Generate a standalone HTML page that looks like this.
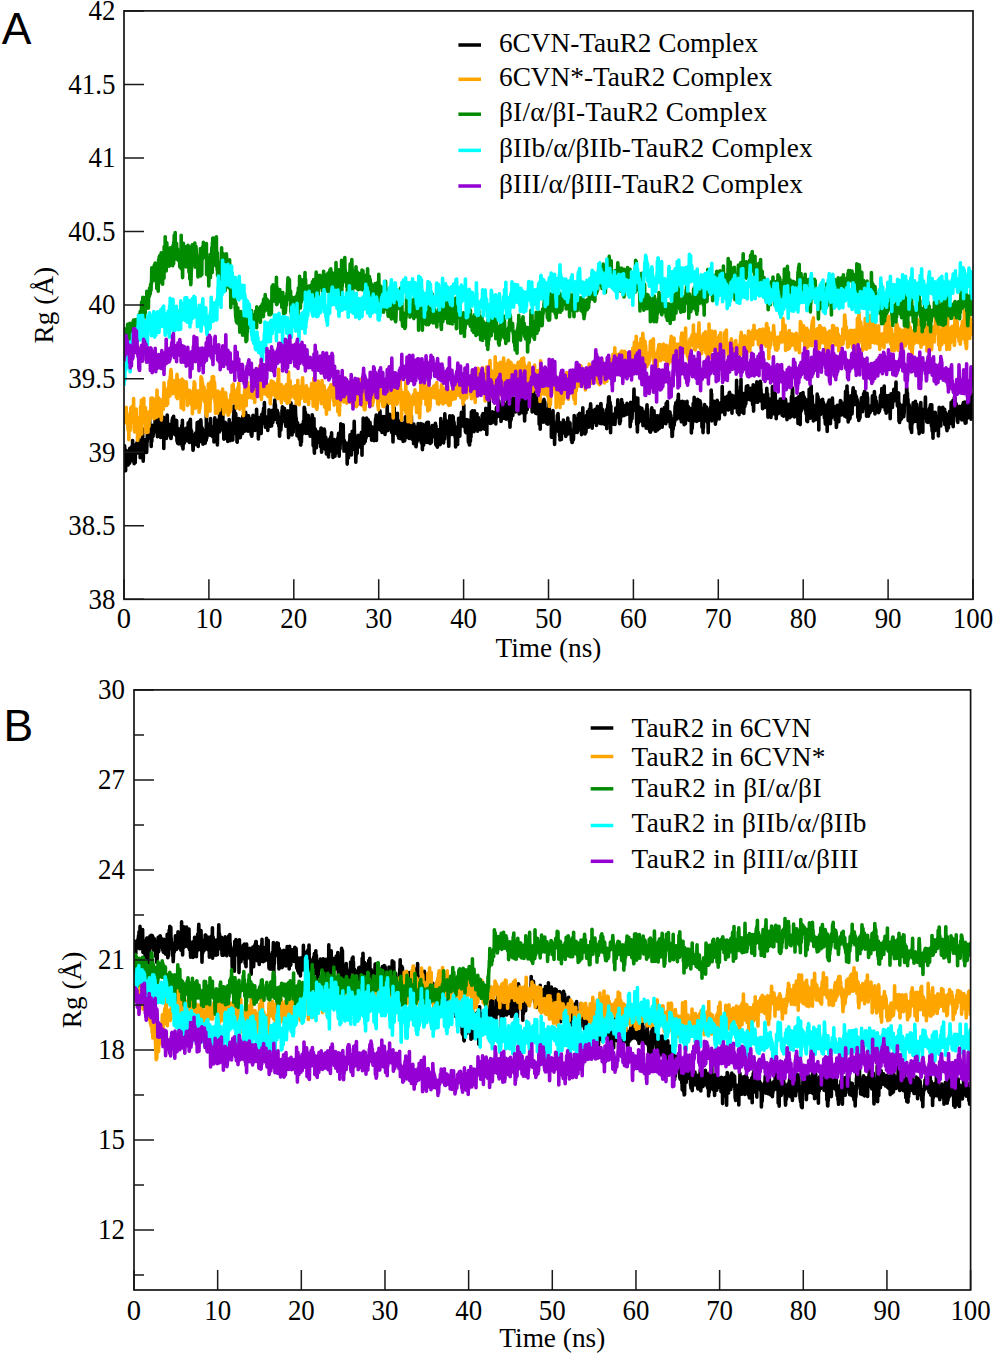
<!DOCTYPE html>
<html><head><meta charset="utf-8"><style>
html,body{margin:0;padding:0;background:#fff;width:995px;height:1354px;overflow:hidden}
svg{display:block}
.t{font-family:"Liberation Serif",serif;font-size:28.6px;fill:#000}
.l{font-family:"Liberation Serif",serif;font-size:27.3px;fill:#000}
.p{font-family:"Liberation Sans",sans-serif;font-size:44.5px;fill:#000}
</style></head><body>
<svg width="995" height="1354" viewBox="0 0 995 1354">
<rect width="995" height="1354" fill="#fff"/>
<clipPath id="clipA"><rect x="124" y="10.9" width="849" height="588.4"/></clipPath>
<g clip-path="url(#clipA)" fill="none" stroke-width="36" stroke-linejoin="round">
<path transform="translate(124 0) scale(.1)" d="M0 4625 l2 82 2 -74 2 -176 2 86 2 -12 2 27 2 18 2 132 2 -127 2 -33 2 -46 2 75 2 -16 2 -24 2 98 2 -66 2 -24 2 15 2 66 2 24 2 -26 2 18 2 -3 2 -25 2 13 2 -52 2 26 2 32 2 -151 2 99 2 -13 2 -36 2 53 2 17 2 -12 2 17 2 -36 2 -103 2 86 2 -7 2 -79 2 56 2 -119 2 205 2 -71 2 24 2 -113 2 -2 2 135 2 -4 2 58 2 -113 2 32 2 -46 2 25 2 92 2 -91 2 -53 2 11 2 -6 2 44 2 -91 2 33 2 13 2 -61 2 30 2 -7 2 81 2 -200 2 146 2 -17 2 -25 2 -56 2 122 2 -69 2 -22 2 33 2 -4 2 68 2 -68 2 139 2 -73 2 23 2 22 2 8 2 -81 2 1 2 23 2 -37 2 -65 2 69 2 20 2 -198 2 198 2 17 2 109 2 -71 2 -25 2 -63 2 -56 2 90 2 24 2 -19 2 32 2 -126 2 31 2 -7 2 88 2 -20 2 -3 2 -72 2 4 2 104 2 -53 2 -73 2 19 2 -108 2 78 2 -17 2 -103 2 -5 2 29 2 17 2 -5 2 27 2 19 2 -63 2 -126 2 166 2 -56 2 33 2 -14 2 26 2 18 2 44 2 88 2 -117 2 -34 2 101 2 -79 2 -33 2 -49 2 38 2 14 2 58 2 -33 2 9 2 -19 2 -5 2 -36 2 0 2 27 2 -47 2 25 2 29 2 -177 2 138 2 29 2 -8 2 11 2 -41 2 27 2 -24 2 -34 2 93 2 -63 2 102 2 -24 2 -5 2 -52 2 -4 2 -83 2 59 2 -137 2 180 2 -74 2 103 2 -24 2 -83 2 68 2 14 2 11 2 59 2 -115 2 32 2 4 2 24 2 -45 2 34 2 -32 2 -43 2 62 2 -4 2 30 2 2 2 29 2 -18 2 -162 2 312 2 -197 2 25 2 -73 2 31 2 -21 2 54 2 -108 2 1 2 59 2 41 2 -42 2 -78 2 207 2 -168 2 27 2 -42 2 -51 2 52 2 42 2 7 2 -13 2 100 2 -3 2 -82 2 -10 2 89 2 -56 2 -9 2 13 2 28 2 55 2 -24 2 2 2 -17 2 61 2 0 2 -20 2 -45 2 -1 2 -64 2 -18 2 -39 2 32 2 -51 2 60 2 -45 2 -15 2 24 2 -39 2 108 2 14 2 -29 2 32 2 -22 2 77 2 -31 2 -96 2 39 2 3 2 -55 2 130 2 -31 2 60 2 -157 2 109 2 98 2 -67 2 -53 2 138 2 -23 2 -55 2 -67 2 41 2 11 2 102 2 -127 2 38 2 59 2 -4 2 -34 2 -53 2 42 2 -1 2 0 2 -23 2 -48 2 75 2 -65 2 -24 2 -23 2 28 2 182 2 -258 2 166 2 -16 2 136 2 -57 2 1 2 -5 2 -57 2 -25 2 85 2 -75 2 30 2 -38 2 -21 2 6 2 8 2 -4 2 -1 2 -53 2 29 2 60 2 -10 2 10 2 35 2 -31 2 29 2 -62 2 -15 2 -18 2 -84 2 93 2 -43 2 94 2 33 2 -31 2 51 2 -135 2 -82 2 85 2 -29 2 -70 2 171 2 -79 2 65 2 -35 2 80 2 -84 2 93 2 4 2 -26 2 16 2 44 2 -6 2 67 2 -8 2 -80 2 -6 2 16 2 -60 2 79 2 -44 2 9 2 -63 2 -1 2 69 2 7 2 -91 2 53 2 46 2 -10 2 27 2 -116 2 60 2 -87 2 -78 2 32 2 120 2 -120 2 55 2 152 2 -126 2 -53 2 -66 2 43 2 -24 2 115 2 -83 2 -57 2 82 2 1 2 41 2 77 2 -216 2 27 2 111 2 -74 2 86 2 17 2 -29 2 -56 2 36 2 36 2 -22 2 113 2 -104 2 31 2 -54 2 34 2 38 2 -20 2 -63 2 14 2 6 2 3 2 104 2 -85 2 10 2 -3 2 -49 2 100 2 -308 2 289 2 -8 2 -92 2 35 2 8 2 25 2 -39 2 -4 2 -18 2 -16 2 -28 2 60 2 40 2 -108 2 11 2 24 2 -18 2 5 2 51 2 -60 2 -68 2 127 2 41 2 -50 2 -41 2 70 2 -56 2 2 2 -6 2 20 2 -23 2 99 2 -30 2 5 2 -4 2 -28 2 -7 2 115 2 -100 2 60 2 -123 2 -79 2 77 2 -1 2 15 2 2 2 91 2 18 2 11 2 18 2 -50 2 -2 2 -21 2 21 2 92 2 -131 2 -118 2 43 2 19 2 39 2 -57 2 11 2 43 2 22 2 -25 2 -160 2 139 2 36 2 -41 2 -118 2 86 2 14 2 -11 2 -43 2 -22 2 -70 2 -10 2 162 2 -78 2 4 2 -86 2 24 2 171 2 -39 2 19 2 -52 2 171 2 -120 2 10 2 -37 2 -13 2 84 2 -43 2 -48 2 75 2 57 2 -28 2 22 2 19 2 -28 2 -5 2 54 2 -96 2 30 2 -10 2 -73 2 173 2 -136 2 83 2 -71 2 20 2 -70 2 87 2 -131 2 117 2 8 2 -46 2 7 2 125 2 -124 2 84 2 -54 2 23 2 -48 2 19 2 -30 2 40 2 -86 2 45 2 -21 2 -26 2 172 2 -175 2 14 2 4 2 -88 2 33 2 -128 2 106 2 -62 2 138 2 -31 2 -1 2 -17 2 114 2 -173 2 8 2 115 2 -5 2 91 2 -68 2 -8 2 150 2 4 2 -86 2 41 2 -57 2 61 2 -93 2 -2 2 9 2 -110 2 67 2 -10 2 99 2 17 2 -7 2 -2 2 29 2 -13 2 -79 2 48 2 -62 2 -43 2 37 2 1 2 -78 2 -1 2 14 2 83 2 49 2 -170 2 13 2 24 2 -20 2 15 2 45 2 43 2 -79 2 37 2 -6 2 77 2 -58 2 -60 2 -18 2 -54 2 77 2 78 2 27 2 -31 2 -65 2 -34 2 -22 2 22 2 55 2 -24 2 28 2 79 2 -109 2 10 2 -57 2 53 2 -30 2 57 2 -33 2 -22 2 3 2 3 2 28 2 2 2 -16 2 95 2 17 2 34 2 -15 2 21 2 8 2 -26 2 -34 2 -14 2 -30 2 -45 2 -60 2 21 2 16 2 30 2 -16 2 31 2 -64 2 47 2 60 2 -44 2 70 2 -114 2 47 2 -68 2 61 2 -35 2 5 2 -30 2 -77 2 111 2 65 2 -102 2 59 2 -56 2 30 2 12 2 68 2 109 2 -132 2 90 2 -110 2 40 2 -67 2 -7 2 72 2 -38 2 67 2 -128 2 55 2 44 2 20 2 39 2 -149 2 -39 2 13 2 14 2 -32 2 65 2 27 2 -75 2 73 2 -119 2 91 2 -121 2 14 2 54 2 58 2 -183 2 187 2 -36 2 51 2 7 2 37 2 -46 2 -58 2 17 2 40 2 27 2 -14 2 -14 2 -14 2 51 2 -64 2 50 2 59 2 -84 2 9 2 -3 2 -2 2 -12 2 -114 2 115 2 38 2 -48 2 2 2 45 2 11 2 -73 2 28 2 17 2 -39 2 11 2 53 2 0 2 -40 2 -36 2 -79 2 16 2 89 2 15 2 -92 2 16 2 0 2 -9 2 9 2 -39 2 88 2 -158 2 40 2 -79 2 72 2 59 2 -85 2 89 2 1 2 -5 2 7 2 -14 2 -23 2 16 2 79 2 -94 2 95 2 33 2 -42 2 -62 2 49 2 -12 2 31 2 67 2 -41 2 -22 2 91 2 74 2 -109 2 8 2 -81 2 103 2 -8 2 24 2 -23 2 -37 2 5 2 -19 2 -31 2 -95 2 113 2 -146 2 98 2 -25 2 21 2 -36 2 -29 2 62 2 -33 2 -35 2 44 2 -50 2 107 2 -35 2 19 2 48 2 -7 2 -36 2 81 2 -67 2 62 2 -60 2 -48 2 17 2 -39 2 41 2 -10 2 29 2 -79 2 74 2 -8 2 139 2 64 2 -153 2 -31 2 23 2 86 2 -87 2 -37 2 42 2 -6 2 55 2 -68 2 86 2 -259 2 136 2 -17 2 20 2 51 2 133 2 -131 2 21 2 -108 2 23 2 10 2 157 2 -171 2 18 2 -15 2 19 2 -109 2 73 2 6 2 -27 2 25 2 -66 2 -9 2 82 2 15 2 71 2 -53 2 48 2 27 2 -3 2 105 2 -115 2 35 2 -50 2 57 2 -11 2 26 2 -47 2 113 2 -92 2 21 2 14 2 83 2 -52 2 -2 2 -27 2 4 2 74 2 60 2 1 2 -146 2 -53 2 170 2 -108 2 -58 2 79 2 10 2 -17 2 -2 2 -30 2 -19 2 -11 2 -51 2 40 2 -17 2 -9 2 -156 2 123 2 -112 2 61 2 2 2 37 2 -61 2 83 2 130 2 -164 2 85 2 4 2 -70 2 66 2 36 2 -16 2 -19 2 76 2 -157 2 71 2 -95 2 96 2 42 2 48 2 -84 2 20 2 -6 2 -58 2 1 2 88 2 62 2 -123 2 52 2 -16 2 -14 2 -10 2 -70 2 48 2 56 2 -36 2 -100 2 13 2 182 2 -42 2 37 2 119 2 -195 2 35 2 128 2 -240 2 292 2 55 2 -149 2 -1 2 9 2 -103 2 118 2 -69 2 81 2 22 2 -132 2 169 2 -146 2 30 2 24 2 -49 2 90 2 -15 2 12 2 -6 2 -21 2 -2 2 10 2 4 2 -49 2 -40 2 75 2 -74 2 17 2 27 2 -34 2 89 2 49 2 -146 2 -41 2 87 2 -86 2 241 2 -186 2 -4 2 52 2 96 2 -7 2 -30 2 -143 2 29 2 9 2 102 2 -35 2 46 2 -161 2 83 2 -68 2 185 2 -125 2 5 2 37 2 51 2 -87 2 126 2 -43 2 85 2 -49 2 -35 2 40 2 -43 2 36 2 -61 2 33 2 -21 2 -39 2 62 2 106 2 -167 2 68 2 46 2 2 2 -106 2 84 2 -33 2 -80 2 48 2 -31 2 -34 2 31 2 4 2 9 2 -81 2 103 2 22 2 -42 2 73 2 0 2 -22 2 112 2 -106 2 -56 2 15 2 53 2 -5 2 -68 2 -12 2 11 2 96 2 60 2 -55 2 -56 2 85 2 -84 2 -16 2 62 2 1 2 28 2 -77 2 17 2 -6 2 7 2 24 2 -105 2 -16 2 52 2 -58 2 -32 2 7 2 27 2 195 2 -129 2 -20 2 -7 2 83 2 -57 2 -97 2 26 2 -124 2 71 2 -2 2 99 2 -46 2 -88 2 99 2 -20 2 -25 2 67 2 -94 2 64 2 -115 2 118 2 61 2 -30 2 116 2 -111 2 43 2 -29 2 38 2 11 2 9 2 -11 2 21 2 11 2 -68 2 52 2 -42 2 37 2 -15 2 2 2 180 2 -165 2 -1 2 -32 2 74 2 -20 2 82 2 -62 2 -4 2 -35 2 -53 2 64 2 -88 2 11 2 -65 2 16 2 6 2 41 2 -54 2 74 2 24 2 95 2 -94 2 -15 2 42 2 -168 2 93 2 -15 2 30 2 -69 2 139 2 -90 2 71 2 -2 2 -76 2 -181 2 97 2 63 2 44 2 -5 2 73 2 -7 2 12 2 131 2 -101 2 -32 2 -30 2 82 2 -38 2 -89 2 117 2 -90 2 34 2 -90 2 29 2 -61 2 51 2 -49 2 1 2 100 2 -28 2 -53 2 16 2 -20 2 98 2 -72 2 -42 2 9 2 42 2 -41 2 -24 2 -17 2 8 2 46 2 174 2 -218 2 45 2 -49 2 60 2 23 2 -233 2 212 2 4 2 23 2 15 2 -88 2 -29 2 20 2 60 2 -22 2 41 2 -173 2 84 2 57 2 -3 2 -30 2 -39 2 -131 2 140 2 16 2 -27 2 2 2 -77 2 72 2 1 2 -109 2 152 2 -23 2 -68 2 52 2 43 2 -49 2 22 2 -67 2 -39 2 63 2 47 2 -43 2 61 2 -85 2 50 2 -21 2 108 2 -39 2 -3 2 -17 2 -72 2 99 2 -5 2 -6 2 -47 2 8 2 -16 2 88 2 -27 2 42 2 -106 2 32 2 -24 2 -18 2 80 2 -143 2 -39 2 26 2 -31 2 -34 2 254 2 -161 2 31 2 -24 2 -31 2 -33 2 44 2 43 2 -88 2 61 2 -25 2 25 2 -20 2 67 2 -82 2 49 2 -124 2 86 2 -114 2 101 2 31 2 -5 2 70 2 -71 2 -14 2 20 2 33 2 -48 2 99 2 -60 2 -50 2 34 2 -83 2 88 2 -71 2 12 2 -4 2 -16 2 29 2 -37 2 16 2 21 2 119 2 22 2 -97 2 -63 2 57 2 -13 2 -15 2 36 2 38 2 -46 2 59 2 8 2 -273 2 224 2 19 2 -21 2 4 2 44 2 -85 2 -25 2 24 2 -65 2 4 2 100 2 -6 2 -108 2 84 2 -81 2 48 2 24 2 3 2 -16 2 60 2 -74 2 49 2 85 2 -73 2 38 2 0 2 -62 2 45 2 146 2 -145 2 46 2 -122 2 45 2 -10 2 -156 2 216 2 23 2 17 2 -73 2 18 2 -37 2 -9 2 21 2 -44 2 19 2 59 2 -59 2 -5 2 57 2 -30 2 -119 2 199 2 17 2 -94 2 107 2 -72 2 32 2 61 2 -173 2 54 2 -33 2 104 2 50 2 -26 2 -123 2 89 2 -94 2 2 2 2 2 56 2 -41 2 140 2 -86 2 -46 2 48 2 -67 2 74 2 3 2 5 2 94 2 -116 2 -67 2 117 2 -57 2 110 2 -42 2 48 2 -7 2 -96 2 -15 2 -121 2 143 2 -83 2 43 2 16 2 -16 2 44 2 -113 2 73 2 -26 2 37 2 85 2 -16 2 -19 2 -110 2 7 2 13 2 111 2 27 2 -2 2 -91 2 55 2 -16 2 -48 2 24 2 5 2 -32 2 -21 2 -62 2 0 2 -37 2 162 2 -21 2 93 2 -35 2 -52 2 -16 2 48 2 23 2 -40 2 21 2 94 2 -195 2 34 2 112 2 -4 2 -66 2 -51 2 43 2 67 2 -40 2 45 2 -11 2 98 2 -19 2 -29 2 9 2 -59 2 48 2 -75 2 -69 2 33 2 33 2 5 2 -109 2 127 2 37 2 0 2 -57 2 -42 2 83 2 -31 2 41 2 -50 2 -22 2 77 2 -51 2 -113 2 71 2 26 2 97 2 -49 2 -36 2 49 2 -45 2 148 2 -120 2 -132 2 139 2 23 2 10 2 37 2 -122 2 -64 2 61 2 35 2 -38 2 85 2 11 2 -113 2 -52 2 100 2 61 2 -8 2 -95 2 -84 2 142 2 -3 2 55 2 -102 2 -100 2 53 2 125 2 -110 2 -32 2 -35 2 116 2 -6 2 67 2 16 2 -51 2 47 2 -18 2 41 2 -24 2 12 2 -9 2 -22 2 34 2 -6 2 1 2 -61 2 19 2 -99 2 -24 2 49 2 -17 2 -31 2 69 2 -32 2 33 2 38 2 -81 2 28 2 6 2 -68 2 7 2 45 2 -28 2 19 2 -60 2 74 2 139 2 -188 2 148 2 22 2 30 2 -22 2 -62 2 -30 2 127 2 -38 2 9 2 -122 2 57 2 5 2 -25 2 -15 2 -18 2 -29 2 129 2 -50 2 -55 2 15 2 112 2 -159 2 42 2 -144 2 88 2 2 2 -28 2 118 2 0 2 -93 2 -54 2 118 2 -53 2 28 2 20 2 -20 2 43 2 76 2 -111 2 -44 2 -31 2 40 2 107 2 -254 2 52 2 20 2 23 2 -23 2 -10 2 59 2 64 2 9 2 -120 2 30 2 -11 2 23 2 52 2 -44 2 36 2 35 2 2 2 32 2 58 2 39 2 -110 2 -4 2 -129 2 58 2 -121 2 158 2 32 2 -20 2 8 2 -7 2 -101 2 22 2 30 2 -33 2 70 2 -145 2 91 2 -104 2 75 2 55 2 56 2 -178 2 72 2 -18 2 81 2 -80 2 34 2 5 2 0 2 71 2 -65 2 110 2 -86 2 180 2 -152 2 -6 2 -27 2 133 2 -75 2 -11 2 -10 2 40 2 66 2 17 2 -165 2 94 2 -43 2 -78 2 -71 2 156 2 -14 2 4 2 -47 2 39 2 43 2 -82 2 -94 2 15 2 3 2 62 2 -63 2 -40 2 -40 2 37 2 -19 2 50 2 -2 2 -30 2 -37 2 78 2 -47 2 44 2 -77 2 -17 2 -55 2 156 2 64 2 -28 2 -18 2 -20 2 38 2 -36 2 111 2 -73 2 79 2 4 2 -24 2 -16 2 -6 2 -84 2 22 2 57 2 -30 2 9 2 -29 2 -24 2 129 2 92 2 -88 2 -23 2 10 2 25 2 104 2 0 2 -203 2 109 2 -63 2 119 2 -117 2 -3 2 79 2 -176 2 -77 2 108 2 -34 2 104 2 -128 2 -61 2 96 2 -23 2 -14 2 20 2 29 2 -43 2 -22 2 168 2 -117 2 -93 2 113 2 -37 2 -45 2 42 2 -43 2 86 2 -4 2 16 2 11 2 18 2 34 2 -80 2 -80 2 88 2 29 2 55 2 -116 2 -21 2 57 2 -55 2 53 2 8 2 -24 2 1 2 10 2 -18 2 0 2 35 2 -29 2 24 2 -11 2 73 2 -65 2 14 2 -4 2 0 2 43 2 -42 2 -90 2 31 2 21 2 2 2 -73 2 57 2 11 2 -42 2 47 2 -24 2 -45 2 80 2 72 2 -8 2 -37 2 32 2 9 2 -44 2 -160 2 61 2 53 2 -64 2 11 2 201 2 -164 2 23 2 -80 2 27 2 -38 2 63 2 -28 2 -18 2 56 2 -75 2 72 2 -187 2 127 2 11 2 95 2 4 2 -30 2 -10 2 -38 2 47 2 -11 2 40 2 -52 2 -24 2 67 2 -26 2 30 2 -107 2 60 2 0 2 11 2 -6 2 -44 2 55 2 -5 2 -32 2 -30 2 6 2 17 2 -7 2 -4 2 29 2 37 2 7 2 26 2 -120 2 25 2 -61 2 -8 2 74 2 -34 2 7 2 44 2 -21 2 11 2 -41 2 6 2 -108 2 29 2 -35 2 24 2 57 2 13 2 21 2 -15 2 -10 2 39 2 22 2 16 2 -42 2 83 2 -10 2 -122 2 -26 2 44 2 -24 2 36 2 31 2 -14 2 -14 2 -7 2 -106 2 149 2 -16 2 20 2 27 2 -93 2 2 2 -50 2 49 2 -42 2 14 2 2 2 9 2 63 2 54 2 -133 2 32 2 54 2 -64 2 -27 2 39 2 -72 2 -15 2 74 2 -29 2 50 2 50 2 -92 2 125 2 -78 2 63 2 44 2 2 2 -13 2 70 2 -73 2 19 2 -125 2 26 2 -25 2 101 2 -58 2 -89 2 34 2 -54 2 21 2 -58 2 73 2 92 2 -117 2 -61 2 145 2 -74 2 19 2 39 2 -43 2 36 2 -5 2 -2 2 -9 2 -18 2 45 2 10 2 -30 2 -108 2 66 2 42 2 -28 2 -24 2 39 2 -90 2 60 2 -43 2 -24 2 94 2 -21 2 36 2 -80 2 1 2 -22 2 151 2 -107 2 103 2 -102 2 3 2 60 2 -4 2 -75 2 29 2 24 2 -24 2 -18 2 25 2 25 2 -147 2 105 2 91 2 -90 2 32 2 -41 2 -8 2 36 2 -61 2 81 2 -21 2 -10 2 -20 2 185 2 -84 2 -134 2 104 2 -78 2 36 2 -31 2 106 2 -85 2 17 2 -4 2 -12 2 -68 2 120 2 -144 2 75 2 -73 2 -4 2 -5 2 79 2 -70 2 52 2 -7 2 -37 2 -127 2 45 2 81 2 -52 2 53 2 -32 2 128 2 -68 2 -14 2 40 2 -26 2 83 2 -17 2 3 2 59 2 -78 2 -135 2 65 2 -26 2 -28 2 51 2 -57 2 -90 2 249 2 -60 2 93 2 -34 2 -24 2 30 2 28 2 2 2 26 2 -50 2 -28 2 -96 2 179 2 -77 2 59 2 -36 2 8 2 10 2 -82 2 114 2 -14 2 -37 2 0 2 -13 2 24 2 -40 2 191 2 -184 2 -69 2 98 2 -50 2 255 2 -132 2 -36 2 -112 2 122 2 -70 2 -1 2 -45 2 64 2 6 2 -55 2 -2 2 97 2 35 2 -143 2 201 2 -131 2 -11 2 -3 2 -83 2 109 2 19 2 7 2 -111 2 200 2 -38 2 -38 2 55 2 10 2 -116 2 107 2 33 2 -10 2 -25 2 35 2 -54 2 -24 2 -48 2 136 2 -49 2 28 2 -51 2 -10 2 -26 2 -95 2 -24 2 139 2 66 2 -58 2 28 2 31 2 -14 2 21 2 -48 2 30 2 -54 2 218 2 -49 2 -57 2 19 2 -75 2 151 2 -155 2 35 2 -137 2 120 2 21 2 -2 2 -15 2 44 2 -28 2 69 2 131 2 -147 2 42 2 -73 2 18 2 -1 2 14 2 2 2 -14 2 -8 2 -47 2 38 2 -38 2 -29 2 -50 2 8 2 96 2 -120 2 41 2 137 2 -96 2 3 2 73 2 24 2 -74 2 119 2 -138 2 175 2 -96 2 -2 2 -7 2 -63 2 70 2 -58 2 150 2 -114 2 46 2 -62 2 -9 2 14 2 59 2 -51 2 55 2 -88 2 -43 2 60 2 -42 2 43 2 -41 2 52 2 -14 2 -21 2 14 2 9 2 -16 2 24 2 95 2 -69 2 -50 2 25 2 16 2 -42 2 -6 2 -12 2 27 2 89 2 -162 2 121 2 -87 2 12 2 -7 2 9 2 -8 2 45 2 -4 2 74 2 -98 2 -7 2 108 2 -9 2 -35 2 13 2 2 2 38 2 57 2 -65 2 23 2 63 2 -15 2 12 2 -48 2 -54 2 15 2 -15 2 77 2 -49 2 -47 2 -4 2 -141 2 112 2 38 2 -111 2 63 2 -28 2 -17 2 110 2 -96 2 70 2 -32 2 -37 2 -7 2 96 2 -35 2 36 2 5 2 -144 2 27 2 6 2 -64 2 117 2 -6 2 40 2 -1 2 -96 2 79 2 -148 2 56 2 75 2 -99 2 79 2 -26 2 23 2 -9 2 -51 2 37 2 128 2 -159 2 -28 2 -26 2 78 2 -48 2 -85 2 99 2 58 2 -66 2 18 2 20 2 -6 2 46 2 -9 2 54 2 -32 2 79 2 -72 2 18 2 -44 2 -31 2 112 2 -126 2 -41 2 29 2 55 2 -33 2 -29 2 8 2 -70 2 10 2 59 2 -4 2 68 2 23 2 -41 2 -83 2 9 2 -65 2 6 2 24 2 60 2 -77 2 -15 2 -50 2 31 2 82 2 -19 2 42 2 -66 2 19 2 20 2 134 2 -133 2 -6 2 66 2 -49 2 -19 2 82 2 -40 2 -29 2 -24 2 -30 2 36 2 80 2 3 2 -57 2 -46 2 -22 2 108 2 -31 2 46 2 -15 2 53 2 -4 2 -47 2 -44 2 -8 2 -89 2 90 2 2 2 -24 2 69 2 14 2 -40 2 45 2 -26 2 -36 2 -39 2 47 2 49 2 -12 2 33 2 -68 2 -13 2 -119 2 2 2 151 2 -58 2 -8 2 114 2 -71 2 -75 2 55 2 2 2 30 2 -14 2 61 2 -32 2 -54 2 61 2 37 2 -9 2 -13 2 -14 2 44 2 -32 2 -52 2 12 2 21 2 -53 2 23 2 -65 2 139 2 -131 2 182 2 -159 2 -44 2 45 2 -12 2 -65 2 -10 2 152 2 -165 2 -59 2 67 2 35 2 -106 2 74 2 8 2 50 2 -79 2 26 2 90 2 191 2 -268 2 113 2 -7 2 23 2 -40 2 54 2 -12 2 -32 2 12 2 30 2 -29 2 -1 2 73 2 -90 2 70 2 -61 2 -22 2 67 2 -19 2 12 2 -54 2 98 2 -53 2 -19 2 -2 2 -89 2 53 2 -10 2 -9 2 43 2 7 2 -50 2 -17 2 -5 2 -22 2 -72 2 111 2 -9 2 -6 2 62 2 -18 2 45 2 -46 2 80 2 18 2 0 2 -137 2 -31 2 148 2 -159 2 -14 2 24 2 54 2 43 2 -168 2 78 2 -34 2 98 2 -111 2 43 2 3 2 16 2 -36 2 66 2 -59 2 54 2 42 2 -13 2 -7 2 -24 2 -1 2 -8 2 -46 2 52 2 39 2 -32 2 -38 2 48 2 18 2 -17 2 -9 2 -85 2 18 2 0 2 28 2 11 2 6 2 -2 2 0 2 -20 2 68 2 1 2 -30 2 28 2 -80 2 77 2 21 2 108 2 -69 2 -176 2 107 2 88 2 -144 2 39 2 -41 2 31 2 85 2 -54 2 -58 2 17 2 -61 2 48 2 -47 2 72 2 -70 2 -58 2 -86 2 168 2 -6 2 8 2 44 2 -41 2 -92 2 19 2 10 2 55 2 -15 2 73 2 17 2 79 2 37 2 -25 2 -27 2 125 2 -118 2 -221 2 209 2 -7 2 48 2 -130 2 117 2 -55 2 39 2 -52 2 60 2 -137 2 96 2 -84 2 126 2 -83 2 49 2 -59 2 37 2 -42 2 3 2 -32 2 117 2 -66 2 -28 2 76 2 20 2 54 2 -16 2 11 2 -24 2 -12 2 9 2 -4 2 -95 2 3 2 -7 2 47 2 -35 2 59 2 -9 2 -31 2 6 2 124 2 -142 2 -57 2 25 2 -61 2 68 2 81 2 -106 2 39 2 49 2 59 2 31 2 2 2 4 2 17 2 -74 2 49 2 27 2 23 2 -42 2 -71 2 118 2 -91 2 -31 2 71 2 -63 2 90 2 2 2 -220 2 184 2 -64 2 -40 2 99 2 -51 2 36 2 -96 2 -1 2 49 2 -21 2 -67 2 58 2 10 2 -13 2 24 2 -31 2 158 2 -148 2 -2 2 88 2 60 2 -7 2 -18 2 -15 2 24 2 -81 2 61 2 -107 2 -10 2 139 2 -14 2 -62 2 -35 2 65 2 -30 2 -12 2 -26 2 40 2 59 2 -56 2 -36 2 -20 2 73 2 -90 2 99 2 -113 2 6 2 -23 2 -28 2 138 2 13 2 26 2 -80 2 50 2 -64 2 11 2 11 2 -60 2 -31 2 40 2 17 2 1 2 -91 2 23 2 25 2 66 2 -53 2 -39 2 90 2 50 2 -14 2 -191 2 73 2 -25 2 50 2 -29 2 -24 2 -62 2 199 2 -53 2 -38 2 44 2 -24 2 -21 2 -6 2 29 2 -27 2 13 2 47 2 14 2 -71 2 113 2 36 2 -35 2 -84 2 37 2 -12 2 94 2 -29 2 -3 2 127 2 -103 2 101 2 -101 2 -8 2 -2 2 41 2 -58 2 12 2 -11 2 -34 2 50 2 -65 2 10 2 18 2 -127 2 -26 2 -8 2 53 2 -78 2 29 2 87 2 -29 2 2 2 4 2 67 2 -154 2 -29 2 104 2 -69 2 43 2 -102 2 -38 2 189 2 -35 2 -41 2 19 2 56 2 -118 2 128 2 -60 2 46 2 -21 2 84 2 -57 2 34 2 24 2 26 2 -26 2 -4 2 -11 2 -133 2 -30 2 54 2 -43 2 31 2 64 2 -62 2 83 2 22 2 -146 2 230 2 -107 2 18 2 -51 2 23 2 -95 2 202 2 -105 2 -55 2 23 2 -41 2 61 2 -30 2 -54 2 -23 2 113 2 -35 2 37 2 5 2 -47 2 49 2 3 2 -71 2 69 2 69 2 -52 2 -40 2 19 2 63 2 -31 2 -72 2 37 2 42 2 42 2 -101 2 -25 2 243 2 -220 2 14 2 95 2 65 2 -56 2 -49 2 17 2 25 2 -185 2 108 2 63 2 -33 2 -104 2 -98 2 56 2 -19 2 -3 2 106 2 25 2 -57 2 -19 2 -29 2 100 2 -62 2 81 2 64 2 -85 2 12 2 -26 2 -39 2 -84 2 158 2 -155 2 136 2 -5 2 78 2 -75 2 4 2 27 2 19 2 -59 2 -89 2 -23 2 28 2 -13 2 10 2 67 2 9 2 -8 2 -4 2 61 2 -29 2 141 2 -147 2 -8 2 19 2 -48 2 239 2 -100 2 53 2 -120 2 47 2 -28 2 -77 2 26 2 -82 2 129 2 -60 2 54 2 -31 2 -1 2 21 2 47 2 -132 2 -2 2 26 2 76 2 -31 2 -44 2 128 2 -98 2 77 2 -1 2 124 2 -189 2 52 2 -23 2 -46 2 31 2 -50 2 53 2 7 2 -42 2 -21 2 -26 2 19 2 13 2 -16 2 -188 2 120 2 -83 2 272 2 -110 2 -61 2 12 2 -10 2 45 2 -33 2 21 2 -55 2 45 2 78 2 29 2 -159 2 109 2 -65 2 64 2 64 2 -47 2 105 2 -82 2 -43 2 94 2 -125 2 31 2 -12 2 -61 2 36 2 -76 2 104 2 -89 2 49 2 -20 2 40 2 -13 2 50 2 44 2 -26 2 46 2 -44 2 -68 2 -35 2 -7 2 -2 2 40 2 -12 2 45 2 -43 2 -41 2 98 2 -80 2 -10 2 15 2 -179 2 125 2 73 2 -101 2 127 2 30 2 -137 2 56 2 2 2 71 2 3 2 -56 2 -26 2 113 2 -47 2 -57 2 60 2 -14 2 -116 2 56 2 38 2 -3 2 -36 2 -51 2 48 2 -61 2 54 2 34 2 -65 2 53 2 53 2 7 2 -111 2 -27 2 67 2 -101 2 53 2 -56 2 50 2 30 2 34 2 -85 2 100 2 16 2 -2 2 25 2 -1 2 -26 2 -102 2 170 2 -179 2 110 2 18 2 -21 2 4 2 -22 2 21 2 -70 2 48 2 16 2 -20 2 -40 2 79 2 -91 2 -25 2 83 2 -11 2 -39 2 47 2 -16 2 -14 2 -16 2 -191 2 171 2 30 2 -56 2 177 2 -207 2 29 2 24 2 -60 2 108 2 -51 2 86 2 93 2 -149 2 11 2 -81 2 196 2 -91 2 -50 2 -13 2 -108 2 229 2 -299 2 247 2 -72 2 151 2 -156 2 19 2 12 2 29 2 23 2 -113 2 72 2 46 2 -37 2 24 2 96 2 -79 2 7 2 -90 2 36 2 58 2 -14 2 -81 2 37 2 19 2 9 2 -105 2 -32 2 -35 2 118 2 -68 2 57 2 -24 2 51 2 -131 2 -10 2 124 2 0 2 -3 2 2 2 -93 2 0 2 38 2 11 2 10 2 46 2 -27 2 -26 2 60 2 -25 2 -92 2 98 2 -13 2 14 2 -18 2 35 2 -43 2 -12 2 8 2 86 2 12 2 -91 2 -110 2 170 2 93 2 -145 2 -36 2 84 2 -32 2 14 2 26 2 -75 2 48 2 -21 2 48 2 -43 2 -19 2 6 2 -52 2 57 2 -152 2 158 2 -30 2 -23 2 98 2 -17 2 -139 2 26 2 -14 2 0 2 31 2 59 2 -8 2 27 2 20 2 -11 2 -92 2 -91 2 108 2 -98 2 62 2 11 2 46 2 67 2 -47 2 45 2 -26 2 46 2 -15 2 76 2 -139 2 43 2 -27 2 -12 2 15 2 9 2 50 2 -49 2 79 2 -53 2 59 2 12 2 -59 2 21 2 -78 2 11 2 35 2 -41 2 -31 2 17 2 -67 2 60 2 10 2 92 2 -107 2 113 2 122 2 -55 2 -24 2 -13 2 21 2 18 2 -133 2 84 2 -36 2 -2 2 42 2 -41 2 9 2 34 2 34 2 63 2 -143 2 -1 2 51 2 -55 2 -11 2 58 2 -208 2 16 2 110 2 57 2 -114 2 38 2 -90 2 141 2 -48 2 164 2 -20 2 -148 2 -19 2 45 2 -61 2 55 2 18 2 15 2 19 2 145 2 -108 2 1 2 -10 2 -23 2 -32 2 31 2 -8 2 -9 2 62 2 -4 2 50 2 -86 2 34 2 39 2 -27 2 29 2 -62 2 24 2 -49 2 -50 2 79 2 11 2 -2 2 -14 2 32 2 -61 2 -44 2 67 2 53 2 42 2 -72 2 27 2 -51 2 -25 2 3 2 97 2 30 2 -147 2 15 2 -35 2 -5 2 33 2 22 2 -7 2 -44 2 -2 2 6 2 27 2 116 2 -5 2 -40 2 58 2 -84 2 128 2 -85 2 15 2 -69 2 9 2 2 2 -25 2 68 2 -69 2 55 2 29 2 21 2 -19 2 14 2 33 2 -51 2 23 2 -94 2 -16 2 18 2 43 2 65 2 -195 2 97 2 -13 2 -101 2 -11 2 -31 2 -31 2 121 2 -29 2 18 2 42 2 108 2 -137 2 94 2 64 2 8 2 -84 2 14 2 -74 2 106 2 -117 2 57 2 24 2 -7 2 16 2 -5 2 -116 2 48 2 71 2 -102 2 50 2 21 2 45 2 119 2 -139 2 -90 2 -38 2 49 2 -49 2 45 2 -6 2 -2 2 7 2 0 2 234 2 -231 2 -77 2 52 2 36 2 87 2 -110 2 64 2 4 2 -71 2 -58 2 32 2 10 2 39 2 -97 2 94 2 -6 2 61 2 -113 2 70 2 27 2 -83 2 34 2 62 2 5 2 22 2 -38 2 -22 2 -43 2 141 2 -9 2 -54 2 -1 2 136 2 -74 2 -84 2 100 2 66 2 -130 2 -84 2 29 2 50 2 101 2 -173 2 33 2 -150 2 65 2 49 2 -56 2 63 2 169 2 -217 2 -36 2 30 2 -63 2 -36 2 178 2 77 2 -128 2 72 2 -102 2 61 2 11 2 14 2 69 2 12 2 84 2 -26 2 -71 2 14 2 -4 2 -20 2 75 2 -20 2 -100 2 16 2 -5 2 130 2 -12 2 -61 2 50 2 -57 2 -11 2 -6 2 -87 2 -73 2 163 2 -116 2 178 2 -200 2 109 2 78 2 -157 2 303 2 -218 2 -77 2 112 2 -82 2 -24 2 82 2 -90 2 91 2 52 2 -62 2 -6 2 -18 2 -50 2 26 2 -16 2 32 2 11 2 19 2 -87 2 36 2 59 2 -14 2 -50 2 109 2 -86 2 34 2 43 2 54 2 -23 2 -81 2 69 2 73 2 23 2 -62 2 37 2 -72 2 -67 2 35 2 3 2 -66 2 152 2 114 2 -178 2 -58 2 53 2 -46 2 -27 2 -37 2 110 2 -85 2 35 2 -81 2 47 2 79 2 -3 2 24 2 -33 2 123 2 -119 2 -46 2 -10 2 44 2 74 2 -102 2 75 2 -4 2 -73 2 -95 2 54 2 67 2 4 2 53 2 -14 2 -6 2 14 2 0 2 -14 2 -66 2 -3 2 8 2 46 2 74 2 -97 2 -10 2 72 2 -1 2 18 2 95 2 -29 2 -105 2 41 2 -130 2 94 2 -17 2 33 2 -37 2 17 2 40 2 -107 2 143 2 -96 2 5 2 1 2 -46 2 12 2 -54 2 12 2 -46 2 56 2 10 2 -60 2 89 2 49 2 -20 2 -30 2 21 2 -23 2 9 2 -18 2 -4 2 4 2 18 2 8 2 -53 2 19 2 -11 2 29 2 -66 2 -4 2 132 2 -99 2 4 2 -74 2 -79 2 77 2 -38 2 59 2 42 2 120 2 -220 2 -93 2 111 2 -54 2 179 2 13 2 -3 2 113 2 -109 2 -43 2 -29 2 101 2 0 2 -122 2 175 2 -40 2 31 2 -37 2 -87 2 47 2 -148 2 171 2 -137 2 125 2 -54 2 13 2 64 2 -49 2 -66 2 -4 2 -92 2 -33 2 -19 2 75 2 91 2 -85 2 40 2 -31 2 79 2 -41 2 -38 2 -53 2 114 2 -77 2 84 2 -81 2 79 2 -10 2 -55 2 32 2 34 2 -43 2 11 2 6 2 9 2 156 2 -130 2 63 2 6 2 37 2 56 2 -69 2 -38 2 95 2 -76 2 -34 2 94 2 -104 2 35 2 -40 2 -12 2 28 2 -44 2 -61 2 75 2 53 2 -76 2 42 2 5 2 39 2 -49 2 13 2 -43 2 -21 2 -78 2 93 2 -102 2 28 2 8 2 -54 2 21 2 86 2 46 2 -61 2 80 2 -96 2 5 2 -44 2 33 2 181 2 -164 2 -67 2 40 2 17 2 -13 2 97 2 79 2 -46 2 57 2 -102 2 83 2 -14 2 6 2 -69 2 32 2 26 2 -32 2 30 2 -29 2 -7 2 22 2 -51 2 17 2 -17 2 7 2 12 2 25 2 -61 2 -82 2 33 2 14 2 11 2 35 2 -44 2 -32 2 -9 2 92 2 -39 2 -104 2 139 2 6 2 78 2 -46 2 -122 2 111 2 -11 2 -18 2 -45 2 9 2 71 2 -45 2 48 2 -25 2 26 2 -7 2 -6 2 -13 2 -3 2 8 2 55 2 -25 2 -15 2 28 2 -7 2 -46 2 36 2 -37 2 12 2 -115 2 77 2 -81 2 -5 2 45 2 39 2 -18 2 -128 2 104 2 -87 2 61 2 104 2 -64 2 10 2 -52 2 -33 2 94 2 -45 2 -7 2 -110 2 137 2 -37 2 9 2 77 2 55 2 -8 2 -142 2 85 2 -14 2 110 2 -124 2 66 2 -57 2 13 2 64 2 -7 2 -23 2 -58 2 -8 2 10 2 -53 2 49 2 -6 2 -33 2 152 2 -70 2 -76 2 93 2 -16 2 137 2 -128 2 -101 2 3 2 -22 2 121 2 -44 2 57 2 -9 2 2 2 -14 2 24 2 -58 2 14 2 -74 2 -13 2 18 2 -27 2 -42 2 62 2 15 2 -39 2 -13 2 77 2 10 2 -31 2 -8 2 26 2 -103 2 -68 2 173 2 -30 2 -10 2 -24 2 30 2 39 2 60 2 -37 2 -94 2 72 2 22 2 -11 2 -80 2 180 2 100 2 -181 2 182 2 12 2 -46 2 14 2 5 2 -14 2 -25 2 38 2 -64 2 -66 2 57 2 62 2 -132 2 25 2 9 2 16 2 39 2 -19 2 -22 2 6 2 5 2 16 2 38 2 -29 2 -14 2 -92 2 -41 2 -34 2 68 2 -64 2 -1 2 27 2 53 2 -14 2 -51 2 49 2 -145 2 1 2 59 2 31 2 -41 2 75 2 27 2 -38 2 214 2 -114 2 14 2 -62 2 70 2 -63 2 25 2 72 2 -10 2 -5 2 -5 2 150 2 11 2 -36 2 -33 2 88 2 -25 2 42 2 -155 2 -3 2 27 2 40 2 -127 2 -15 2 -33 2 -30 2 38 2 50 2 13 2 5 2 -29 2 32 2 -34 2 -39 2 149 2 -147 2 -53 2 65 2 56 2 -46 2 -33 2 5 2 102 2 -121 2 82 2 -56 2 101 2 49 2 -22 2 -92 2 114 2 51 2 20 2 -56 2 52 2 51 2 -243 2 215 2 -126 2 -16 2 65 2 44 2 -69 2 -180 2 107 2 167 2 -104 2 47 2 32 2 -32 2 -57 2 44 2 54 2 39 2 -179 2 44 2 -39 2 -55 2 43 2 -2 2 -31 2 19 2 31 2 -37 2 33 2 -74 2 -105 2 146 2 -29 2 90 2 -36 2 19 2 0 2 59 2 -39 2 -7 2 -9 2 13 2 10 2 37 2 -91 2 60 2 -9 2 -27 2 -12 2 -43 2 -13 2 -10 2 13 2 9 2 61 2 -115 2 92 2 23 2 -8 2 -102 2 208 2 -56 2 -156 2 224 2 39 2 -92 2 48 2 -39 2 154 2 -259 2 16 2 38 2 25 2 -25 2 37 2 -28 2 44 2 -45 2 120 2 -182 2 61 2 19 2 76 2 -19 2 -21 2 -7 2 -26 2 -11 2 46 2 -34 2 55 2 -68 2 3 2 -36 2 54 2 143 2 -201 2 41 2 -42 2 -83 2 33 2 20 2 -52 2 14 2 30 2 86 2 -77 2 132 2 -144 2 25 2 44 2 -68 2 57 2 -22 2 -46 2 73 2 -28 2 -78 2 70 2 42 2 -79 2 -14 2 110 2 -37 2 -15 2 -30 2 -28 2 154 2 -123 2 76 2 -77 2 22 2 20 2 86 2 -26 2 -84 2 146 2 -124 2 144 2 -70 2 -4 2 0 2 -3 2 -40 2 43 2 48 2 -103 2 24 2 8 2 -6 2 -33 2 -56 2 123 2 -22 2 -60 2 43 2 -23 2 -66 2 23 2 -108 2 123 2 -37 2 0 2 -12 2 141 2 -123 2 4 2 60 2 -177 2 264 2 -134 2 -79 2 53 2 34 2 -98 2 -69 2 81 2 -27 2 -52 2 153 2 -11 2 -83 2 14 2 35 2 -45 2 47 2 6 2 -19 2 96 2 -6 2 51 2 -14 2 24 2 -109 2 49 2 -77 2 103 2 -47 2 19 2 17 2 -50 2 -66 2 42 2 8 2 38 2 0 2 -13 2 -9 2 15 2 -2 2 24 2 -84 2 117 2 -78 2 22 2 11 2 -10 2 -99 2 105 2 -61 2 -64 2 164 2 -78 2 -32 2 88 2 -55 2 -39 2 -53 2 192 2 19 2 -8 2 -19 2 -116 2 142 2 -101 2 -21 2 -8 2 24 2 -103 2 136 2 -131 2 153 2 -232 2 62 2 -38 2 173 2 -118 2 138 2 -2 2 -13 2 -102 2 88 2 -90 2 56 2 -126 2 7 2 41 2 51 2 119 2 -88 2 -134 2 148 2 -35 2 -39 2 132 2 -30 2 -200 2 180 2 -11" stroke="#000000"/>
<path transform="translate(124 0) scale(.1)" d="M0 4148 l2 47 2 35 2 -12 2 -23 2 16 2 16 2 -21 2 -36 2 -27 2 26 2 -96 2 98 2 -26 2 23 2 38 2 -7 2 -31 2 44 2 3 2 83 2 -96 2 -12 2 -4 2 211 2 -148 2 -14 2 28 2 -7 2 -69 2 -32 2 -26 2 59 2 111 2 -222 2 73 2 12 2 -36 2 -34 2 60 2 -86 2 10 2 44 2 -22 2 4 2 4 2 -44 2 94 2 -170 2 236 2 -133 2 124 2 -20 2 126 2 -135 2 113 2 -132 2 108 2 -112 2 16 2 -63 2 -23 2 142 2 32 2 34 2 22 2 -24 2 -107 2 215 2 -12 2 -8 2 -133 2 -52 2 54 2 -38 2 101 2 -116 2 167 2 -89 2 -105 2 25 2 151 2 -196 2 -89 2 0 2 8 2 26 2 -98 2 172 2 167 2 -247 2 44 2 -58 2 55 2 88 2 -78 2 -1 2 -73 2 51 2 -139 2 184 2 -34 2 100 2 -18 2 -7 2 -33 2 23 2 -25 2 -95 2 175 2 74 2 -70 2 13 2 -29 2 0 2 -32 2 37 2 -43 2 -16 2 13 2 122 2 -135 2 -64 2 27 2 62 2 53 2 -63 2 2 2 -77 2 74 2 -45 2 -48 2 26 2 19 2 -32 2 -136 2 141 2 -59 2 69 2 -155 2 137 2 -52 2 33 2 -19 2 -95 2 180 2 -69 2 -29 2 9 2 50 2 62 2 -87 2 -74 2 126 2 -3 2 6 2 -13 2 -41 2 -22 2 -2 2 -90 2 112 2 60 2 13 2 -91 2 -181 2 217 2 -5 2 -5 2 3 2 -20 2 -114 2 150 2 -65 2 99 2 -33 2 -25 2 -51 2 108 2 -80 2 -2 2 -82 2 74 2 -28 2 7 2 19 2 57 2 75 2 -156 2 1 2 34 2 -31 2 -42 2 10 2 -18 2 1 2 46 2 48 2 -138 2 21 2 -146 2 101 2 35 2 -70 2 103 2 -41 2 10 2 1 2 28 2 15 2 40 2 -23 2 5 2 22 2 -39 2 -34 2 -66 2 93 2 33 2 -104 2 -59 2 43 2 16 2 8 2 -34 2 -94 2 -10 2 30 2 95 2 -14 2 40 2 -193 2 81 2 -119 2 -26 2 -5 2 19 2 62 2 50 2 -22 2 17 2 -22 2 73 2 -7 2 18 2 51 2 -76 2 -54 2 84 2 -59 2 52 2 -17 2 -56 2 42 2 9 2 -4 2 49 2 -38 2 -4 2 7 2 8 2 -4 2 96 2 -84 2 -86 2 -59 2 66 2 180 2 -197 2 90 2 33 2 -24 2 53 2 -96 2 37 2 -19 2 8 2 -65 2 17 2 100 2 -43 2 16 2 -14 2 27 2 -22 2 -10 2 200 2 -177 2 16 2 -5 2 -123 2 134 2 -24 2 -3 2 -29 2 -65 2 124 2 -82 2 253 2 -158 2 -110 2 67 2 40 2 -19 2 18 2 34 2 -19 2 -62 2 -65 2 9 2 33 2 -49 2 18 2 129 2 -25 2 -51 2 47 2 -26 2 145 2 -82 2 25 2 -25 2 -10 2 -39 2 50 2 6 2 -30 2 62 2 -10 2 -96 2 8 2 0 2 8 2 6 2 -5 2 22 2 96 2 -72 2 78 2 -44 2 31 2 -43 2 148 2 -188 2 43 2 -63 2 83 2 -71 2 63 2 -133 2 15 2 -70 2 57 2 -26 2 -15 2 122 2 103 2 24 2 -55 2 -39 2 -3 2 -24 2 -23 2 86 2 -90 2 15 2 -15 2 18 2 5 2 50 2 -98 2 15 2 7 2 87 2 18 2 19 2 66 2 -106 2 78 2 -5 2 -49 2 23 2 -80 2 -18 2 36 2 -232 2 105 2 -9 2 -60 2 -20 2 94 2 -33 2 -19 2 65 2 -11 2 4 2 -23 2 60 2 -19 2 -34 2 3 2 56 2 90 2 -4 2 -48 2 -8 2 -48 2 87 2 41 2 103 2 -82 2 -31 2 11 2 -28 2 155 2 -156 2 56 2 -60 2 -15 2 55 2 12 2 19 2 -238 2 147 2 63 2 -29 2 33 2 25 2 -2 2 -42 2 78 2 -133 2 -34 2 52 2 -24 2 -154 2 69 2 50 2 33 2 -136 2 111 2 -177 2 138 2 60 2 -1 2 -63 2 -35 2 84 2 -182 2 91 2 60 2 17 2 -117 2 18 2 51 2 133 2 -90 2 91 2 111 2 -26 2 -174 2 105 2 37 2 54 2 -55 2 -37 2 -44 2 -27 2 166 2 -60 2 -163 2 61 2 39 2 31 2 -71 2 61 2 -22 2 44 2 49 2 -68 2 -15 2 -23 2 -18 2 -39 2 19 2 16 2 -51 2 78 2 -55 2 62 2 34 2 -32 2 -41 2 -79 2 103 2 -64 2 27 2 112 2 13 2 62 2 -48 2 -62 2 -50 2 22 2 -1 2 -52 2 76 2 -43 2 -57 2 48 2 -11 2 37 2 20 2 5 2 17 2 6 2 -50 2 84 2 42 2 -107 2 81 2 51 2 -49 2 46 2 -35 2 -7 2 -48 2 -49 2 72 2 -11 2 52 2 -81 2 19 2 42 2 -116 2 -42 2 33 2 47 2 -79 2 3 2 3 2 -97 2 10 2 13 2 90 2 -120 2 -5 2 186 2 -64 2 61 2 -83 2 62 2 -27 2 37 2 -105 2 119 2 -104 2 40 2 -62 2 109 2 -51 2 0 2 123 2 -73 2 5 2 23 2 3 2 -47 2 25 2 -53 2 -92 2 72 2 -48 2 47 2 -113 2 198 2 -18 2 37 2 43 2 -31 2 -66 2 76 2 -28 2 -32 2 20 2 -8 2 -20 2 -15 2 -29 2 28 2 -8 2 8 2 12 2 54 2 -6 2 -58 2 17 2 151 2 -12 2 -72 2 -30 2 -3 2 -99 2 -34 2 -18 2 33 2 62 2 -9 2 -90 2 8 2 16 2 148 2 -176 2 46 2 64 2 -37 2 16 2 -144 2 118 2 -41 2 -39 2 98 2 -70 2 52 2 27 2 -42 2 -51 2 8 2 50 2 19 2 -36 2 -16 2 34 2 1 2 38 2 -18 2 -82 2 18 2 -67 2 -59 2 75 2 73 2 -177 2 224 2 -38 2 -18 2 14 2 65 2 -55 2 25 2 32 2 -50 2 26 2 -61 2 122 2 -146 2 17 2 -1 2 -51 2 -126 2 94 2 -31 2 43 2 23 2 -9 2 -23 2 112 2 -121 2 66 2 2 2 62 2 29 2 -41 2 -31 2 -50 2 53 2 -50 2 -31 2 -32 2 -122 2 167 2 -15 2 -10 2 -14 2 15 2 -20 2 19 2 191 2 -87 2 -71 2 -29 2 74 2 -71 2 -86 2 56 2 159 2 -29 2 -70 2 -12 2 9 2 -41 2 54 2 -57 2 58 2 14 2 28 2 -35 2 -22 2 99 2 7 2 -45 2 -33 2 -3 2 16 2 -37 2 98 2 -51 2 18 2 -40 2 100 2 -67 2 -10 2 40 2 9 2 -65 2 26 2 21 2 -68 2 16 2 53 2 -42 2 144 2 16 2 -100 2 -74 2 -23 2 -24 2 -8 2 74 2 1 2 -33 2 12 2 -3 2 27 2 -51 2 110 2 -127 2 80 2 -19 2 -49 2 41 2 52 2 -62 2 21 2 -41 2 17 2 -21 2 26 2 48 2 55 2 -39 2 -2 2 -53 2 -6 2 39 2 9 2 7 2 14 2 51 2 -154 2 -45 2 82 2 -56 2 -122 2 163 2 -18 2 12 2 10 2 31 2 -8 2 -7 2 15 2 2 2 13 2 43 2 53 2 -155 2 183 2 -97 2 -30 2 46 2 21 2 -6 2 11 2 -52 2 -55 2 73 2 42 2 -60 2 39 2 6 2 -17 2 13 2 -16 2 34 2 -43 2 -46 2 114 2 -86 2 -49 2 18 2 -42 2 72 2 6 2 -83 2 143 2 48 2 -73 2 -32 2 57 2 -79 2 24 2 37 2 -246 2 281 2 -92 2 62 2 50 2 -101 2 21 2 17 2 -151 2 170 2 -56 2 -26 2 19 2 -13 2 4 2 -2 2 22 2 32 2 -31 2 -39 2 9 2 53 2 -41 2 12 2 -53 2 44 2 4 2 -13 2 32 2 43 2 -40 2 25 2 21 2 -127 2 81 2 -26 2 -22 2 57 2 14 2 76 2 -11 2 -92 2 26 2 26 2 -2 2 -20 2 -162 2 145 2 49 2 -80 2 6 2 28 2 9 2 88 2 -131 2 21 2 7 2 7 2 33 2 -2 2 6 2 0 2 -3 2 -122 2 67 2 -29 2 29 2 -16 2 -74 2 -34 2 -29 2 98 2 26 2 34 2 9 2 -33 2 -19 2 46 2 21 2 -6 2 -32 2 93 2 -53 2 -7 2 25 2 -83 2 115 2 -19 2 -68 2 -67 2 84 2 6 2 20 2 -9 2 -24 2 29 2 10 2 -43 2 52 2 -5 2 68 2 -86 2 -68 2 43 2 9 2 3 2 -10 2 10 2 -37 2 5 2 -15 2 2 2 -2 2 84 2 -87 2 -60 2 2 2 36 2 -19 2 11 2 4 2 23 2 -13 2 182 2 -32 2 -61 2 -185 2 243 2 -45 2 41 2 -188 2 153 2 -37 2 32 2 15 2 -47 2 15 2 25 2 7 2 86 2 -96 2 85 2 20 2 -90 2 49 2 -117 2 15 2 -118 2 -22 2 42 2 121 2 7 2 3 2 3 2 -10 2 17 2 -81 2 -20 2 59 2 -13 2 21 2 -38 2 -31 2 -9 2 155 2 -135 2 5 2 -101 2 57 2 -19 2 145 2 -111 2 79 2 -47 2 -10 2 58 2 -30 2 -40 2 -26 2 94 2 117 2 -51 2 -88 2 63 2 10 2 -99 2 103 2 -18 2 6 2 145 2 -127 2 36 2 17 2 -53 2 -48 2 -26 2 -10 2 122 2 -152 2 89 2 -23 2 46 2 -127 2 207 2 -213 2 -6 2 16 2 -2 2 12 2 -26 2 64 2 -91 2 23 2 60 2 9 2 -53 2 8 2 27 2 -46 2 -28 2 83 2 7 2 43 2 -114 2 141 2 -36 2 -42 2 -15 2 136 2 -147 2 -26 2 -69 2 -70 2 74 2 120 2 -41 2 52 2 -3 2 9 2 -45 2 50 2 -29 2 -46 2 -16 2 92 2 -91 2 251 2 -90 2 38 2 -60 2 40 2 48 2 -109 2 32 2 134 2 -111 2 30 2 -202 2 118 2 -10 2 -49 2 87 2 -31 2 -18 2 -57 2 4 2 14 2 38 2 -5 2 1 2 -42 2 41 2 -54 2 69 2 -41 2 -27 2 115 2 -15 2 -24 2 -130 2 104 2 -6 2 -165 2 129 2 89 2 -21 2 -55 2 0 2 0 2 -24 2 100 2 30 2 -111 2 57 2 -15 2 -123 2 96 2 -82 2 103 2 -83 2 23 2 9 2 48 2 -89 2 32 2 114 2 -151 2 19 2 100 2 -82 2 -28 2 158 2 -221 2 123 2 24 2 18 2 46 2 -43 2 -17 2 0 2 -11 2 -78 2 75 2 20 2 -45 2 88 2 -79 2 3 2 -16 2 -23 2 19 2 46 2 -26 2 127 2 -112 2 -40 2 38 2 78 2 -25 2 73 2 -75 2 -123 2 101 2 -73 2 98 2 -89 2 45 2 95 2 -92 2 -10 2 -5 2 -32 2 -21 2 -1 2 -23 2 -8 2 9 2 -20 2 -51 2 54 2 46 2 -85 2 125 2 -99 2 78 2 84 2 -180 2 145 2 96 2 -13 2 -2 2 -67 2 -48 2 -2 2 29 2 -81 2 124 2 52 2 -17 2 65 2 -125 2 22 2 103 2 -67 2 -42 2 -118 2 92 2 9 2 63 2 -46 2 -57 2 -27 2 26 2 45 2 -63 2 -70 2 39 2 -2 2 -51 2 30 2 41 2 -27 2 -52 2 -17 2 70 2 52 2 -17 2 -25 2 -68 2 112 2 -6 2 35 2 -7 2 -8 2 17 2 -69 2 103 2 38 2 -49 2 74 2 -49 2 16 2 3 2 -108 2 88 2 -57 2 -42 2 78 2 -75 2 61 2 -63 2 -45 2 44 2 -130 2 177 2 -127 2 61 2 -93 2 164 2 -79 2 42 2 9 2 -6 2 25 2 19 2 -67 2 138 2 31 2 -111 2 138 2 -120 2 16 2 -12 2 -18 2 47 2 3 2 -8 2 -67 2 -57 2 89 2 -7 2 -42 2 5 2 -85 2 19 2 62 2 62 2 -80 2 63 2 23 2 -46 2 117 2 -64 2 13 2 -119 2 175 2 -120 2 46 2 -17 2 17 2 19 2 35 2 -89 2 -27 2 43 2 -45 2 -24 2 -50 2 18 2 21 2 114 2 -83 2 66 2 -43 2 36 2 14 2 -111 2 12 2 120 2 1 2 -67 2 30 2 13 2 38 2 -26 2 -1 2 -45 2 -12 2 -13 2 55 2 13 2 -21 2 -15 2 29 2 35 2 -12 2 -174 2 130 2 21 2 -30 2 -24 2 71 2 60 2 106 2 -205 2 -85 2 16 2 108 2 -27 2 3 2 -106 2 25 2 45 2 -41 2 -56 2 -26 2 71 2 2 2 119 2 -6 2 -21 2 47 2 -82 2 73 2 -60 2 -13 2 27 2 -33 2 -64 2 53 2 -20 2 -26 2 -26 2 -96 2 113 2 77 2 -70 2 -34 2 -83 2 187 2 -7 2 -66 2 118 2 46 2 1 2 143 2 -171 2 16 2 -28 2 -11 2 21 2 -99 2 96 2 38 2 -50 2 36 2 -49 2 95 2 -47 2 -27 2 -75 2 62 2 -63 2 -31 2 88 2 20 2 -202 2 315 2 -123 2 -38 2 0 2 16 2 -5 2 -54 2 -11 2 216 2 -29 2 111 2 -122 2 52 2 -43 2 -164 2 105 2 -10 2 31 2 56 2 -55 2 1 2 -30 2 71 2 -71 2 1 2 184 2 -131 2 -107 2 101 2 -119 2 8 2 31 2 -15 2 -17 2 34 2 18 2 -61 2 62 2 -84 2 5 2 42 2 -7 2 59 2 -48 2 -13 2 -84 2 129 2 -42 2 33 2 -28 2 -2 2 -31 2 28 2 139 2 -105 2 -19 2 28 2 23 2 -58 2 -61 2 93 2 -29 2 -5 2 -24 2 138 2 -73 2 -25 2 -51 2 222 2 -35 2 -111 2 -102 2 47 2 69 2 -218 2 8 2 58 2 -24 2 88 2 5 2 -4 2 4 2 0 2 -36 2 36 2 17 2 -22 2 -105 2 61 2 -7 2 -50 2 109 2 -74 2 -25 2 -39 2 81 2 -49 2 9 2 57 2 9 2 113 2 -3 2 -50 2 -18 2 -22 2 -34 2 63 2 38 2 -71 2 159 2 -113 2 -82 2 -55 2 52 2 108 2 -75 2 11 2 63 2 78 2 -142 2 115 2 -66 2 -13 2 -105 2 42 2 -4 2 -16 2 29 2 26 2 -31 2 15 2 27 2 -91 2 51 2 34 2 -61 2 -24 2 74 2 -94 2 21 2 23 2 0 2 42 2 -37 2 29 2 39 2 -130 2 44 2 29 2 -13 2 62 2 -70 2 53 2 -43 2 -87 2 167 2 -9 2 29 2 25 2 -43 2 -89 2 121 2 -105 2 75 2 45 2 -59 2 -27 2 29 2 0 2 21 2 -24 2 42 2 -57 2 20 2 1 2 -40 2 -21 2 -66 2 -11 2 71 2 33 2 41 2 -60 2 -25 2 -31 2 162 2 -75 2 -12 2 58 2 -62 2 54 2 -7 2 -26 2 3 2 49 2 -70 2 -49 2 3 2 96 2 -31 2 -8 2 -1 2 65 2 -216 2 156 2 -86 2 115 2 -83 2 104 2 -144 2 131 2 12 2 -25 2 -11 2 74 2 -4 2 -21 2 -33 2 -35 2 75 2 -119 2 132 2 -42 2 -6 2 -13 2 3 2 -36 2 8 2 -16 2 1 2 36 2 -10 2 20 2 -24 2 -165 2 187 2 -41 2 -27 2 -17 2 -2 2 83 2 -37 2 -10 2 -6 2 53 2 -40 2 40 2 -21 2 -15 2 -14 2 -19 2 6 2 -18 2 -11 2 55 2 -91 2 45 2 -6 2 -18 2 10 2 57 2 -55 2 59 2 -60 2 30 2 -111 2 44 2 -60 2 -72 2 82 2 48 2 -41 2 133 2 -106 2 137 2 -88 2 -68 2 -14 2 -69 2 89 2 8 2 21 2 -29 2 5 2 11 2 200 2 -236 2 -14 2 21 2 83 2 78 2 29 2 -98 2 35 2 -45 2 75 2 -92 2 -51 2 -61 2 143 2 63 2 2 2 -96 2 0 2 102 2 -183 2 67 2 1 2 -12 2 -36 2 79 2 -56 2 57 2 -28 2 -15 2 -81 2 0 2 24 2 -23 2 91 2 -84 2 2 2 84 2 -81 2 164 2 -19 2 -82 2 139 2 -14 2 -114 2 -51 2 83 2 -183 2 189 2 -25 2 -103 2 47 2 -35 2 2 2 20 2 47 2 -16 2 43 2 -49 2 15 2 46 2 135 2 -222 2 66 2 -68 2 -110 2 201 2 22 2 -33 2 -43 2 38 2 -20 2 -25 2 63 2 -47 2 -157 2 -6 2 197 2 -16 2 20 2 -121 2 10 2 80 2 -47 2 37 2 -33 2 -22 2 1 2 -9 2 -15 2 60 2 -86 2 57 2 -33 2 -43 2 89 2 -118 2 -14 2 68 2 -18 2 17 2 26 2 0 2 20 2 26 2 25 2 74 2 -56 2 25 2 -22 2 -20 2 167 2 -57 2 -68 2 -76 2 81 2 -87 2 -57 2 -75 2 22 2 214 2 -174 2 -43 2 -18 2 72 2 -49 2 28 2 -16 2 27 2 29 2 -18 2 136 2 -176 2 -11 2 5 2 -93 2 164 2 -43 2 -12 2 50 2 -5 2 143 2 -198 2 220 2 51 2 -83 2 19 2 -38 2 -5 2 114 2 -98 2 -77 2 110 2 -22 2 -136 2 37 2 57 2 -59 2 23 2 -10 2 -63 2 -178 2 229 2 42 2 35 2 -212 2 56 2 -48 2 107 2 29 2 15 2 -127 2 -58 2 111 2 -76 2 153 2 -94 2 -34 2 -10 2 273 2 -251 2 21 2 -63 2 30 2 -8 2 78 2 22 2 -163 2 159 2 -87 2 -62 2 130 2 -103 2 93 2 -51 2 37 2 154 2 -140 2 6 2 -77 2 37 2 -91 2 42 2 -90 2 53 2 13 2 63 2 -33 2 16 2 -58 2 145 2 -33 2 26 2 43 2 -36 2 -87 2 56 2 -44 2 -27 2 80 2 -47 2 42 2 3 2 -108 2 26 2 -14 2 -57 2 0 2 103 2 71 2 15 2 -72 2 22 2 -99 2 16 2 -26 2 77 2 91 2 -14 2 -165 2 35 2 15 2 -36 2 85 2 -77 2 11 2 72 2 71 2 -100 2 -7 2 12 2 43 2 -18 2 9 2 169 2 -159 2 -67 2 -24 2 162 2 -149 2 68 2 24 2 4 2 141 2 -131 2 -32 2 102 2 -140 2 17 2 -18 2 39 2 -50 2 -8 2 104 2 -134 2 -26 2 47 2 -53 2 51 2 -48 2 81 2 -44 2 -7 2 0 2 0 2 68 2 -6 2 -45 2 -22 2 -44 2 134 2 -48 2 -35 2 -23 2 -48 2 126 2 -93 2 3 2 60 2 -39 2 74 2 -2 2 -101 2 -34 2 121 2 -76 2 125 2 -106 2 31 2 64 2 -13 2 -23 2 33 2 79 2 -6 2 33 2 -15 2 -27 2 -6 2 -25 2 -102 2 101 2 27 2 -20 2 -39 2 62 2 64 2 -64 2 -47 2 -43 2 -28 2 -51 2 76 2 17 2 -23 2 2 2 0 2 -10 2 -13 2 2 2 54 2 62 2 -103 2 89 2 -103 2 27 2 113 2 -66 2 158 2 -17 2 -176 2 112 2 -114 2 27 2 9 2 11 2 15 2 -24 2 -104 2 146 2 -38 2 -53 2 84 2 -6 2 47 2 -30 2 95 2 -131 2 96 2 -125 2 -16 2 14 2 -23 2 22 2 62 2 -16 2 -73 2 43 2 -5 2 28 2 -35 2 53 2 63 2 43 2 -83 2 202 2 -157 2 -50 2 -201 2 255 2 -32 2 112 2 -88 2 5 2 -2 2 -156 2 54 2 63 2 -35 2 -9 2 -38 2 87 2 -25 2 -54 2 -18 2 50 2 167 2 -140 2 50 2 -1 2 55 2 -37 2 -50 2 11 2 -98 2 78 2 11 2 -86 2 132 2 50 2 11 2 -10 2 42 2 -4 2 -139 2 145 2 -54 2 -34 2 14 2 133 2 -52 2 -93 2 188 2 -49 2 -299 2 244 2 -21 2 106 2 -80 2 -40 2 -6 2 -120 2 73 2 23 2 45 2 -18 2 -80 2 -16 2 1 2 -18 2 -45 2 79 2 -36 2 -41 2 5 2 22 2 -101 2 86 2 50 2 55 2 -128 2 77 2 -58 2 71 2 22 2 33 2 173 2 -156 2 39 2 18 2 -83 2 42 2 -20 2 -15 2 61 2 -79 2 62 2 -10 2 -27 2 13 2 -13 2 -25 2 16 2 30 2 30 2 117 2 -132 2 3 2 -10 2 86 2 -92 2 22 2 34 2 -219 2 190 2 -93 2 86 2 -107 2 187 2 -42 2 47 2 -104 2 31 2 -4 2 39 2 -48 2 -14 2 -66 2 -11 2 -27 2 -14 2 -66 2 122 2 -23 2 -90 2 107 2 -94 2 101 2 -21 2 -127 2 150 2 -70 2 34 2 -16 2 31 2 28 2 -14 2 124 2 -205 2 11 2 62 2 18 2 -101 2 84 2 -23 2 65 2 -59 2 -106 2 85 2 5 2 98 2 -119 2 46 2 -28 2 -23 2 10 2 31 2 1 2 25 2 -25 2 1 2 39 2 49 2 43 2 -84 2 2 2 103 2 -64 2 -6 2 -3 2 -31 2 144 2 -130 2 -36 2 23 2 -39 2 56 2 -27 2 -98 2 60 2 -17 2 37 2 -41 2 22 2 -10 2 -60 2 50 2 19 2 -45 2 -19 2 -9 2 42 2 1 2 -13 2 21 2 27 2 -38 2 -23 2 75 2 -30 2 -176 2 194 2 -96 2 14 2 -59 2 49 2 28 2 -40 2 74 2 1 2 -4 2 28 2 -43 2 17 2 22 2 -7 2 -98 2 -46 2 23 2 21 2 -22 2 -28 2 212 2 -88 2 -9 2 55 2 6 2 -40 2 32 2 -6 2 -105 2 64 2 -100 2 111 2 -39 2 20 2 17 2 33 2 -125 2 51 2 68 2 -203 2 150 2 -36 2 20 2 -5 2 58 2 -174 2 90 2 91 2 -98 2 -75 2 115 2 -20 2 42 2 -35 2 5 2 -73 2 9 2 46 2 1 2 61 2 -75 2 -60 2 75 2 -120 2 132 2 11 2 14 2 -14 2 -46 2 32 2 -61 2 -27 2 72 2 29 2 -16 2 -66 2 5 2 19 2 -93 2 93 2 -24 2 124 2 -129 2 142 2 -8 2 -153 2 152 2 -81 2 23 2 8 2 38 2 39 2 -135 2 28 2 31 2 -3 2 -95 2 50 2 -91 2 44 2 27 2 -15 2 -97 2 88 2 16 2 -25 2 -11 2 -24 2 61 2 4 2 54 2 -36 2 -39 2 84 2 -31 2 97 2 -93 2 -58 2 73 2 38 2 -37 2 29 2 -52 2 -50 2 61 2 -22 2 94 2 -2 2 -42 2 -27 2 -33 2 20 2 1 2 31 2 -57 2 23 2 -103 2 -14 2 -2 2 66 2 17 2 -45 2 -32 2 21 2 38 2 -77 2 83 2 20 2 -17 2 -7 2 -6 2 -17 2 6 2 -2 2 53 2 12 2 -87 2 16 2 -106 2 81 2 -33 2 -28 2 12 2 55 2 -35 2 -20 2 16 2 -115 2 113 2 10 2 25 2 0 2 8 2 -91 2 50 2 96 2 -60 2 -66 2 21 2 96 2 -37 2 -18 2 4 2 45 2 -29 2 -50 2 -44 2 41 2 40 2 -94 2 55 2 14 2 -16 2 1 2 -6 2 22 2 -65 2 10 2 -14 2 -23 2 27 2 -6 2 -26 2 61 2 -12 2 60 2 20 2 8 2 -58 2 43 2 -75 2 64 2 -78 2 9 2 -21 2 35 2 -54 2 39 2 37 2 -25 2 37 2 -75 2 50 2 71 2 6 2 38 2 -54 2 8 2 -46 2 30 2 5 2 -8 2 -66 2 10 2 -17 2 46 2 -23 2 59 2 -44 2 18 2 -46 2 42 2 152 2 -86 2 -49 2 11 2 3 2 -40 2 -57 2 58 2 -32 2 117 2 -167 2 111 2 -46 2 30 2 4 2 -132 2 30 2 -21 2 97 2 -52 2 26 2 -50 2 -30 2 -57 2 29 2 -8 2 34 2 45 2 13 2 -9 2 43 2 -9 2 -198 2 37 2 190 2 -95 2 69 2 -56 2 27 2 84 2 4 2 -43 2 81 2 -223 2 241 2 -140 2 38 2 -85 2 142 2 -30 2 -55 2 50 2 -32 2 32 2 -59 2 -27 2 -128 2 153 2 -47 2 15 2 -1 2 69 2 -30 2 -25 2 29 2 -216 2 334 2 -162 2 -125 2 108 2 50 2 -78 2 20 2 60 2 4 2 7 2 -137 2 81 2 -39 2 -1 2 41 2 64 2 3 2 -38 2 50 2 91 2 -47 2 5 2 -49 2 21 2 -11 2 60 2 -111 2 66 2 -39 2 71 2 -7 2 -38 2 -28 2 51 2 -65 2 -14 2 -49 2 -66 2 44 2 76 2 -81 2 66 2 -12 2 -32 2 -73 2 92 2 8 2 -54 2 68 2 -76 2 68 2 47 2 -168 2 197 2 -61 2 113 2 -77 2 185 2 -129 2 -20 2 -41 2 67 2 -67 2 27 2 -26 2 -27 2 128 2 -35 2 -28 2 10 2 -8 2 69 2 -101 2 -53 2 44 2 1 2 -76 2 11 2 104 2 -149 2 39 2 -40 2 39 2 94 2 -84 2 -49 2 86 2 9 2 66 2 -53 2 20 2 -12 2 12 2 -35 2 -73 2 2 2 121 2 -31 2 -83 2 -6 2 73 2 12 2 -114 2 145 2 -60 2 73 2 -64 2 -30 2 85 2 -37 2 8 2 -51 2 -20 2 30 2 -10 2 50 2 5 2 -110 2 93 2 67 2 -121 2 98 2 18 2 29 2 19 2 -55 2 -45 2 -29 2 42 2 65 2 -160 2 53 2 74 2 -140 2 122 2 -44 2 -86 2 -6 2 -22 2 -25 2 85 2 -123 2 167 2 -34 2 -45 2 46 2 57 2 66 2 -113 2 -33 2 75 2 -37 2 -44 2 50 2 25 2 -162 2 146 2 -34 2 1 2 -22 2 74 2 -108 2 97 2 -20 2 6 2 -20 2 -11 2 -48 2 98 2 -72 2 -3 2 119 2 -79 2 -58 2 55 2 -61 2 119 2 -94 2 110 2 -45 2 70 2 -38 2 -43 2 -54 2 173 2 -117 2 -10 2 117 2 -158 2 37 2 -51 2 -94 2 33 2 -7 2 -59 2 78 2 -6 2 46 2 -85 2 30 2 -60 2 191 2 -51 2 56 2 -20 2 -62 2 -28 2 42 2 -9 2 26 2 -125 2 45 2 2 2 -119 2 133 2 4 2 39 2 37 2 -76 2 74 2 23 2 27 2 21 2 -62 2 -53 2 40 2 50 2 -18 2 74 2 -13 2 -38 2 -38 2 116 2 -32 2 -126 2 -73 2 51 2 12 2 -29 2 8 2 -53 2 50 2 -23 2 -10 2 -8 2 -38 2 30 2 69 2 -56 2 5 2 -22 2 0 2 -125 2 175 2 -1 2 -55 2 121 2 -18 2 1 2 -34 2 -96 2 62 2 93 2 -153 2 95 2 -36 2 55 2 -19 2 -67 2 41 2 53 2 -60 2 -7 2 36 2 -45 2 37 2 5 2 -70 2 -60 2 -28 2 -48 2 149 2 8 2 20 2 50 2 -98 2 128 2 -77 2 -23 2 48 2 24 2 28 2 40 2 11 2 -27 2 -10 2 -60 2 -15 2 55 2 -32 2 0 2 -34 2 -76 2 69 2 -17 2 -43 2 4 2 73 2 68 2 -64 2 68 2 -145 2 -33 2 113 2 -49 2 150 2 1 2 -50 2 -16 2 33 2 -22 2 -89 2 195 2 -252 2 72 2 -35 2 39 2 33 2 11 2 35 2 -246 2 344 2 -195 2 166 2 -94 2 86 2 -122 2 53 2 -36 2 -20 2 51 2 -51 2 -35 2 16 2 -93 2 14 2 130 2 -16 2 28 2 12 2 26 2 -17 2 -2 2 -138 2 76 2 -62 2 45 2 10 2 12 2 -16 2 -99 2 178 2 -34 2 -38 2 119 2 -21 2 -10 2 -7 2 22 2 -14 2 22 2 -27 2 -77 2 93 2 -115 2 7 2 26 2 -61 2 48 2 55 2 -56 2 -68 2 24 2 53 2 -9 2 42 2 -5 2 -79 2 -53 2 154 2 35 2 144 2 -65 2 72 2 -105 2 -18 2 -39 2 62 2 36 2 71 2 -124 2 -44 2 181 2 -142 2 12 2 -69 2 -45 2 -30 2 -87 2 127 2 -17 2 -59 2 50 2 21 2 -13 2 -131 2 57 2 -62 2 173 2 -36 2 -7 2 34 2 -25 2 14 2 45 2 12 2 28 2 22 2 -117 2 89 2 5 2 35 2 -56 2 45 2 -82 2 -32 2 -23 2 -4 2 69 2 -70 2 21 2 28 2 -79 2 12 2 9 2 53 2 50 2 -60 2 -10 2 63 2 23 2 55 2 98 2 -170 2 9 2 -73 2 194 2 -103 2 40 2 -74 2 54 2 -99 2 51 2 -75 2 -31 2 91 2 -7 2 44 2 -17 2 15 2 2 2 92 2 -125 2 25 2 -47 2 1 2 62 2 25 2 -112 2 34 2 61 2 141 2 -157 2 -48 2 -18 2 14 2 -48 2 -5 2 -71 2 29 2 50 2 -112 2 178 2 -55 2 -31 2 128 2 -101 2 -17 2 54 2 -26 2 -23 2 -8 2 -8 2 8 2 0 2 -33 2 9 2 -31 2 -10 2 15 2 -1 2 20 2 52 2 -42 2 -7 2 57 2 42 2 -12 2 95 2 -194 2 109 2 -45 2 -61 2 -9 2 32 2 -21 2 43 2 -97 2 -24 2 107 2 62 2 -17 2 0 2 -7 2 58 2 -48 2 -82 2 18 2 50 2 -59 2 63 2 -46 2 -54 2 5 2 -21 2 -19 2 37 2 -3 2 25 2 68 2 -147 2 64 2 -34 2 33 2 -4 2 -105 2 84 2 -24 2 4 2 69 2 -66 2 55 2 -48 2 -4 2 30 2 26 2 -69 2 47 2 -7 2 7 2 -15 2 48 2 -34 2 -30 2 -1 2 6 2 22 2 90 2 -53 2 44 2 -129 2 122 2 -62 2 -71 2 110 2 11 2 -31 2 18 2 74 2 -88 2 -39 2 -12 2 33 2 -28 2 103 2 -39 2 -16 2 -4 2 32 2 -128 2 60 2 -7 2 41 2 -11 2 -29 2 -9 2 33 2 -31 2 25 2 -23 2 42 2 29 2 35 2 -45 2 -30 2 90 2 -73 2 -147 2 130 2 -135 2 178 2 9 2 -85 2 23 2 -40 2 87 2 -129 2 68 2 -26 2 263 2 -185 2 -21 2 31 2 -17 2 88 2 -151 2 5 2 -3 2 122 2 -76 2 -15 2 -27 2 62 2 0 2 4 2 0 2 -21 2 -4 2 -33 2 21 2 -15 2 -11 2 21 2 -104 2 45 2 11 2 94 2 -65 2 29 2 89 2 -70 2 55 2 11 2 42 2 -68 2 -22 2 38 2 -13 2 35 2 3 2 32 2 -22 2 -104 2 35 2 14 2 63 2 -116 2 65 2 -38 2 43 2 -27 2 -4 2 -15 2 15 2 -26 2 13 2 1 2 -28 2 10 2 14 2 -68 2 69 2 -43 2 59 2 8 2 -45 2 -24 2 50 2 -81 2 45 2 -178 2 112 2 5 2 -4 2 22 2 57 2 24 2 -30 2 50 2 -20 2 -150 2 144 2 -83 2 192 2 -84 2 -90 2 71 2 -70 2 35 2 0 2 53 2 46 2 -66 2 21 2 14 2 58 2 -71 2 33 2 -86 2 -33 2 115 2 -145 2 149 2 28 2 -140 2 16 2 -5 2 106 2 -48 2 13 2 -45 2 29 2 21 2 -61 2 -31 2 48 2 -29 2 69 2 23 2 -41 2 -15 2 41 2 -14 2 -43 2 44 2 -26 2 44 2 -81 2 -5 2 35 2 -44 2 48 2 95 2 -58 2 70 2 -98 2 -32 2 -36 2 92 2 -44 2 64 2 -57 2 7 2 -2 2 10 2 31 2 6 2 -7 2 -65 2 34 2 10 2 33 2 82 2 -114 2 -43 2 39 2 -51 2 -143 2 107 2 -28 2 -69 2 69 2 55 2 -48 2 -10 2 43 2 -64 2 90 2 39 2 -51 2 57 2 -30 2 2 2 -119 2 107 2 -29 2 1 2 -13 2 32 2 120 2 3 2 -55 2 128 2 -144 2 47 2 42 2 -80 2 7 2 4 2 -145 2 80 2 15 2 -76 2 -2 2 170 2 -123 2 105 2 -143 2 17 2 60 2 -28 2 82 2 -103 2 39 2 60 2 -17 2 -74 2 33 2 -20 2 -20 2 97 2 -57 2 78 2 -110 2 -96 2 82 2 -93 2 -29 2 136 2 -137 2 60 2 -4 2 -87 2 187 2 -79 2 35 2 63 2 -45 2 15 2 6 2 -1 2 164 2 11 2 -22 2 -34 2 54 2 -39 2 72 2 -116 2 -69 2 206 2 -183 2 -116 2 124 2 6 2 44 2 -19 2 -16 2 -81 2 69 2 6 2 17 2 44 2 -225 2 94 2 9 2 12 2 -31 2 -61 2 27 2 -36 2 55 2 56 2 47 2 -31 2 -33 2 5 2 0 2 4 2 -64 2 58 2 -47 2 75 2 17 2 8 2 -67 2 -70 2 34 2 19 2 -42 2 146 2 -87 2 82 2 -24 2 27 2 80 2 -70 2 -71 2 44 2 24 2 61 2 -76 2 -101 2 21 2 16 2 22 2 16 2 -52 2 11 2 -36 2 165 2 -162 2 -4 2 -15 2 96 2 -46 2 4 2 13 2 64 2 -90 2 -10 2 45 2 20 2 10 2 -82 2 -18 2 44 2 45 2 -151 2 76 2 -28 2 53 2 -27 2 -72 2 88 2 -16 2 45 2 -19 2 73 2 -81 2 100 2 -121 2 81 2 -83 2 71 2 -3 2 55 2 -59 2 10 2 -23 2 -93 2 12 2 86 2 -20 2 69 2 -81 2 -8 2 10 2 88 2 68 2 -53 2 32 2 -84 2 -16 2 -20 2 39 2 1 2 -28 2 -7 2 31 2 -16 2 63 2 -81 2 13 2 19 2 24 2 -55 2 71 2 -50 2 -100 2 150 2 -124 2 48 2 -29 2 -13 2 73 2 -45 2 -75 2 -120 2 -3 2 163 2 31 2 -142 2 131 2 -35 2 0 2 12 2 -40 2 47 2 -14 2 28 2 0 2 -10 2 151 2 -114 2 -39 2 150 2 -114 2 21 2 41 2 -94 2 33 2 41 2 23 2 5 2 -62 2 -59 2 34 2 -13 2 -22 2 36 2 17 2 45 2 14 2 13 2 16 2 -138 2 61 2 110 2 -88 2 -56 2 13 2 -6 2 2 2 -39 2 45 2 -8 2 47 2 -60 2 4 2 22 2 -9 2 1 2 72 2 -100 2 134 2 94 2 -119 2 -44 2 -33 2 -65 2 53 2 -155 2 159 2 66 2 -141 2 71 2 -49 2 150 2 -220 2 -91 2 71 2 22 2 -18 2 96 2 -48 2 -9 2 -13 2 50 2 -56 2 83 2 1 2 5 2 -33 2 -9 2 140 2 -22 2 39 2 -49 2 123 2 -19 2 -84 2 -124 2 98 2 -5 2 -39 2 68 2 -28 2 -22 2 116 2 -136 2 -140 2 145 2 49 2 -26 2 -13 2 60 2 91 2 -15 2 -35 2 13 2 -15 2 -54 2 -67 2 58 2 -89 2 40 2 -53 2 107 2 -145 2 33 2 22 2 -9 2 -127 2 322 2 -232 2 113 2 72 2 -103 2 14 2 -37 2 25 2 0 2 -140 2 51 2 60 2 -39 2 -19 2 -29 2 76 2 14 2 22 2 98 2 -38 2 -59 2 -35 2 85 2 53 2 -161 2 62 2 -115 2 104 2 -4 2 21 2 -10 2 -14 2 22 2 -43 2 69 2 46 2 -32 2 58 2 1 2 -89 2 56 2 -34 2 -7 2 -20 2 -82 2 83 2 36 2 21 2 8 2 40 2 49 2 -102 2 11 2 4 2 40 2 -90 2 -15 2 32 2 16 2 3 2 -9 2 -6 2 2 2 -1 2 -37 2 29 2 -18 2 106 2 -126 2 41 2 49 2 52 2 -123 2 20 2 19 2 -10 2 -87 2 -39 2 -100 2 146 2 25 2 -82 2 158 2 -42 2 -19 2 -8 2 86 2 -94 2 -6 2 70 2 -43 2 19 2 -49 2 9 2 47 2 -211 2 84 2 41 2 40 2 18 2 -77 2 11 2 2 2 -21 2 179 2 -63 2 -47 2 50 2 -10 2 -76 2 163 2 50 2 -143 2 92 2 -65 2 24 2 -3 2 -22 2 18 2 -56 2 11 2 47 2 97 2 -37 2 -46 2 60 2 -49 2 -33 2 -33 2 50 2 -17 2 -137 2 95 2 -25 2 -43 2 -40 2 -10 2 35 2 9 2 -20 2 14 2 223 2 -155 2 -42 2 84 2 -86 2 160 2 -122 2 10 2 -29 2 8 2 -36 2 63 2 -14 2 -1 2 -30 2 85 2 55 2 -83 2 -26 2 -25 2 117 2 -60 2 -21 2 111 2 63 2 -142 2 -27 2 -57 2 114 2 6 2 7 2 -54 2 -4 2 -2 2 44 2 -53 2 30 2 68 2 -240 2 4 2 123 2 94 2 -42 2 -48 2 18 2 -33 2 -71 2 -13 2 -5 2 -1 2 46 2 21 2 36 2 10 2 -132 2 186 2 -109 2 137 2 -98 2 145 2 -113 2 -100 2 83 2 96 2 -81 2 -63 2 5 2 115 2 -4 2 134 2 -82 2 63 2 -94 2 43 2 -97 2 32 2 -115 2 45 2 -34 2 38 2 -34 2 61 2 49 2 -2 2 -129 2 44 2 -17 2 38 2 -50 2 27 2 -27 2 49 2 -4 2 -48 2 18 2 -36 2 -33 2 -1 2 -70 2 126 2 -10 2 119 2 -123 2 99 2 -189 2 155 2 -20 2 -35 2 23 2 -18 2 54 2 23 2 27 2 0 2 -35 2 85 2 -57 2 21 2 -32 2 -68 2 -4 2 43 2 16 2 7 2 3 2 -6 2 18 2 -64 2 91 2 -227 2 135 2 42 2 -13 2 -62 2 24 2 -10 2 41 2 -63 2 21 2 -56 2 23 2 22 2 23 2 12 2 -42 2 198 2 -179 2 -84 2 59 2 43 2 8 2 11 2 -50 2 -76 2 71 2 45 2 133 2 -97 2 -10 2 14 2 24 2 66 2 -104 2 36 2 -22 2 -23 2 99 2 -43 2 67 2 -54 2 -43 2 -37 2 -16 2 -26 2 -37 2 -14 2 71 2 52 2 -55 2 -15 2 -6 2 12 2 90 2 -152 2 81 2 -54 2 22 2 -88 2 -95 2 52 2 25 2 -78 2 20 2 25 2 19 2 -21 2 64 2 34 2 -48 2 52 2 22 2 -86 2 73 2 98 2 69 2 -57 2 2 2 -3 2 -92 2 195 2 -180 2 105 2 -26 2 46 2 -134 2 92 2 -4 2 52 2 -111 2 70 2 33 2 -95 2 -91 2 75 2 8 2 5 2 46 2 -56 2 29 2 -34 2 -123 2 104 2 -21 2 -4 2 41 2 -30 2 26 2 5 2 103 2 -46 2 -54 2 -10 2 66 2 -43 2 153 2 -213 2 34 2 -5 2 -146 2 301 2 -147 2 86 2 -81 2 23 2 -8 2 41 2 -66 2 3 2 176 2 -139 2 23 2 -39 2 70 2 18 2 -35 2 -47 2 70 2 -143 2 54 2 14 2 -25 2 -52 2 96 2 -30 2 -33 2 -12 2 94 2 -49 2 59 2 -87 2 -3 2 119 2 37 2 -27 2 -174 2 -56 2 -21 2 30 2 -2 2 -39 2 49 2 39 2 -41 2 84 2 -97 2 54 2 -32 2 58 2 0 2 61 2 31 2 -42 2 16 2 -33 2 -2 2 104 2 -45 2 -43 2 64 2 -4 2 -87 2 143 2 -55 2 -54 2 11 2 -60 2 65 2 45 2 -134 2 25 2 19 2 -44 2 -46 2 95 2 0 2 17 2 -50 2 10 2 50 2 -44 2 97 2 -76 2 -204 2 182 2 10 2 84 2 -16 2 67 2 -99 2 -44 2 102 2 82 2 10 2 -13 2 -152 2 -15 2 -12 2 -46 2 74 2 -125 2 121 2 17 2 -73 2 1 2 35 2 11 2 -192 2 53 2 91 2 123 2 -107 2 38 2 -129 2 18 2 126 2 -81 2 -1 2 81 2 -54 2 49 2 -3 2 16 2 -75 2 1 2 80 2 -14" stroke="#ffa500"/>
<path transform="translate(124 0) scale(.1)" d="M0 3315 l2 24 2 -51 2 74 2 5 2 14 2 -69 2 7 2 16 2 -29 2 21 2 47 2 9 2 13 2 -110 2 74 2 -54 2 11 2 -73 2 116 2 -46 2 -10 2 124 2 -26 2 26 2 -27 2 24 2 -16 2 113 2 -289 2 85 2 -40 2 157 2 -45 2 4 2 -16 2 -27 2 42 2 2 2 24 2 -97 2 -1 2 -20 2 -20 2 -6 2 4 2 -69 2 54 2 -64 2 13 2 27 2 19 2 33 2 -90 2 48 2 6 2 -57 2 95 2 4 2 63 2 9 2 46 2 -133 2 -84 2 41 2 44 2 57 2 27 2 -143 2 37 2 -10 2 30 2 90 2 -195 2 136 2 -141 2 -28 2 4 2 86 2 -67 2 76 2 -128 2 55 2 -33 2 -27 2 28 2 49 2 -57 2 -109 2 115 2 23 2 -37 2 63 2 -106 2 -105 2 133 2 35 2 3 2 73 2 -56 2 -56 2 -128 2 178 2 12 2 -37 2 -13 2 12 2 -54 2 -55 2 -5 2 23 2 -7 2 30 2 -47 2 -101 2 131 2 -19 2 -25 2 -30 2 60 2 0 2 -32 2 83 2 -153 2 -16 2 14 2 -12 2 47 2 -82 2 47 2 -6 2 18 2 -30 2 -63 2 55 2 2 2 -75 2 14 2 -58 2 -105 2 43 2 58 2 31 2 -21 2 -64 2 3 2 36 2 -71 2 92 2 -62 2 29 2 -63 2 -41 2 30 2 40 2 24 2 -113 2 110 2 66 2 -107 2 113 2 -111 2 -3 2 -12 2 198 2 -154 2 75 2 17 2 -69 2 -42 2 103 2 97 2 -82 2 -231 2 19 2 95 2 -143 2 153 2 -86 2 -81 2 38 2 -36 2 48 2 -9 2 -25 2 89 2 -132 2 122 2 38 2 -66 2 211 2 -50 2 -26 2 86 2 -241 2 84 2 52 2 -37 2 -13 2 -76 2 171 2 -318 2 76 2 -2 2 39 2 56 2 -266 2 199 2 -64 2 -43 2 -14 2 263 2 -111 2 14 2 -185 2 87 2 9 2 68 2 -12 2 -33 2 12 2 77 2 -62 2 -26 2 34 2 -29 2 110 2 -52 2 -44 2 -62 2 86 2 -111 2 124 2 22 2 -12 2 -10 2 -44 2 -41 2 45 2 34 2 30 2 -48 2 13 2 66 2 -28 2 -175 2 -4 2 84 2 102 2 -218 2 103 2 -170 2 229 2 -177 2 -2 2 22 2 -98 2 196 2 -64 2 3 2 2 2 57 2 -40 2 -45 2 158 2 -34 2 12 2 -84 2 44 2 59 2 -15 2 25 2 -11 2 1 2 18 2 -75 2 18 2 -25 2 63 2 81 2 -44 2 -12 2 -13 2 -1 2 -8 2 92 2 -331 2 220 2 -26 2 -6 2 59 2 22 2 57 2 97 2 -254 2 -84 2 120 2 -126 2 215 2 -107 2 -23 2 -5 2 12 2 91 2 -124 2 -1 2 -22 2 100 2 -100 2 198 2 2 2 -154 2 101 2 -103 2 39 2 -21 2 -6 2 91 2 43 2 -173 2 -31 2 103 2 14 2 34 2 32 2 84 2 -219 2 144 2 -176 2 320 2 -198 2 144 2 -64 2 69 2 105 2 -42 2 -92 2 -5 2 -173 2 86 2 -154 2 -17 2 7 2 -2 2 187 2 -107 2 1 2 73 2 -71 2 55 2 -33 2 59 2 -16 2 -143 2 -29 2 161 2 82 2 -200 2 -11 2 46 2 -42 2 44 2 28 2 29 2 -11 2 117 2 -107 2 7 2 5 2 126 2 65 2 -147 2 72 2 10 2 38 2 -112 2 4 2 -34 2 92 2 -6 2 -81 2 -5 2 -114 2 274 2 -81 2 -21 2 84 2 -113 2 7 2 111 2 -230 2 -29 2 104 2 -17 2 -111 2 41 2 19 2 -100 2 67 2 42 2 -27 2 -44 2 110 2 -93 2 6 2 7 2 -51 2 112 2 -21 2 10 2 0 2 -50 2 -56 2 310 2 -107 2 9 2 -14 2 3 2 -52 2 129 2 -132 2 103 2 -39 2 65 2 149 2 -230 2 131 2 -171 2 50 2 -69 2 101 2 -128 2 234 2 -160 2 -78 2 164 2 -89 2 -51 2 101 2 -181 2 -16 2 258 2 -300 2 96 2 -141 2 206 2 -160 2 40 2 -11 2 -75 2 76 2 131 2 -86 2 -10 2 153 2 -153 2 -30 2 114 2 80 2 -86 2 -41 2 9 2 -169 2 233 2 -40 2 40 2 99 2 -174 2 229 2 -92 2 48 2 -89 2 -5 2 36 2 97 2 -39 2 -61 2 95 2 -6 2 0 2 -20 2 -86 2 175 2 -36 2 -6 2 -8 2 -36 2 -119 2 -125 2 121 2 2 2 -5 2 45 2 96 2 -31 2 -102 2 -70 2 52 2 47 2 -83 2 128 2 195 2 -102 2 -21 2 -4 2 -22 2 181 2 -139 2 29 2 -80 2 138 2 -21 2 -295 2 40 2 283 2 -254 2 228 2 -185 2 21 2 -24 2 5 2 35 2 95 2 -5 2 -3 2 105 2 -130 2 -34 2 -116 2 184 2 51 2 -66 2 -10 2 97 2 221 2 -189 2 -155 2 66 2 19 2 -46 2 93 2 97 2 63 2 -77 2 -16 2 -17 2 115 2 -95 2 -86 2 -23 2 122 2 -31 2 114 2 -32 2 13 2 -138 2 215 2 1 2 55 2 29 2 -139 2 166 2 17 2 -3 2 -61 2 76 2 -32 2 -36 2 -3 2 -80 2 111 2 -1 2 32 2 3 2 -11 2 33 2 -23 2 -7 2 26 2 80 2 -195 2 120 2 -34 2 -16 2 -80 2 14 2 27 2 2 2 73 2 44 2 -50 2 36 2 -8 2 98 2 -44 2 -86 2 28 2 -88 2 24 2 73 2 -37 2 -6 2 12 2 -93 2 131 2 -3 2 25 2 -33 2 106 2 -31 2 88 2 -289 2 172 2 -24 2 127 2 -92 2 -33 2 40 2 -127 2 -26 2 70 2 -44 2 -39 2 69 2 53 2 -119 2 -9 2 29 2 -32 2 64 2 -35 2 47 2 -74 2 34 2 -1 2 16 2 15 2 -23 2 -78 2 52 2 -7 2 51 2 -61 2 29 2 -21 2 2 2 20 2 9 2 43 2 -49 2 -27 2 68 2 -47 2 31 2 -5 2 -31 2 -24 2 80 2 -27 2 -88 2 168 2 -67 2 -25 2 95 2 -211 2 51 2 4 2 6 2 -45 2 38 2 62 2 -52 2 -15 2 19 2 -25 2 47 2 -9 2 13 2 -15 2 -52 2 27 2 58 2 44 2 -158 2 4 2 55 2 -48 2 47 2 -31 2 42 2 -88 2 53 2 17 2 -9 2 -34 2 -18 2 -33 2 144 2 -168 2 -8 2 75 2 -72 2 122 2 -66 2 13 2 8 2 -125 2 43 2 50 2 8 2 -47 2 17 2 33 2 -59 2 98 2 -95 2 78 2 -44 2 68 2 -48 2 60 2 -38 2 -5 2 9 2 -59 2 134 2 -35 2 11 2 12 2 -19 2 -56 2 59 2 28 2 -67 2 57 2 -31 2 -30 2 57 2 -107 2 -13 2 -148 2 31 2 55 2 13 2 -29 2 -87 2 71 2 -20 2 42 2 19 2 -52 2 40 2 -38 2 101 2 -35 2 30 2 -12 2 5 2 4 2 -57 2 -52 2 46 2 -169 2 274 2 -18 2 -158 2 170 2 -52 2 -11 2 39 2 -56 2 14 2 46 2 -44 2 1 2 -20 2 -51 2 84 2 -23 2 -71 2 35 2 35 2 1 2 -19 2 65 2 -21 2 -6 2 12 2 10 2 65 2 -114 2 11 2 -32 2 1 2 -13 2 122 2 -13 2 15 2 87 2 -52 2 -14 2 51 2 -153 2 157 2 -24 2 -4 2 32 2 -14 2 -35 2 -35 2 -1 2 -22 2 29 2 -36 2 -35 2 -50 2 27 2 -26 2 -90 2 -12 2 -52 2 17 2 168 2 -80 2 -53 2 -26 2 41 2 -49 2 117 2 -13 2 63 2 38 2 -37 2 -54 2 211 2 -103 2 -55 2 6 2 244 2 -87 2 -4 2 -71 2 -33 2 85 2 -112 2 33 2 -8 2 73 2 125 2 -235 2 66 2 -63 2 34 2 77 2 -110 2 25 2 10 2 16 2 47 2 -112 2 61 2 55 2 -12 2 -61 2 -34 2 36 2 -65 2 26 2 -46 2 98 2 114 2 -118 2 -146 2 103 2 41 2 -112 2 51 2 24 2 -221 2 144 2 57 2 18 2 98 2 -147 2 11 2 37 2 40 2 -33 2 -28 2 30 2 -193 2 149 2 52 2 -88 2 11 2 2 2 31 2 -51 2 34 2 -29 2 -23 2 50 2 11 2 -155 2 24 2 -90 2 174 2 37 2 -142 2 225 2 -94 2 35 2 -2 2 -64 2 190 2 -109 2 57 2 -32 2 20 2 15 2 -97 2 26 2 -2 2 -37 2 -64 2 105 2 15 2 37 2 -65 2 -2 2 13 2 -77 2 0 2 46 2 -80 2 55 2 -27 2 -30 2 52 2 28 2 -29 2 -45 2 -40 2 18 2 21 2 -7 2 -27 2 40 2 -67 2 228 2 -91 2 -88 2 38 2 23 2 38 2 -80 2 -47 2 80 2 -83 2 5 2 -29 2 -69 2 77 2 29 2 14 2 178 2 -216 2 15 2 49 2 -11 2 128 2 -92 2 -26 2 -109 2 46 2 7 2 22 2 -13 2 42 2 9 2 -116 2 41 2 16 2 -1 2 24 2 43 2 -6 2 -57 2 56 2 -23 2 6 2 41 2 19 2 -93 2 27 2 10 2 -49 2 20 2 -114 2 273 2 -102 2 -44 2 38 2 -31 2 8 2 -106 2 114 2 -74 2 9 2 16 2 -8 2 20 2 -24 2 30 2 -13 2 -9 2 49 2 54 2 -107 2 -18 2 -58 2 89 2 -52 2 -40 2 187 2 -32 2 -69 2 29 2 -73 2 -55 2 -17 2 48 2 68 2 -77 2 -49 2 57 2 -29 2 48 2 12 2 71 2 -48 2 -7 2 -44 2 73 2 -87 2 45 2 3 2 -2 2 28 2 -75 2 275 2 -44 2 -88 2 13 2 -96 2 69 2 -64 2 39 2 81 2 -79 2 -213 2 140 2 -15 2 78 2 43 2 -85 2 37 2 -51 2 142 2 1 2 -95 2 -28 2 137 2 -118 2 -113 2 111 2 -46 2 243 2 -201 2 77 2 -67 2 -58 2 26 2 211 2 -243 2 13 2 18 2 2 2 -181 2 329 2 -161 2 92 2 -173 2 111 2 19 2 -75 2 38 2 -114 2 93 2 -34 2 -6 2 -6 2 -34 2 -82 2 -25 2 120 2 19 2 -8 2 105 2 -23 2 -1 2 4 2 43 2 -41 2 77 2 -107 2 -26 2 251 2 -92 2 -7 2 -22 2 -11 2 -63 2 96 2 20 2 -4 2 -82 2 17 2 85 2 -171 2 -62 2 -53 2 154 2 13 2 -34 2 9 2 -19 2 -2 2 -3 2 -162 2 70 2 47 2 -12 2 243 2 -146 2 30 2 5 2 -33 2 78 2 -63 2 -22 2 38 2 -10 2 30 2 -47 2 -35 2 83 2 -113 2 83 2 -78 2 -76 2 116 2 57 2 42 2 -170 2 89 2 -6 2 -11 2 -6 2 29 2 37 2 53 2 -46 2 -77 2 -42 2 75 2 -40 2 -12 2 87 2 -84 2 92 2 -33 2 52 2 21 2 -33 2 -48 2 70 2 -54 2 -44 2 27 2 -107 2 197 2 -75 2 -67 2 46 2 -95 2 69 2 126 2 -24 2 -76 2 49 2 -75 2 117 2 -5 2 -79 2 -3 2 99 2 -63 2 -32 2 -38 2 61 2 -39 2 34 2 -79 2 96 2 67 2 -49 2 -6 2 -169 2 92 2 -26 2 112 2 -28 2 -26 2 3 2 18 2 10 2 -78 2 128 2 38 2 63 2 -199 2 58 2 181 2 -64 2 -136 2 79 2 38 2 -102 2 50 2 53 2 -101 2 86 2 160 2 -146 2 -62 2 70 2 -85 2 140 2 -87 2 19 2 -20 2 -22 2 4 2 2 2 28 2 -102 2 46 2 48 2 -65 2 244 2 -166 2 -8 2 -35 2 53 2 -90 2 -2 2 -32 2 81 2 28 2 -71 2 -17 2 41 2 -30 2 -118 2 145 2 86 2 -22 2 -79 2 96 2 9 2 44 2 87 2 -6 2 -241 2 172 2 61 2 -22 2 -63 2 24 2 -158 2 194 2 -33 2 -22 2 -54 2 34 2 25 2 24 2 79 2 -106 2 -6 2 -13 2 -13 2 -23 2 -32 2 6 2 -35 2 96 2 -184 2 179 2 -18 2 -86 2 83 2 122 2 -48 2 -14 2 37 2 19 2 -3 2 1 2 54 2 22 2 -3 2 -106 2 71 2 22 2 -36 2 -57 2 13 2 102 2 -53 2 -156 2 124 2 18 2 -8 2 21 2 -37 2 113 2 -115 2 60 2 0 2 9 2 36 2 -82 2 50 2 32 2 -76 2 -91 2 47 2 41 2 23 2 49 2 -22 2 -39 2 13 2 -61 2 143 2 -215 2 227 2 -15 2 -41 2 -115 2 51 2 -30 2 18 2 -16 2 1 2 15 2 -100 2 30 2 -2 2 20 2 -97 2 145 2 -17 2 -56 2 58 2 -10 2 -88 2 118 2 -83 2 -111 2 57 2 -70 2 23 2 297 2 -147 2 -75 2 112 2 -85 2 89 2 67 2 61 2 40 2 -67 2 13 2 -11 2 -41 2 5 2 76 2 -66 2 39 2 -78 2 17 2 136 2 -110 2 35 2 62 2 -139 2 53 2 -19 2 -15 2 -21 2 -135 2 8 2 5 2 -45 2 -20 2 43 2 -65 2 -72 2 -1 2 225 2 -119 2 3 2 62 2 -13 2 36 2 -51 2 35 2 144 2 -3 2 -142 2 -16 2 130 2 22 2 -51 2 -17 2 -57 2 18 2 -44 2 57 2 41 2 22 2 11 2 -106 2 48 2 2 2 -77 2 177 2 -199 2 85 2 18 2 -69 2 -4 2 75 2 -17 2 91 2 -28 2 -190 2 42 2 -10 2 26 2 51 2 -148 2 120 2 6 2 -3 2 73 2 -66 2 38 2 -31 2 23 2 233 2 -212 2 -42 2 42 2 46 2 41 2 26 2 -129 2 35 2 -87 2 66 2 20 2 -38 2 -71 2 119 2 3 2 57 2 -58 2 -55 2 237 2 -150 2 -4 2 -28 2 8 2 8 2 -41 2 -8 2 -10 2 82 2 -35 2 32 2 23 2 -19 2 -37 2 41 2 45 2 31 2 -53 2 11 2 -22 2 72 2 -58 2 -108 2 92 2 -25 2 -95 2 129 2 -101 2 98 2 66 2 -119 2 -25 2 87 2 -82 2 126 2 -79 2 52 2 -98 2 54 2 -63 2 79 2 -3 2 -123 2 73 2 -99 2 69 2 -39 2 58 2 -174 2 212 2 -76 2 122 2 32 2 -82 2 -83 2 47 2 -74 2 -35 2 96 2 49 2 -61 2 14 2 75 2 -29 2 13 2 -11 2 -28 2 72 2 19 2 35 2 -84 2 106 2 -55 2 -16 2 18 2 -57 2 -4 2 36 2 -24 2 26 2 -55 2 -49 2 5 2 40 2 -15 2 -21 2 49 2 39 2 -1 2 -80 2 23 2 53 2 75 2 16 2 22 2 -123 2 -37 2 -120 2 107 2 73 2 -91 2 115 2 -96 2 -86 2 82 2 14 2 -26 2 30 2 50 2 -49 2 -8 2 -94 2 -11 2 -27 2 9 2 8 2 77 2 -62 2 23 2 112 2 -85 2 -85 2 54 2 4 2 114 2 27 2 37 2 -88 2 -74 2 -51 2 116 2 34 2 -76 2 102 2 -47 2 23 2 18 2 47 2 -12 2 -28 2 -2 2 -27 2 44 2 -39 2 34 2 -151 2 151 2 21 2 -108 2 122 2 -131 2 86 2 28 2 -97 2 18 2 -31 2 -127 2 104 2 -10 2 31 2 -43 2 19 2 116 2 -100 2 -72 2 59 2 82 2 -128 2 -9 2 253 2 -218 2 -94 2 85 2 112 2 -93 2 13 2 54 2 -191 2 217 2 -41 2 -55 2 -42 2 -50 2 42 2 56 2 48 2 42 2 -61 2 -59 2 237 2 -138 2 182 2 -71 2 -41 2 -44 2 2 2 22 2 12 2 18 2 -94 2 39 2 -2 2 -10 2 14 2 -50 2 35 2 -29 2 23 2 48 2 159 2 -99 2 0 2 22 2 -50 2 19 2 -59 2 -33 2 17 2 41 2 -21 2 -44 2 13 2 -64 2 -32 2 158 2 -173 2 33 2 129 2 -141 2 149 2 -160 2 47 2 10 2 -100 2 114 2 27 2 26 2 41 2 27 2 -158 2 138 2 -76 2 64 2 30 2 0 2 -33 2 -16 2 41 2 53 2 -65 2 -30 2 0 2 42 2 -24 2 81 2 16 2 -139 2 -22 2 62 2 -76 2 75 2 -29 2 129 2 -19 2 -5 2 -26 2 59 2 22 2 -83 2 0 2 62 2 -30 2 -21 2 62 2 -87 2 -33 2 6 2 29 2 -85 2 50 2 11 2 -128 2 147 2 -17 2 97 2 -119 2 126 2 -146 2 26 2 11 2 165 2 -150 2 -63 2 89 2 -70 2 63 2 9 2 -110 2 165 2 -41 2 114 2 -138 2 -54 2 16 2 -7 2 79 2 -7 2 -5 2 58 2 -97 2 58 2 -74 2 94 2 -21 2 -41 2 45 2 73 2 -53 2 4 2 -27 2 72 2 -37 2 114 2 -24 2 -42 2 -91 2 195 2 -294 2 251 2 -69 2 -26 2 48 2 -46 2 -111 2 -11 2 14 2 -89 2 64 2 -16 2 -27 2 91 2 29 2 -46 2 100 2 -101 2 -34 2 55 2 -100 2 -5 2 38 2 55 2 -82 2 -120 2 120 2 -48 2 26 2 -30 2 -49 2 232 2 -190 2 85 2 31 2 5 2 28 2 -12 2 65 2 63 2 -136 2 -20 2 -44 2 107 2 -36 2 103 2 -49 2 -52 2 97 2 23 2 -41 2 -47 2 51 2 93 2 -24 2 -81 2 120 2 -115 2 -25 2 -48 2 139 2 -68 2 -29 2 -46 2 35 2 -114 2 17 2 110 2 62 2 -13 2 -95 2 90 2 -128 2 61 2 -38 2 61 2 -119 2 53 2 -81 2 63 2 -13 2 20 2 -25 2 42 2 136 2 -20 2 -66 2 60 2 20 2 56 2 -104 2 -36 2 38 2 -11 2 43 2 -20 2 4 2 11 2 -5 2 20 2 -53 2 -32 2 117 2 -123 2 -12 2 42 2 -21 2 -74 2 27 2 41 2 -140 2 31 2 -17 2 94 2 -20 2 -13 2 10 2 24 2 -9 2 22 2 1 2 34 2 -37 2 -31 2 54 2 21 2 24 2 -21 2 46 2 64 2 -42 2 -38 2 -12 2 45 2 88 2 -55 2 91 2 -40 2 -139 2 110 2 63 2 -137 2 8 2 37 2 -42 2 173 2 -182 2 -38 2 -30 2 14 2 -22 2 -22 2 -21 2 22 2 -100 2 52 2 34 2 -2 2 0 2 3 2 10 2 50 2 4 2 96 2 -115 2 35 2 -15 2 22 2 -39 2 -6 2 2 2 -87 2 89 2 -30 2 -69 2 -19 2 63 2 11 2 55 2 -49 2 53 2 -69 2 106 2 24 2 -63 2 -6 2 -15 2 66 2 45 2 -102 2 79 2 11 2 -57 2 -49 2 24 2 36 2 -28 2 51 2 164 2 -123 2 -31 2 65 2 -95 2 59 2 35 2 -36 2 25 2 -24 2 -121 2 44 2 -28 2 77 2 -44 2 -12 2 -129 2 -78 2 178 2 -100 2 -27 2 101 2 -109 2 150 2 -17 2 -49 2 38 2 8 2 -7 2 -13 2 79 2 5 2 41 2 -54 2 66 2 -45 2 -3 2 -122 2 -11 2 92 2 9 2 -42 2 -62 2 -86 2 119 2 -25 2 25 2 89 2 -117 2 48 2 -44 2 -7 2 -31 2 125 2 -12 2 -13 2 -95 2 38 2 -103 2 55 2 28 2 -17 2 -40 2 -18 2 90 2 15 2 -28 2 22 2 -87 2 66 2 -50 2 75 2 27 2 -11 2 -32 2 -122 2 55 2 -11 2 -17 2 -23 2 -3 2 7 2 -68 2 26 2 -74 2 10 2 17 2 -41 2 40 2 -8 2 -63 2 124 2 16 2 -32 2 -9 2 10 2 0 2 75 2 -4 2 58 2 -31 2 -32 2 -9 2 -93 2 188 2 -137 2 6 2 -83 2 31 2 93 2 88 2 -112 2 11 2 -57 2 -17 2 -86 2 60 2 80 2 -115 2 8 2 11 2 46 2 7 2 -42 2 17 2 100 2 -86 2 -64 2 73 2 7 2 -8 2 49 2 -187 2 163 2 -9 2 -40 2 8 2 7 2 117 2 -191 2 56 2 -44 2 102 2 114 2 -117 2 -60 2 38 2 95 2 -149 2 12 2 -84 2 15 2 13 2 72 2 -77 2 52 2 84 2 -20 2 -62 2 -62 2 156 2 -70 2 36 2 52 2 22 2 -86 2 -34 2 18 2 36 2 29 2 -23 2 -4 2 43 2 -107 2 -53 2 96 2 13 2 -24 2 -63 2 31 2 -17 2 -14 2 -12 2 21 2 46 2 -78 2 86 2 -46 2 12 2 22 2 6 2 -25 2 8 2 85 2 -78 2 -11 2 -74 2 -114 2 165 2 34 2 -63 2 -1 2 -11 2 28 2 -33 2 -3 2 -22 2 80 2 30 2 50 2 102 2 -95 2 18 2 -27 2 -39 2 29 2 32 2 8 2 -53 2 63 2 -49 2 -6 2 -52 2 -48 2 18 2 94 2 -60 2 -10 2 46 2 20 2 -22 2 52 2 80 2 -215 2 108 2 50 2 -58 2 -68 2 -2 2 22 2 -23 2 -61 2 15 2 30 2 7 2 -22 2 -25 2 10 2 172 2 -76 2 40 2 -57 2 -12 2 51 2 -4 2 -51 2 26 2 -48 2 72 2 -58 2 9 2 16 2 39 2 -30 2 51 2 -23 2 12 2 43 2 -8 2 -121 2 57 2 9 2 12 2 58 2 -49 2 -29 2 81 2 -127 2 64 2 87 2 5 2 -67 2 108 2 -103 2 77 2 -59 2 37 2 -112 2 54 2 -74 2 34 2 -2 2 16 2 47 2 -90 2 73 2 4 2 -91 2 97 2 -21 2 -81 2 26 2 13 2 -8 2 31 2 23 2 -58 2 8 2 -47 2 -52 2 -24 2 80 2 4 2 -15 2 -9 2 12 2 -74 2 -32 2 -1 2 22 2 -73 2 -7 2 24 2 58 2 45 2 52 2 -72 2 72 2 -72 2 -24 2 9 2 22 2 22 2 6 2 -42 2 -17 2 116 2 -57 2 -11 2 -76 2 57 2 -10 2 -5 2 28 2 -22 2 16 2 -60 2 36 2 -78 2 -35 2 110 2 -117 2 56 2 -29 2 -87 2 -23 2 28 2 -23 2 16 2 -8 2 15 2 109 2 -175 2 62 2 -11 2 24 2 -14 2 91 2 -7 2 50 2 -50 2 -27 2 100 2 -52 2 -26 2 21 2 -36 2 15 2 -166 2 174 2 29 2 -14 2 -27 2 28 2 13 2 67 2 -49 2 11 2 -37 2 89 2 -107 2 -33 2 -66 2 -5 2 -13 2 70 2 -51 2 14 2 53 2 -40 2 -36 2 55 2 13 2 -63 2 -29 2 -12 2 31 2 138 2 -279 2 146 2 69 2 -23 2 -15 2 -102 2 83 2 -34 2 26 2 12 2 -118 2 115 2 42 2 -23 2 -14 2 37 2 9 2 -17 2 -17 2 -8 2 51 2 -14 2 33 2 32 2 -12 2 33 2 -78 2 -63 2 1 2 74 2 -83 2 37 2 48 2 -2 2 -61 2 53 2 0 2 0 2 -31 2 6 2 8 2 83 2 -158 2 -61 2 49 2 15 2 -10 2 -9 2 14 2 23 2 92 2 -70 2 -6 2 -11 2 20 2 -16 2 94 2 1 2 97 2 -114 2 8 2 -115 2 -7 2 38 2 48 2 -23 2 69 2 37 2 -70 2 -10 2 -60 2 -7 2 51 2 -28 2 241 2 -276 2 98 2 -80 2 66 2 21 2 2 2 -50 2 -7 2 32 2 -68 2 36 2 -33 2 38 2 -4 2 3 2 6 2 85 2 -163 2 91 2 -43 2 66 2 -58 2 19 2 38 2 -26 2 111 2 -105 2 -25 2 18 2 -69 2 99 2 34 2 -4 2 34 2 -51 2 51 2 -14 2 46 2 -64 2 -2 2 -57 2 87 2 -14 2 -41 2 -25 2 -16 2 16 2 24 2 -11 2 -36 2 41 2 11 2 21 2 27 2 -69 2 143 2 -129 2 -189 2 185 2 -76 2 -101 2 142 2 -47 2 30 2 29 2 89 2 -24 2 38 2 30 2 -29 2 23 2 -28 2 5 2 -17 2 -2 2 15 2 17 2 27 2 70 2 129 2 -128 2 -91 2 -57 2 25 2 28 2 17 2 -6 2 -163 2 231 2 -95 2 118 2 67 2 -90 2 63 2 33 2 -28 2 -30 2 -3 2 102 2 -102 2 4 2 -112 2 -48 2 196 2 -16 2 18 2 -55 2 34 2 17 2 -15 2 11 2 37 2 -15 2 1 2 29 2 -12 2 -16 2 -102 2 -9 2 10 2 56 2 1 2 3 2 -24 2 0 2 -23 2 44 2 23 2 -12 2 -13 2 -6 2 212 2 -117 2 -9 2 -68 2 81 2 -27 2 -72 2 -15 2 116 2 -32 2 78 2 -78 2 26 2 -115 2 106 2 69 2 -115 2 0 2 172 2 -170 2 -87 2 88 2 49 2 -40 2 28 2 -64 2 70 2 -10 2 114 2 -46 2 68 2 -141 2 110 2 -110 2 29 2 30 2 -107 2 12 2 78 2 -131 2 32 2 53 2 -43 2 -105 2 178 2 -64 2 71 2 -114 2 75 2 -113 2 119 2 12 2 -84 2 82 2 -37 2 69 2 26 2 2 2 -14 2 -77 2 49 2 -73 2 87 2 -7 2 -20 2 16 2 -27 2 -29 2 38 2 -53 2 16 2 16 2 6 2 -19 2 65 2 -37 2 6 2 -19 2 -6 2 102 2 -10 2 -64 2 90 2 -99 2 24 2 97 2 -128 2 -22 2 21 2 -38 2 69 2 -37 2 135 2 -82 2 -34 2 26 2 -58 2 -14 2 20 2 171 2 -124 2 -19 2 67 2 -75 2 82 2 -10 2 -3 2 -11 2 -14 2 67 2 -79 2 44 2 -37 2 -81 2 127 2 -58 2 -55 2 -24 2 161 2 -151 2 -92 2 166 2 -78 2 97 2 -32 2 -26 2 1 2 39 2 14 2 -129 2 -73 2 58 2 -33 2 83 2 -21 2 23 2 -17 2 15 2 37 2 -106 2 -132 2 163 2 -18 2 77 2 -43 2 44 2 -19 2 53 2 -101 2 27 2 5 2 60 2 39 2 -47 2 -25 2 37 2 -64 2 41 2 23 2 10 2 -80 2 14 2 -43 2 127 2 -74 2 13 2 9 2 -17 2 -18 2 23 2 61 2 -146 2 76 2 -73 2 -2 2 30 2 -41 2 70 2 -94 2 -35 2 100 2 -145 2 170 2 -74 2 37 2 46 2 -33 2 -10 2 -37 2 59 2 -35 2 -34 2 241 2 -68 2 -175 2 80 2 45 2 -31 2 43 2 -59 2 55 2 -91 2 137 2 -49 2 -46 2 11 2 -39 2 38 2 -48 2 93 2 7 2 -98 2 -26 2 31 2 -53 2 17 2 -65 2 71 2 -45 2 -38 2 83 2 -55 2 23 2 -22 2 59 2 -10 2 135 2 9 2 -124 2 75 2 -89 2 153 2 26 2 -121 2 -35 2 127 2 -141 2 -50 2 85 2 -17 2 9 2 12 2 -38 2 -45 2 38 2 68 2 -74 2 -90 2 124 2 -15 2 44 2 -21 2 -29 2 28 2 -171 2 36 2 -18 2 54 2 -65 2 13 2 19 2 -14 2 37 2 -14 2 170 2 -117 2 48 2 12 2 8 2 152 2 -214 2 66 2 -26 2 -21 2 -35 2 26 2 -15 2 16 2 33 2 -61 2 -8 2 50 2 56 2 -6 2 -60 2 -105 2 -10 2 -142 2 33 2 55 2 47 2 47 2 -51 2 2 2 -82 2 146 2 -74 2 -55 2 21 2 58 2 47 2 50 2 2 2 -31 2 7 2 13 2 3 2 -17 2 0 2 30 2 -58 2 118 2 -110 2 33 2 18 2 44 2 -39 2 -90 2 -30 2 -6 2 -54 2 53 2 -2 2 23 2 -44 2 30 2 -78 2 38 2 -22 2 13 2 -46 2 48 2 -73 2 107 2 36 2 35 2 6 2 -103 2 11 2 -41 2 16 2 135 2 -186 2 88 2 18 2 9 2 53 2 25 2 -214 2 151 2 -18 2 -36 2 100 2 7 2 4 2 -25 2 36 2 -65 2 26 2 -56 2 -30 2 12 2 -99 2 106 2 18 2 -178 2 113 2 57 2 -43 2 25 2 0 2 -4 2 58 2 6 2 -6 2 40 2 -47 2 21 2 -23 2 -19 2 -31 2 -61 2 77 2 48 2 -23 2 -71 2 114 2 -146 2 -14 2 -146 2 170 2 32 2 -27 2 42 2 68 2 -6 2 14 2 -3 2 -16 2 -239 2 180 2 -11 2 -122 2 58 2 37 2 -74 2 102 2 -14 2 60 2 -57 2 -1 2 19 2 78 2 -13 2 -134 2 20 2 33 2 -28 2 -53 2 49 2 -75 2 98 2 107 2 117 2 -206 2 -9 2 -39 2 24 2 51 2 -71 2 31 2 8 2 -1 2 45 2 -4 2 42 2 -66 2 -6 2 -21 2 -32 2 -91 2 53 2 7 2 85 2 -48 2 -63 2 84 2 7 2 -89 2 131 2 -78 2 51 2 -165 2 85 2 0 2 57 2 -123 2 46 2 -4 2 -61 2 52 2 58 2 -121 2 23 2 -101 2 168 2 28 2 -10 2 -45 2 19 2 -5 2 -36 2 -6 2 76 2 33 2 -3 2 20 2 -149 2 30 2 -38 2 162 2 -77 2 -56 2 9 2 -19 2 65 2 -4 2 -38 2 38 2 -30 2 13 2 -18 2 7 2 -32 2 -8 2 14 2 -41 2 46 2 8 2 20 2 -34 2 -92 2 106 2 57 2 -17 2 -92 2 -17 2 -54 2 42 2 -61 2 98 2 31 2 -65 2 22 2 79 2 -56 2 -13 2 8 2 71 2 4 2 14 2 64 2 -61 2 -149 2 123 2 14 2 3 2 11 2 -67 2 135 2 -41 2 -30 2 -20 2 2 2 43 2 42 2 -68 2 102 2 -21 2 -144 2 112 2 -21 2 -106 2 34 2 24 2 43 2 -39 2 6 2 -13 2 -7 2 53 2 -138 2 207 2 -63 2 39 2 -72 2 82 2 -9 2 -21 2 -45 2 99 2 -17 2 64 2 -55 2 114 2 -63 2 -36 2 -28 2 -15 2 76 2 -24 2 18 2 -15 2 84 2 7 2 -86 2 110 2 -37 2 94 2 -154 2 -19 2 59 2 9 2 6 2 5 2 -56 2 47 2 13 2 118 2 67 2 -162 2 28 2 6 2 -77 2 49 2 -17 2 -53 2 -16 2 -25 2 19 2 197 2 -202 2 21 2 -36 2 26 2 -16 2 -8 2 -19 2 24 2 6 2 -21 2 59 2 14 2 -124 2 177 2 -97 2 16 2 -2 2 70 2 3 2 23 2 18 2 68 2 -141 2 -12 2 74 2 -149 2 43 2 26 2 25 2 4 2 9 2 -13 2 26 2 -59 2 -22 2 12 2 -49 2 -74 2 141 2 -58 2 81 2 2 2 -42 2 33 2 -133 2 92 2 23 2 -93 2 207 2 -159 2 86 2 -99 2 82 2 -62 2 82 2 12 2 24 2 -41 2 -28 2 41 2 35 2 -55 2 -46 2 35 2 -30 2 -60 2 41 2 -64 2 42 2 -145 2 114 2 -26 2 52 2 -69 2 33 2 -56 2 39 2 81 2 -31 2 2 2 96 2 -14 2 -183 2 94 2 -159 2 126 2 -7 2 58 2 -43 2 -74 2 88 2 36 2 23 2 -40 2 37 2 -32 2 21 2 -59 2 26 2 104 2 -120 2 37 2 73 2 -9 2 63 2 -10 2 16 2 -62 2 -5 2 163 2 -178 2 -9 2 -73 2 74 2 -25 2 14 2 9 2 -69 2 59 2 -14 2 57 2 -15 2 15 2 109 2 -69 2 -38 2 -93 2 21 2 2 2 55 2 78 2 -37 2 20 2 -67 2 49 2 83 2 -244 2 -68 2 88 2 -67 2 -69 2 131 2 32 2 -193 2 127 2 -5 2 -26 2 -5 2 95 2 32 2 -43 2 -49 2 -32 2 48 2 68 2 37 2 -57 2 92 2 -29 2 -24 2 61 2 -56 2 -42 2 23 2 -59 2 46 2 -1 2 100 2 -145 2 -20 2 82 2 -85 2 13 2 -46 2 147 2 -24 2 36 2 -14 2 29 2 9 2 0 2 -69 2 233 2 -50 2 -46 2 101 2 -136 2 -75 2 7 2 -94 2 86 2 17 2 -18 2 49 2 17 2 34 2 -106 2 -81 2 164 2 162 2 -111 2 28 2 -54 2 -82 2 9 2 56 2 -38 2 23 2 -35 2 -84 2 -7 2 119 2 -61 2 -68 2 93 2 -2 2 -26 2 -28 2 -34 2 -25 2 89 2 -80 2 24 2 -20 2 57 2 51 2 10 2 -8 2 31 2 -9 2 69 2 -103 2 70 2 -4 2 -21 2 57 2 -10 2 60 2 32 2 102 2 -126 2 -8 2 -62 2 28 2 10 2 -32 2 -117 2 204 2 -101 2 64 2 -63 2 -112 2 68 2 21 2 -28 2 24 2 -43 2 74 2 28 2 -49 2 108 2 -1 2 -93 2 -10 2 75 2 -75 2 -12 2 -31 2 10 2 120 2 -94 2 -48 2 30 2 38 2 -7 2 -91 2 36 2 -24 2 26 2 21 2 43 2 -154 2 142 2 -74 2 150 2 -79 2 59 2 -118 2 80 2 -91 2 68 2 35 2 -40 2 -93 2 56 2 -5 2 16 2 -8 2 19 2 -12 2 -6 2 91 2 -18 2 -78 2 218 2 -161 2 -84 2 -115 2 44 2 -63 2 73 2 -45 2 18 2 -9 2 38 2 6 2 69 2 -26 2 48 2 -43 2 41 2 -145 2 123 2 68 2 -51 2 1 2 -36 2 59 2 -52 2 60 2 -67 2 28 2 -67 2 165 2 -9 2 -95 2 1 2 -40 2 -104 2 177 2 -36 2 -58 2 58 2 -78 2 38 2 19 2 -48 2 -12 2 -3 2 62 2 3 2 -83 2 -15 2 26 2 -5 2 -46 2 43 2 43 2 -2 2 67 2 -66 2 -25 2 63 2 -45 2 -107 2 32 2 52 2 2 2 107 2 -65 2 -20 2 80 2 -81 2 71 2 -51 2 -89 2 185 2 -41 2 8 2 -61 2 32 2 -1 2 -45 2 -31 2 -1 2 -44 2 -13 2 -40 2 -5 2 64 2 -88 2 53 2 55 2 -1 2 -14 2 -71 2 68 2 -91 2 11 2 -6 2 44 2 5 2 -35 2 11 2 10 2 -9 2 -15 2 -11 2 29 2 51 2 -7 2 26 2 87 2 -104 2 40 2 -22 2 -25 2 106 2 -43 2 -53 2 9 2 -20 2 45 2 -84 2 18 2 56 2 49 2 -68 2 42 2 -112 2 118 2 -210 2 164 2 202 2 -181 2 -9 2 40 2 -44 2 -35 2 -11 2 -15 2 -2 2 -20 2 -79 2 14 2 39 2 59 2 -2 2 15 2 102 2 47 2 -64 2 -60 2 42 2 42 2 -70 2 -90 2 127 2 -33 2 6 2 88 2 -56 2 36 2 -24 2 -62 2 45 2 -2 2 -8 2 154 2 39 2 -85 2 69 2 -100 2 -82 2 41 2 -15 2 4 2 6 2 -44 2 55 2 38 2 -17 2 -92 2 23 2 4 2 30 2 113 2 -72 2 36 2 -40 2 -58 2 33 2 99 2 25 2 -55 2 -47 2 -2 2 42 2 -51 2 36 2 60 2 -28 2 -72 2 48 2 -209 2 116 2 -24 2 34 2 4 2 15 2 19 2 14 2 -60 2 139 2 136 2 -114 2 6 2 -36 2 8 2 31 2 -140 2 111 2 -119 2 47 2 20 2 -7 2 39 2 158 2 -133 2 -7 2 78 2 -74 2 67 2 -8 2 -110 2 78 2 16 2 -6 2 -77 2 51 2 3 2 18 2 -7 2 10 2 17 2 -10 2 -32 2 120 2 18 2 -52 2 45 2 -20 2 -7 2 -44 2 142 2 38 2 -82 2 -121 2 67 2 101 2 -139 2 31 2 141 2 -49 2 -48 2 -16 2 59 2 -67 2 17 2 -3 2 83 2 -130 2 22 2 63 2 -78 2 -18 2 -20 2 33 2 -28 2 -73 2 153 2 -6 2 -114 2 -4 2 106 2 -80 2 -10 2 -11 2 -99 2 74 2 105 2 -74 2 -47 2 0 2 112 2 -21 2 -87 2 77 2 33 2 -106 2 105 2 -1 2 -3 2 10 2 -36 2 65 2 -11 2 41 2 -27 2 79 2 -24 2 74 2 -146 2 -10 2 -10 2 11 2 -13 2 15 2 16 2 -32 2 -12 2 -22 2 4 2 9 2 10 2 28 2 59 2 59 2 -162 2 35 2 77 2 -121 2 -74 2 71 2 35 2 -43 2 19 2 -14 2 6 2 -13 2 -31 2 36 2 -8 2 -107 2 139 2 19 2 -14 2 26 2 43 2 -27 2 -1 2 -50 2 3 2 73 2 -72 2 111 2 -200 2 58 2 -32 2 9 2 37 2 -47 2 48 2 -9 2 -3 2 49 2 -3 2 96 2 -43 2 122 2 -233 2 82 2 153 2 -279 2 106 2 66 2 -206 2 64 2 70 2 0 2 -62 2 137 2 -213 2 157 2 -10 2 -42 2 222 2 -235 2 -37 2 20 2 -26 2 -143 2 144 2 9 2 -121 2 119 2 -70 2 49 2 169 2 -78 2 71 2 -32 2 -252 2 279 2 -127 2 -15 2 67 2 42 2 36 2 -14 2 -57 2 62 2 1 2 88 2 -123 2 13 2 23 2 34 2 27 2 -23 2 -18 2 144 2 11 2 -105 2 4 2 -108 2 156 2 -97 2 -3 2 -67 2 36 2 31 2 -37 2 -23 2 -123 2 -50 2 -32 2 71 2 93 2 -60 2 -11 2 -39 2 -43 2 61 2 159 2 -68 2 -50 2 71 2 -2 2 44 2 3 2 57 2 -2 2 -6 2 88 2 -76 2 57 2 -147 2 229 2 -64 2 -33 2 -2 2 -38 2 -48 2 77 2 62 2 -188 2 96 2 43 2 28 2 -224 2 47 2 4 2 47 2 -117 2 73 2 -10 2 -56 2 6 2 -34 2 70 2 37 2 -7 2 63 2 -47 2 22 2 75 2 -178 2 25 2 72 2 129 2 -134 2 -51 2 -1 2 76 2 5 2 57 2 -93 2 41 2 -2 2 171 2 -148 2 -25 2 70 2 -42 2 -66 2 25 2 -27 2 20 2 36 2 -59 2 28 2 18 2 -26 2 30 2 -16 2 20 2 -7 2 -34 2 -94 2 77 2 -55 2 39 2 27 2 5 2 9 2 25 2 3 2 31 2 -4 2 -60 2 -35 2 48 2 82 2 -98 2 -38 2 -154 2 129 2 35 2 154 2 -167 2 -22 2 115 2 62 2 -1 2 -7 2 -1 2 -21 2 -95 2 41 2 9 2 18 2 30 2 43 2 -173 2 131 2 -13 2 -149 2 -43 2 174 2 0 2 38 2 22 2 -35 2 57 2 -57 2 -10 2 -68 2 -16 2 -5 2 52 2 -25 2 -18 2 12 2 121 2 -118 2 -75 2 -85 2 -43 2 149 2 11 2 11 2 13 2 -199 2 109 2 33 2 12 2 -110 2 158 2 -7 2 -43 2 9 2 94 2 -155 2 34 2 2 2 55 2 -49 2 52 2 51 2 -29 2 -56 2 121 2 -70 2 11 2 57 2 -25 2 -33 2 24 2 -45 2 49 2 -86 2 15 2 50 2 -91 2 23 2 -15 2 -2 2 54 2 -8 2 53 2 -115 2 -14 2 64 2 -45 2 45 2 17 2 29 2 -52 2 78 2 26 2 -59 2 -9 2 -40 2 6 2 52 2 -51 2 -37 2 -8 2 -13 2 51 2 -14 2 10 2 62 2 13 2 46 2 -88 2 -26 2 -4 2 55 2 -54 2 -66 2 -95 2 72 2 25 2 -98 2 52 2 69 2 -115 2 168 2 -242 2 103 2 -30 2 50 2 23 2 -16 2 -5 2 85 2 -2 2 -75 2 35 2 -67 2 0 2 127 2 -54 2 -42 2 77 2 -130 2 140 2 -30 2 66 2 16 2 -74 2 47 2 95 2 54 2 23 2 -64 2 -14 2 -217 2 14 2 132 2 -19 2 16 2 32 2 -94 2 31 2 -47 2 46 2 -31 2 -45 2 -75 2 157 2 -53 2 120 2 -70 2 48 2 -101 2 -39 2 -67 2 -39 2 76 2 -84" stroke="#008b00"/>
<path transform="translate(124 0) scale(.1)" d="M0 3858 l2 -88 2 -50 2 55 2 31 2 -195 2 -3 2 105 2 -49 2 -13 2 41 2 -76 2 40 2 -108 2 125 2 -99 2 8 2 -14 2 50 2 -87 2 48 2 -69 2 47 2 -6 2 79 2 5 2 -55 2 -17 2 -12 2 21 2 114 2 32 2 -239 2 27 2 -91 2 52 2 93 2 -80 2 -9 2 -14 2 104 2 -137 2 83 2 -170 2 171 2 -33 2 -72 2 79 2 -79 2 -37 2 -4 2 -69 2 125 2 -37 2 -38 2 131 2 -187 2 71 2 33 2 -44 2 53 2 -92 2 84 2 -25 2 23 2 -6 2 35 2 -55 2 -23 2 22 2 -108 2 36 2 -135 2 99 2 -57 2 25 2 128 2 24 2 -109 2 86 2 47 2 -244 2 106 2 24 2 17 2 -2 2 21 2 -44 2 30 2 -38 2 -12 2 19 2 34 2 -157 2 128 2 53 2 -72 2 -66 2 204 2 55 2 -95 2 45 2 -19 2 -6 2 -36 2 8 2 -31 2 65 2 -42 2 -14 2 3 2 -40 2 1 2 -47 2 -31 2 83 2 -85 2 238 2 -210 2 -81 2 35 2 -37 2 111 2 -32 2 -66 2 96 2 12 2 -152 2 116 2 64 2 -108 2 31 2 -28 2 94 2 -3 2 -35 2 -99 2 198 2 -130 2 86 2 -78 2 31 2 -9 2 4 2 -72 2 21 2 7 2 -84 2 60 2 -79 2 87 2 36 2 -30 2 163 2 -109 2 -8 2 -34 2 39 2 -5 2 50 2 45 2 -134 2 -50 2 -26 2 38 2 -3 2 -19 2 48 2 -86 2 147 2 -50 2 5 2 19 2 -36 2 -10 2 132 2 -78 2 3 2 -55 2 51 2 -43 2 -23 2 -62 2 89 2 -109 2 150 2 -14 2 -5 2 37 2 -30 2 -92 2 -61 2 7 2 -10 2 69 2 -11 2 -41 2 133 2 -169 2 48 2 120 2 -5 2 -77 2 117 2 -20 2 55 2 54 2 -3 2 -174 2 93 2 58 2 -41 2 -15 2 -36 2 8 2 5 2 -59 2 -54 2 13 2 9 2 22 2 -67 2 165 2 -57 2 -28 2 -31 2 121 2 90 2 -312 2 68 2 169 2 -312 2 111 2 20 2 -47 2 -19 2 127 2 -29 2 61 2 -57 2 59 2 33 2 -33 2 23 2 69 2 -308 2 291 2 -102 2 89 2 -28 2 -73 2 21 2 -17 2 68 2 63 2 -133 2 -19 2 26 2 25 2 -34 2 -32 2 -33 2 -42 2 113 2 28 2 -84 2 28 2 -44 2 39 2 45 2 -10 2 79 2 38 2 -61 2 8 2 -98 2 -6 2 35 2 -34 2 54 2 -89 2 46 2 44 2 98 2 -286 2 117 2 -25 2 71 2 -9 2 41 2 -51 2 2 2 0 2 -75 2 -40 2 157 2 -38 2 8 2 -62 2 25 2 66 2 -34 2 -8 2 -14 2 -18 2 -142 2 85 2 37 2 107 2 -155 2 42 2 -27 2 -32 2 -59 2 58 2 48 2 82 2 57 2 -109 2 1 2 -11 2 20 2 2 2 21 2 -52 2 -29 2 -58 2 216 2 -121 2 -5 2 173 2 -252 2 36 2 129 2 47 2 -123 2 -27 2 -63 2 40 2 62 2 -63 2 -67 2 86 2 110 2 -120 2 -25 2 82 2 -49 2 26 2 -3 2 -132 2 16 2 108 2 -9 2 8 2 -113 2 47 2 59 2 39 2 55 2 -17 2 -18 2 12 2 25 2 -5 2 -21 2 -10 2 128 2 -57 2 -59 2 -58 2 115 2 -49 2 -19 2 2 2 17 2 -105 2 36 2 103 2 -44 2 50 2 -72 2 67 2 -93 2 18 2 192 2 -25 2 -50 2 3 2 -81 2 30 2 60 2 -222 2 99 2 -136 2 139 2 -20 2 -9 2 16 2 70 2 22 2 -77 2 71 2 -50 2 75 2 -83 2 46 2 55 2 -78 2 -89 2 176 2 12 2 16 2 -14 2 44 2 34 2 -33 2 -92 2 9 2 39 2 -51 2 -26 2 37 2 -38 2 51 2 -80 2 55 2 46 2 -55 2 82 2 -45 2 32 2 -136 2 -29 2 6 2 29 2 -174 2 63 2 73 2 19 2 19 2 -23 2 66 2 -84 2 -38 2 133 2 -53 2 65 2 -93 2 59 2 -63 2 -41 2 -46 2 15 2 126 2 -78 2 55 2 -4 2 -11 2 9 2 -45 2 -35 2 60 2 79 2 -14 2 -190 2 17 2 39 2 -25 2 -49 2 -106 2 47 2 -157 2 169 2 51 2 54 2 -79 2 49 2 -183 2 178 2 -113 2 36 2 2 2 -43 2 -10 2 203 2 -225 2 51 2 -9 2 51 2 7 2 -51 2 -53 2 -243 2 174 2 36 2 47 2 -61 2 -75 2 25 2 11 2 -91 2 248 2 -214 2 -55 2 176 2 -69 2 -48 2 124 2 -35 2 -25 2 65 2 -56 2 -23 2 75 2 -53 2 -7 2 77 2 -49 2 -6 2 -150 2 179 2 16 2 -80 2 2 2 -11 2 -13 2 94 2 -44 2 73 2 -118 2 -37 2 88 2 57 2 -35 2 55 2 -210 2 9 2 -7 2 148 2 -28 2 -57 2 31 2 15 2 33 2 28 2 -29 2 27 2 31 2 72 2 33 2 -73 2 -29 2 -9 2 85 2 -67 2 21 2 -118 2 83 2 -8 2 59 2 -69 2 -26 2 35 2 44 2 6 2 7 2 6 2 75 2 -85 2 26 2 -50 2 95 2 -75 2 101 2 -144 2 -94 2 45 2 103 2 -65 2 44 2 86 2 6 2 -75 2 -1 2 69 2 -34 2 -13 2 -24 2 -51 2 84 2 -26 2 25 2 -53 2 53 2 23 2 -8 2 6 2 -1 2 -9 2 -93 2 305 2 -164 2 109 2 -158 2 72 2 -4 2 18 2 31 2 -71 2 46 2 79 2 -26 2 5 2 67 2 -49 2 -33 2 -70 2 46 2 -39 2 49 2 29 2 35 2 -46 2 -24 2 17 2 -35 2 15 2 96 2 83 2 11 2 -108 2 24 2 -47 2 90 2 50 2 22 2 -9 2 77 2 -12 2 21 2 6 2 35 2 -109 2 41 2 -47 2 30 2 -89 2 210 2 -38 2 -37 2 47 2 -19 2 -10 2 -6 2 83 2 -34 2 68 2 -70 2 81 2 -79 2 20 2 45 2 -137 2 47 2 -73 2 42 2 51 2 15 2 -54 2 48 2 18 2 17 2 67 2 -43 2 23 2 -53 2 -27 2 23 2 12 2 -33 2 7 2 57 2 37 2 -50 2 68 2 -50 2 19 2 49 2 -5 2 -13 2 53 2 -1 2 8 2 -115 2 -74 2 105 2 -13 2 -38 2 7 2 -51 2 -25 2 -67 2 104 2 -9 2 -208 2 92 2 200 2 -59 2 -31 2 -115 2 76 2 -102 2 -6 2 82 2 -7 2 -15 2 -100 2 104 2 -110 2 140 2 21 2 -24 2 50 2 -29 2 -16 2 19 2 -61 2 -24 2 30 2 -7 2 -24 2 111 2 -202 2 138 2 -67 2 -82 2 33 2 1 2 34 2 31 2 32 2 -56 2 6 2 10 2 -75 2 -4 2 -9 2 55 2 -17 2 -11 2 17 2 -96 2 108 2 -36 2 56 2 -53 2 32 2 -111 2 35 2 9 2 65 2 147 2 -98 2 -32 2 49 2 -149 2 77 2 -97 2 34 2 -43 2 72 2 -21 2 16 2 -36 2 -44 2 81 2 48 2 -39 2 93 2 -103 2 -4 2 24 2 17 2 -69 2 48 2 45 2 -94 2 36 2 -7 2 22 2 52 2 -112 2 268 2 -274 2 85 2 -64 2 71 2 -77 2 -13 2 22 2 30 2 18 2 2 2 -31 2 27 2 -65 2 88 2 -15 2 -41 2 67 2 -18 2 2 2 42 2 36 2 -94 2 31 2 -90 2 120 2 -53 2 26 2 57 2 -48 2 -13 2 21 2 90 2 82 2 -167 2 87 2 -91 2 30 2 6 2 -47 2 -1 2 17 2 -93 2 87 2 83 2 -301 2 163 2 43 2 -81 2 23 2 -48 2 -10 2 71 2 -184 2 66 2 85 2 -109 2 10 2 111 2 14 2 -33 2 10 2 -18 2 6 2 -75 2 194 2 -162 2 107 2 -36 2 -7 2 -36 2 103 2 -245 2 212 2 -32 2 -26 2 25 2 43 2 -17 2 82 2 -111 2 -39 2 234 2 -149 2 -36 2 -6 2 -9 2 20 2 7 2 14 2 -68 2 -24 2 77 2 41 2 9 2 5 2 -4 2 -151 2 37 2 26 2 -14 2 43 2 -41 2 24 2 18 2 -1 2 18 2 -51 2 71 2 -157 2 85 2 88 2 56 2 -211 2 -199 2 321 2 32 2 -76 2 25 2 -29 2 -5 2 1 2 -86 2 8 2 14 2 26 2 3 2 -127 2 -23 2 33 2 42 2 -114 2 -54 2 23 2 33 2 -13 2 22 2 57 2 -1 2 -18 2 -21 2 40 2 -26 2 93 2 -4 2 -99 2 96 2 29 2 -176 2 89 2 111 2 -78 2 93 2 -91 2 7 2 -15 2 4 2 20 2 49 2 -144 2 117 2 -22 2 17 2 -8 2 -69 2 50 2 63 2 -32 2 -19 2 7 2 69 2 -55 2 -180 2 181 2 -129 2 31 2 57 2 90 2 -22 2 -83 2 -64 2 49 2 56 2 -55 2 7 2 -8 2 -57 2 -10 2 79 2 75 2 -124 2 73 2 -85 2 11 2 50 2 -63 2 -13 2 100 2 -57 2 -85 2 135 2 -14 2 -42 2 11 2 13 2 -50 2 59 2 -151 2 121 2 103 2 -201 2 192 2 -71 2 26 2 16 2 -10 2 30 2 69 2 -52 2 19 2 70 2 -27 2 -91 2 65 2 96 2 -41 2 -79 2 -36 2 7 2 7 2 24 2 -41 2 -149 2 99 2 -90 2 183 2 -72 2 -17 2 -12 2 22 2 -6 2 -37 2 -25 2 64 2 -74 2 29 2 -95 2 -16 2 25 2 -51 2 79 2 52 2 22 2 21 2 -76 2 -50 2 80 2 -3 2 -19 2 4 2 2 2 -14 2 -35 2 89 2 -118 2 90 2 -2 2 5 2 57 2 -100 2 41 2 5 2 82 2 -25 2 23 2 7 2 -88 2 -99 2 80 2 26 2 24 2 103 2 28 2 -96 2 1 2 52 2 -139 2 41 2 59 2 -42 2 -44 2 10 2 31 2 4 2 -12 2 -53 2 50 2 72 2 -6 2 11 2 -175 2 166 2 -41 2 -50 2 -13 2 29 2 16 2 -5 2 55 2 8 2 -53 2 15 2 10 2 -36 2 -48 2 17 2 45 2 47 2 -68 2 -1 2 5 2 -91 2 22 2 24 2 -47 2 62 2 34 2 71 2 74 2 -43 2 -116 2 -22 2 92 2 -20 2 -205 2 117 2 90 2 -112 2 44 2 37 2 -92 2 2 2 31 2 60 2 82 2 -30 2 -78 2 44 2 -51 2 -33 2 -51 2 91 2 2 2 122 2 -159 2 40 2 46 2 -34 2 111 2 -63 2 31 2 -25 2 34 2 -41 2 69 2 -94 2 124 2 -122 2 -41 2 -77 2 122 2 42 2 -28 2 -36 2 -33 2 25 2 91 2 -92 2 7 2 19 2 -10 2 6 2 -25 2 101 2 67 2 -103 2 -100 2 17 2 50 2 43 2 -7 2 -78 2 105 2 -57 2 84 2 -113 2 3 2 136 2 -61 2 -80 2 54 2 -76 2 -35 2 87 2 -15 2 33 2 19 2 -33 2 -20 2 -30 2 76 2 -175 2 21 2 65 2 36 2 -89 2 -103 2 118 2 42 2 -51 2 25 2 40 2 -124 2 -14 2 43 2 209 2 -123 2 -46 2 -42 2 78 2 -39 2 51 2 24 2 -5 2 82 2 4 2 -108 2 154 2 2 2 -52 2 -13 2 -112 2 47 2 21 2 36 2 32 2 -47 2 52 2 -57 2 60 2 -149 2 81 2 -18 2 -102 2 20 2 78 2 51 2 -91 2 44 2 63 2 -52 2 14 2 5 2 -58 2 99 2 -108 2 114 2 -120 2 98 2 -127 2 6 2 59 2 -17 2 50 2 -36 2 59 2 -59 2 108 2 56 2 -83 2 30 2 -77 2 29 2 106 2 -69 2 -41 2 -7 2 75 2 -77 2 -18 2 -2 2 19 2 -40 2 28 2 -82 2 8 2 -26 2 42 2 -44 2 28 2 -46 2 -5 2 19 2 8 2 -21 2 -15 2 84 2 47 2 -115 2 -140 2 74 2 29 2 56 2 25 2 -6 2 17 2 60 2 -87 2 42 2 -3 2 -8 2 15 2 45 2 -81 2 -59 2 72 2 39 2 -60 2 26 2 -14 2 -45 2 -15 2 -21 2 -29 2 10 2 13 2 -18 2 168 2 -47 2 -149 2 65 2 -49 2 26 2 -82 2 -22 2 79 2 -4 2 0 2 69 2 -75 2 67 2 44 2 -46 2 73 2 -28 2 -20 2 -17 2 86 2 -104 2 30 2 29 2 -112 2 -10 2 -31 2 7 2 23 2 92 2 18 2 -20 2 28 2 7 2 -67 2 -22 2 44 2 46 2 -52 2 -19 2 11 2 73 2 -63 2 -25 2 66 2 -21 2 -1 2 57 2 -4 2 47 2 -116 2 30 2 18 2 43 2 -111 2 47 2 55 2 -28 2 4 2 41 2 -215 2 121 2 -10 2 73 2 -113 2 33 2 -47 2 36 2 -115 2 63 2 0 2 -28 2 -5 2 -9 2 10 2 54 2 -7 2 40 2 -140 2 86 2 -7 2 30 2 2 2 23 2 -84 2 114 2 34 2 -55 2 15 2 -88 2 -21 2 109 2 -81 2 59 2 2 2 28 2 12 2 18 2 145 2 -91 2 -30 2 -66 2 36 2 -142 2 78 2 12 2 -6 2 -42 2 8 2 1 2 0 2 18 2 11 2 -118 2 53 2 55 2 -52 2 58 2 15 2 -28 2 0 2 75 2 -46 2 -83 2 66 2 5 2 -79 2 145 2 -96 2 41 2 6 2 74 2 42 2 -57 2 -7 2 -39 2 8 2 141 2 -187 2 22 2 -66 2 85 2 62 2 -111 2 -126 2 21 2 273 2 -135 2 -46 2 51 2 -80 2 -5 2 -67 2 74 2 25 2 36 2 -70 2 -46 2 72 2 107 2 -8 2 -63 2 56 2 96 2 -17 2 -25 2 -36 2 67 2 -111 2 81 2 -3 2 59 2 101 2 -55 2 -180 2 116 2 26 2 -10 2 31 2 -96 2 54 2 -64 2 5 2 -41 2 22 2 5 2 -20 2 -66 2 138 2 -155 2 -66 2 104 2 -43 2 99 2 -6 2 4 2 -80 2 -68 2 70 2 25 2 -9 2 1 2 -69 2 210 2 -140 2 38 2 -36 2 61 2 71 2 -100 2 6 2 18 2 75 2 -26 2 53 2 -2 2 -20 2 61 2 -80 2 18 2 22 2 -31 2 15 2 16 2 -35 2 -68 2 78 2 -29 2 20 2 -2 2 -39 2 19 2 -124 2 -62 2 180 2 43 2 -194 2 38 2 -17 2 19 2 110 2 -116 2 -49 2 107 2 9 2 -73 2 132 2 81 2 -53 2 -34 2 5 2 -28 2 13 2 22 2 -51 2 -11 2 -9 2 -8 2 -35 2 -23 2 22 2 -57 2 2 2 -72 2 132 2 24 2 127 2 -164 2 69 2 -15 2 -2 2 -28 2 10 2 -7 2 -30 2 -41 2 55 2 -28 2 -47 2 65 2 36 2 -27 2 87 2 -125 2 91 2 -41 2 2 2 7 2 -62 2 3 2 68 2 -8 2 4 2 14 2 41 2 -99 2 76 2 23 2 -35 2 5 2 62 2 -46 2 -15 2 83 2 -49 2 -89 2 13 2 -55 2 79 2 -12 2 29 2 93 2 -83 2 -31 2 -60 2 6 2 44 2 -68 2 -23 2 79 2 13 2 -38 2 42 2 -42 2 -17 2 15 2 -8 2 22 2 23 2 -81 2 -55 2 21 2 50 2 -75 2 87 2 25 2 17 2 -20 2 -29 2 64 2 107 2 -96 2 -57 2 170 2 -167 2 223 2 -118 2 44 2 -72 2 100 2 83 2 -138 2 -11 2 16 2 -9 2 -143 2 20 2 -36 2 132 2 35 2 -112 2 -40 2 33 2 3 2 102 2 -96 2 19 2 69 2 -69 2 33 2 -47 2 71 2 6 2 -44 2 53 2 -26 2 -51 2 -131 2 148 2 -48 2 66 2 132 2 89 2 -166 2 51 2 -96 2 5 2 -10 2 210 2 -224 2 76 2 -59 2 -23 2 -1 2 182 2 -137 2 -91 2 69 2 5 2 -39 2 17 2 -18 2 87 2 -98 2 38 2 4 2 14 2 -13 2 -25 2 5 2 122 2 -110 2 -27 2 61 2 -16 2 2 2 44 2 -34 2 7 2 30 2 -38 2 14 2 -39 2 74 2 -23 2 9 2 -17 2 41 2 -36 2 18 2 119 2 -136 2 -176 2 154 2 -52 2 136 2 5 2 82 2 -32 2 -23 2 -80 2 102 2 32 2 -96 2 -13 2 -19 2 26 2 -6 2 33 2 -7 2 -16 2 21 2 -1 2 -42 2 17 2 -22 2 -23 2 69 2 -23 2 -57 2 5 2 -9 2 -8 2 -85 2 95 2 -32 2 198 2 -242 2 22 2 75 2 0 2 29 2 -38 2 -67 2 -7 2 63 2 -93 2 42 2 52 2 -2 2 8 2 93 2 -39 2 -64 2 79 2 -18 2 118 2 1 2 -94 2 72 2 -55 2 49 2 65 2 -159 2 61 2 -51 2 -3 2 61 2 -68 2 57 2 27 2 -86 2 29 2 -25 2 107 2 -24 2 -184 2 -46 2 186 2 -30 2 -120 2 242 2 -109 2 70 2 -106 2 21 2 75 2 -118 2 80 2 -36 2 33 2 67 2 -32 2 -103 2 47 2 37 2 -129 2 37 2 -66 2 87 2 -15 2 2 2 28 2 116 2 -201 2 22 2 64 2 50 2 -67 2 -35 2 38 2 -68 2 233 2 -158 2 -64 2 126 2 -36 2 -132 2 115 2 42 2 -73 2 41 2 7 2 152 2 -114 2 -66 2 56 2 61 2 -52 2 105 2 -95 2 12 2 -23 2 -71 2 31 2 -33 2 14 2 -81 2 1 2 43 2 -27 2 21 2 44 2 -154 2 79 2 8 2 -19 2 118 2 -80 2 -179 2 133 2 3 2 34 2 138 2 50 2 -168 2 -36 2 71 2 -32 2 -9 2 -30 2 65 2 12 2 -29 2 -3 2 4 2 -20 2 48 2 112 2 -125 2 32 2 11 2 -23 2 -50 2 -73 2 72 2 -6 2 6 2 -92 2 33 2 -132 2 116 2 -37 2 97 2 9 2 -67 2 68 2 40 2 27 2 -74 2 9 2 -57 2 37 2 -102 2 41 2 -81 2 63 2 7 2 -33 2 55 2 -35 2 21 2 44 2 -68 2 95 2 30 2 -138 2 6 2 -43 2 26 2 53 2 -19 2 12 2 -25 2 8 2 -13 2 90 2 -9 2 76 2 -27 2 28 2 -52 2 119 2 -113 2 -20 2 -99 2 69 2 99 2 -97 2 -49 2 97 2 4 2 -64 2 83 2 -18 2 -1 2 -22 2 -68 2 81 2 124 2 -137 2 -38 2 75 2 23 2 -32 2 5 2 -67 2 54 2 -81 2 187 2 -90 2 -38 2 87 2 -54 2 4 2 -70 2 -9 2 -6 2 17 2 -41 2 47 2 3 2 14 2 -146 2 -13 2 84 2 -5 2 -1 2 14 2 -6 2 100 2 -77 2 38 2 9 2 0 2 2 2 0 2 73 2 -101 2 -125 2 113 2 45 2 148 2 -109 2 -34 2 -6 2 18 2 10 2 -62 2 101 2 -92 2 -8 2 59 2 -44 2 -57 2 105 2 -110 2 110 2 -11 2 15 2 -25 2 -32 2 44 2 -5 2 -15 2 7 2 101 2 -184 2 77 2 6 2 108 2 -215 2 133 2 -171 2 59 2 46 2 -103 2 -20 2 90 2 -32 2 35 2 -35 2 79 2 -140 2 -39 2 -28 2 74 2 -42 2 206 2 -140 2 4 2 -24 2 -5 2 -14 2 4 2 -10 2 -10 2 2 2 3 2 5 2 0 2 37 2 105 2 -94 2 -4 2 46 2 171 2 -162 2 3 2 69 2 -39 2 14 2 -77 2 -43 2 150 2 6 2 56 2 -22 2 -119 2 52 2 -62 2 -2 2 -31 2 -10 2 64 2 -113 2 6 2 -27 2 87 2 -69 2 6 2 19 2 -47 2 34 2 -36 2 23 2 -65 2 111 2 -30 2 17 2 16 2 6 2 23 2 45 2 -71 2 67 2 -59 2 -14 2 39 2 8 2 -18 2 -40 2 -15 2 -72 2 121 2 -15 2 -28 2 57 2 -12 2 60 2 70 2 -35 2 106 2 -175 2 61 2 -22 2 -114 2 83 2 12 2 -129 2 36 2 27 2 69 2 17 2 -86 2 29 2 -60 2 -68 2 42 2 -66 2 -76 2 107 2 -16 2 6 2 31 2 79 2 -14 2 -67 2 85 2 21 2 -84 2 -8 2 30 2 22 2 6 2 14 2 54 2 49 2 -40 2 -133 2 107 2 -6 2 -1 2 7 2 -7 2 95 2 -50 2 -16 2 -2 2 -126 2 36 2 3 2 30 2 -37 2 -1 2 168 2 -70 2 -10 2 113 2 -159 2 41 2 14 2 61 2 -42 2 -36 2 -13 2 -7 2 6 2 -46 2 -37 2 19 2 61 2 -32 2 32 2 -9 2 -35 2 45 2 -113 2 133 2 -40 2 -51 2 -67 2 80 2 32 2 8 2 -29 2 -15 2 51 2 22 2 24 2 -25 2 1 2 -74 2 112 2 14 2 143 2 -273 2 3 2 29 2 111 2 -59 2 -50 2 74 2 25 2 -9 2 -116 2 180 2 -90 2 70 2 -79 2 -98 2 -76 2 134 2 -150 2 105 2 38 2 -21 2 -29 2 -126 2 61 2 60 2 5 2 96 2 4 2 -32 2 17 2 -62 2 95 2 -24 2 25 2 -4 2 -27 2 -11 2 -67 2 100 2 8 2 -19 2 46 2 9 2 -38 2 -26 2 -72 2 84 2 -46 2 -18 2 36 2 27 2 19 2 9 2 9 2 -111 2 40 2 -2 2 -4 2 -69 2 64 2 71 2 -65 2 12 2 -50 2 102 2 -40 2 8 2 26 2 -96 2 26 2 31 2 51 2 -40 2 -56 2 -64 2 95 2 51 2 -49 2 -17 2 10 2 -55 2 -27 2 -24 2 10 2 -55 2 -18 2 135 2 5 2 50 2 -85 2 -63 2 -12 2 -8 2 -5 2 48 2 30 2 23 2 20 2 71 2 -60 2 93 2 -57 2 -70 2 58 2 -77 2 -4 2 36 2 -95 2 131 2 20 2 -35 2 -72 2 33 2 38 2 -72 2 27 2 -109 2 -14 2 -47 2 154 2 -8 2 25 2 -29 2 -151 2 195 2 -63 2 53 2 -60 2 -64 2 69 2 -27 2 10 2 8 2 -15 2 61 2 39 2 -66 2 6 2 7 2 -54 2 98 2 52 2 -55 2 -2 2 12 2 99 2 -97 2 57 2 -82 2 5 2 39 2 -29 2 -12 2 20 2 -52 2 81 2 13 2 -57 2 -227 2 215 2 -58 2 22 2 81 2 -89 2 48 2 -72 2 110 2 -117 2 60 2 24 2 44 2 -68 2 71 2 -177 2 67 2 18 2 36 2 18 2 -69 2 55 2 -24 2 22 2 -35 2 89 2 -27 2 45 2 -51 2 0 2 16 2 -56 2 85 2 19 2 -22 2 -39 2 65 2 -24 2 -157 2 149 2 -11 2 3 2 59 2 -154 2 139 2 -68 2 40 2 48 2 -2 2 4 2 58 2 -20 2 -79 2 -33 2 -16 2 -11 2 -54 2 36 2 -40 2 14 2 -34 2 68 2 20 2 -12 2 25 2 -70 2 62 2 5 2 -39 2 100 2 -101 2 23 2 -15 2 -43 2 52 2 74 2 -57 2 -93 2 77 2 0 2 108 2 21 2 -59 2 -44 2 -106 2 112 2 48 2 2 2 18 2 -37 2 -19 2 -43 2 85 2 -36 2 -41 2 7 2 -40 2 39 2 38 2 -2 2 -49 2 -19 2 33 2 -24 2 3 2 23 2 -26 2 141 2 -115 2 22 2 0 2 63 2 -16 2 67 2 -12 2 -108 2 -50 2 9 2 106 2 24 2 -108 2 42 2 13 2 33 2 -203 2 199 2 -70 2 10 2 122 2 -44 2 116 2 -134 2 36 2 -47 2 -13 2 -17 2 24 2 -26 2 -3 2 50 2 -110 2 -133 2 83 2 -102 2 21 2 79 2 -17 2 39 2 -51 2 -15 2 -80 2 101 2 83 2 -24 2 -102 2 51 2 29 2 -29 2 -9 2 98 2 -26 2 33 2 -57 2 19 2 84 2 13 2 20 2 -71 2 78 2 47 2 18 2 16 2 -116 2 16 2 13 2 -55 2 -38 2 80 2 -32 2 94 2 -57 2 2 2 24 2 -130 2 -83 2 12 2 17 2 1 2 -30 2 20 2 -117 2 21 2 80 2 -127 2 -51 2 19 2 18 2 -18 2 92 2 -60 2 40 2 71 2 -46 2 140 2 -170 2 69 2 13 2 63 2 -85 2 125 2 -1 2 -75 2 32 2 83 2 -89 2 81 2 -61 2 30 2 -37 2 -32 2 7 2 53 2 -46 2 -53 2 65 2 -111 2 113 2 -94 2 265 2 -195 2 -2 2 53 2 2 2 24 2 -47 2 -5 2 36 2 -15 2 52 2 -45 2 6 2 36 2 12 2 51 2 -72 2 3 2 51 2 -93 2 45 2 -60 2 43 2 -105 2 63 2 -178 2 19 2 65 2 -118 2 2 2 116 2 -36 2 85 2 -29 2 -101 2 73 2 -15 2 3 2 151 2 -47 2 -15 2 19 2 23 2 -62 2 -54 2 202 2 -278 2 161 2 93 2 30 2 -8 2 -18 2 132 2 -10 2 -117 2 37 2 -27 2 57 2 -83 2 50 2 -128 2 162 2 -30 2 -67 2 61 2 153 2 -197 2 15 2 0 2 -82 2 73 2 24 2 55 2 -61 2 -77 2 72 2 76 2 -120 2 12 2 21 2 -119 2 30 2 -40 2 -80 2 81 2 -11 2 49 2 -42 2 174 2 -157 2 64 2 8 2 13 2 -98 2 243 2 -143 2 164 2 -64 2 -58 2 44 2 -218 2 122 2 3 2 -13 2 -27 2 55 2 -103 2 73 2 10 2 -46 2 -20 2 109 2 30 2 -84 2 -136 2 119 2 -3 2 25 2 -59 2 -58 2 191 2 -100 2 32 2 -62 2 -158 2 71 2 -38 2 41 2 157 2 -197 2 156 2 -160 2 -45 2 104 2 64 2 26 2 -44 2 -25 2 77 2 -126 2 98 2 49 2 -26 2 72 2 -36 2 -91 2 91 2 123 2 -153 2 14 2 -52 2 -85 2 110 2 33 2 -25 2 -78 2 90 2 -63 2 86 2 -92 2 9 2 -49 2 89 2 -68 2 3 2 -47 2 81 2 -35 2 68 2 22 2 26 2 7 2 -43 2 -15 2 -119 2 172 2 -156 2 226 2 -80 2 -98 2 42 2 -11 2 -33 2 -28 2 -51 2 -110 2 179 2 16 2 -97 2 178 2 -158 2 -104 2 139 2 30 2 -2 2 -15 2 -56 2 9 2 106 2 42 2 -57 2 45 2 -33 2 -32 2 16 2 -37 2 61 2 14 2 12 2 -11 2 -18 2 -18 2 30 2 19 2 144 2 -153 2 -20 2 25 2 37 2 -19 2 -96 2 206 2 -161 2 48 2 -121 2 112 2 20 2 -33 2 68 2 31 2 -105 2 65 2 -15 2 -10 2 52 2 -20 2 -1 2 34 2 -31 2 -28 2 12 2 -18 2 -3 2 -74 2 69 2 -24 2 39 2 8 2 2 2 -61 2 2 2 -28 2 23 2 86 2 -100 2 81 2 37 2 -27 2 -27 2 70 2 74 2 -112 2 18 2 -9 2 -133 2 112 2 -104 2 94 2 29 2 24 2 -61 2 54 2 -4 2 -37 2 -34 2 -77 2 57 2 -64 2 138 2 -82 2 43 2 -105 2 90 2 -24 2 28 2 109 2 -123 2 -111 2 36 2 108 2 -82 2 70 2 126 2 -41 2 33 2 -52 2 -54 2 -198 2 218 2 -43 2 26 2 -9 2 -76 2 85 2 -48 2 105 2 -59 2 -15 2 24 2 -56 2 136 2 -89 2 18 2 -76 2 122 2 50 2 -73 2 51 2 86 2 -57 2 30 2 11 2 49 2 -70 2 35 2 -97 2 85 2 -95 2 -59 2 -17 2 84 2 -126 2 46 2 -9 2 135 2 -89 2 -77 2 18 2 -57 2 117 2 -64 2 38 2 -35 2 -65 2 75 2 28 2 43 2 -120 2 49 2 14 2 -97 2 285 2 -110 2 3 2 -107 2 33 2 -26 2 37 2 -50 2 71 2 -22 2 -36 2 79 2 -71 2 111 2 42 2 -15 2 -6 2 15 2 -38 2 66 2 -80 2 -69 2 74 2 167 2 -176 2 -5 2 53 2 -79 2 22 2 18 2 -17 2 18 2 83 2 -49 2 98 2 -81 2 -64 2 110 2 -11 2 -145 2 73 2 -52 2 -58 2 10 2 145 2 -60 2 -95 2 72 2 3 2 11 2 -9 2 -57 2 -39 2 -12 2 27 2 52 2 19 2 -15 2 -14 2 -26 2 -65 2 -18 2 119 2 48 2 -2 2 -14 2 -40 2 42 2 26 2 -60 2 -33 2 88 2 98 2 -23 2 -78 2 80 2 -135 2 21 2 67 2 -174 2 122 2 -27 2 103 2 50 2 -75 2 -9 2 85 2 -68 2 -11 2 -80 2 112 2 2 2 -110 2 78 2 -265 2 235 2 -26 2 29 2 -15 2 -6 2 -120 2 -101 2 200 2 0 2 -1 2 -23 2 -53 2 47 2 117 2 -18 2 7 2 -95 2 92 2 -14 2 -38 2 17 2 46 2 -42 2 -38 2 23 2 10 2 -31 2 -39 2 137 2 -162 2 33 2 9 2 -3 2 -42 2 16 2 23 2 -68 2 -7 2 32 2 12 2 -12 2 7 2 -142 2 -36 2 83 2 91 2 -46 2 100 2 -20 2 -66 2 204 2 -206 2 103 2 -21 2 9 2 -20 2 37 2 -40 2 32 2 -17 2 -8 2 -91 2 152 2 -8 2 12 2 46 2 -39 2 -1 2 52 2 -181 2 95 2 29 2 21 2 -130 2 57 2 -27 2 -155 2 152 2 68 2 -33 2 9 2 -63 2 31 2 2 2 38 2 21 2 -47 2 -6 2 30 2 61 2 -82 2 18 2 11 2 -18 2 30 2 -33 2 -61 2 127 2 -38 2 11 2 -14 2 16 2 -16 2 24 2 -13 2 -24 2 60 2 -7 2 -71 2 91 2 -120 2 -11 2 50 2 -85 2 58 2 77 2 -48 2 28 2 -37 2 26 2 -29 2 62 2 17 2 65 2 -184 2 65 2 12 2 8 2 -80 2 89 2 -140 2 5 2 29 2 46 2 91 2 -17 2 -90 2 166 2 -68 2 75 2 8 2 -153 2 47 2 36 2 55 2 -77 2 25 2 12 2 -84 2 23 2 65 2 -67 2 83 2 -23 2 -6 2 -14 2 -18 2 54 2 -40 2 -28 2 0 2 37 2 -132 2 78 2 71 2 -62 2 44 2 -30 2 127 2 -32 2 -129 2 112 2 -131 2 -13 2 92 2 141 2 -124 2 62 2 -208 2 44 2 50 2 18 2 -33 2 93 2 13 2 36 2 -97 2 40 2 62 2 14 2 60 2 -95 2 37 2 48 2 28 2 -71 2 93 2 -85 2 -21 2 53 2 -119 2 88 2 53 2 -146 2 35 2 -37 2 19 2 37 2 -24 2 -27 2 -2 2 96 2 -128 2 21 2 -65 2 -54 2 22 2 33 2 -35 2 12 2 79 2 -56 2 -46 2 89 2 64 2 -71 2 -20 2 33 2 99 2 -98 2 -112 2 95 2 110 2 119 2 -116 2 -26 2 -13 2 -17 2 63 2 -35 2 -85 2 85 2 46 2 7 2 13 2 -7 2 -64 2 11 2 -79 2 43 2 28 2 0 2 -17 2 89 2 -2 2 -75 2 -159 2 39 2 47 2 6 2 146 2 -129 2 -17 2 -28 2 83 2 -129 2 71 2 8 2 25 2 -114 2 132 2 42 2 -57 2 27 2 -16 2 -7 2 92 2 -161 2 76 2 -36 2 10 2 -23 2 160 2 -127 2 -31 2 5 2 44 2 -144 2 18 2 10 2 -1 2 137 2 -234 2 132 2 -9 2 105 2 -107 2 63 2 -5 2 -51 2 32 2 20 2 -13 2 2 2 13 2 14 2 11 2 3 2 17 2 -60 2 -30 2 84 2 -67 2 -31 2 97 2 -161 2 24 2 29 2 -8 2 34 2 76 2 -67 2 66 2 -152 2 164 2 -22 2 25 2 82 2 -88 2 6 2 -19 2 13 2 27 2 -92 2 69 2 -16 2 -32 2 -22 2 -69 2 107 2 -5 2 -54 2 83 2 -178 2 87 2 -144 2 31 2 -3 2 -54 2 -19 2 68 2 39 2 -37 2 105 2 29 2 -77 2 53 2 45 2 -29 2 50 2 -77 2 68 2 -15 2 -1 2 7 2 24 2 -7 2 -21 2 -3 2 69 2 -68 2 23 2 15 2 -7 2 10 2 -113 2 97 2 42 2 -116 2 68 2 34 2 84 2 -105 2 -52 2 15 2 -14 2 6 2 31 2 -79 2 -10 2 -3 2 -10 2 118 2 -141 2 75 2 5 2 -28 2 78 2 -14 2 -138 2 124 2 -89 2 132 2 -100 2 68 2 4 2 -44 2 -123 2 284 2 33 2 -93 2 -17 2 -22 2 -11 2 -18 2 27 2 4 2 -50 2 199 2 -167 2 18 2 -6 2 -18 2 -1 2 117 2 -130 2 -20 2 -57 2 106 2 -4 2 -92 2 39 2 24 2 -148 2 121 2 -4 2 15 2 -166 2 -27 2 64 2 -31 2 162 2 66 2 -25 2 41 2 10 2 -24 2 -7 2 -70 2 68 2 -40 2 15 2 -45 2 94 2 -41 2 -122 2 -109 2 83 2 64 2 -99 2 74 2 -31 2 31 2 125 2 91 2 -93 2 -114 2 98 2 -11 2 26 2 77 2 -40 2 -30 2 -50 2 -1 2 113 2 -7 2 0 2 -52 2 49 2 -18 2 0 2 -124 2 70 2 -14 2 -40 2 32 2 92 2 42 2 -26 2 8 2 -77 2 -57 2 4 2 55 2 61 2 -52 2 -78 2 99 2 -136 2 81 2 -16 2 37 2 4 2 -98 2 39 2 143 2 -110 2 -63 2 89 2 26 2 -81 2 10 2 23 2 -12 2 11 2 -18 2 44 2 -14 2 25 2 -23 2 7 2 -2 2 -1 2 -35 2 -73 2 16 2 -1 2 36 2 -24 2 22 2 -34 2 1 2 18 2 -83 2 37 2 76 2 -9 2 125 2 -69 2 -93 2 120 2 -28 2 11 2 14 2 -75 2 75 2 -64 2 31 2 -3 2 39 2 66 2 -89 2 100 2 -52 2 -38 2 -53 2 -122 2 173 2 -40 2 -19 2 61 2 -75 2 -80 2 116 2 -29 2 -26 2 148 2 -87 2 -41 2 9 2 48 2 135 2 -66 2 -50 2 12 2 -60 2 153 2 -118 2 6 2 6 2 -58 2 29 2 -18 2 30 2 -10 2 146 2 -67 2 -49 2 51 2 -14 2 -49 2 -21 2 -18 2 -42 2 88 2 -66 2 19 2 21 2 98 2 -133 2 35 2 19 2 -17 2 -7 2 111 2 -47 2 -47 2 62 2 -133 2 73 2 50 2 -30 2 31 2 40 2 -200 2 199 2 -83 2 12 2 21 2 -43 2 8 2 -31 2 56 2 -58 2 -11 2 73 2 -91 2 124 2 155 2 -147 2 -55 2 -5 2 -171 2 80 2 136 2 27 2 -50 2 -8 2 -80 2 22 2 127 2 -122 2 -29 2 99 2 -27 2 -111 2 110 2 -101 2 143 2 -122 2 77 2 -29 2 -4 2 238 2 -285 2 88 2 -75 2 21 2 76 2 -29 2 -3 2 41 2 25 2 39 2 27 2 -7 2 -62 2 85 2 -24 2 93 2 -7 2 6 2 -244 2 -8 2 181 2 -31 2 -63 2 -27 2 -14 2 65 2 -30 2 50 2 -67 2 -56 2 18 2 -20 2 -53 2 -14 2 -10 2 69 2 -31 2 59 2 -77 2 46 2 -35 2 -147 2 89 2 33 2 -66 2 77 2 -22 2 193 2 -156 2 -47 2 117 2 -129 2 45 2 70 2 44 2 -39 2 -29 2 15 2 23 2 -10 2 45 2 16 2 1 2 -40 2 -77 2 111 2 -56 2 -32 2 41 2 28 2 47 2 -77 2 -98 2 100 2 15 2 -24 2 -167 2 109 2 -69 2 105 2 -28 2 -2 2 -49 2 2 2 6 2 -26 2 1 2 -5 2 17 2 -119 2 121 2 -38 2 76 2 -13 2 53 2 -20 2 172 2 -238 2 98 2 -42 2 73 2 -78 2 -4 2 -69 2 -7 2 44 2 49 2 -95 2 165 2 -33 2 14 2 -52 2 36 2 -63 2 8 2 43 2 -53 2 0 2 20 2 26 2 37 2 -85 2 21 2 -11 2 -22 2 -105 2 147 2 105 2 -87 2 -16 2 -26 2 46 2 -7 2 14 2 -58 2 -104 2 85 2 -37 2 151 2 -106 2 29 2 -58 2 -27 2 72 2 -85 2 3 2 11 2 71 2 -62 2 13 2 -117 2 81 2 148 2 3 2 -114 2 30 2 -35 2 -6 2 -60 2 70 2 -42 2 -40 2 67 2 -11 2 26 2 -102 2 160 2 -67 2 -7 2 -35 2 -11 2 15 2 22 2 28 2 82 2 -132 2 93 2 -15 2 -17 2 8 2 77 2 -16 2 142 2 -113 2 39 2 -5 2 -22 2 -80 2 -58 2 73 2 -34 2 -111 2 -4 2 76 2 -85 2 92 2 13 2 -183 2 145 2 -2 2 33 2 9 2 91 2 -19 2 29 2 -3 2 -62 2 48 2 -42 2 69 2 -176 2 94 2 -30 2 47 2 7 2 -25 2 79 2 -19 2 141 2 -237 2 156 2 -110 2 -3 2 96 2 -87 2 -86 2 60 2 -44 2 61 2 -76 2 77 2 28 2 -67 2 -25 2 -25 2 99 2 -32 2 -49 2 -83 2 132 2 50 2 -61 2 21 2 -12 2 60 2 -258 2 82 2 53 2 48 2 56 2 -1 2 -55 2 37 2 -13 2 -23 2 -61 2 227 2 -126 2 -22 2 68 2 5 2 -4 2 45 2 -153 2 190 2 -179 2 210 2 -151 2 -10 2 75 2 -53 2 98 2 -73 2 -102 2 95 2 86 2 -132 2 -53 2 45 2 -53 2 -64 2 -4 2 -29 2 51 2 -81 2 56 2 16 2 33 2 -17 2 126 2 -77 2 -34 2 -19 2 51 2 -8 2 2 2 -19 2 23 2 -65 2 120 2 14 2 23 2 -10 2 -26 2 9 2 31 2 -15 2 -28 2 86 2 -3 2 -24 2 -144 2 119 2 -51 2 91 2 -22 2 37 2 14 2 -41 2 -70 2 138 2 -95 2 -26 2 18 2 -14 2 1 2 58 2 -29 2 -144 2 124 2 42 2 -92 2 106 2 -89 2 -79 2 -31 2 35 2 38 2 16 2 -30 2 2 2 6 2 -18 2 51 2 11 2 114 2 -244 2 94 2 105 2 -18 2 -71 2 -5 2 -53 2 -2 2 53 2 -18 2 11 2 45 2 -39 2 10 2 8 2 26 2 76 2 -109 2 -26 2 55 2 -4 2 59 2 -37 2 -184 2 167 2 -77 2 25 2 -49 2 26 2 63 2 -1 2 -76 2 11 2 73 2 36 2 -43 2 -52 2 5 2 50 2 -28 2 -48 2 235 2 -215 2 77 2 -72 2 34 2 -8 2 13 2 2 2 -47 2 49 2 5 2 -100 2 17 2 -26 2 146 2 -153 2 -38 2 73 2 -6 2 -41 2 27 2 2 2 -31 2 10 2 -20 2 35 2 -12 2 -69 2 116 2 38 2 -86 2 9 2 41 2 11 2 -33 2 55 2 -13 2 46 2 28 2 -85 2 34 2 -4 2 13 2 -71 2 106 2 -126 2 7 2 14 2 -14 2 4 2 -53 2 33 2 -152 2 130 2 3 2 -1 2 25 2 57 2 1 2 5 2 46 2 -104 2 6 2 -15 2 -69 2 30 2 -63 2 131 2 179 2 -272 2 -13 2 -3 2 82 2 -61 2 42 2 53 2 -52 2 35 2 -49 2 81 2 12 2 29 2 48 2 -90 2 -27 2 -16 2 -18 2 -8 2 2 2 36 2 45 2 19 2 -63 2 22 2 -97 2 -45 2 55 2 -23 2 67 2 -63 2 119 2 -36 2 -14 2 19 2 -29 2 163 2 -221 2 91 2 28 2 -20 2 10 2 161 2 -59 2 -8 2 -34 2 55" stroke="#00ffff"/>
<path transform="translate(124 0) scale(.1)" d="M0 3614 l2 -43 2 -32 2 -2 2 -53 2 -26 2 94 2 -76 2 -7 2 6 2 -121 2 109 2 24 2 -46 2 -35 2 72 2 -76 2 66 2 -24 2 16 2 24 2 52 2 -39 2 16 2 -22 2 -37 2 39 2 69 2 65 2 -174 2 116 2 111 2 -98 2 -60 2 76 2 11 2 22 2 28 2 -107 2 -10 2 1 2 -17 2 64 2 -28 2 -28 2 42 2 -71 2 -85 2 -132 2 169 2 -99 2 -34 2 14 2 32 2 -83 2 132 2 -83 2 38 2 150 2 -91 2 85 2 -42 2 -167 2 155 2 -21 2 -43 2 69 2 5 2 70 2 -73 2 95 2 -2 2 -18 2 -11 2 148 2 -101 2 117 2 -76 2 81 2 -97 2 12 2 -59 2 -16 2 19 2 -34 2 74 2 -114 2 53 2 -90 2 35 2 -18 2 -1 2 144 2 -158 2 13 2 24 2 -6 2 -47 2 -45 2 116 2 -94 2 14 2 -20 2 10 2 3 2 15 2 33 2 -4 2 59 2 -18 2 -65 2 160 2 -53 2 72 2 -73 2 74 2 -72 2 -19 2 -55 2 85 2 -34 2 31 2 15 2 41 2 -45 2 21 2 -24 2 -28 2 -45 2 70 2 28 2 -36 2 150 2 -215 2 -11 2 3 2 22 2 63 2 -10 2 63 2 -40 2 147 2 -133 2 -2 2 -58 2 24 2 48 2 -10 2 -52 2 22 2 -35 2 -20 2 48 2 34 2 -64 2 116 2 -161 2 107 2 -15 2 140 2 -84 2 -2 2 -27 2 79 2 -113 2 109 2 -103 2 108 2 -13 2 -18 2 -62 2 -9 2 18 2 -53 2 92 2 -38 2 51 2 -52 2 -3 2 19 2 -57 2 111 2 -48 2 33 2 30 2 -12 2 -103 2 66 2 -81 2 -49 2 98 2 10 2 -28 2 41 2 -11 2 74 2 -109 2 36 2 7 2 -59 2 181 2 -152 2 -7 2 72 2 -129 2 98 2 -14 2 8 2 -95 2 -10 2 26 2 -150 2 130 2 -20 2 130 2 -133 2 -4 2 68 2 -54 2 9 2 9 2 -24 2 46 2 1 2 -2 2 72 2 -81 2 -54 2 128 2 -57 2 36 2 -17 2 -46 2 -46 2 73 2 -36 2 -21 2 -30 2 -13 2 -31 2 55 2 -16 2 9 2 -118 2 159 2 -94 2 48 2 -132 2 151 2 12 2 24 2 37 2 14 2 -50 2 -6 2 13 2 -76 2 45 2 19 2 -8 2 42 2 -76 2 101 2 39 2 -102 2 14 2 3 2 -31 2 27 2 26 2 -127 2 119 2 3 2 -31 2 -35 2 -20 2 62 2 -68 2 -16 2 -46 2 19 2 21 2 6 2 27 2 68 2 2 2 84 2 -76 2 3 2 38 2 -73 2 13 2 -70 2 58 2 6 2 14 2 -6 2 -30 2 76 2 48 2 -42 2 -116 2 78 2 52 2 -103 2 53 2 -53 2 56 2 48 2 32 2 -86 2 119 2 -16 2 -82 2 0 2 -54 2 -32 2 139 2 -45 2 -97 2 75 2 31 2 53 2 -51 2 -23 2 45 2 11 2 -13 2 56 2 -100 2 36 2 178 2 -150 2 11 2 -18 2 47 2 -119 2 -24 2 12 2 -5 2 161 2 -169 2 72 2 -4 2 -42 2 16 2 -47 2 -49 2 44 2 4 2 -148 2 107 2 97 2 -15 2 56 2 -81 2 -65 2 155 2 -85 2 45 2 -14 2 -26 2 19 2 -67 2 -112 2 88 2 96 2 -66 2 17 2 2 2 -38 2 128 2 -10 2 -27 2 67 2 73 2 -116 2 21 2 44 2 -111 2 -25 2 -11 2 21 2 -3 2 17 2 -46 2 -16 2 22 2 -3 2 -4 2 86 2 24 2 -128 2 105 2 -19 2 34 2 128 2 -93 2 -71 2 12 2 -30 2 -12 2 90 2 -39 2 27 2 -41 2 4 2 -80 2 56 2 -77 2 87 2 -134 2 177 2 -93 2 -89 2 42 2 42 2 -43 2 -84 2 118 2 60 2 -68 2 11 2 -96 2 -19 2 28 2 54 2 -113 2 82 2 -7 2 -35 2 17 2 -41 2 22 2 105 2 12 2 -41 2 112 2 -33 2 -39 2 68 2 -19 2 9 2 33 2 -7 2 54 2 -158 2 3 2 31 2 4 2 -60 2 18 2 -12 2 44 2 -116 2 -28 2 -8 2 125 2 -12 2 51 2 -64 2 28 2 11 2 -30 2 -23 2 47 2 -1 2 -4 2 107 2 -73 2 -46 2 16 2 -15 2 84 2 -118 2 171 2 -34 2 -76 2 47 2 4 2 7 2 130 2 -27 2 -118 2 78 2 -87 2 16 2 -26 2 5 2 -22 2 50 2 57 2 -67 2 -71 2 -25 2 51 2 53 2 24 2 78 2 -70 2 18 2 -58 2 -12 2 -20 2 -46 2 42 2 1 2 13 2 -42 2 -144 2 134 2 83 2 -36 2 -17 2 130 2 -93 2 45 2 -39 2 12 2 -64 2 3 2 49 2 132 2 -49 2 -57 2 -30 2 41 2 -11 2 -42 2 36 2 -12 2 -31 2 135 2 -51 2 108 2 -19 2 -92 2 15 2 38 2 -45 2 51 2 -24 2 31 2 -38 2 67 2 6 2 -22 2 -5 2 20 2 -43 2 -21 2 62 2 -39 2 36 2 104 2 -152 2 -190 2 97 2 11 2 102 2 9 2 14 2 -16 2 -38 2 4 2 35 2 -157 2 103 2 37 2 -32 2 -24 2 2 2 -5 2 4 2 -18 2 186 2 -15 2 -2 2 43 2 -59 2 -36 2 33 2 8 2 -71 2 126 2 -13 2 -25 2 -15 2 -43 2 32 2 -96 2 158 2 -156 2 18 2 58 2 -22 2 46 2 22 2 29 2 18 2 -45 2 66 2 -39 2 -56 2 73 2 55 2 -85 2 23 2 18 2 36 2 -101 2 68 2 -48 2 5 2 -99 2 -25 2 8 2 -1 2 29 2 -23 2 7 2 -56 2 -1 2 36 2 -57 2 -5 2 125 2 6 2 -15 2 -32 2 44 2 22 2 -27 2 -16 2 8 2 2 2 -34 2 -47 2 190 2 5 2 82 2 -60 2 -13 2 17 2 38 2 1 2 -35 2 -70 2 22 2 -105 2 6 2 33 2 14 2 14 2 -20 2 71 2 -51 2 -23 2 27 2 -16 2 26 2 -102 2 72 2 56 2 58 2 -70 2 -110 2 275 2 -180 2 -11 2 -7 2 0 2 36 2 -28 2 0 2 -27 2 -41 2 28 2 5 2 -44 2 17 2 13 2 -57 2 -20 2 66 2 -39 2 -84 2 209 2 -122 2 -6 2 69 2 -51 2 -21 2 86 2 -60 2 20 2 65 2 -49 2 -88 2 219 2 -74 2 -45 2 -6 2 26 2 -55 2 10 2 -37 2 83 2 -29 2 16 2 -85 2 164 2 -116 2 39 2 30 2 -299 2 135 2 -62 2 73 2 -14 2 11 2 68 2 -181 2 150 2 -40 2 -79 2 -18 2 -10 2 15 2 50 2 16 2 20 2 -6 2 -30 2 117 2 -103 2 -91 2 22 2 -61 2 110 2 -38 2 -21 2 135 2 -101 2 -51 2 125 2 -56 2 121 2 27 2 -188 2 75 2 -77 2 110 2 118 2 -213 2 106 2 6 2 15 2 -112 2 -16 2 68 2 -72 2 -9 2 -14 2 86 2 -29 2 4 2 42 2 -123 2 137 2 -99 2 -58 2 3 2 1 2 -45 2 -2 2 18 2 -8 2 -8 2 -1 2 82 2 -21 2 0 2 120 2 -176 2 56 2 41 2 -75 2 8 2 34 2 16 2 -53 2 54 2 189 2 -172 2 31 2 -32 2 21 2 33 2 -131 2 77 2 -22 2 -27 2 -19 2 74 2 5 2 -24 2 -131 2 167 2 51 2 13 2 38 2 56 2 -149 2 87 2 -31 2 4 2 -29 2 77 2 -49 2 -15 2 -56 2 2 2 -104 2 81 2 -134 2 12 2 42 2 15 2 -111 2 93 2 65 2 17 2 90 2 -113 2 -33 2 86 2 -26 2 26 2 19 2 -104 2 88 2 -113 2 130 2 -83 2 44 2 9 2 -10 2 35 2 -38 2 -32 2 -26 2 48 2 35 2 94 2 -36 2 -181 2 151 2 -46 2 82 2 -58 2 -42 2 -1 2 2 2 139 2 -255 2 49 2 -70 2 140 2 55 2 96 2 -73 2 -43 2 18 2 22 2 -11 2 -51 2 -21 2 57 2 -35 2 86 2 -42 2 -86 2 -59 2 58 2 83 2 -34 2 12 2 14 2 20 2 -177 2 73 2 -41 2 75 2 -57 2 144 2 -99 2 71 2 -34 2 -17 2 108 2 -164 2 78 2 -103 2 153 2 29 2 -26 2 97 2 -138 2 116 2 -142 2 89 2 -58 2 -65 2 63 2 -77 2 70 2 -7 2 95 2 -58 2 34 2 -4 2 40 2 9 2 -62 2 47 2 -33 2 5 2 -28 2 10 2 21 2 -63 2 55 2 18 2 28 2 -60 2 5 2 40 2 16 2 -78 2 75 2 -70 2 -8 2 80 2 -20 2 44 2 -81 2 -7 2 -9 2 10 2 -71 2 72 2 40 2 31 2 -71 2 190 2 -350 2 210 2 -45 2 7 2 -2 2 5 2 -5 2 -105 2 99 2 -6 2 -11 2 98 2 -56 2 -30 2 91 2 -78 2 3 2 25 2 49 2 -57 2 -23 2 25 2 -2 2 40 2 -100 2 -25 2 97 2 -21 2 -55 2 150 2 -159 2 147 2 -51 2 -38 2 27 2 55 2 -80 2 75 2 -29 2 -153 2 139 2 -19 2 86 2 -42 2 -43 2 -23 2 79 2 63 2 -57 2 -16 2 86 2 -110 2 6 2 -46 2 106 2 -85 2 -69 2 -50 2 107 2 -13 2 42 2 35 2 25 2 -51 2 59 2 -63 2 32 2 23 2 73 2 -142 2 -10 2 73 2 64 2 -26 2 -193 2 180 2 -36 2 11 2 41 2 -25 2 -69 2 -53 2 18 2 -20 2 -80 2 20 2 108 2 -106 2 122 2 57 2 -12 2 -3 2 29 2 -12 2 91 2 19 2 -39 2 -142 2 135 2 -63 2 -26 2 83 2 -35 2 30 2 71 2 -39 2 7 2 6 2 -2 2 87 2 65 2 -145 2 67 2 -61 2 -132 2 161 2 -72 2 70 2 -19 2 -33 2 27 2 8 2 3 2 -10 2 -42 2 -38 2 64 2 166 2 -78 2 -34 2 8 2 17 2 -57 2 11 2 -83 2 -75 2 131 2 3 2 51 2 11 2 -49 2 -33 2 72 2 -28 2 103 2 -107 2 94 2 -34 2 -77 2 88 2 -151 2 108 2 55 2 -68 2 -38 2 56 2 -61 2 -36 2 61 2 -24 2 15 2 -34 2 43 2 76 2 -83 2 -22 2 36 2 -41 2 25 2 77 2 93 2 -70 2 35 2 -44 2 -2 2 -94 2 -23 2 131 2 -63 2 -21 2 -122 2 37 2 16 2 55 2 2 2 -24 2 57 2 -38 2 71 2 169 2 -213 2 41 2 34 2 18 2 -40 2 71 2 -30 2 -13 2 -47 2 24 2 -151 2 103 2 -16 2 47 2 -65 2 66 2 -54 2 22 2 0 2 44 2 -4 2 -82 2 -20 2 -2 2 -33 2 62 2 -21 2 31 2 14 2 4 2 49 2 12 2 -69 2 26 2 -13 2 12 2 -54 2 -2 2 204 2 -124 2 -4 2 -73 2 19 2 44 2 13 2 -72 2 -22 2 -32 2 -28 2 10 2 -41 2 30 2 -82 2 127 2 47 2 15 2 -58 2 -63 2 47 2 74 2 -86 2 -8 2 12 2 45 2 22 2 56 2 37 2 -3 2 31 2 -42 2 61 2 -84 2 -108 2 131 2 -33 2 26 2 10 2 -42 2 17 2 9 2 -33 2 6 2 36 2 136 2 -182 2 -164 2 262 2 -62 2 17 2 -66 2 8 2 -4 2 69 2 -123 2 -6 2 21 2 -2 2 85 2 -81 2 60 2 -80 2 -28 2 -123 2 83 2 -69 2 -5 2 131 2 3 2 18 2 -6 2 -104 2 71 2 55 2 68 2 -59 2 117 2 -76 2 -4 2 33 2 -55 2 -18 2 -8 2 136 2 -189 2 95 2 -29 2 -73 2 -49 2 77 2 -20 2 -37 2 -49 2 5 2 35 2 -9 2 11 2 -18 2 -53 2 187 2 -94 2 -4 2 16 2 -41 2 10 2 63 2 -56 2 11 2 -21 2 -22 2 58 2 12 2 33 2 37 2 72 2 -112 2 -3 2 37 2 -40 2 32 2 -50 2 138 2 -26 2 -9 2 -25 2 -30 2 15 2 -79 2 67 2 -37 2 101 2 -222 2 166 2 -100 2 112 2 -148 2 148 2 -105 2 16 2 -7 2 -21 2 -89 2 104 2 -43 2 19 2 26 2 22 2 -8 2 -65 2 93 2 87 2 -2 2 -74 2 -75 2 -170 2 196 2 13 2 -40 2 -24 2 58 2 -38 2 24 2 -44 2 36 2 108 2 -31 2 30 2 0 2 -15 2 -33 2 -42 2 29 2 -79 2 95 2 -68 2 38 2 -52 2 47 2 0 2 28 2 41 2 -3 2 28 2 -7 2 -18 2 -35 2 36 2 -2 2 -113 2 -10 2 37 2 28 2 -99 2 49 2 7 2 -29 2 53 2 -103 2 79 2 -21 2 -1 2 16 2 -13 2 -43 2 -151 2 153 2 -44 2 124 2 -14 2 -32 2 25 2 25 2 15 2 -24 2 16 2 -60 2 -41 2 -13 2 6 2 -16 2 14 2 88 2 -51 2 29 2 -8 2 29 2 -23 2 -15 2 5 2 -44 2 -117 2 205 2 -48 2 15 2 60 2 31 2 -11 2 -36 2 -41 2 -111 2 111 2 -62 2 -131 2 118 2 84 2 -32 2 -34 2 79 2 -128 2 22 2 -37 2 -6 2 188 2 -178 2 27 2 40 2 -4 2 23 2 -33 2 -128 2 110 2 0 2 25 2 44 2 -25 2 141 2 -132 2 -6 2 126 2 -72 2 -47 2 -78 2 48 2 -83 2 203 2 -112 2 56 2 -46 2 52 2 -77 2 -10 2 -26 2 -53 2 7 2 12 2 -6 2 -17 2 27 2 92 2 -47 2 -51 2 110 2 -16 2 82 2 -47 2 -43 2 56 2 -156 2 230 2 -133 2 -46 2 42 2 -59 2 188 2 -122 2 -105 2 92 2 -39 2 48 2 34 2 -99 2 116 2 -61 2 -45 2 158 2 -110 2 -4 2 150 2 -172 2 80 2 69 2 -60 2 -41 2 48 2 -34 2 -160 2 49 2 35 2 52 2 -60 2 9 2 -5 2 -12 2 63 2 -17 2 -18 2 -25 2 108 2 27 2 24 2 62 2 -45 2 -130 2 64 2 -34 2 52 2 21 2 -144 2 -35 2 -13 2 -33 2 51 2 6 2 69 2 -97 2 119 2 -49 2 -45 2 -34 2 41 2 -28 2 53 2 26 2 14 2 17 2 -16 2 -29 2 38 2 73 2 -54 2 -49 2 104 2 -94 2 2 2 84 2 -82 2 9 2 60 2 -77 2 -36 2 126 2 -148 2 66 2 -88 2 78 2 63 2 63 2 -28 2 -26 2 -13 2 -86 2 18 2 2 2 67 2 -29 2 100 2 -26 2 -72 2 55 2 -2 2 58 2 -17 2 -40 2 -109 2 46 2 -47 2 51 2 33 2 -53 2 17 2 84 2 -47 2 46 2 61 2 -82 2 29 2 21 2 -64 2 60 2 5 2 -9 2 -20 2 4 2 -37 2 8 2 -17 2 -5 2 -15 2 76 2 104 2 -76 2 -73 2 154 2 -202 2 31 2 5 2 -48 2 84 2 -19 2 5 2 35 2 -71 2 -138 2 155 2 -5 2 -34 2 31 2 22 2 17 2 32 2 8 2 -47 2 -50 2 83 2 44 2 -130 2 154 2 -110 2 64 2 5 2 72 2 -61 2 10 2 -6 2 24 2 -74 2 7 2 48 2 1 2 -34 2 40 2 -13 2 -3 2 -11 2 1 2 -48 2 -19 2 -23 2 37 2 -51 2 14 2 6 2 -1 2 -43 2 -60 2 41 2 51 2 14 2 -3 2 40 2 46 2 -77 2 33 2 9 2 68 2 -86 2 27 2 -12 2 -120 2 123 2 34 2 -11 2 -35 2 49 2 10 2 21 2 -41 2 19 2 9 2 -98 2 51 2 132 2 -126 2 35 2 -2 2 -63 2 59 2 33 2 -111 2 28 2 -97 2 177 2 -45 2 16 2 3 2 91 2 -176 2 16 2 43 2 -47 2 -12 2 -35 2 -62 2 117 2 5 2 37 2 12 2 22 2 -11 2 11 2 -17 2 -59 2 17 2 56 2 -48 2 62 2 4 2 -25 2 -74 2 157 2 -93 2 -3 2 -7 2 19 2 27 2 -81 2 14 2 -94 2 94 2 98 2 -12 2 -64 2 72 2 -73 2 20 2 17 2 5 2 7 2 17 2 -9 2 -25 2 -100 2 -61 2 202 2 -105 2 2 2 0 2 82 2 22 2 -64 2 -35 2 97 2 -34 2 109 2 -156 2 -19 2 109 2 -1 2 -46 2 40 2 6 2 49 2 -7 2 -58 2 17 2 -58 2 33 2 -131 2 68 2 34 2 116 2 -75 2 -75 2 -63 2 -44 2 11 2 -25 2 29 2 36 2 15 2 3 2 92 2 -120 2 118 2 60 2 -113 2 108 2 23 2 0 2 -4 2 -13 2 -91 2 105 2 -77 2 41 2 -38 2 77 2 -83 2 15 2 7 2 114 2 -44 2 -28 2 79 2 -89 2 69 2 -305 2 271 2 -10 2 72 2 -118 2 18 2 -66 2 81 2 -74 2 -18 2 72 2 -75 2 47 2 -73 2 107 2 24 2 -79 2 -31 2 46 2 -9 2 -5 2 119 2 -47 2 -52 2 45 2 67 2 35 2 -28 2 -13 2 40 2 -109 2 -3 2 127 2 -104 2 31 2 -89 2 28 2 8 2 -46 2 -1 2 10 2 17 2 -47 2 -38 2 20 2 87 2 52 2 -41 2 188 2 -235 2 -22 2 -28 2 21 2 -66 2 138 2 5 2 -13 2 -21 2 -30 2 -113 2 132 2 -34 2 -4 2 70 2 -99 2 92 2 -34 2 81 2 -30 2 2 2 -29 2 100 2 -49 2 106 2 -116 2 24 2 -24 2 10 2 -10 2 15 2 32 2 -6 2 -59 2 23 2 -32 2 -75 2 62 2 -3 2 106 2 -67 2 -56 2 19 2 -49 2 31 2 -49 2 -14 2 15 2 -13 2 145 2 -114 2 50 2 -26 2 -22 2 90 2 17 2 -7 2 98 2 -83 2 -91 2 -63 2 36 2 25 2 95 2 -119 2 108 2 -55 2 60 2 -26 2 6 2 -68 2 -118 2 109 2 -1 2 -37 2 33 2 103 2 -29 2 -111 2 80 2 -99 2 -27 2 7 2 98 2 -69 2 -3 2 91 2 -74 2 -106 2 102 2 26 2 22 2 31 2 10 2 45 2 156 2 -106 2 -16 2 107 2 14 2 -88 2 27 2 -42 2 -9 2 14 2 -32 2 -186 2 104 2 -11 2 -24 2 -24 2 92 2 -217 2 206 2 -21 2 22 2 53 2 -67 2 -43 2 -17 2 -63 2 12 2 53 2 74 2 -94 2 44 2 9 2 -29 2 128 2 -113 2 -10 2 -120 2 41 2 15 2 -77 2 128 2 13 2 1 2 134 2 -131 2 19 2 12 2 76 2 -46 2 -8 2 -43 2 25 2 28 2 18 2 -1 2 0 2 -20 2 -80 2 86 2 -48 2 -24 2 97 2 119 2 -113 2 13 2 -39 2 -21 2 9 2 -98 2 20 2 10 2 -50 2 41 2 -68 2 40 2 11 2 -46 2 66 2 -24 2 -8 2 -137 2 64 2 1 2 16 2 88 2 -62 2 -43 2 46 2 55 2 -39 2 -15 2 51 2 23 2 -8 2 23 2 -36 2 14 2 -22 2 -20 2 -55 2 166 2 -25 2 -76 2 30 2 -34 2 95 2 45 2 -94 2 10 2 1 2 47 2 -94 2 60 2 -139 2 48 2 59 2 -21 2 21 2 -125 2 34 2 -129 2 161 2 -72 2 7 2 16 2 103 2 -7 2 -42 2 -22 2 88 2 -17 2 -2 2 -86 2 -71 2 175 2 -118 2 28 2 9 2 -13 2 -69 2 -30 2 126 2 -121 2 65 2 114 2 -34 2 -24 2 -4 2 -7 2 -43 2 14 2 45 2 13 2 -81 2 50 2 74 2 -7 2 -143 2 24 2 1 2 92 2 -231 2 176 2 32 2 -79 2 25 2 16 2 79 2 -184 2 84 2 41 2 178 2 -339 2 111 2 -7 2 12 2 -78 2 -62 2 7 2 42 2 -6 2 52 2 53 2 0 2 13 2 -37 2 63 2 65 2 -96 2 -139 2 217 2 -40 2 46 2 -17 2 2 2 34 2 -61 2 -26 2 42 2 -33 2 119 2 -80 2 -33 2 43 2 13 2 28 2 -49 2 -28 2 59 2 -22 2 10 2 -31 2 -14 2 -16 2 113 2 15 2 -58 2 -84 2 -12 2 5 2 -31 2 45 2 160 2 -226 2 75 2 -3 2 7 2 -23 2 22 2 -79 2 45 2 32 2 76 2 -4 2 -62 2 104 2 -104 2 27 2 63 2 -58 2 -12 2 -59 2 78 2 -12 2 51 2 23 2 -27 2 -5 2 34 2 -34 2 -12 2 12 2 23 2 -42 2 135 2 -114 2 -72 2 31 2 50 2 -10 2 79 2 -85 2 -32 2 -31 2 -34 2 -52 2 127 2 -72 2 14 2 7 2 -79 2 22 2 41 2 82 2 -16 2 94 2 -96 2 -24 2 -5 2 -100 2 143 2 -54 2 -42 2 30 2 23 2 76 2 -54 2 -36 2 35 2 -82 2 56 2 8 2 -58 2 61 2 -59 2 -67 2 -9 2 -46 2 58 2 74 2 -132 2 55 2 -35 2 118 2 -56 2 70 2 32 2 -54 2 32 2 -20 2 -16 2 -102 2 142 2 10 2 -65 2 13 2 -27 2 -7 2 5 2 39 2 -22 2 23 2 47 2 57 2 -88 2 3 2 21 2 -115 2 74 2 -49 2 89 2 -99 2 35 2 3 2 -9 2 29 2 26 2 0 2 23 2 26 2 -56 2 60 2 -94 2 -11 2 146 2 -182 2 23 2 -41 2 26 2 123 2 -13 2 -24 2 -14 2 64 2 -125 2 152 2 -52 2 -58 2 22 2 19 2 -41 2 108 2 -59 2 -113 2 23 2 -44 2 0 2 106 2 -27 2 -19 2 28 2 -33 2 31 2 -28 2 -22 2 -2 2 -21 2 58 2 3 2 -16 2 -110 2 91 2 36 2 55 2 30 2 -86 2 -23 2 27 2 -19 2 -75 2 -53 2 45 2 -24 2 -57 2 -70 2 92 2 77 2 -25 2 -102 2 118 2 -21 2 113 2 -168 2 79 2 -51 2 -37 2 71 2 18 2 44 2 15 2 30 2 -18 2 43 2 13 2 -36 2 -48 2 35 2 52 2 40 2 -60 2 -37 2 -7 2 -73 2 -75 2 92 2 71 2 -80 2 -6 2 -16 2 63 2 -41 2 -8 2 -6 2 -14 2 41 2 -42 2 41 2 61 2 -37 2 3 2 44 2 1 2 47 2 -46 2 -81 2 53 2 3 2 64 2 -48 2 -69 2 31 2 -125 2 129 2 -2 2 -26 2 47 2 33 2 -46 2 -159 2 111 2 108 2 -59 2 -37 2 34 2 50 2 22 2 -25 2 -110 2 -1 2 109 2 -11 2 -17 2 -16 2 62 2 -65 2 146 2 -63 2 117 2 -173 2 18 2 -123 2 56 2 -33 2 -17 2 52 2 -91 2 212 2 -169 2 -78 2 82 2 2 2 -61 2 24 2 72 2 39 2 -140 2 28 2 115 2 -84 2 44 2 65 2 -139 2 84 2 -24 2 -73 2 95 2 -41 2 42 2 -40 2 -23 2 116 2 -50 2 -84 2 -59 2 166 2 -52 2 82 2 -45 2 -28 2 49 2 31 2 -38 2 -103 2 -59 2 120 2 0 2 -29 2 79 2 -17 2 127 2 -157 2 97 2 -121 2 -10 2 29 2 81 2 -19 2 -53 2 85 2 -59 2 -39 2 -65 2 110 2 20 2 -3 2 -19 2 7 2 -9 2 17 2 44 2 17 2 -12 2 -14 2 -75 2 -45 2 62 2 -22 2 -36 2 109 2 -230 2 107 2 -17 2 -95 2 109 2 18 2 -46 2 48 2 30 2 -1 2 47 2 -42 2 -42 2 2 2 157 2 -193 2 69 2 -21 2 19 2 -70 2 107 2 -28 2 -27 2 -53 2 66 2 72 2 -58 2 -47 2 83 2 4 2 -80 2 32 2 -31 2 4 2 0 2 -89 2 99 2 -33 2 41 2 -22 2 93 2 -106 2 20 2 -119 2 78 2 9 2 5 2 57 2 -5 2 38 2 25 2 -49 2 13 2 -193 2 191 2 81 2 -140 2 108 2 -10 2 -42 2 92 2 -65 2 -55 2 60 2 35 2 38 2 44 2 -69 2 6 2 -203 2 83 2 77 2 3 2 -108 2 147 2 -93 2 -33 2 159 2 -118 2 99 2 -149 2 305 2 -134 2 -16 2 22 2 130 2 -178 2 23 2 -69 2 11 2 78 2 -30 2 -13 2 29 2 21 2 9 2 -12 2 45 2 10 2 -5 2 -3 2 31 2 -48 2 81 2 -160 2 115 2 -38 2 17 2 -64 2 21 2 -15 2 -24 2 32 2 -60 2 6 2 5 2 -108 2 191 2 -82 2 16 2 62 2 -27 2 0 2 58 2 43 2 -115 2 42 2 21 2 9 2 -140 2 72 2 -47 2 37 2 -199 2 210 2 19 2 53 2 -21 2 27 2 130 2 -164 2 -61 2 -46 2 18 2 -42 2 33 2 -20 2 6 2 67 2 -6 2 -110 2 7 2 69 2 -15 2 16 2 49 2 35 2 17 2 27 2 -92 2 44 2 37 2 -115 2 115 2 -3 2 -71 2 -57 2 -56 2 -1 2 99 2 67 2 -45 2 -49 2 27 2 5 2 -52 2 46 2 -54 2 5 2 54 2 16 2 -72 2 30 2 -22 2 -112 2 81 2 49 2 -53 2 -4 2 4 2 -14 2 106 2 -169 2 74 2 74 2 -67 2 33 2 32 2 42 2 -57 2 -51 2 41 2 214 2 -132 2 11 2 53 2 50 2 12 2 -91 2 49 2 -45 2 -4 2 84 2 -181 2 63 2 -29 2 18 2 -20 2 -30 2 48 2 -45 2 -89 2 159 2 -271 2 28 2 -53 2 -7 2 46 2 28 2 -16 2 -20 2 -31 2 4 2 135 2 -146 2 87 2 -7 2 -130 2 110 2 -25 2 68 2 43 2 51 2 -25 2 19 2 -36 2 167 2 -249 2 54 2 12 2 71 2 -6 2 -65 2 165 2 -150 2 -34 2 70 2 -2 2 -267 2 264 2 -95 2 -57 2 109 2 -33 2 0 2 -51 2 -7 2 -122 2 216 2 -86 2 66 2 -38 2 92 2 -50 2 -14 2 46 2 -69 2 58 2 -16 2 20 2 40 2 -64 2 38 2 56 2 -143 2 32 2 95 2 -70 2 49 2 -33 2 119 2 -96 2 15 2 -37 2 139 2 -67 2 -25 2 2 2 52 2 -54 2 -37 2 -75 2 4 2 18 2 -45 2 -1 2 -60 2 56 2 -7 2 -73 2 78 2 9 2 -118 2 146 2 28 2 -49 2 72 2 45 2 -60 2 77 2 -130 2 47 2 -68 2 41 2 -21 2 -74 2 101 2 -50 2 119 2 -101 2 128 2 -41 2 -35 2 38 2 0 2 27 2 35 2 -20 2 -100 2 62 2 -129 2 -1 2 70 2 169 2 -208 2 -3 2 16 2 -59 2 -55 2 82 2 -10 2 46 2 -108 2 44 2 136 2 -51 2 36 2 10 2 44 2 153 2 -181 2 -25 2 103 2 -31 2 -45 2 70 2 -43 2 31 2 2 2 -33 2 -17 2 -16 2 -29 2 43 2 -15 2 24 2 -127 2 85 2 43 2 -130 2 89 2 -18 2 -15 2 79 2 -41 2 60 2 -58 2 29 2 8 2 -105 2 -49 2 74 2 -44 2 85 2 -41 2 20 2 44 2 -162 2 268 2 -105 2 35 2 -44 2 -19 2 -1 2 21 2 -6 2 21 2 -3 2 -23 2 -80 2 9 2 -1 2 -22 2 69 2 -14 2 -42 2 39 2 1 2 4 2 -131 2 59 2 -49 2 49 2 13 2 -62 2 108 2 57 2 12 2 -47 2 -62 2 28 2 14 2 -174 2 108 2 117 2 -42 2 -33 2 174 2 -137 2 23 2 -82 2 73 2 -43 2 94 2 -48 2 -19 2 63 2 63 2 -30 2 -31 2 -210 2 107 2 5 2 -31 2 78 2 -88 2 4 2 -38 2 -126 2 239 2 -88 2 -4 2 -14 2 47 2 -53 2 79 2 -22 2 54 2 -36 2 179 2 -96 2 -90 2 31 2 29 2 -190 2 196 2 -56 2 34 2 115 2 -78 2 -77 2 -15 2 96 2 -42 2 7 2 107 2 -69 2 -59 2 -28 2 41 2 -19 2 -24 2 37 2 129 2 -188 2 -3 2 -17 2 48 2 -23 2 -54 2 46 2 93 2 -62 2 66 2 10 2 -14 2 -75 2 -74 2 16 2 30 2 -171 2 163 2 -82 2 6 2 -39 2 142 2 -66 2 45 2 92 2 -31 2 -22 2 -39 2 -20 2 47 2 -15 2 33 2 37 2 -142 2 137 2 -40 2 -75 2 76 2 -34 2 -17 2 25 2 23 2 27 2 79 2 -77 2 -186 2 117 2 11 2 34 2 -41 2 29 2 -28 2 13 2 67 2 20 2 -54 2 33 2 -30 2 -80 2 150 2 -97 2 69 2 -32 2 -19 2 63 2 -50 2 -29 2 140 2 -77 2 -17 2 -27 2 -57 2 25 2 38 2 69 2 -55 2 3 2 16 2 9 2 -79 2 82 2 -134 2 49 2 -135 2 154 2 -15 2 -9 2 3 2 -111 2 49 2 70 2 -37 2 49 2 -108 2 -4 2 122 2 21 2 86 2 -98 2 41 2 75 2 0 2 -106 2 24 2 -47 2 -1 2 137 2 -49 2 -29 2 -46 2 -11 2 32 2 25 2 -41 2 -24 2 30 2 -60 2 159 2 -122 2 64 2 -149 2 -16 2 146 2 -68 2 -35 2 -21 2 26 2 -6 2 -21 2 -9 2 119 2 -13 2 7 2 102 2 -104 2 69 2 -114 2 17 2 11 2 -39 2 78 2 -21 2 -10 2 -38 2 25 2 85 2 -13 2 37 2 -28 2 10 2 -85 2 13 2 -89 2 182 2 -68 2 -13 2 32 2 60 2 -116 2 -41 2 -62 2 142 2 -87 2 -5 2 74 2 -94 2 101 2 -11 2 -68 2 -131 2 79 2 8 2 -18 2 4 2 118 2 28 2 -31 2 -121 2 79 2 188 2 -75 2 -125 2 101 2 -45 2 27 2 49 2 -26 2 116 2 -73 2 -43 2 -9 2 17 2 -65 2 11 2 75 2 27 2 -118 2 151 2 -145 2 74 2 -18 2 -23 2 -3 2 50 2 -73 2 8 2 61 2 4 2 62 2 -27 2 -76 2 84 2 -38 2 -35 2 57 2 79 2 -106 2 -49 2 19 2 95 2 24 2 -49 2 -30 2 23 2 13 2 15 2 -82 2 42 2 -95 2 -80 2 82 2 84 2 -35 2 -32 2 52 2 16 2 22 2 143 2 -98 2 -124 2 4 2 51 2 -10 2 -6 2 3 2 47 2 -88 2 -12 2 17 2 -39 2 15 2 14 2 15 2 229 2 -185 2 10 2 -31 2 15 2 20 2 -67 2 -27 2 38 2 58 2 -54 2 49 2 21 2 -38 2 5 2 84 2 -119 2 -52 2 86 2 27 2 6 2 -26 2 -25 2 83 2 28 2 -63 2 33 2 188 2 -169 2 50 2 -2 2 -131 2 122 2 -43 2 43 2 -14 2 3 2 -18 2 -29 2 37 2 64 2 -95 2 31 2 21 2 -73 2 -85 2 57 2 -17 2 -43 2 61 2 -53 2 47 2 -5 2 -20 2 -48 2 99 2 -13 2 114 2 -82 2 -34 2 -22 2 93 2 45 2 -148 2 107 2 -72 2 104 2 -100 2 -26 2 43 2 -8 2 -94 2 45 2 -23 2 40 2 -1 2 -39 2 -109 2 69 2 6 2 31 2 -13 2 -61 2 50 2 -50 2 151 2 4 2 -65 2 119 2 27 2 -184 2 42 2 70 2 1 2 141 2 -114 2 76 2 -43 2 5 2 -56 2 24 2 -55 2 17 2 41 2 -62 2 6 2 -12 2 -20 2 -84 2 60 2 58 2 -122 2 6 2 -14 2 -17 2 100 2 21 2 -54 2 9 2 -83 2 42 2 -2 2 -4 2 -11 2 8 2 -117 2 195 2 -86 2 67 2 -60 2 -21 2 -23 2 -126 2 179 2 -5 2 14 2 109 2 -66 2 -26 2 -109 2 172 2 -35 2 -23 2 -12 2 28 2 87 2 -139 2 10 2 -148 2 211 2 -56 2 33 2 -33 2 25 2 -56 2 7 2 50 2 56 2 -109 2 198 2 -206 2 37 2 34 2 -52 2 73 2 -62 2 19 2 -113 2 195 2 -18 2 -101 2 46 2 42 2 -122 2 125 2 -11 2 -77 2 60 2 -41 2 17 2 -13 2 -109 2 -62 2 -9 2 100 2 50 2 -114 2 34 2 -148 2 99 2 56 2 134 2 -111 2 12 2 -29 2 34 2 15 2 -10 2 148 2 -199 2 18 2 119 2 -77 2 -100 2 -4 2 112 2 -62 2 44 2 -47 2 -6 2 139 2 -75 2 18 2 16 2 -69 2 84 2 47 2 -97 2 -13 2 19 2 -101 2 88 2 -80 2 73 2 -58 2 80 2 -138 2 145 2 -112 2 86 2 -61 2 15 2 7 2 -9 2 -2 2 -17 2 117 2 16 2 -77 2 -11 2 148 2 -30 2 -24 2 -105 2 91 2 74 2 -75 2 -21 2 -145 2 82 2 66 2 -22 2 -121 2 196 2 -18 2 -38 2 131 2 37 2 -147 2 -47 2 215 2 -179 2 2 2 -40 2 38 2 -95 2 27 2 27 2 -65 2 60 2 -38 2 -62 2 -55 2 105 2 69 2 -26 2 6 2 -69 2 -10 2 221 2 -24 2 32 2 -124 2 48 2 -28 2 92 2 -59 2 -39 2 145 2 -68 2 -170 2 174 2 15 2 -10 2 -69 2 -29 2 43 2 -19 2 49 2 -39 2 -49 2 -46 2 25 2 -34 2 12 2 34 2 -12 2 75 2 -102 2 -21 2 104 2 -20 2 -61 2 -50 2 4 2 -11 2 40 2 124 2 -48 2 -63 2 -93 2 72 2 12 2 40 2 -35 2 -42 2 19 2 48 2 33 2 -44 2 38 2 -80 2 14 2 55 2 -91 2 84 2 21 2 24 2 33 2 -46 2 23 2 9 2 27 2 -100 2 106 2 -28 2 -14 2 118 2 0 2 -16 2 8 2 25 2 -55 2 -73 2 31 2 16 2 -53 2 52 2 -40 2 -43 2 -26 2 42 2 -42 2 32 2 -19 2 -23 2 86 2 -136 2 24 2 -35 2 13 2 65 2 -20 2 1 2 70 2 -109 2 20 2 8 2 -30 2 -93 2 120 2 -39 2 19 2 24 2 43 2 22 2 44 2 -18 2 -83 2 62 2 101 2 -12 2 -99 2 -19 2 -41 2 52 2 -15 2 59 2 5 2 -237 2 210 2 -73 2 -114 2 166 2 39 2 5 2 -169 2 -19 2 258 2 -106 2 -22 2 -47 2 49 2 4 2 -35 2 -62 2 23 2 22 2 78 2 -47 2 35 2 -19 2 35 2 -70 2 50 2 -31 2 46 2 -19 2 148 2 -148 2 123 2 -160 2 81 2 6 2 1 2 -70 2 23 2 14 2 236 2 -177 2 -38 2 -14 2 93 2 -124 2 -48 2 157 2 -62 2 15 2 -33 2 -12 2 3 2 30 2 39 2 32 2 29 2 -63 2 11 2 19 2 -4 2 25 2 -93 2 94 2 24 2 -72 2 -5 2 -79 2 14 2 55 2 131 2 -81 2 5 2 35 2 -127 2 148 2 -117 2 44 2 -3 2 -48 2 -60 2 72 2 14 2 -64 2 64 2 68 2 -78 2 -17 2 47 2 -117 2 84 2 -46 2 56 2 -35 2 -3 2 -50 2 -26 2 70 2 29 2 33 2 27 2 -164 2 56 2 50 2 6 2 15 2 -147 2 34 2 22 2 41 2 -32 2 37 2 -123 2 9 2 -8 2 44 2 24 2 -5 2 12 2 -36 2 20 2 23 2 -31 2 132 2 -164 2 143 2 -134 2 63 2 -82 2 -42 2 55 2 -47 2 27 2 34 2 36 2 -20 2 12 2 39 2 24 2 -41 2 -71 2 53 2 60 2 27 2 34 2 -141 2 -33 2 43 2 59 2 25 2 -31 2 -48 2 50 2 -169 2 110 2 54 2 -51 2 -50 2 4 2 24 2 90 2 14 2 -24 2 18 2 -100 2 64 2 -111 2 35 2 14 2 39 2 48 2 -14 2 -4 2 28 2 -135 2 194 2 -6 2 -196 2 184 2 -86 2 21 2 23 2 -79 2 71 2 -56 2 85 2 -61 2 106 2 -131 2 -2 2 40 2 97 2 -32 2 -76 2 66 2 14 2 5 2 -47 2 -38 2 16 2 -48 2 68 2 17 2 -36 2 -27 2 6 2 -6 2 -20 2 55 2 -80 2 -7 2 39 2 -30 2 -52 2 -20 2 71 2 68 2 -72 2 -150 2 111 2 -79 2 125 2 39 2 -26 2 -65 2 165 2 -58 2 48 2 -186 2 180 2 -56 2 64 2 -9 2 -57 2 17 2 48 2 -30 2 131 2 -65 2 -16 2 48 2 -22 2 14 2 -55 2 163 2 -24 2 -50 2 17 2 -10 2 -103 2 50 2 -92 2 -33 2 -58 2 -22 2 48 2 21 2 -60 2 149 2 -78 2 -37 2 21 2 -22 2 -20 2 -17 2 57 2 37 2 -10 2 87 2 -146 2 -15 2 40 2 -12 2 42 2 -47 2 40 2 68 2 -28 2 35 2 13 2 -87 2 55 2 -10 2 31 2 -88 2 -38 2 53 2 76 2 -7 2 -6 2 29 2 38 2 -104 2 0 2 49 2 18 2 -86 2 100 2 -121 2 73 2 -94 2 99 2 -5 2 -103 2 15 2 66 2 220 2 -162 2 22 2 -30 2 -193 2 238 2 -54 2 107 2 74 2 -92 2 14 2 -95 2 -28 2 -13 2 -30 2 43 2 7 2 -27 2 -48 2 -38 2 49 2 22 2 44 2 -28 2 17 2 8 2 -17 2 27 2 -42 2 20 2 -41 2 24 2 77 2 -92 2 87 2 -2 2 32 2 46 2 -12 2 -46 2 -57 2 -70 2 -16 2 84 2 -55 2 -70 2 134 2 -132 2 118 2 38 2 -99 2 -127 2 108 2 110 2 -82 2 -36 2 43 2 -56 2 78 2 43 2 -69 2 -32 2 28 2 23 2 14 2 7 2 73 2 -15 2 -8 2 -119 2 105 2 -91 2 -16 2 -39 2 135 2 12 2 96 2 -111 2 -8 2 34 2 -17 2 -41 2 -19 2 113 2 6 2 17 2 55 2 -56 2 23 2 -38 2 55 2 -109 2 53 2 -66 2 -5 2 128 2 -106 2 5 2 -71 2 43 2 -13 2 12 2 -4 2 -32 2 -20 2 9 2 135 2 -72 2 -8 2 -137 2 138 2 -117 2 9 2 128 2 -104 2 122 2 26 2 2 2 8 2 -76 2 -5 2 105 2 -63 2 30 2 -13 2 -64 2 94 2 -15 2 -21 2 29 2 -87 2 35 2 -27 2 62 2 -4 2 -81 2 141 2 -107 2 108 2 -106 2 41 2 56 2 -40 2 -59 2 105 2 42 2 -87 2 149 2 -122 2 39 2 -145 2 26 2 -12 2 154 2 -164 2 66 2 -31 2 82 2 -55 2 -5 2 -55 2 107 2 -143 2 -15 2 106 2 137 2 -88 2 54 2 -22 2 16 2 50 2 5 2 19 2 -38 2 -34 2 54 2 -19 2 -1 2 -33 2 203 2 -160 2 21 2 4 2 -11 2 -52 2 32 2 -47 2 17 2 -65 2 75 2 -64 2 47 2 89 2 -26 2 -91 2 24 2 64 2 -70 2 51 2 -97 2 -150 2 66 2 71 2 1 2 4 2 138 2 -28 2 10 2 -14 2 -10 2 -84 2 88 2 42 2 -90 2 48 2 -5 2 -6 2 17 2 -21 2 -49 2 48 2 -54 2 -2 2 -119 2 156 2 -28 2 112 2 -128 2 44 2 10 2 -21 2 -97 2 48 2 53 2 47 2 -27 2 -7 2 -15 2 -208 2 195 2 -4 2 -23 2 165 2 -37 2 94 2 -76 2 -142 2 193 2 13 2 -53 2 -80 2 2 2 -25 2 -14 2 62 2 7 2 23 2 -44 2 -65 2 -67 2 -93 2 124 2 -24 2 17 2 -36 2 103 2 -28 2 -86 2 14 2 -17 2 -40" stroke="#9400d3"/>
</g>
<path d="M124 10.9h20M124 84.45h20M124 158h20M124 231.55h20M124 305.1h20M124 378.65h20M124 452.2h20M124 525.75h20M124 599.3h20M124 599.3v-20M208.9 599.3v-20M293.8 599.3v-20M378.7 599.3v-20M463.6 599.3v-20M548.5 599.3v-20M633.4 599.3v-20M718.3 599.3v-20M803.2 599.3v-20M888.1 599.3v-20M973 599.3v-20" stroke="#1a1a1a" stroke-width="1.5" fill="none"/>
<rect x="124" y="10.9" width="849" height="588.4" fill="none" stroke="#151515" stroke-width="1.7"/>
<text x="115.4" y="20.2" text-anchor="end" class="t" textLength="26.88" lengthAdjust="spacingAndGlyphs">42</text>
<text x="115.4" y="93.75" text-anchor="end" class="t" textLength="47.05" lengthAdjust="spacingAndGlyphs">41.5</text>
<text x="115.4" y="167.3" text-anchor="end" class="t" textLength="26.88" lengthAdjust="spacingAndGlyphs">41</text>
<text x="115.4" y="240.85" text-anchor="end" class="t" textLength="47.05" lengthAdjust="spacingAndGlyphs">40.5</text>
<text x="115.4" y="314.4" text-anchor="end" class="t" textLength="26.88" lengthAdjust="spacingAndGlyphs">40</text>
<text x="115.4" y="387.95" text-anchor="end" class="t" textLength="47.05" lengthAdjust="spacingAndGlyphs">39.5</text>
<text x="115.4" y="461.5" text-anchor="end" class="t" textLength="26.88" lengthAdjust="spacingAndGlyphs">39</text>
<text x="115.4" y="535.05" text-anchor="end" class="t" textLength="47.05" lengthAdjust="spacingAndGlyphs">38.5</text>
<text x="115.4" y="608.6" text-anchor="end" class="t" textLength="26.88" lengthAdjust="spacingAndGlyphs">38</text>
<text x="124" y="628.2" text-anchor="middle" class="t">0</text>
<text x="208.9" y="628.2" text-anchor="middle" class="t" textLength="26.88" lengthAdjust="spacingAndGlyphs">10</text>
<text x="293.8" y="628.2" text-anchor="middle" class="t" textLength="26.88" lengthAdjust="spacingAndGlyphs">20</text>
<text x="378.7" y="628.2" text-anchor="middle" class="t" textLength="26.88" lengthAdjust="spacingAndGlyphs">30</text>
<text x="463.6" y="628.2" text-anchor="middle" class="t" textLength="26.88" lengthAdjust="spacingAndGlyphs">40</text>
<text x="548.5" y="628.2" text-anchor="middle" class="t" textLength="26.88" lengthAdjust="spacingAndGlyphs">50</text>
<text x="633.4" y="628.2" text-anchor="middle" class="t" textLength="26.88" lengthAdjust="spacingAndGlyphs">60</text>
<text x="718.3" y="628.2" text-anchor="middle" class="t" textLength="26.88" lengthAdjust="spacingAndGlyphs">70</text>
<text x="803.2" y="628.2" text-anchor="middle" class="t" textLength="26.88" lengthAdjust="spacingAndGlyphs">80</text>
<text x="888.1" y="628.2" text-anchor="middle" class="t" textLength="26.88" lengthAdjust="spacingAndGlyphs">90</text>
<text x="973" y="628.2" text-anchor="middle" class="t" textLength="40.33" lengthAdjust="spacingAndGlyphs">100</text>
<text x="548.5" y="656.6" text-anchor="middle" class="l">Time (ns)</text>
<text transform="translate(52.9 305.1) rotate(-90)" text-anchor="middle" class="l">Rg (&#197;)</text>
<text x="1.8" y="43.8" class="p">A</text>
<path d="M458.4 45H481" stroke="#000000" stroke-width="3.5"/>
<text x="499" y="51.8" class="l" textLength="259.1" lengthAdjust="spacing">6CVN-TauR2 Complex</text>
<path d="M458.4 79.3H481" stroke="#ffa500" stroke-width="3.5"/>
<text x="499" y="85.9" class="l" textLength="273.3" lengthAdjust="spacing">6CVN*-TauR2 Complex</text>
<path d="M458.4 114.2H481" stroke="#008b00" stroke-width="3.5"/>
<text x="499" y="121.4" class="l" textLength="268.1" lengthAdjust="spacing">&#946;I/&#945;/&#946;I-TauR2 Complex</text>
<path d="M458.4 150.4H481" stroke="#00ffff" stroke-width="3.5"/>
<text x="499" y="157.4" class="l" textLength="313.6" lengthAdjust="spacing">&#946;IIb/&#945;/&#946;IIb-TauR2 Complex</text>
<path d="M458.4 186H481" stroke="#9400d3" stroke-width="3.5"/>
<text x="499" y="192.9" class="l" textLength="304" lengthAdjust="spacing">&#946;III/&#945;/&#946;III-TauR2 Complex</text>
<clipPath id="clipB"><rect x="134" y="689.9" width="836.6" height="600.1"/></clipPath>
<g clip-path="url(#clipB)" fill="none" stroke-width="36" stroke-linejoin="round">
<path transform="translate(134 0) scale(.1)" d="M0 9460 l2 -7 2 -42 2 2 2 106 2 -19 2 1 2 29 2 0 2 5 2 -90 2 43 2 -3 2 -43 2 28 2 -44 2 -4 2 -17 2 28 2 -26 2 -17 2 40 2 -56 2 -19 2 43 2 -79 2 73 2 -13 2 109 2 -39 2 -185 2 186 2 -133 2 77 2 -50 2 83 2 -48 2 -14 2 -59 2 82 2 -12 2 -44 2 45 2 -81 2 138 2 90 2 -39 2 17 2 -57 2 -34 2 5 2 95 2 21 2 -51 2 15 2 44 2 18 2 -90 2 22 2 0 2 86 2 -164 2 -18 2 3 2 -17 2 46 2 27 2 -72 2 49 2 95 2 111 2 -212 2 46 2 30 2 -79 2 64 2 -32 2 52 2 -23 2 -88 2 -34 2 46 2 35 2 -4 2 4 2 -28 2 -59 2 89 2 -86 2 50 2 -6 2 -46 2 72 2 -6 2 -55 2 27 2 91 2 16 2 -95 2 11 2 -29 2 0 2 1 2 28 2 5 2 65 2 15 2 1 2 59 2 -81 2 -32 2 -18 2 47 2 144 2 -76 2 -25 2 69 2 -97 2 -58 2 64 2 -45 2 -80 2 99 2 45 2 -12 2 -75 2 52 2 -11 2 -98 2 -7 2 30 2 -39 2 11 2 33 2 6 2 -20 2 -5 2 10 2 10 2 18 2 -3 2 18 2 -24 2 16 2 77 2 -2 2 -16 2 35 2 -2 2 -51 2 -75 2 64 2 -59 2 50 2 47 2 -36 2 25 2 56 2 -67 2 25 2 3 2 28 2 -10 2 -33 2 23 2 38 2 -205 2 137 2 -6 2 103 2 -102 2 91 2 -136 2 -45 2 21 2 27 2 -131 2 99 2 5 2 -141 2 172 2 -4 2 -123 2 39 2 -74 2 144 2 -34 2 74 2 37 2 -45 2 48 2 7 2 50 2 -95 2 98 2 -84 2 142 2 -47 2 -57 2 7 2 -62 2 64 2 -24 2 -68 2 -5 2 4 2 25 2 -95 2 55 2 36 2 -48 2 62 2 32 2 -18 2 -43 2 -20 2 14 2 14 2 -60 2 5 2 -70 2 67 2 12 2 27 2 20 2 -61 2 27 2 -24 2 -46 2 54 2 93 2 -104 2 111 2 -122 2 130 2 -39 2 30 2 -21 2 -252 2 274 2 -72 2 -7 2 -44 2 179 2 -169 2 9 2 -3 2 11 2 -130 2 116 2 1 2 31 2 55 2 -123 2 33 2 -39 2 97 2 20 2 -14 2 -170 2 91 2 -34 2 70 2 -131 2 134 2 -8 2 15 2 28 2 9 2 19 2 1 2 -48 2 35 2 -27 2 50 2 -187 2 142 2 62 2 -47 2 -13 2 21 2 -19 2 67 2 69 2 -69 2 -17 2 28 2 -89 2 42 2 -16 2 26 2 -31 2 9 2 20 2 -58 2 156 2 -139 2 36 2 -30 2 -23 2 5 2 16 2 -2 2 -65 2 71 2 119 2 -109 2 92 2 -70 2 -19 2 -9 2 -24 2 145 2 -102 2 -10 2 9 2 44 2 -45 2 -121 2 47 2 96 2 -113 2 13 2 -92 2 -52 2 95 2 43 2 -19 2 115 2 -88 2 -2 2 112 2 -188 2 52 2 79 2 -136 2 82 2 44 2 58 2 -8 2 142 2 -153 2 -62 2 69 2 52 2 -28 2 -48 2 24 2 -26 2 -48 2 61 2 40 2 -22 2 -54 2 64 2 -50 2 -91 2 43 2 -44 2 103 2 -98 2 62 2 5 2 -35 2 17 2 5 2 -3 2 15 2 -4 2 81 2 -43 2 -77 2 -4 2 98 2 -86 2 41 2 -33 2 179 2 -176 2 27 2 39 2 -89 2 98 2 -41 2 45 2 -28 2 -86 2 8 2 134 2 -12 2 -59 2 20 2 -175 2 305 2 -201 2 47 2 -56 2 108 2 39 2 -73 2 33 2 47 2 -5 2 -26 2 -94 2 43 2 -21 2 11 2 26 2 66 2 26 2 -152 2 113 2 -50 2 17 2 -50 2 46 2 70 2 -115 2 2 2 0 2 15 2 -28 2 -93 2 -79 2 115 2 38 2 -68 2 56 2 30 2 8 2 -34 2 25 2 70 2 -7 2 -50 2 49 2 -16 2 -92 2 96 2 76 2 7 2 -141 2 97 2 -56 2 57 2 11 2 -12 2 43 2 -100 2 92 2 -58 2 25 2 -47 2 -23 2 -9 2 -64 2 64 2 -35 2 -14 2 38 2 -7 2 11 2 6 2 126 2 -88 2 40 2 -62 2 37 2 -3 2 12 2 -60 2 -45 2 18 2 -47 2 23 2 2 2 74 2 -67 2 -44 2 100 2 -14 2 84 2 40 2 -90 2 13 2 67 2 14 2 -7 2 -30 2 54 2 94 2 -121 2 72 2 -32 2 -60 2 3 2 27 2 36 2 -103 2 144 2 -23 2 99 2 -112 2 -189 2 137 2 -37 2 -27 2 5 2 -90 2 -4 2 9 2 53 2 -34 2 123 2 -54 2 -40 2 41 2 32 2 -44 2 -60 2 -8 2 37 2 93 2 -14 2 196 2 -242 2 -85 2 101 2 17 2 -14 2 -22 2 109 2 -23 2 -13 2 62 2 -74 2 55 2 -103 2 72 2 24 2 -24 2 15 2 -32 2 -85 2 -2 2 -9 2 86 2 33 2 -70 2 -5 2 18 2 -75 2 26 2 94 2 -51 2 126 2 -79 2 39 2 -4 2 77 2 -178 2 25 2 -74 2 59 2 -20 2 62 2 3 2 -27 2 48 2 9 2 2 2 -35 2 4 2 11 2 -52 2 40 2 6 2 23 2 -91 2 101 2 -14 2 20 2 5 2 -19 2 7 2 160 2 -139 2 -27 2 -11 2 -6 2 -14 2 -33 2 34 2 -77 2 100 2 26 2 -27 2 98 2 -44 2 -31 2 -30 2 -53 2 94 2 -51 2 -107 2 59 2 -30 2 36 2 -95 2 110 2 -110 2 56 2 30 2 10 2 96 2 -116 2 63 2 51 2 -59 2 -81 2 82 2 -75 2 81 2 26 2 6 2 60 2 -19 2 -49 2 8 2 -19 2 -45 2 95 2 -13 2 -31 2 39 2 -39 2 18 2 -144 2 147 2 -200 2 186 2 16 2 -35 2 -13 2 8 2 61 2 -63 2 26 2 -99 2 108 2 -31 2 50 2 -131 2 92 2 16 2 22 2 -112 2 67 2 -46 2 -48 2 65 2 -31 2 -117 2 133 2 -68 2 70 2 26 2 17 2 -120 2 36 2 -74 2 144 2 43 2 10 2 80 2 -20 2 -56 2 84 2 -25 2 -118 2 118 2 -33 2 36 2 22 2 -61 2 31 2 12 2 -86 2 12 2 94 2 -63 2 -105 2 76 2 -82 2 154 2 -186 2 -60 2 188 2 144 2 -145 2 -50 2 75 2 -103 2 -33 2 -22 2 -23 2 8 2 15 2 35 2 -57 2 23 2 18 2 -24 2 45 2 -91 2 127 2 -96 2 58 2 24 2 -44 2 -63 2 110 2 21 2 36 2 89 2 -205 2 5 2 64 2 -19 2 82 2 -102 2 149 2 -6 2 -57 2 5 2 24 2 -70 2 52 2 -86 2 150 2 -92 2 13 2 -89 2 156 2 -106 2 36 2 37 2 -1 2 -128 2 56 2 34 2 -14 2 -5 2 40 2 23 2 -23 2 31 2 -63 2 12 2 67 2 -69 2 -22 2 1 2 -75 2 26 2 -55 2 19 2 75 2 -51 2 28 2 31 2 -21 2 -42 2 29 2 57 2 99 2 -130 2 -97 2 132 2 -13 2 60 2 -39 2 51 2 -8 2 -120 2 60 2 -41 2 21 2 29 2 -49 2 -49 2 56 2 -20 2 53 2 16 2 -7 2 -36 2 -48 2 23 2 81 2 -48 2 -3 2 -43 2 -49 2 24 2 37 2 29 2 -30 2 -8 2 -40 2 24 2 94 2 48 2 32 2 -7 2 -7 2 -11 2 3 2 49 2 -121 2 56 2 11 2 -75 2 153 2 -134 2 102 2 -96 2 53 2 -10 2 30 2 16 2 66 2 -64 2 7 2 -114 2 -12 2 45 2 -24 2 -6 2 4 2 -5 2 3 2 55 2 35 2 -53 2 68 2 -247 2 222 2 -126 2 86 2 -28 2 39 2 38 2 -85 2 88 2 -74 2 -8 2 28 2 -108 2 4 2 75 2 56 2 -20 2 -74 2 -28 2 19 2 16 2 7 2 -18 2 -63 2 150 2 -124 2 43 2 53 2 -170 2 133 2 11 2 57 2 43 2 -24 2 29 2 -54 2 61 2 -38 2 48 2 -30 2 51 2 -10 2 -127 2 124 2 1 2 12 2 -54 2 -76 2 69 2 34 2 136 2 -273 2 105 2 33 2 -131 2 -44 2 135 2 61 2 -20 2 2 2 -15 2 -79 2 -111 2 113 2 -19 2 -49 2 74 2 14 2 -27 2 45 2 23 2 114 2 -87 2 -14 2 65 2 -143 2 54 2 23 2 -40 2 -22 2 29 2 13 2 -11 2 8 2 6 2 -88 2 86 2 -59 2 59 2 -14 2 8 2 -64 2 94 2 -10 2 -8 2 -28 2 16 2 -1 2 -55 2 -27 2 61 2 43 2 62 2 -52 2 10 2 24 2 -61 2 133 2 -191 2 80 2 4 2 42 2 -149 2 10 2 -6 2 24 2 -9 2 44 2 -50 2 58 2 -12 2 46 2 68 2 37 2 -73 2 -27 2 -18 2 -236 2 252 2 -73 2 19 2 16 2 -28 2 3 2 60 2 -43 2 14 2 -20 2 -31 2 -109 2 270 2 -210 2 97 2 -55 2 1 2 48 2 -66 2 37 2 -18 2 37 2 -40 2 -21 2 16 2 29 2 9 2 57 2 -54 2 50 2 -51 2 -9 2 26 2 -30 2 14 2 23 2 -108 2 78 2 -51 2 -26 2 52 2 30 2 36 2 -74 2 -80 2 39 2 48 2 147 2 -62 2 32 2 47 2 -56 2 35 2 31 2 -59 2 -84 2 26 2 8 2 34 2 -34 2 -33 2 -76 2 85 2 -172 2 134 2 27 2 -31 2 -107 2 175 2 70 2 46 2 -60 2 32 2 -43 2 57 2 -14 2 9 2 64 2 -30 2 3 2 -43 2 81 2 -103 2 -48 2 90 2 -117 2 -39 2 110 2 -4 2 24 2 80 2 -101 2 19 2 14 2 -45 2 -22 2 52 2 -29 2 12 2 -40 2 30 2 114 2 -74 2 -41 2 15 2 -30 2 -37 2 27 2 -89 2 54 2 30 2 -2 2 11 2 2 2 -40 2 19 2 -110 2 20 2 70 2 -59 2 -44 2 86 2 -39 2 73 2 -3 2 43 2 18 2 -48 2 -7 2 45 2 -26 2 24 2 65 2 -21 2 57 2 -26 2 -47 2 13 2 -47 2 -19 2 21 2 39 2 64 2 -20 2 49 2 -71 2 -56 2 49 2 73 2 -184 2 117 2 30 2 -150 2 110 2 -12 2 -62 2 106 2 -100 2 38 2 -64 2 29 2 -34 2 118 2 -7 2 -46 2 -45 2 -122 2 83 2 14 2 50 2 -196 2 92 2 77 2 90 2 -20 2 47 2 -66 2 4 2 -131 2 265 2 -205 2 -43 2 97 2 -31 2 -6 2 73 2 50 2 -9 2 -92 2 -4 2 -80 2 15 2 18 2 -5 2 61 2 -53 2 -45 2 79 2 10 2 -117 2 144 2 -68 2 -37 2 86 2 -147 2 136 2 7 2 -11 2 36 2 -12 2 42 2 -85 2 73 2 33 2 44 2 29 2 -23 2 61 2 -12 2 41 2 -116 2 83 2 -86 2 -104 2 10 2 67 2 43 2 -57 2 47 2 -28 2 -116 2 -43 2 123 2 -123 2 4 2 42 2 82 2 -49 2 -38 2 -18 2 5 2 55 2 -55 2 59 2 -46 2 63 2 -44 2 40 2 -48 2 81 2 71 2 -108 2 59 2 -103 2 56 2 -39 2 81 2 11 2 -42 2 -24 2 -4 2 58 2 -102 2 82 2 57 2 -86 2 22 2 -98 2 22 2 35 2 -45 2 67 2 -17 2 -60 2 1 2 -7 2 1 2 -6 2 40 2 8 2 4 2 -39 2 73 2 16 2 103 2 -133 2 95 2 -57 2 -42 2 -2 2 83 2 0 2 11 2 13 2 -1 2 -1 2 15 2 -106 2 191 2 -133 2 -124 2 109 2 -38 2 66 2 -62 2 6 2 -8 2 -16 2 -1 2 -4 2 69 2 -110 2 38 2 -43 2 102 2 -3 2 -166 2 86 2 -68 2 46 2 38 2 -74 2 67 2 10 2 -94 2 150 2 15 2 -48 2 45 2 -16 2 74 2 -32 2 12 2 -88 2 96 2 -13 2 17 2 -31 2 29 2 -26 2 -2 2 75 2 -1 2 -75 2 22 2 13 2 8 2 -7 2 -27 2 2 2 113 2 -124 2 -32 2 -13 2 -69 2 12 2 -102 2 250 2 -34 2 -41 2 -64 2 61 2 -17 2 193 2 -282 2 85 2 86 2 -158 2 101 2 128 2 -85 2 20 2 62 2 38 2 -104 2 -43 2 17 2 80 2 86 2 -151 2 48 2 -98 2 76 2 -1 2 -17 2 -15 2 -7 2 13 2 32 2 -13 2 5 2 -37 2 94 2 35 2 -104 2 -5 2 -73 2 3 2 44 2 -17 2 -8 2 -54 2 135 2 -56 2 -48 2 103 2 8 2 -78 2 -20 2 59 2 12 2 -70 2 53 2 58 2 -76 2 81 2 -12 2 -27 2 11 2 -73 2 82 2 55 2 8 2 17 2 -66 2 16 2 43 2 -105 2 26 2 -11 2 -102 2 82 2 32 2 -29 2 -35 2 -9 2 -19 2 -83 2 92 2 -58 2 32 2 47 2 -37 2 -128 2 125 2 46 2 -12 2 35 2 34 2 -99 2 103 2 -72 2 88 2 -8 2 7 2 41 2 -46 2 23 2 -61 2 99 2 -44 2 -16 2 2 2 -19 2 37 2 -27 2 84 2 -15 2 27 2 -91 2 21 2 -94 2 52 2 21 2 -92 2 65 2 -20 2 -117 2 78 2 -17 2 51 2 -8 2 -51 2 135 2 -33 2 5 2 51 2 -57 2 135 2 -96 2 21 2 -23 2 -15 2 53 2 3 2 -12 2 26 2 -57 2 51 2 -20 2 0 2 -42 2 -14 2 -54 2 39 2 -58 2 -37 2 47 2 63 2 -90 2 114 2 69 2 -2 2 -120 2 31 2 -34 2 60 2 -54 2 0 2 -18 2 78 2 4 2 17 2 77 2 -44 2 -61 2 22 2 114 2 1 2 40 2 -19 2 -2 2 22 2 17 2 19 2 -15 2 -89 2 4 2 -8 2 20 2 -45 2 57 2 -29 2 1 2 6 2 35 2 -31 2 58 2 -98 2 -16 2 57 2 -29 2 4 2 -30 2 -27 2 64 2 54 2 -108 2 55 2 -76 2 -3 2 -44 2 -10 2 -44 2 127 2 -112 2 31 2 17 2 48 2 -18 2 -30 2 17 2 34 2 34 2 -109 2 -14 2 127 2 14 2 6 2 0 2 -29 2 1 2 34 2 49 2 -18 2 -9 2 -32 2 39 2 37 2 -37 2 -40 2 31 2 33 2 3 2 -94 2 96 2 2 2 -11 2 -9 2 4 2 19 2 -59 2 19 2 48 2 -29 2 20 2 57 2 -41 2 24 2 43 2 -142 2 14 2 40 2 7 2 -35 2 33 2 0 2 8 2 -38 2 55 2 -21 2 -83 2 39 2 5 2 -26 2 37 2 -2 2 -3 2 28 2 -14 2 52 2 31 2 -34 2 -40 2 99 2 -117 2 -60 2 88 2 98 2 -129 2 69 2 -10 2 26 2 51 2 -55 2 16 2 55 2 -39 2 -64 2 54 2 -39 2 11 2 120 2 -43 2 2 2 -72 2 43 2 -11 2 -6 2 32 2 -40 2 80 2 -40 2 1 2 22 2 25 2 99 2 8 2 -24 2 -58 2 12 2 -24 2 113 2 -35 2 55 2 27 2 3 2 -116 2 28 2 24 2 -31 2 -73 2 -59 2 78 2 22 2 -20 2 -115 2 61 2 67 2 -19 2 79 2 -79 2 14 2 34 2 -121 2 17 2 5 2 26 2 -76 2 118 2 -84 2 -41 2 82 2 83 2 -143 2 79 2 65 2 -76 2 30 2 54 2 72 2 -7 2 -103 2 67 2 -72 2 98 2 4 2 -20 2 -10 2 -13 2 17 2 8 2 -49 2 -21 2 -12 2 28 2 69 2 -16 2 18 2 -37 2 -41 2 -85 2 83 2 20 2 5 2 -85 2 -4 2 39 2 -143 2 148 2 10 2 -32 2 -135 2 151 2 10 2 9 2 -107 2 28 2 104 2 126 2 -254 2 80 2 -49 2 -152 2 110 2 3 2 -9 2 75 2 -7 2 82 2 -63 2 -60 2 -15 2 12 2 -16 2 -45 2 133 2 -112 2 -13 2 31 2 32 2 -43 2 16 2 -25 2 11 2 72 2 -86 2 39 2 -34 2 39 2 -31 2 29 2 -54 2 99 2 24 2 23 2 -35 2 4 2 -24 2 -49 2 62 2 -20 2 15 2 -34 2 100 2 -173 2 26 2 20 2 -6 2 -43 2 -23 2 66 2 -102 2 120 2 -69 2 -15 2 -23 2 -91 2 -44 2 141 2 19 2 -80 2 -32 2 44 2 48 2 -128 2 133 2 5 2 -147 2 129 2 40 2 39 2 -44 2 64 2 -80 2 122 2 2 2 11 2 -26 2 -13 2 -27 2 30 2 19 2 12 2 88 2 -233 2 61 2 -82 2 -59 2 141 2 -8 2 -86 2 28 2 -106 2 22 2 16 2 126 2 -46 2 -29 2 -18 2 44 2 -45 2 -4 2 16 2 84 2 -63 2 5 2 -76 2 91 2 32 2 31 2 -77 2 219 2 -175 2 87 2 53 2 -74 2 0 2 -31 2 -91 2 66 2 65 2 -36 2 -85 2 -17 2 -13 2 61 2 -99 2 39 2 -28 2 -63 2 102 2 21 2 -53 2 -10 2 10 2 66 2 32 2 22 2 -19 2 -17 2 27 2 -98 2 -50 2 74 2 -19 2 28 2 45 2 15 2 -43 2 -17 2 -86 2 123 2 -35 2 -104 2 129 2 -131 2 118 2 -154 2 106 2 -45 2 -126 2 204 2 90 2 -68 2 -180 2 147 2 -80 2 99 2 37 2 -76 2 -59 2 6 2 76 2 66 2 0 2 4 2 -25 2 -90 2 -8 2 73 2 -34 2 66 2 105 2 -74 2 -3 2 7 2 12 2 -38 2 16 2 -97 2 179 2 -68 2 -94 2 -145 2 -68 2 60 2 -72 2 5 2 69 2 -15 2 64 2 35 2 7 2 48 2 -76 2 -16 2 21 2 70 2 -66 2 39 2 -27 2 16 2 52 2 24 2 -49 2 15 2 54 2 -59 2 153 2 -181 2 91 2 25 2 -145 2 51 2 41 2 8 2 -25 2 -49 2 -9 2 -27 2 96 2 -78 2 107 2 -63 2 -22 2 -43 2 20 2 25 2 -116 2 120 2 -20 2 37 2 -42 2 1 2 43 2 -120 2 110 2 -25 2 7 2 3 2 16 2 -70 2 -34 2 11 2 49 2 15 2 -19 2 -46 2 -13 2 19 2 -184 2 102 2 83 2 -82 2 58 2 30 2 -22 2 -59 2 -19 2 118 2 -139 2 -23 2 35 2 7 2 35 2 -15 2 78 2 57 2 3 2 7 2 -25 2 45 2 7 2 -49 2 -5 2 82 2 -87 2 42 2 -83 2 -35 2 59 2 -26 2 33 2 -61 2 54 2 -53 2 93 2 -43 2 -38 2 18 2 57 2 -50 2 133 2 -113 2 33 2 -155 2 182 2 -53 2 103 2 -48 2 -85 2 37 2 13 2 -34 2 81 2 -15 2 -86 2 0 2 63 2 -79 2 -34 2 5 2 29 2 20 2 -7 2 13 2 20 2 -28 2 85 2 -78 2 49 2 -140 2 128 2 20 2 -37 2 72 2 -41 2 38 2 -70 2 103 2 -138 2 -62 2 96 2 -95 2 52 2 93 2 -198 2 78 2 46 2 30 2 -28 2 64 2 -16 2 -111 2 200 2 -165 2 131 2 -69 2 -61 2 90 2 -39 2 -106 2 108 2 -13 2 71 2 -71 2 -34 2 15 2 -40 2 16 2 49 2 69 2 17 2 -86 2 -44 2 51 2 0 2 -27 2 -61 2 121 2 -122 2 15 2 2 2 18 2 -9 2 -21 2 11 2 80 2 -10 2 15 2 -39 2 -16 2 64 2 -40 2 95 2 42 2 -51 2 4 2 20 2 -57 2 -12 2 8 2 -94 2 19 2 -14 2 83 2 23 2 155 2 35 2 -187 2 66 2 -53 2 -3 2 -43 2 46 2 30 2 -24 2 18 2 -59 2 56 2 98 2 -220 2 -28 2 50 2 2 2 -3 2 2 2 -23 2 34 2 48 2 29 2 56 2 115 2 -151 2 66 2 -140 2 59 2 14 2 -83 2 74 2 57 2 -80 2 30 2 10 2 -57 2 77 2 -95 2 -31 2 90 2 -43 2 37 2 7 2 -5 2 -36 2 101 2 -26 2 -14 2 -11 2 1 2 46 2 41 2 68 2 -131 2 67 2 -66 2 152 2 -147 2 -15 2 78 2 -16 2 -94 2 18 2 81 2 -5 2 9 2 -60 2 -17 2 -41 2 72 2 1 2 18 2 -65 2 23 2 40 2 35 2 -43 2 0 2 -108 2 208 2 -51 2 64 2 -25 2 -34 2 76 2 -93 2 -8 2 -38 2 125 2 -33 2 -60 2 -6 2 112 2 -30 2 -15 2 65 2 -160 2 94 2 -85 2 -65 2 -21 2 82 2 6 2 -81 2 138 2 -17 2 -35 2 -15 2 11 2 42 2 -48 2 1 2 44 2 -21 2 73 2 54 2 -35 2 -23 2 84 2 -5 2 70 2 -70 2 -24 2 -44 2 24 2 -167 2 130 2 34 2 -48 2 36 2 -34 2 -50 2 85 2 89 2 -57 2 -10 2 -24 2 40 2 -98 2 73 2 -26 2 6 2 -67 2 118 2 -43 2 11 2 93 2 -90 2 -37 2 95 2 31 2 -26 2 81 2 49 2 -139 2 18 2 -77 2 36 2 -87 2 117 2 10 2 -18 2 -18 2 -12 2 -74 2 186 2 -63 2 -114 2 38 2 14 2 -134 2 -9 2 -12 2 69 2 21 2 70 2 -93 2 58 2 28 2 -44 2 52 2 -151 2 128 2 -3 2 -79 2 97 2 129 2 103 2 -93 2 -30 2 -39 2 -29 2 -96 2 184 2 -76 2 8 2 -82 2 120 2 38 2 -52 2 -13 2 -14 2 -34 2 57 2 -16 2 13 2 49 2 -15 2 -14 2 60 2 -152 2 89 2 -2 2 -22 2 -61 2 56 2 -18 2 67 2 -105 2 59 2 -119 2 72 2 -5 2 -147 2 162 2 -36 2 39 2 6 2 14 2 -66 2 16 2 130 2 -144 2 124 2 -109 2 80 2 -4 2 -162 2 107 2 33 2 -18 2 -57 2 56 2 -9 2 16 2 26 2 -4 2 65 2 -46 2 176 2 -232 2 135 2 28 2 51 2 13 2 -59 2 -15 2 -90 2 90 2 -57 2 -127 2 201 2 10 2 9 2 -171 2 98 2 -7 2 -45 2 56 2 -70 2 -4 2 33 2 -82 2 -134 2 0 2 173 2 -79 2 37 2 -20 2 50 2 21 2 -10 2 -29 2 33 2 87 2 -47 2 -30 2 -32 2 195 2 -172 2 23 2 36 2 -78 2 34 2 17 2 38 2 -97 2 128 2 -56 2 -2 2 -35 2 14 2 -38 2 63 2 -22 2 -10 2 -8 2 -104 2 106 2 3 2 15 2 117 2 -139 2 100 2 -5 2 -63 2 -150 2 124 2 -17 2 51 2 -3 2 -4 2 18 2 22 2 -121 2 117 2 -59 2 59 2 -89 2 83 2 19 2 -8 2 -12 2 32 2 38 2 -14 2 -56 2 -60 2 72 2 -58 2 -34 2 96 2 -62 2 19 2 -29 2 64 2 -72 2 -41 2 29 2 12 2 -60 2 85 2 -18 2 -11 2 60 2 -31 2 -4 2 -101 2 109 2 -137 2 71 2 -55 2 85 2 -12 2 -107 2 64 2 41 2 70 2 -9 2 1 2 -72 2 15 2 46 2 -4 2 -11 2 4 2 17 2 -18 2 22 2 -25 2 44 2 -110 2 93 2 -56 2 85 2 -61 2 -33 2 62 2 -55 2 47 2 72 2 -108 2 -53 2 69 2 72 2 -52 2 -1 2 -40 2 76 2 -58 2 -3 2 5 2 12 2 -63 2 22 2 -19 2 -43 2 -46 2 190 2 -18 2 -116 2 143 2 -77 2 23 2 33 2 42 2 -67 2 -9 2 -22 2 30 2 -28 2 19 2 16 2 -55 2 125 2 -49 2 -15 2 16 2 -32 2 -4 2 -26 2 -92 2 129 2 -50 2 89 2 53 2 -71 2 53 2 -37 2 146 2 -55 2 -29 2 -23 2 12 2 -22 2 14 2 65 2 -28 2 15 2 -101 2 -31 2 30 2 -37 2 -43 2 95 2 0 2 137 2 -267 2 103 2 -87 2 78 2 25 2 19 2 -34 2 -96 2 65 2 -6 2 49 2 -47 2 3 2 -29 2 111 2 9 2 -81 2 81 2 6 2 32 2 -23 2 -63 2 -51 2 206 2 -122 2 48 2 -28 2 -37 2 19 2 -2 2 6 2 13 2 -54 2 -31 2 108 2 -51 2 60 2 45 2 -68 2 98 2 -148 2 57 2 -7 2 7 2 -57 2 102 2 -20 2 -24 2 15 2 -113 2 149 2 42 2 -62 2 -78 2 47 2 16 2 35 2 -14 2 9 2 92 2 -69 2 -149 2 94 2 25 2 -34 2 119 2 -107 2 96 2 -91 2 21 2 11 2 -39 2 22 2 -9 2 33 2 -60 2 26 2 -79 2 82 2 22 2 10 2 -14 2 131 2 -134 2 13 2 -11 2 52 2 -53 2 -19 2 53 2 -49 2 18 2 -32 2 46 2 -62 2 95 2 -17 2 -40 2 -2 2 -6 2 41 2 80 2 -40 2 7 2 -36 2 -4 2 -50 2 294 2 -25 2 13 2 -20 2 45 2 -56 2 25 2 -1 2 -46 2 -19 2 11 2 -32 2 -31 2 2 2 -27 2 -58 2 29 2 -13 2 31 2 -41 2 49 2 -8 2 78 2 -41 2 35 2 -90 2 56 2 21 2 1 2 94 2 17 2 -57 2 68 2 -61 2 1 2 -20 2 4 2 -7 2 14 2 47 2 62 2 -39 2 105 2 -35 2 24 2 -27 2 33 2 -38 2 59 2 -133 2 23 2 15 2 130 2 -60 2 56 2 -198 2 56 2 -89 2 26 2 -21 2 32 2 -15 2 89 2 -49 2 -10 2 -37 2 33 2 -153 2 85 2 -69 2 41 2 85 2 -31 2 16 2 -94 2 74 2 67 2 -116 2 117 2 -51 2 -10 2 -23 2 14 2 61 2 83 2 -52 2 76 2 -64 2 -17 2 -3 2 10 2 65 2 34 2 -51 2 -82 2 83 2 -18 2 -26 2 31 2 8 2 -40 2 -64 2 -6 2 42 2 41 2 -42 2 -63 2 47 2 4 2 33 2 -2 2 -6 2 -3 2 41 2 -41 2 -17 2 83 2 0 2 -87 2 59 2 53 2 6 2 -136 2 96 2 -17 2 -76 2 90 2 -15 2 28 2 -58 2 4 2 37 2 -141 2 70 2 -8 2 145 2 -138 2 -23 2 8 2 32 2 4 2 -55 2 10 2 27 2 93 2 -34 2 -54 2 84 2 -140 2 59 2 32 2 -5 2 -64 2 53 2 -33 2 9 2 9 2 -57 2 -23 2 63 2 27 2 -56 2 39 2 12 2 64 2 -119 2 130 2 -59 2 50 2 -1 2 29 2 -127 2 105 2 -58 2 158 2 -72 2 35 2 -1 2 -44 2 -2 2 20 2 -5 2 -18 2 -161 2 165 2 -24 2 -19 2 33 2 -135 2 79 2 -153 2 181 2 -92 2 1 2 73 2 44 2 -13 2 46 2 -14 2 -36 2 -48 2 -43 2 38 2 79 2 81 2 -92 2 48 2 -44 2 -11 2 -5 2 -113 2 99 2 -8 2 -39 2 27 2 85 2 -48 2 -40 2 -5 2 0 2 -25 2 12 2 37 2 6 2 -23 2 55 2 -19 2 -12 2 -59 2 88 2 -38 2 1 2 -28 2 77 2 -52 2 -47 2 136 2 -126 2 -19 2 59 2 2 2 30 2 -75 2 -3 2 250 2 -201 2 -50 2 67 2 12 2 -50 2 22 2 24 2 3 2 -35 2 -21 2 -31 2 65 2 17 2 -19 2 57 2 67 2 -67 2 15 2 -49 2 191 2 -228 2 -33 2 -66 2 32 2 -27 2 94 2 40 2 -83 2 17 2 130 2 -138 2 35 2 -5 2 -19 2 44 2 -18 2 14 2 0 2 21 2 12 2 19 2 -32 2 -110 2 86 2 26 2 -134 2 99 2 -15 2 8 2 -25 2 28 2 32 2 -102 2 17 2 -22 2 49 2 1 2 37 2 -41 2 -32 2 80 2 74 2 64 2 -12 2 34 2 -29 2 -1 2 -27 2 -62 2 -33 2 85 2 -40 2 77 2 -110 2 79 2 -73 2 8 2 68 2 4 2 -58 2 157 2 -159 2 36 2 -89 2 33 2 -57 2 -80 2 75 2 11 2 -5 2 127 2 -64 2 -53 2 -14 2 2 2 130 2 -81 2 -40 2 -21 2 34 2 10 2 -74 2 32 2 113 2 -86 2 3 2 -65 2 26 2 56 2 7 2 88 2 -39 2 -29 2 44 2 -99 2 88 2 -51 2 -110 2 65 2 1 2 -10 2 -29 2 69 2 55 2 -14 2 16 2 -56 2 14 2 91 2 -6 2 -139 2 32 2 106 2 37 2 -72 2 -13 2 -50 2 78 2 -4 2 -15 2 -23 2 86 2 -129 2 120 2 -178 2 79 2 2 2 167 2 -251 2 64 2 -77 2 71 2 -100 2 32 2 46 2 -6 2 -98 2 86 2 18 2 -38 2 -19 2 126 2 -74 2 115 2 -78 2 18 2 -140 2 133 2 -13 2 -17 2 145 2 -118 2 -87 2 61 2 42 2 -66 2 22 2 17 2 27 2 -9 2 -102 2 126 2 -82 2 44 2 40 2 -67 2 42 2 34 2 -21 2 -41 2 41 2 42 2 -27 2 181 2 -67 2 -76 2 19 2 65 2 -94 2 4 2 -48 2 6 2 39 2 -40 2 16 2 -36 2 -17 2 35 2 -47 2 30 2 22 2 -54 2 -66 2 72 2 46 2 53 2 -76 2 71 2 -2 2 -34 2 -10 2 -19 2 -89 2 68 2 28 2 -27 2 95 2 -29 2 -86 2 42 2 -55 2 19 2 -77 2 96 2 -4 2 22 2 24 2 57 2 -67 2 25 2 39 2 8 2 -51 2 -61 2 25 2 22 2 33 2 -26 2 75 2 -71 2 35 2 -112 2 75 2 9 2 -1 2 -33 2 -19 2 -18 2 15 2 -15 2 55 2 -44 2 -65 2 -41 2 120 2 -59 2 -18 2 111 2 -203 2 138 2 -20 2 31 2 30 2 -70 2 53 2 -29 2 -54 2 265 2 -130 2 21 2 77 2 -49 2 109 2 -218 2 125 2 -73 2 2 2 -60 2 101 2 -88 2 100 2 -16 2 19 2 -32 2 -54 2 -34 2 39 2 30 2 30 2 -129 2 43 2 -172 2 55 2 88 2 8 2 -9 2 46 2 -11 2 -6 2 14 2 -7 2 54 2 57 2 55 2 33 2 -187 2 65 2 2 2 61 2 -50 2 19 2 -58 2 -4 2 10 2 -8 2 5 2 -68 2 33 2 47 2 -44 2 -44 2 16 2 60 2 -106 2 93 2 68 2 -190 2 137 2 56 2 4 2 -19 2 -8 2 -92 2 -122 2 53 2 9 2 -73 2 67 2 222 2 -120 2 -47 2 116 2 -88 2 -83 2 31 2 31 2 -58 2 19 2 10 2 19 2 -75 2 -20 2 172 2 -29 2 75 2 -24 2 -110 2 17 2 -38 2 14 2 -71 2 85 2 71 2 -59 2 34 2 15 2 16 2 -26 2 8 2 -100 2 -40 2 79 2 83 2 -16 2 -10 2 -19 2 105 2 22 2 -10 2 34 2 -33 2 -8 2 67 2 25 2 -125 2 75 2 -57 2 114 2 -108 2 -61 2 -43 2 -37 2 -75 2 33 2 8 2 5 2 -19 2 24 2 21 2 -108 2 35 2 23 2 81 2 -97 2 152 2 -74 2 -69 2 139 2 90 2 -116 2 15 2 14 2 -80 2 75 2 -75 2 101 2 -21 2 20 2 -70 2 -1 2 -103 2 79 2 -46 2 30 2 32 2 73 2 -44 2 -69 2 -3 2 -5 2 -14 2 74 2 -61 2 30 2 -3 2 71 2 -97 2 -12 2 4 2 -58 2 198 2 -91 2 -60 2 93 2 12 2 -64 2 19 2 -15 2 25 2 135 2 -68 2 31 2 3 2 -10 2 36 2 -236 2 162 2 -28 2 -41 2 -45 2 64 2 72 2 -142 2 41 2 -32 2 41 2 99 2 1 2 96 2 -221 2 89 2 -102 2 115 2 -90 2 -56 2 110 2 -36 2 -48 2 79 2 12 2 -48 2 -40 2 -19 2 -51 2 108 2 -31 2 -6 2 -22 2 -29 2 0 2 36 2 44 2 -22 2 53 2 -21 2 -69 2 136 2 -68 2 70 2 -95 2 7 2 -54 2 -31 2 90 2 -9 2 74 2 -33 2 -1 2 62 2 -130 2 213 2 -31 2 39 2 -20 2 72 2 1 2 -99 2 50 2 -25 2 -107 2 -44 2 70 2 1 2 20 2 8 2 28 2 -80 2 -73 2 -83 2 66 2 59 2 -27 2 -131 2 274 2 -172 2 -53 2 -22 2 22 2 5 2 29 2 -65 2 89 2 -30 2 -6 2 108 2 -35 2 3 2 -50 2 -21 2 117 2 -5 2 -56 2 -2 2 53 2 -71 2 80 2 16 2 -147 2 111 2 -12 2 18 2 75 2 13 2 -58 2 2 2 44 2 53 2 -60 2 78 2 26 2 -51 2 -44 2 -62 2 -29 2 112 2 -15 2 -6 2 -56 2 19 2 -47 2 10 2 -67 2 87 2 -4 2 -38 2 19 2 -24 2 10 2 186 2 -198 2 41 2 -12 2 -39 2 -12 2 18 2 3 2 -19 2 47 2 -93 2 36 2 90 2 28 2 20 2 -94 2 -8 2 67 2 10 2 -77 2 -78 2 60 2 8 2 -32 2 52 2 -45 2 -94 2 32 2 21 2 0 2 30 2 1 2 -105 2 110 2 42 2 -15 2 20 2 90 2 -86 2 19 2 -52 2 67 2 -58 2 56 2 -46 2 20 2 -23 2 44 2 68 2 -123 2 101 2 -26 2 -28 2 36 2 -55 2 59 2 48 2 10 2 20 2 -55 2 -23 2 50 2 -4 2 26 2 67 2 -106 2 -32 2 51 2 -18 2 -65 2 -108 2 37 2 -128 2 -26 2 189 2 -19 2 -18 2 -114 2 78 2 24 2 -93 2 11 2 -76 2 51 2 74 2 -121 2 148 2 -36 2 124 2 -101 2 50 2 104 2 -65 2 -47 2 -3 2 14 2 -18 2 -25 2 28 2 22 2 38 2 62 2 -106 2 3 2 -27 2 70 2 -128 2 76 2 0 2 63 2 52 2 10 2 -19 2 -12 2 4 2 -73 2 5 2 -86 2 156 2 -10 2 -5 2 9 2 -68 2 87 2 0 2 -33 2 51 2 -115 2 8 2 -41 2 54 2 -53 2 -52 2 -1 2 -29 2 42 2 -12 2 -9 2 -109 2 83 2 -67 2 104 2 5 2 -37 2 51 2 63 2 -80 2 119 2 -80 2 -17 2 36 2 17 2 -14 2 -20 2 -81 2 78 2 -3 2 130 2 104 2 -130 2 -12 2 22 2 -29 2 56 2 -51 2 8 2 -110 2 80 2 -43 2 -1 2 -18 2 -15 2 173 2 -80 2 -229 2 154 2 204 2 -190 2 17 2 -52 2 92 2 67 2 2 2 -151 2 63 2 -39 2 48 2 -52 2 27 2 -72 2 100 2 -52 2 -19 2 24 2 -122 2 119 2 7 2 -11 2 4 2 -39 2 -24 2 77 2 -32 2 -21 2 21 2 -68 2 -4 2 38 2 -23 2 40 2 40 2 -61 2 23 2 -16 2 24 2 56 2 -72 2 -1 2 11 2 -37 2 52 2 46 2 -102 2 86 2 8 2 -57 2 71 2 11 2 -3 2 -54 2 38 2 -61 2 17 2 76 2 -100 2 -28 2 23 2 68 2 -70 2 165 2 -87 2 -22 2 36 2 -8 2 -33 2 22 2 -106 2 49 2 134 2 -53 2 -48 2 -39 2 -3 2 61 2 0 2 70 2 -56 2 -9 2 -109 2 36 2 22 2 -9 2 -26 2 116 2 -104 2 55 2 -34 2 14 2 69 2 -110 2 11 2 22 2 2 2 37 2 -44 2 17 2 -28 2 6 2 32 2 -171 2 137 2 73 2 -37 2 -58 2 110 2 -9 2 23 2 7 2 -14 2 -13 2 -72 2 43 2 -5 2 20 2 2 2 -4 2 -29 2 19 2 -46 2 -36 2 5 2 48 2 -81 2 -55 2 21 2 201 2 -121 2 27 2 -99 2 94 2 11 2 -92 2 149 2 -71 2 84 2 -46 2 55 2 78 2 -91 2 44 2 46 2 -189 2 229 2 -42 2 -38 2 19 2 2 2 -71 2 135 2 -186 2 91 2 44 2 -44 2 10 2 -91 2 -6 2 31 2 -44 2 -52 2 16 2 -116 2 112 2 -32 2 12 2 -116 2 64 2 60 2 19 2 -35 2 75 2 73 2 -82 2 21 2 -16 2 69 2 -92 2 85 2 19 2 24 2 -54 2 -9 2 64 2 -58 2 -34 2 78 2 -18 2 -17 2 25 2 -43 2 -97 2 109 2 -21 2 6 2 -86 2 104 2 -47 2 152 2 -81 2 -37 2 68 2 -132 2 -18 2 80 2 27 2 -65 2 25 2 -35 2 9 2 -20 2 11 2 72 2 44 2 -15 2 -1 2 37 2 -37 2 26 2 56 2 -48 2 -1 2 20 2 -10 2 103 2 -108 2 -6 2 -25 2 -33 2 12 2 -2 2 -19 2 -29 2 20 2 18 2 -94 2 62 2 21 2 -2 2 -71 2 -39 2 -4 2 38 2 -47 2 14 2 28 2 3 2 -12 2 46 2 34 2 3 2 12 2 -3 2 -87 2 119 2 -21 2 -31 2 65 2 -43 2 -13 2 21 2 -153 2 110 2 -8 2 109 2 -132 2 -5 2 11 2 17 2 -10 2 49 2 3 2 -18 2 188 2 -138 2 6 2 -30 2 48 2 32 2 -75 2 35 2 -50 2 -36 2 20 2 1 2 -34 2 37 2 54 2 19 2 -65 2 -44 2 77 2 -160 2 143 2 63 2 -54 2 10 2 11 2 -33 2 34 2 -85 2 57 2 -31 2 64 2 17 2 -28 2 55 2 -25 2 -19 2 66 2 -89 2 -8 2 57 2 -44 2 34 2 24 2 -57 2 11 2 -31 2 -53 2 106 2 -8 2 -49 2 17 2 -28 2 1 2 1 2 100 2 -44 2 3 2 103 2 -180 2 38 2 2 2 -33 2 41 2 -6 2 -80 2 121 2 -33 2 -35 2 14 2 -5 2 -28 2 12 2 21 2 140 2 -56 2 -148 2 135 2 41 2 -90 2 4 2 23 2 -30 2 59 2 -190 2 185 2 -24 2 -96 2 28 2 39 2 -17 2 2 2 -5 2 -17 2 -152 2 121 2 78 2 -5 2 -23 2 -31 2 80 2 -127 2 115 2 27 2 -66 2 42 2 45 2 79 2 -210 2 169 2 -69 2 23 2 44 2 59 2 -129 2 -45 2 73 2 9 2 -30 2 102 2 -109 2 -46 2 1 2 -21 2 65 2 -52 2 17 2 39 2 -134 2 -22 2 108 2 12 2 34 2 83 2 -183 2 219 2 -131 2 -6 2 3 2 -46 2 86 2 3 2 14 2 -42 2 3 2 -3 2 35 2 -2 2 -29 2 -93 2 134 2 -125 2 70 2 -13 2 19 2 -88 2 -54 2 72 2 -15 2 59 2 -16 2 44 2 -111 2 -18 2 20 2 3 2 71 2 -53 2 9 2 98 2 -52 2 9 2 -75 2 -18 2 40 2 37 2 -46 2 43 2 43 2 11 2 -78 2 8 2 120 2 -122 2 105 2 -33 2 88 2 -143 2 17 2 34 2 -43 2 15" stroke="#000000"/>
<path transform="translate(134 0) scale(.1)" d="M0 9820 l2 55 2 -89 2 2 2 20 2 -19 2 10 2 -97 2 27 2 -16 2 36 2 46 2 -59 2 -104 2 314 2 22 2 -94 2 -68 2 209 2 -230 2 64 2 -64 2 72 2 -17 2 4 2 -130 2 132 2 -68 2 -14 2 71 2 36 2 64 2 8 2 -79 2 -4 2 -10 2 159 2 -152 2 3 2 4 2 -2 2 78 2 -33 2 -22 2 46 2 162 2 -136 2 26 2 -73 2 2 2 1 2 56 2 -62 2 107 2 28 2 -57 2 39 2 -20 2 55 2 -44 2 57 2 -67 2 58 2 -61 2 -97 2 154 2 53 2 -75 2 60 2 -26 2 -39 2 15 2 -77 2 123 2 -56 2 65 2 93 2 -88 2 15 2 51 2 2 2 11 2 50 2 -95 2 96 2 -2 2 28 2 -14 2 -27 2 -30 2 52 2 84 2 0 2 -69 2 121 2 -149 2 74 2 1 2 -33 2 23 2 42 2 3 2 -143 2 120 2 36 2 28 2 -15 2 47 2 25 2 63 2 -14 2 108 2 -63 2 -21 2 69 2 -85 2 -55 2 -82 2 98 2 -39 2 49 2 -82 2 3 2 126 2 -119 2 -10 2 -10 2 1 2 -26 2 4 2 -5 2 24 2 -18 2 42 2 34 2 -54 2 1 2 -60 2 -14 2 -74 2 0 2 -6 2 -75 2 13 2 71 2 95 2 -106 2 -25 2 33 2 13 2 -30 2 -48 2 20 2 -80 2 -11 2 -11 2 7 2 118 2 -83 2 -74 2 20 2 -121 2 118 2 118 2 11 2 22 2 -16 2 55 2 -115 2 44 2 -65 2 4 2 32 2 -50 2 55 2 -8 2 -7 2 13 2 -37 2 -23 2 46 2 58 2 -17 2 2 2 -82 2 4 2 -11 2 22 2 -51 2 13 2 -14 2 6 2 -67 2 42 2 76 2 -15 2 -86 2 97 2 -30 2 -84 2 44 2 -30 2 -54 2 223 2 -147 2 69 2 -64 2 -41 2 14 2 -31 2 73 2 -155 2 127 2 -39 2 8 2 -44 2 -8 2 1 2 -9 2 22 2 18 2 -80 2 49 2 92 2 -2 2 -93 2 60 2 212 2 -170 2 32 2 5 2 -51 2 2 2 2 2 -28 2 14 2 -18 2 96 2 14 2 -21 2 -30 2 11 2 89 2 -69 2 112 2 -84 2 32 2 -98 2 4 2 28 2 -67 2 98 2 59 2 -156 2 42 2 -43 2 33 2 53 2 -44 2 -1 2 25 2 -79 2 46 2 44 2 -3 2 11 2 -47 2 37 2 16 2 36 2 -79 2 -80 2 156 2 -68 2 13 2 50 2 9 2 -167 2 104 2 12 2 -27 2 -22 2 -32 2 19 2 -54 2 49 2 19 2 2 2 8 2 -36 2 40 2 -26 2 4 2 99 2 31 2 -70 2 65 2 148 2 -269 2 200 2 -127 2 -31 2 46 2 -25 2 -52 2 7 2 180 2 -113 2 36 2 -45 2 22 2 -32 2 215 2 -286 2 89 2 -30 2 67 2 -131 2 65 2 30 2 -71 2 20 2 23 2 -59 2 37 2 -11 2 -1 2 -8 2 3 2 38 2 -32 2 49 2 14 2 -8 2 -35 2 -21 2 -31 2 149 2 -50 2 10 2 33 2 37 2 -2 2 0 2 -27 2 -50 2 -42 2 68 2 1 2 120 2 -99 2 -21 2 20 2 66 2 -43 2 88 2 -20 2 -75 2 -22 2 24 2 -47 2 -92 2 32 2 -130 2 40 2 125 2 -62 2 60 2 -63 2 -8 2 73 2 -31 2 82 2 -69 2 31 2 36 2 -53 2 -110 2 30 2 99 2 -15 2 -8 2 -4 2 8 2 21 2 33 2 -88 2 16 2 -7 2 -3 2 25 2 -60 2 16 2 100 2 -101 2 -8 2 20 2 -20 2 43 2 -50 2 -49 2 53 2 -7 2 7 2 48 2 -75 2 -30 2 77 2 -76 2 49 2 9 2 43 2 -96 2 52 2 6 2 -23 2 104 2 -139 2 67 2 73 2 -27 2 35 2 -74 2 26 2 130 2 -40 2 -23 2 -57 2 -22 2 64 2 -87 2 51 2 -164 2 134 2 3 2 6 2 33 2 -36 2 -20 2 19 2 89 2 -15 2 -88 2 59 2 -86 2 103 2 -18 2 -33 2 -96 2 99 2 34 2 -125 2 36 2 5 2 35 2 44 2 -75 2 30 2 -44 2 102 2 -124 2 126 2 0 2 -67 2 21 2 31 2 13 2 -51 2 -6 2 -11 2 7 2 83 2 -60 2 -4 2 -10 2 -21 2 -18 2 -57 2 141 2 -109 2 109 2 -20 2 -14 2 -47 2 33 2 12 2 38 2 -48 2 -23 2 64 2 -66 2 -33 2 15 2 -46 2 120 2 -46 2 -60 2 41 2 -62 2 -23 2 34 2 57 2 -7 2 7 2 -52 2 -1 2 23 2 -21 2 45 2 -85 2 76 2 -50 2 97 2 1 2 81 2 -47 2 -50 2 166 2 -232 2 118 2 -48 2 -24 2 58 2 -119 2 65 2 42 2 -85 2 13 2 -24 2 60 2 14 2 -64 2 9 2 112 2 -176 2 229 2 -20 2 119 2 -17 2 -110 2 110 2 11 2 -14 2 -32 2 -62 2 15 2 -63 2 1 2 49 2 -37 2 -70 2 80 2 -14 2 18 2 23 2 -42 2 -23 2 -13 2 34 2 -129 2 58 2 71 2 -29 2 -38 2 86 2 -32 2 4 2 -104 2 53 2 13 2 -4 2 31 2 113 2 -146 2 -47 2 243 2 -223 2 8 2 42 2 -27 2 42 2 23 2 -24 2 -31 2 -17 2 -79 2 28 2 -89 2 93 2 123 2 8 2 -13 2 152 2 -82 2 -65 2 25 2 34 2 -41 2 -28 2 -55 2 48 2 -22 2 11 2 28 2 -34 2 -38 2 19 2 0 2 24 2 28 2 41 2 148 2 -62 2 -82 2 143 2 -77 2 -39 2 13 2 -20 2 -48 2 -58 2 16 2 91 2 -105 2 59 2 -13 2 -36 2 -33 2 -69 2 12 2 45 2 -40 2 147 2 -110 2 33 2 -83 2 -42 2 -21 2 -33 2 53 2 26 2 -19 2 0 2 82 2 45 2 -3 2 18 2 13 2 -44 2 -1 2 92 2 -56 2 4 2 23 2 60 2 -75 2 34 2 -42 2 135 2 -43 2 -12 2 -88 2 1 2 68 2 4 2 6 2 -32 2 109 2 -128 2 10 2 -20 2 152 2 -112 2 -43 2 -75 2 -65 2 15 2 59 2 -11 2 58 2 -88 2 44 2 9 2 42 2 -103 2 -10 2 54 2 30 2 -77 2 100 2 -123 2 53 2 61 2 -130 2 24 2 130 2 -15 2 6 2 27 2 -75 2 20 2 2 2 33 2 -10 2 -2 2 -37 2 -71 2 192 2 -19 2 -36 2 152 2 0 2 -129 2 -101 2 112 2 -105 2 82 2 -34 2 -126 2 104 2 -16 2 39 2 -9 2 -84 2 3 2 35 2 -36 2 60 2 -115 2 63 2 15 2 55 2 -179 2 119 2 91 2 38 2 -132 2 -86 2 39 2 104 2 -104 2 114 2 -60 2 12 2 104 2 -78 2 45 2 -74 2 27 2 -26 2 37 2 -49 2 116 2 -30 2 -33 2 -108 2 13 2 -32 2 188 2 -65 2 41 2 -83 2 61 2 -38 2 87 2 -22 2 43 2 -161 2 129 2 -148 2 28 2 -28 2 55 2 -32 2 -12 2 -72 2 121 2 46 2 -202 2 47 2 202 2 -89 2 107 2 -117 2 -33 2 151 2 -211 2 119 2 -64 2 51 2 -8 2 -16 2 -13 2 0 2 33 2 6 2 -98 2 8 2 61 2 -35 2 52 2 8 2 71 2 -63 2 -111 2 65 2 -3 2 30 2 -13 2 25 2 15 2 -10 2 48 2 -32 2 -10 2 -118 2 43 2 -37 2 51 2 -148 2 36 2 23 2 24 2 -6 2 74 2 7 2 -17 2 8 2 11 2 -52 2 177 2 -87 2 69 2 -108 2 66 2 69 2 -61 2 -87 2 76 2 -97 2 15 2 143 2 -70 2 -31 2 -1 2 58 2 -43 2 8 2 12 2 -4 2 -71 2 -12 2 17 2 -22 2 7 2 -8 2 4 2 -78 2 62 2 8 2 -37 2 -143 2 136 2 90 2 -38 2 3 2 23 2 2 2 17 2 -43 2 19 2 -25 2 156 2 -182 2 26 2 31 2 80 2 -166 2 21 2 -120 2 118 2 -6 2 88 2 -23 2 -23 2 7 2 -2 2 -35 2 36 2 13 2 -57 2 34 2 4 2 119 2 16 2 -94 2 -16 2 42 2 7 2 -88 2 117 2 -186 2 23 2 20 2 63 2 80 2 -118 2 29 2 -51 2 -36 2 44 2 -1 2 70 2 -88 2 2 2 -82 2 39 2 -8 2 37 2 33 2 -126 2 69 2 -25 2 -21 2 21 2 36 2 -53 2 87 2 -31 2 -54 2 58 2 49 2 -11 2 5 2 -65 2 -65 2 -29 2 57 2 174 2 -148 2 69 2 -22 2 -18 2 156 2 -80 2 -74 2 -116 2 195 2 -85 2 -2 2 69 2 -89 2 -4 2 -71 2 6 2 9 2 41 2 -23 2 0 2 55 2 -69 2 -5 2 86 2 -53 2 100 2 -60 2 110 2 96 2 -240 2 136 2 25 2 83 2 -54 2 -41 2 -19 2 -26 2 18 2 -7 2 -45 2 59 2 -119 2 6 2 67 2 -60 2 16 2 -99 2 39 2 54 2 -166 2 160 2 -57 2 18 2 -30 2 48 2 52 2 -74 2 59 2 -17 2 -29 2 -26 2 88 2 60 2 40 2 -113 2 55 2 -12 2 -70 2 13 2 45 2 -45 2 -4 2 43 2 11 2 -59 2 63 2 -120 2 82 2 -5 2 -79 2 -9 2 -15 2 48 2 17 2 105 2 -66 2 25 2 6 2 -145 2 -34 2 -1 2 109 2 -30 2 36 2 -86 2 71 2 -51 2 7 2 112 2 -14 2 31 2 -13 2 -146 2 73 2 107 2 -26 2 23 2 0 2 -80 2 4 2 21 2 18 2 87 2 -39 2 -12 2 -18 2 -18 2 72 2 -131 2 6 2 58 2 -15 2 29 2 -31 2 -50 2 -62 2 -57 2 71 2 -50 2 7 2 133 2 -60 2 13 2 -27 2 60 2 -46 2 37 2 -4 2 59 2 -17 2 -21 2 58 2 -106 2 64 2 -1 2 -46 2 55 2 29 2 8 2 37 2 45 2 -113 2 73 2 -105 2 -11 2 -15 2 -50 2 188 2 -115 2 -8 2 -97 2 47 2 10 2 9 2 -19 2 -24 2 50 2 46 2 0 2 140 2 -133 2 -39 2 60 2 1 2 -60 2 5 2 -79 2 64 2 3 2 109 2 -111 2 -43 2 126 2 -39 2 89 2 -63 2 30 2 1 2 -87 2 -39 2 -51 2 211 2 -99 2 45 2 -141 2 226 2 -121 2 -39 2 -15 2 -8 2 -15 2 -25 2 26 2 -29 2 -23 2 105 2 -22 2 37 2 -118 2 210 2 -11 2 -76 2 13 2 -76 2 64 2 27 2 -52 2 41 2 41 2 -58 2 22 2 -17 2 -4 2 75 2 -55 2 29 2 -70 2 140 2 -20 2 -162 2 82 2 -126 2 -21 2 34 2 40 2 -124 2 77 2 27 2 -22 2 69 2 -55 2 31 2 -76 2 29 2 66 2 8 2 -20 2 -43 2 26 2 54 2 -88 2 59 2 38 2 2 2 76 2 20 2 -149 2 -5 2 200 2 -31 2 -52 2 44 2 -71 2 -18 2 -13 2 -82 2 44 2 3 2 59 2 -46 2 11 2 -42 2 20 2 -15 2 10 2 -77 2 122 2 -75 2 -39 2 -10 2 104 2 -69 2 31 2 25 2 -20 2 12 2 -6 2 18 2 -30 2 72 2 -32 2 -23 2 -69 2 53 2 69 2 -96 2 31 2 0 2 -33 2 44 2 37 2 -112 2 59 2 53 2 -89 2 23 2 62 2 -21 2 18 2 -2 2 64 2 81 2 -118 2 145 2 -145 2 -7 2 -93 2 44 2 -40 2 38 2 29 2 62 2 -54 2 52 2 12 2 -20 2 44 2 -49 2 -33 2 47 2 -60 2 48 2 -4 2 34 2 -58 2 23 2 14 2 -72 2 27 2 -77 2 -18 2 29 2 -85 2 -71 2 105 2 12 2 11 2 42 2 -104 2 -17 2 29 2 62 2 -32 2 -2 2 186 2 28 2 -85 2 -103 2 17 2 12 2 -37 2 -99 2 115 2 -113 2 129 2 0 2 1 2 -48 2 11 2 5 2 -28 2 43 2 -23 2 -23 2 -30 2 -13 2 -2 2 35 2 26 2 84 2 -40 2 -102 2 77 2 -17 2 86 2 -94 2 32 2 -7 2 -102 2 117 2 66 2 -51 2 -26 2 34 2 -70 2 4 2 -68 2 124 2 -36 2 -23 2 91 2 -75 2 24 2 -59 2 70 2 -2 2 -5 2 -55 2 -8 2 -3 2 55 2 -22 2 -140 2 147 2 -11 2 11 2 -41 2 80 2 -69 2 -4 2 -70 2 149 2 -71 2 0 2 -130 2 170 2 8 2 -144 2 287 2 -84 2 -15 2 14 2 -8 2 -3 2 39 2 -4 2 -112 2 97 2 11 2 -47 2 22 2 -32 2 74 2 -68 2 35 2 -78 2 6 2 5 2 -11 2 17 2 -185 2 75 2 32 2 -110 2 22 2 30 2 -90 2 -6 2 0 2 101 2 -48 2 72 2 -45 2 60 2 43 2 26 2 -48 2 16 2 14 2 15 2 -22 2 29 2 101 2 -127 2 -67 2 112 2 56 2 7 2 49 2 -36 2 -39 2 78 2 -60 2 93 2 -67 2 -10 2 -107 2 115 2 -120 2 55 2 16 2 -7 2 -128 2 115 2 -56 2 81 2 -51 2 -25 2 -74 2 -98 2 143 2 -47 2 95 2 -45 2 -81 2 17 2 47 2 58 2 -8 2 -14 2 38 2 -44 2 42 2 -57 2 17 2 10 2 52 2 -16 2 42 2 -22 2 22 2 -44 2 50 2 -92 2 142 2 -126 2 38 2 -43 2 -1 2 -21 2 -98 2 30 2 32 2 32 2 -36 2 71 2 -26 2 36 2 -132 2 -63 2 95 2 187 2 -171 2 48 2 -62 2 -12 2 -8 2 -29 2 127 2 29 2 46 2 38 2 -107 2 93 2 -71 2 36 2 42 2 31 2 7 2 -33 2 103 2 -74 2 -26 2 24 2 -44 2 -13 2 53 2 -56 2 -18 2 -27 2 0 2 -38 2 2 2 30 2 -14 2 -28 2 -24 2 36 2 -22 2 110 2 -155 2 5 2 12 2 54 2 -119 2 47 2 -57 2 -17 2 88 2 19 2 -13 2 24 2 -17 2 95 2 -102 2 27 2 -11 2 13 2 1 2 8 2 4 2 -7 2 61 2 -52 2 -170 2 292 2 -7 2 -49 2 86 2 -89 2 131 2 -162 2 85 2 28 2 -8 2 -8 2 8 2 -96 2 83 2 -25 2 -4 2 -40 2 28 2 -83 2 -101 2 173 2 -133 2 -77 2 82 2 56 2 -38 2 48 2 -44 2 48 2 -43 2 8 2 -12 2 89 2 -63 2 91 2 -32 2 87 2 -59 2 81 2 -16 2 -45 2 -7 2 19 2 -79 2 -45 2 33 2 -74 2 18 2 38 2 -1 2 19 2 23 2 -67 2 33 2 -19 2 29 2 -59 2 -3 2 92 2 -119 2 18 2 38 2 -44 2 67 2 5 2 -28 2 42 2 24 2 26 2 -1 2 22 2 -21 2 3 2 113 2 44 2 -96 2 -62 2 134 2 -97 2 -44 2 96 2 -67 2 -120 2 53 2 -17 2 154 2 -10 2 -23 2 11 2 -77 2 -23 2 23 2 25 2 -50 2 -19 2 90 2 -13 2 5 2 46 2 -101 2 -11 2 41 2 -6 2 19 2 -74 2 137 2 -38 2 65 2 -61 2 -4 2 -60 2 53 2 -66 2 10 2 -39 2 34 2 127 2 -66 2 51 2 -71 2 -21 2 -29 2 49 2 -20 2 28 2 -58 2 33 2 -11 2 -59 2 -107 2 146 2 -146 2 52 2 -13 2 50 2 -38 2 38 2 35 2 27 2 22 2 -132 2 169 2 -15 2 28 2 -89 2 60 2 -16 2 126 2 55 2 -54 2 9 2 58 2 -52 2 10 2 -58 2 -38 2 91 2 -61 2 -47 2 98 2 -197 2 140 2 -27 2 44 2 -74 2 44 2 29 2 55 2 -71 2 23 2 1 2 -75 2 35 2 -29 2 7 2 56 2 -197 2 48 2 28 2 -38 2 -13 2 -25 2 58 2 -20 2 32 2 68 2 -44 2 -39 2 21 2 -4 2 -54 2 3 2 -30 2 151 2 -79 2 -86 2 119 2 -18 2 -3 2 -13 2 -3 2 34 2 107 2 -96 2 -51 2 54 2 76 2 -53 2 29 2 53 2 -73 2 -22 2 21 2 18 2 9 2 31 2 -67 2 -58 2 123 2 58 2 -148 2 -6 2 -30 2 67 2 -5 2 -19 2 6 2 -25 2 72 2 -23 2 -26 2 21 2 -22 2 30 2 -58 2 14 2 26 2 -3 2 -58 2 85 2 -98 2 28 2 -39 2 74 2 -21 2 -13 2 -22 2 2 2 58 2 -52 2 -13 2 10 2 55 2 11 2 23 2 -24 2 -8 2 -14 2 -6 2 -37 2 16 2 -98 2 26 2 64 2 -13 2 -37 2 -18 2 20 2 93 2 -59 2 -21 2 42 2 -48 2 63 2 -5 2 12 2 -53 2 56 2 66 2 -19 2 28 2 -21 2 -113 2 118 2 -46 2 133 2 -89 2 0 2 -22 2 48 2 -59 2 -74 2 -5 2 35 2 -32 2 -36 2 67 2 -38 2 -11 2 11 2 -40 2 148 2 -47 2 28 2 -15 2 -22 2 100 2 -129 2 -30 2 -21 2 11 2 25 2 92 2 -172 2 81 2 -79 2 3 2 70 2 44 2 7 2 58 2 43 2 -69 2 -49 2 173 2 -64 2 -103 2 28 2 66 2 8 2 -51 2 24 2 -24 2 1 2 -46 2 -38 2 -28 2 4 2 18 2 -29 2 30 2 -32 2 64 2 -37 2 40 2 50 2 11 2 -70 2 35 2 -63 2 80 2 9 2 -23 2 -122 2 105 2 42 2 -14 2 26 2 -43 2 68 2 -92 2 59 2 -171 2 83 2 -23 2 46 2 32 2 29 2 -79 2 31 2 -8 2 33 2 0 2 -34 2 66 2 44 2 -53 2 -1 2 -77 2 31 2 95 2 -62 2 -56 2 109 2 -80 2 20 2 -78 2 215 2 -118 2 -18 2 -44 2 20 2 -3 2 30 2 61 2 -102 2 57 2 -20 2 40 2 24 2 -56 2 -19 2 -63 2 54 2 -51 2 94 2 -30 2 31 2 27 2 -74 2 36 2 19 2 -88 2 94 2 -131 2 12 2 -2 2 -91 2 136 2 20 2 90 2 -26 2 -59 2 -27 2 47 2 -51 2 53 2 21 2 71 2 -54 2 -36 2 27 2 36 2 37 2 -172 2 124 2 -41 2 4 2 48 2 -27 2 -8 2 -57 2 4 2 4 2 -9 2 -26 2 -81 2 61 2 -20 2 71 2 -17 2 44 2 14 2 -8 2 1 2 -25 2 1 2 -91 2 95 2 4 2 33 2 4 2 84 2 -116 2 56 2 -128 2 -11 2 25 2 44 2 1 2 11 2 87 2 -22 2 -15 2 -45 2 -79 2 86 2 -8 2 -87 2 76 2 39 2 30 2 -59 2 42 2 72 2 35 2 -63 2 3 2 4 2 28 2 -201 2 170 2 82 2 -82 2 13 2 5 2 -21 2 -33 2 32 2 25 2 -11 2 -4 2 -34 2 90 2 -100 2 94 2 -49 2 -68 2 46 2 65 2 -56 2 40 2 53 2 -94 2 74 2 -71 2 -2 2 103 2 -147 2 123 2 -49 2 -39 2 1 2 100 2 -173 2 29 2 -32 2 106 2 25 2 61 2 -99 2 38 2 -68 2 171 2 -21 2 -30 2 -183 2 74 2 67 2 -105 2 35 2 124 2 -58 2 81 2 -105 2 -6 2 63 2 -8 2 -71 2 102 2 -11 2 62 2 -53 2 -86 2 170 2 -153 2 -14 2 -26 2 -8 2 15 2 9 2 7 2 -14 2 11 2 27 2 -61 2 192 2 -30 2 -130 2 132 2 -97 2 71 2 86 2 -33 2 -67 2 78 2 -111 2 -54 2 -120 2 45 2 39 2 -77 2 101 2 130 2 -99 2 -64 2 101 2 45 2 -124 2 71 2 49 2 -19 2 -38 2 -57 2 6 2 36 2 21 2 79 2 -22 2 -1 2 -67 2 -59 2 79 2 -69 2 68 2 -11 2 -29 2 -2 2 1 2 114 2 -20 2 49 2 -136 2 5 2 -12 2 8 2 23 2 9 2 -42 2 35 2 -30 2 92 2 144 2 -193 2 -13 2 87 2 11 2 -169 2 155 2 -83 2 -3 2 5 2 97 2 -87 2 8 2 -13 2 -9 2 -69 2 84 2 -121 2 52 2 -31 2 87 2 8 2 -38 2 -63 2 40 2 -7 2 24 2 7 2 19 2 -16 2 -8 2 0 2 42 2 -41 2 16 2 68 2 41 2 -94 2 133 2 -45 2 -3 2 42 2 -78 2 -82 2 188 2 -10 2 -128 2 33 2 -17 2 68 2 91 2 -29 2 -23 2 45 2 -138 2 107 2 -64 2 6 2 -72 2 18 2 -25 2 91 2 -64 2 -38 2 65 2 -75 2 22 2 15 2 -64 2 -43 2 35 2 65 2 19 2 -37 2 -33 2 48 2 -56 2 38 2 -31 2 -38 2 45 2 16 2 20 2 -62 2 -13 2 31 2 72 2 29 2 -27 2 -57 2 81 2 -85 2 -59 2 43 2 24 2 -12 2 -2 2 -1 2 6 2 8 2 38 2 22 2 9 2 20 2 -103 2 64 2 20 2 -43 2 30 2 28 2 -16 2 12 2 -6 2 -31 2 196 2 -301 2 111 2 7 2 -44 2 54 2 14 2 -64 2 131 2 -155 2 48 2 -41 2 71 2 -98 2 -100 2 61 2 176 2 -90 2 -69 2 68 2 28 2 65 2 -95 2 6 2 44 2 -50 2 23 2 -30 2 -2 2 31 2 20 2 -83 2 77 2 -85 2 -17 2 -37 2 -14 2 9 2 47 2 56 2 127 2 -96 2 -18 2 13 2 -45 2 -8 2 14 2 -18 2 -22 2 -37 2 -91 2 264 2 -119 2 61 2 -127 2 3 2 58 2 25 2 -20 2 26 2 22 2 -11 2 2 2 -16 2 -100 2 24 2 71 2 -124 2 195 2 -103 2 -151 2 133 2 101 2 28 2 -25 2 -62 2 1 2 -48 2 -39 2 119 2 -45 2 -8 2 -24 2 -15 2 61 2 4 2 -4 2 -58 2 -69 2 27 2 -2 2 -17 2 64 2 86 2 -18 2 -93 2 148 2 -134 2 151 2 -91 2 9 2 -11 2 -30 2 235 2 -238 2 43 2 4 2 -15 2 155 2 -73 2 -17 2 -99 2 137 2 -20 2 -78 2 -29 2 112 2 -58 2 54 2 -78 2 37 2 -33 2 43 2 -88 2 37 2 -55 2 77 2 26 2 -16 2 -60 2 -39 2 -17 2 100 2 -46 2 -45 2 178 2 -122 2 81 2 14 2 -92 2 -28 2 -116 2 89 2 100 2 93 2 -125 2 163 2 -87 2 -221 2 122 2 -21 2 87 2 -75 2 26 2 -68 2 14 2 67 2 64 2 -31 2 22 2 -52 2 66 2 -121 2 42 2 10 2 33 2 0 2 8 2 -89 2 91 2 -66 2 97 2 -55 2 -57 2 67 2 9 2 -15 2 5 2 20 2 173 2 -144 2 -14 2 -34 2 27 2 3 2 -11 2 32 2 57 2 -6 2 -31 2 48 2 -65 2 -82 2 82 2 7 2 -64 2 95 2 -69 2 99 2 -68 2 -24 2 -55 2 162 2 -90 2 -1 2 82 2 -60 2 32 2 -15 2 -9 2 1 2 -26 2 30 2 26 2 -18 2 -93 2 18 2 -37 2 34 2 -12 2 -18 2 -3 2 -21 2 35 2 49 2 -18 2 131 2 -90 2 77 2 -81 2 83 2 4 2 32 2 -19 2 -51 2 24 2 18 2 -54 2 34 2 18 2 -22 2 -52 2 3 2 41 2 -75 2 126 2 -79 2 -36 2 -10 2 33 2 -71 2 -37 2 90 2 -11 2 -21 2 25 2 -32 2 8 2 -30 2 98 2 -40 2 19 2 -141 2 140 2 -58 2 -23 2 -20 2 -5 2 126 2 -141 2 46 2 5 2 -85 2 5 2 -11 2 5 2 153 2 -92 2 22 2 -13 2 5 2 -77 2 -6 2 97 2 47 2 -3 2 94 2 -75 2 -2 2 -1 2 24 2 -22 2 -7 2 53 2 -7 2 20 2 -40 2 8 2 -91 2 81 2 -1 2 44 2 -59 2 81 2 -70 2 55 2 -48 2 -37 2 -16 2 40 2 -53 2 -28 2 95 2 -73 2 48 2 70 2 -66 2 -29 2 62 2 -56 2 -5 2 62 2 38 2 -103 2 -129 2 146 2 49 2 -129 2 -37 2 59 2 -36 2 49 2 -28 2 146 2 -88 2 5 2 -160 2 164 2 23 2 2 2 6 2 -26 2 -35 2 13 2 17 2 -81 2 62 2 26 2 -102 2 142 2 -84 2 32 2 -24 2 -6 2 7 2 -42 2 -31 2 57 2 -33 2 14 2 26 2 -6 2 4 2 -1 2 -60 2 -4 2 157 2 -89 2 18 2 25 2 -33 2 -5 2 185 2 -117 2 28 2 29 2 -84 2 -24 2 41 2 9 2 30 2 -105 2 100 2 -25 2 38 2 1 2 -35 2 -90 2 26 2 6 2 28 2 -7 2 -134 2 79 2 53 2 16 2 -7 2 15 2 38 2 75 2 -163 2 -21 2 -22 2 94 2 -97 2 64 2 -126 2 93 2 -82 2 150 2 84 2 -145 2 2 2 20 2 -30 2 36 2 -34 2 -2 2 64 2 -28 2 -29 2 66 2 -19 2 20 2 -12 2 -34 2 2 2 -57 2 72 2 13 2 -33 2 23 2 56 2 -12 2 70 2 -5 2 -48 2 75 2 -139 2 168 2 31 2 -91 2 -114 2 69 2 69 2 -48 2 2 2 -57 2 43 2 79 2 -79 2 -6 2 11 2 -69 2 71 2 -38 2 85 2 -22 2 -111 2 87 2 -18 2 44 2 -151 2 -94 2 305 2 -195 2 15 2 50 2 -40 2 -61 2 256 2 -190 2 44 2 -38 2 14 2 18 2 66 2 -257 2 88 2 100 2 60 2 -23 2 -68 2 68 2 -76 2 78 2 -75 2 19 2 66 2 -21 2 -81 2 66 2 1 2 33 2 -49 2 17 2 -20 2 -12 2 4 2 -1 2 61 2 -29 2 -28 2 43 2 -31 2 -23 2 21 2 23 2 -27 2 19 2 -128 2 119 2 60 2 0 2 68 2 -78 2 -34 2 18 2 89 2 -63 2 -13 2 -72 2 -30 2 26 2 -43 2 17 2 41 2 1 2 -61 2 71 2 -15 2 -28 2 -6 2 99 2 -5 2 22 2 53 2 -67 2 44 2 -67 2 62 2 -92 2 52 2 50 2 -6 2 5 2 82 2 -145 2 -23 2 -84 2 55 2 83 2 -46 2 36 2 -66 2 -92 2 106 2 -104 2 85 2 -59 2 5 2 59 2 -71 2 55 2 -25 2 130 2 -75 2 50 2 8 2 -118 2 38 2 157 2 -156 2 14 2 9 2 14 2 -50 2 93 2 45 2 -87 2 15 2 5 2 -40 2 30 2 -15 2 -107 2 88 2 -20 2 124 2 -69 2 8 2 -80 2 -14 2 -5 2 -135 2 270 2 -119 2 79 2 -2 2 33 2 -27 2 72 2 -104 2 -79 2 18 2 27 2 -10 2 50 2 117 2 -148 2 35 2 53 2 35 2 -165 2 32 2 67 2 -57 2 24 2 72 2 -57 2 -6 2 48 2 6 2 -74 2 40 2 -50 2 -6 2 18 2 3 2 -20 2 40 2 -31 2 196 2 -139 2 -109 2 76 2 38 2 -16 2 -52 2 -66 2 27 2 79 2 41 2 -208 2 102 2 -18 2 89 2 -63 2 7 2 8 2 -167 2 139 2 40 2 65 2 -69 2 -1 2 63 2 13 2 -2 2 -17 2 31 2 -24 2 -37 2 -45 2 159 2 -18 2 -107 2 38 2 95 2 -92 2 -51 2 -11 2 120 2 -100 2 -28 2 86 2 -86 2 125 2 -164 2 -94 2 131 2 -70 2 57 2 7 2 -2 2 16 2 -70 2 92 2 -3 2 42 2 36 2 -49 2 -42 2 88 2 -86 2 -151 2 130 2 90 2 -92 2 57 2 -37 2 5 2 2 2 -43 2 16 2 21 2 -23 2 -24 2 4 2 -59 2 24 2 -14 2 36 2 79 2 -84 2 -24 2 -32 2 94 2 55 2 -98 2 28 2 51 2 -31 2 -38 2 10 2 31 2 -15 2 -23 2 76 2 -35 2 34 2 -81 2 -77 2 74 2 -6 2 55 2 -115 2 52 2 -2 2 73 2 20 2 -70 2 107 2 -48 2 90 2 61 2 -122 2 22 2 106 2 -290 2 50 2 44 2 12 2 -17 2 63 2 16 2 -83 2 -105 2 25 2 -23 2 197 2 -217 2 111 2 -4 2 -38 2 37 2 -39 2 -157 2 131 2 101 2 -65 2 -48 2 -19 2 45 2 26 2 89 2 -160 2 153 2 -115 2 71 2 -76 2 56 2 -54 2 121 2 -147 2 61 2 117 2 -51 2 -45 2 62 2 22 2 -62 2 -6 2 -61 2 242 2 -234 2 54 2 -13 2 -59 2 173 2 -134 2 -28 2 92 2 -46 2 -14 2 -41 2 67 2 33 2 24 2 24 2 -87 2 -24 2 -19 2 10 2 28 2 -58 2 69 2 -18 2 83 2 -164 2 113 2 -97 2 53 2 -70 2 55 2 -11 2 -121 2 140 2 -58 2 141 2 -134 2 -38 2 -3 2 96 2 28 2 -11 2 -10 2 -53 2 57 2 101 2 37 2 -182 2 90 2 -134 2 15 2 -40 2 9 2 -10 2 82 2 -55 2 9 2 -13 2 14 2 14 2 -83 2 100 2 -29 2 -10 2 76 2 -26 2 29 2 -164 2 42 2 26 2 11 2 14 2 69 2 -67 2 -29 2 52 2 -35 2 -65 2 99 2 42 2 22 2 -58 2 11 2 -104 2 67 2 -24 2 92 2 0 2 -11 2 -25 2 48 2 -50 2 109 2 -231 2 164 2 12 2 2 2 0 2 12 2 97 2 -57 2 -83 2 11 2 11 2 57 2 -157 2 79 2 -148 2 42 2 2 2 -32 2 52 2 -36 2 -29 2 -94 2 110 2 -49 2 31 2 15 2 -9 2 -34 2 49 2 46 2 14 2 3 2 -35 2 -74 2 44 2 -1 2 -4 2 31 2 162 2 -165 2 44 2 -4 2 49 2 -49 2 48 2 -3 2 2 2 -27 2 -8 2 6 2 -33 2 16 2 -37 2 32 2 -55 2 113 2 -77 2 -40 2 -10 2 46 2 3 2 -49 2 -25 2 133 2 -115 2 3 2 38 2 -9 2 92 2 -59 2 28 2 -7 2 -22 2 98 2 -36 2 107 2 -136 2 -8 2 13 2 -31 2 -29 2 107 2 -52 2 42 2 -59 2 4 2 -47 2 82 2 -35 2 64 2 -6 2 31 2 -91 2 -14 2 19 2 19 2 -20 2 -14 2 -41 2 -41 2 72 2 -45 2 -84 2 68 2 -6 2 -120 2 54 2 32 2 -68 2 95 2 -10 2 30 2 -3 2 -16 2 -34 2 45 2 41 2 1 2 -100 2 123 2 21 2 -37 2 -1 2 -24 2 26 2 -25 2 31 2 -5 2 -14 2 16 2 -77 2 -10 2 58 2 -129 2 123 2 -44 2 117 2 -72 2 -65 2 130 2 -160 2 90 2 -52 2 43 2 -92 2 -59 2 124 2 -89 2 91 2 -26 2 -58 2 -20 2 127 2 -115 2 257 2 -161 2 -41 2 -151 2 134 2 35 2 74 2 -80 2 39 2 -17 2 -52 2 -16 2 -85 2 53 2 57 2 -54 2 42 2 -129 2 137 2 134 2 -23 2 -53 2 -14 2 -51 2 70 2 -15 2 101 2 -138 2 -2 2 -44 2 133 2 -61 2 -77 2 123 2 -108 2 -36 2 132 2 -89 2 7 2 -61 2 201 2 41 2 -253 2 107 2 -38 2 43 2 -59 2 95 2 -12 2 33 2 -14 2 -56 2 163 2 -159 2 -29 2 52 2 51 2 -43 2 16 2 -3 2 90 2 -55 2 -66 2 135 2 -19 2 -70 2 -38 2 86 2 -108 2 -2 2 -98 2 255 2 -122 2 -35 2 -13 2 28 2 11 2 29 2 -43 2 22 2 -106 2 55 2 -155 2 128 2 -8 2 33 2 4 2 -21 2 -29 2 96 2 -49 2 114 2 -117 2 -30 2 104 2 -52 2 -21 2 49 2 -40 2 51 2 -4 2 44 2 19 2 -57 2 33 2 -12 2 -28 2 65 2 -45 2 -26 2 85 2 -103 2 114 2 -29 2 -120 2 91 2 -14 2 84 2 -148 2 -48 2 -30 2 44 2 -19 2 67 2 41 2 -134 2 -87 2 71 2 -1 2 34 2 7 2 30 2 70 2 -123 2 29 2 -17 2 -21 2 54 2 34 2 54 2 -53 2 27 2 -143 2 176 2 0 2 21 2 -73 2 22 2 6 2 45 2 -24 2 -34 2 23 2 33 2 -23 2 98 2 -67 2 0 2 -23 2 69 2 -65 2 -27 2 56 2 -90 2 35 2 -2 2 81 2 -13 2 -11 2 -72 2 68 2 -52 2 119 2 -21 2 -54 2 60 2 13 2 -49 2 16 2 -71 2 9 2 -25 2 -53 2 -25 2 -4 2 -3 2 -22 2 177 2 -112 2 -10 2 14 2 36 2 -8 2 46 2 -38 2 -10 2 13 2 17 2 -152 2 25 2 2 2 -37 2 30 2 -54 2 66 2 37 2 6 2 43 2 -28 2 -123 2 166 2 -97 2 -16 2 30 2 21 2 76 2 -51 2 44 2 -55 2 95 2 -61 2 59 2 61 2 26 2 52 2 -84 2 -28 2 -77 2 133 2 -158 2 126 2 -65 2 21 2 -24 2 21 2 51 2 -72 2 0 2 -13 2 26 2 -20 2 -45 2 -105 2 15 2 70 2 9 2 -45 2 -15 2 24 2 3 2 -78 2 66 2 -6 2 -7 2 12 2 87 2 -131 2 73 2 -7 2 34 2 -42 2 51 2 -161 2 27 2 47 2 62 2 -25 2 -126 2 116 2 -62 2 96 2 -46 2 23 2 -13 2 58 2 -69 2 32 2 -108 2 27 2 -116 2 163 2 -56 2 93 2 -118 2 132 2 -74 2 -12 2 100 2 -112 2 67 2 -134 2 77 2 62 2 13 2 59 2 -60 2 -9 2 1 2 9 2 -61 2 24 2 191 2 -86 2 131 2 -37 2 -38 2 -78 2 -17 2 74 2 -15 2 42 2 -118 2 -31 2 63 2 -31 2 -21 2 125 2 -122 2 4 2 43 2 -44 2 -1 2 -16 2 -25 2 25 2 -10 2 -9 2 41 2 2 2 37 2 40 2 -47 2 122 2 -117 2 21 2 5 2 -49 2 49 2 34 2 -168 2 139 2 -44 2 52 2 -155 2 92 2 -13 2 -132 2 177 2 15 2 -13 2 91 2 -104 2 62 2 -68 2 59 2 -63 2 45 2 -62 2 -35 2 23 2 -35 2 -17 2 14 2 32 2 -51 2 58 2 39 2 -20 2 13 2 -31 2 249 2 -83 2 -70 2 -36 2 22 2 68 2 -7 2 -64 2 35 2 -50 2 -28 2 155 2 -178 2 -33 2 77 2 35 2 -17 2 33 2 15 2 -38 2 50 2 107 2 8 2 -76 2 52 2 -70 2 -71 2 103 2 -19 2 -21 2 -94 2 -36 2 -50 2 29 2 72 2 71 2 87 2 -67 2 -4 2 -26 2 78 2 -66 2 119 2 29 2 -106 2 70 2 35 2 53 2 -248 2 85 2 -52 2 84 2 -47 2 -23 2 -16 2 73 2 -20 2 -43 2 -10 2 -57 2 32 2 -64 2 110 2 -34 2 35 2 -18 2 -50 2 44 2 47 2 -65 2 39 2 53 2 16 2 79 2 -120 2 25 2 34 2 96 2 -14 2 -111 2 70 2 -40 2 52 2 -63 2 33 2 -10 2 12 2 -13 2 78 2 -85 2 8 2 -28 2 50 2 -87 2 -27 2 78 2 45 2 12 2 -68 2 6 2 -39 2 48 2 38 2 -53 2 -37 2 94 2 -6 2 -11 2 -79 2 34 2 -96 2 -2 2 -137 2 224 2 -70 2 -46 2 66 2 5 2 40 2 -84 2 -44 2 48 2 22 2 -10 2 -58 2 69 2 -51 2 -16 2 121 2 3 2 -12 2 27 2 10 2 -40 2 -117 2 60 2 -26 2 90 2 25 2 86 2 -93 2 -17 2 46 2 -47 2 -31 2 -80 2 74 2 -28 2 32 2 8 2 -95 2 1 2 15 2 127 2 -73 2 40 2 57 2 -79 2 -72 2 5 2 -6 2 56 2 19 2 38 2 -98 2 122 2 -16 2 14 2 -154 2 25 2 23 2 9 2 104 2 -62 2 13 2 2 2 95 2 44 2 -114 2 4 2 66 2 21 2 -54 2 -12 2 11 2 -72 2 -34 2 148 2 -27 2 -36 2 -33 2 -12 2 -39 2 45 2 -8 2 -123 2 -14 2 92 2 -58 2 35 2 -106 2 18 2 120 2 12 2 -49 2 36 2 7 2 -17 2 57 2 3 2 -69 2 -26 2 79 2 -5 2 115 2 -57 2 -70 2 27 2 41 2 -177 2 207 2 -46 2 3 2 114 2 -60 2 64 2 -106 2 -6 2 -1 2 -69 2 -101 2 46 2 96 2 -15 2 42 2 -89 2 -12 2 3 2 -36 2 83 2 -29 2 -11 2 96 2 -165 2 -55 2 130 2 -90 2 -52 2 107 2 13 2 -3 2 -26 2 50 2 17 2 60 2 -25 2 10 2 -93 2 176 2 -82 2 76 2 -84 2 26 2 -51 2 91 2 -25 2 -45 2 77 2 -20 2 0 2 12 2 81 2 -64 2 -137 2 23 2 29 2 -13 2 0 2 108 2 -98 2 -220 2 176 2 -108 2 112 2 -19 2 -2 2 -4 2 -40 2 60 2 77 2 -33 2 -4 2 113 2 -163 2 10 2 151 2 -174 2 83 2 17 2 -69 2 84 2 -138 2 -84 2 56 2 104 2 68 2 33 2 -183 2 150 2 -114 2 -9 2 57 2 1 2 49 2 -80 2 46 2 4 2 -92 2 53 2 4 2 78 2 -147 2 91 2 -31 2 -51 2 168 2 -119 2 83 2 -160 2 134 2 12 2 -12 2 -112 2 53 2 -14 2 -47 2 85 2 -14 2 -3 2 -8 2 -52 2 76 2 -63 2 13 2 -39 2 115 2 -66 2 -111 2 44 2 21 2 47 2 -39 2 17 2 -29 2 -50 2 59 2 58 2 -47 2 143 2 -113 2 -32 2 108 2 -113 2 27 2 26 2 -7 2 53 2 -29 2 -45 2 74 2 -24 2 92 2 -67 2 98 2 -206 2 192 2 3 2 -90 2 9 2 -112 2 34 2 -46 2 3 2 48 2 11 2 28 2 -87 2 -49 2 40 2 19 2 15 2 16 2 -10 2 -26 2 31 2 1 2 28 2 -88 2 71 2 23 2 -64 2 41 2 65 2 -65 2 88 2 117 2 -99 2 -10 2 15 2 -79 2 81 2 0 2 35 2 -54 2 10 2 32 2 -61 2 -55 2 10 2 7 2 -9 2 66 2 -133 2 60 2 53 2 -103 2 1 2 -59 2 70 2 25 2 -39 2 60 2 -77 2 55 2 -88 2 51 2 50 2 -30 2 24 2 -54 2 24 2 35 2 -94 2 93 2 -7 2 20 2 -26 2 146 2 -91 2 -98 2 74 2 21 2 -96 2 4 2 123 2 -54 2 61 2 -120 2 -31 2 49 2 -37 2 48 2 72 2 -13 2 -39 2 23 2 15 2 -21 2 -10 2 21 2 135 2 -135 2 62 2 -88 2 -4 2 12 2 -9 2 45 2 -109 2 44 2 -13 2 55 2 -119 2 109 2 -24 2 -94 2 155 2 -59 2 90 2 -34 2 81 2 -101 2 55" stroke="#ffa500"/>
<path transform="translate(134 0) scale(.1)" d="M0 9599 l2 32 2 67 2 -37 2 -80 2 133 2 -142 2 -27 2 28 2 -3 2 5 2 -10 2 99 2 -6 2 113 2 -164 2 176 2 -67 2 -23 2 164 2 -168 2 -20 2 42 2 -38 2 -44 2 -46 2 67 2 -6 2 9 2 58 2 -95 2 51 2 22 2 94 2 0 2 40 2 -76 2 -4 2 31 2 -120 2 167 2 -148 2 -100 2 99 2 -66 2 50 2 1 2 -78 2 61 2 102 2 -39 2 -39 2 -33 2 102 2 -110 2 27 2 -16 2 -16 2 56 2 -8 2 -53 2 105 2 74 2 -93 2 19 2 -35 2 99 2 -97 2 81 2 -8 2 -12 2 15 2 -7 2 -13 2 18 2 -103 2 105 2 -29 2 72 2 -29 2 -58 2 2 2 32 2 -58 2 -26 2 118 2 -48 2 -78 2 -131 2 98 2 -72 2 106 2 -49 2 35 2 12 2 9 2 17 2 -40 2 196 2 -83 2 -38 2 -33 2 98 2 -41 2 98 2 -168 2 8 2 94 2 -82 2 163 2 -91 2 18 2 59 2 12 2 -120 2 182 2 -22 2 -101 2 24 2 -2 2 -197 2 139 2 -30 2 51 2 -52 2 -37 2 -20 2 -30 2 42 2 27 2 -38 2 38 2 45 2 -40 2 31 2 -67 2 9 2 -52 2 122 2 8 2 8 2 -164 2 26 2 57 2 -59 2 17 2 50 2 -8 2 37 2 -15 2 -56 2 44 2 24 2 40 2 36 2 -83 2 18 2 -66 2 162 2 2 2 -58 2 10 2 1 2 11 2 66 2 10 2 -65 2 -6 2 17 2 37 2 -21 2 19 2 18 2 -131 2 101 2 -56 2 62 2 -3 2 -65 2 -57 2 69 2 39 2 -57 2 7 2 44 2 -30 2 -33 2 50 2 -66 2 75 2 -25 2 12 2 69 2 -19 2 -8 2 8 2 -59 2 2 2 -45 2 43 2 21 2 72 2 -91 2 -53 2 260 2 -146 2 24 2 -55 2 40 2 -113 2 120 2 -87 2 54 2 -31 2 18 2 -77 2 48 2 -31 2 -9 2 -115 2 227 2 -20 2 -77 2 58 2 -46 2 -31 2 5 2 13 2 1 2 -85 2 124 2 -23 2 119 2 -67 2 -12 2 18 2 -41 2 -10 2 86 2 -1 2 108 2 -93 2 44 2 -130 2 103 2 -67 2 6 2 92 2 50 2 -23 2 -46 2 120 2 -100 2 -110 2 49 2 41 2 -89 2 89 2 -62 2 22 2 30 2 19 2 -18 2 -44 2 32 2 -26 2 -77 2 24 2 75 2 -58 2 -70 2 34 2 110 2 15 2 38 2 51 2 -62 2 98 2 -107 2 -29 2 -44 2 115 2 -164 2 125 2 -12 2 7 2 11 2 -106 2 90 2 23 2 -76 2 -40 2 -71 2 142 2 -35 2 -9 2 -46 2 59 2 11 2 166 2 -154 2 5 2 30 2 -18 2 129 2 -166 2 96 2 -73 2 -96 2 96 2 17 2 39 2 -101 2 -29 2 -40 2 12 2 60 2 37 2 3 2 -68 2 10 2 119 2 -15 2 -2 2 -100 2 -10 2 38 2 31 2 -25 2 1 2 47 2 20 2 -30 2 -10 2 29 2 -37 2 60 2 24 2 50 2 -95 2 8 2 22 2 35 2 -113 2 24 2 60 2 -90 2 166 2 -101 2 -8 2 66 2 -211 2 150 2 74 2 -49 2 -46 2 27 2 -50 2 -105 2 138 2 -42 2 -56 2 68 2 113 2 -22 2 -28 2 -44 2 37 2 -24 2 31 2 14 2 -19 2 -16 2 -69 2 12 2 -21 2 -32 2 26 2 78 2 88 2 -269 2 131 2 66 2 -26 2 -87 2 57 2 18 2 -31 2 -33 2 56 2 22 2 0 2 -139 2 149 2 -26 2 18 2 -38 2 44 2 2 2 -24 2 49 2 -40 2 44 2 -8 2 25 2 62 2 72 2 -115 2 13 2 -118 2 74 2 -107 2 99 2 -19 2 -77 2 79 2 -27 2 -10 2 -8 2 29 2 16 2 -25 2 68 2 -59 2 21 2 15 2 -66 2 86 2 -58 2 -62 2 112 2 -162 2 121 2 -140 2 134 2 16 2 25 2 -83 2 29 2 14 2 55 2 10 2 -40 2 -39 2 39 2 -36 2 -78 2 33 2 38 2 -26 2 -43 2 71 2 27 2 -55 2 49 2 19 2 -26 2 92 2 -57 2 45 2 6 2 4 2 -36 2 29 2 -137 2 -11 2 -1 2 -22 2 24 2 -33 2 36 2 22 2 123 2 -160 2 36 2 59 2 -106 2 55 2 -56 2 -62 2 8 2 4 2 19 2 -47 2 18 2 -30 2 8 2 66 2 -151 2 187 2 10 2 -10 2 -20 2 -42 2 109 2 -45 2 49 2 -64 2 -46 2 197 2 -247 2 88 2 -5 2 6 2 41 2 -131 2 69 2 36 2 75 2 -14 2 117 2 -81 2 -120 2 -35 2 34 2 -32 2 111 2 -17 2 20 2 -2 2 18 2 120 2 -204 2 53 2 45 2 -165 2 90 2 19 2 55 2 -44 2 -5 2 -28 2 -10 2 32 2 -27 2 11 2 -15 2 2 2 -25 2 29 2 14 2 -3 2 -22 2 14 2 -63 2 -35 2 -35 2 53 2 -19 2 -76 2 128 2 -53 2 15 2 25 2 131 2 -29 2 9 2 10 2 -19 2 40 2 125 2 -159 2 82 2 -12 2 -128 2 69 2 -56 2 20 2 -41 2 67 2 -96 2 25 2 21 2 46 2 -146 2 27 2 -70 2 92 2 28 2 17 2 83 2 -21 2 -43 2 9 2 -94 2 37 2 41 2 44 2 -54 2 -22 2 43 2 -61 2 49 2 -48 2 70 2 -43 2 66 2 52 2 -42 2 -58 2 48 2 103 2 -41 2 -110 2 -34 2 67 2 -22 2 49 2 -6 2 -3 2 -13 2 49 2 42 2 -46 2 -15 2 -32 2 -17 2 4 2 80 2 -50 2 35 2 -52 2 -25 2 9 2 -10 2 46 2 -60 2 11 2 15 2 -47 2 48 2 63 2 -48 2 7 2 24 2 -120 2 38 2 -76 2 77 2 11 2 36 2 -130 2 98 2 28 2 3 2 -22 2 43 2 -24 2 -28 2 20 2 88 2 -90 2 -3 2 23 2 -4 2 -4 2 7 2 -54 2 28 2 42 2 -16 2 -84 2 29 2 16 2 -70 2 63 2 28 2 -8 2 -20 2 -14 2 -13 2 127 2 4 2 -31 2 -10 2 -66 2 28 2 57 2 -24 2 55 2 -89 2 22 2 -56 2 0 2 -56 2 95 2 38 2 -10 2 -126 2 69 2 80 2 -12 2 10 2 -29 2 -77 2 -86 2 -43 2 170 2 -175 2 120 2 47 2 -88 2 -41 2 220 2 -10 2 -43 2 35 2 -83 2 5 2 9 2 48 2 4 2 23 2 -11 2 57 2 -56 2 20 2 -103 2 108 2 -16 2 96 2 42 2 -71 2 -42 2 19 2 -49 2 74 2 -100 2 37 2 -106 2 65 2 29 2 39 2 -25 2 -63 2 26 2 -30 2 -23 2 -53 2 33 2 68 2 -21 2 6 2 -51 2 44 2 -27 2 4 2 -50 2 35 2 64 2 -47 2 65 2 -72 2 12 2 -51 2 71 2 -45 2 -20 2 45 2 69 2 -123 2 38 2 93 2 59 2 -81 2 47 2 -35 2 34 2 -64 2 -67 2 45 2 2 2 -87 2 59 2 39 2 55 2 14 2 -14 2 -45 2 -11 2 -98 2 -17 2 78 2 -18 2 -18 2 13 2 51 2 9 2 -28 2 15 2 -6 2 -64 2 61 2 12 2 -5 2 -13 2 93 2 -75 2 -183 2 227 2 -28 2 -30 2 2 2 -4 2 80 2 -1 2 4 2 -21 2 84 2 -10 2 26 2 -152 2 -44 2 147 2 -45 2 -48 2 -28 2 -4 2 3 2 -21 2 39 2 8 2 -70 2 39 2 -22 2 6 2 -55 2 228 2 -158 2 43 2 3 2 -50 2 -15 2 13 2 118 2 -143 2 -15 2 45 2 46 2 -58 2 23 2 -44 2 -1 2 -22 2 109 2 -77 2 4 2 13 2 7 2 11 2 -18 2 78 2 -98 2 76 2 -22 2 27 2 33 2 -136 2 15 2 16 2 66 2 -194 2 151 2 61 2 -45 2 58 2 -40 2 11 2 -164 2 -70 2 86 2 11 2 -21 2 -2 2 -50 2 5 2 99 2 -52 2 46 2 -19 2 34 2 -11 2 -8 2 98 2 -113 2 40 2 -44 2 80 2 -98 2 25 2 -22 2 -136 2 238 2 -90 2 -101 2 179 2 -51 2 2 2 -6 2 -25 2 51 2 44 2 -58 2 -58 2 51 2 -28 2 27 2 34 2 -40 2 121 2 -20 2 -13 2 -25 2 49 2 -9 2 -38 2 26 2 113 2 3 2 -122 2 35 2 2 2 -2 2 0 2 -14 2 -60 2 -64 2 -4 2 52 2 83 2 -110 2 13 2 -27 2 37 2 -60 2 -18 2 7 2 97 2 -57 2 48 2 -158 2 84 2 -33 2 63 2 22 2 -34 2 80 2 -34 2 -77 2 -40 2 75 2 -23 2 5 2 101 2 -71 2 -21 2 -5 2 50 2 111 2 2 2 -143 2 11 2 139 2 -72 2 2 2 7 2 -54 2 13 2 -80 2 -45 2 84 2 -3 2 8 2 -8 2 51 2 105 2 -85 2 -2 2 -11 2 -32 2 -62 2 -23 2 245 2 -142 2 -21 2 -3 2 -8 2 121 2 -57 2 -30 2 -49 2 55 2 9 2 22 2 51 2 -87 2 -18 2 -51 2 -20 2 -102 2 39 2 118 2 -60 2 9 2 -3 2 23 2 262 2 -287 2 85 2 -9 2 42 2 2 2 12 2 6 2 -88 2 50 2 5 2 -6 2 91 2 -10 2 -66 2 22 2 -158 2 197 2 -28 2 -35 2 38 2 -79 2 29 2 -18 2 -41 2 166 2 -99 2 11 2 -98 2 74 2 -85 2 98 2 -29 2 8 2 -17 2 -34 2 160 2 -142 2 233 2 -259 2 115 2 -8 2 -3 2 -80 2 106 2 -43 2 -23 2 11 2 25 2 27 2 -83 2 -46 2 75 2 23 2 -74 2 -38 2 -17 2 2 2 30 2 36 2 19 2 24 2 10 2 23 2 -21 2 -3 2 -8 2 -41 2 10 2 139 2 -182 2 93 2 58 2 -43 2 18 2 3 2 -24 2 -26 2 -6 2 15 2 -67 2 62 2 20 2 -15 2 -24 2 -101 2 38 2 6 2 -59 2 138 2 -77 2 -4 2 8 2 68 2 -23 2 -35 2 -45 2 21 2 -6 2 74 2 75 2 -51 2 69 2 -192 2 51 2 -12 2 -53 2 27 2 8 2 80 2 49 2 -62 2 -8 2 -6 2 51 2 3 2 33 2 -10 2 -63 2 5 2 34 2 -70 2 98 2 -104 2 99 2 -22 2 -2 2 -58 2 42 2 -13 2 -122 2 25 2 105 2 62 2 -7 2 -4 2 -43 2 34 2 -134 2 58 2 12 2 -57 2 -36 2 94 2 -67 2 -4 2 129 2 -99 2 51 2 1 2 -96 2 52 2 30 2 21 2 9 2 -19 2 36 2 2 2 -4 2 -105 2 74 2 9 2 -15 2 -138 2 96 2 -91 2 7 2 134 2 -55 2 14 2 -46 2 65 2 31 2 5 2 -76 2 94 2 61 2 -58 2 -35 2 49 2 1 2 -27 2 21 2 12 2 -72 2 4 2 5 2 83 2 -48 2 -19 2 -47 2 -74 2 79 2 4 2 59 2 -100 2 86 2 -46 2 -13 2 8 2 -66 2 97 2 -8 2 -22 2 -18 2 36 2 -34 2 89 2 -81 2 -21 2 9 2 -46 2 6 2 -147 2 138 2 -139 2 166 2 -53 2 43 2 32 2 2 2 56 2 -102 2 -37 2 28 2 -6 2 63 2 -27 2 -94 2 44 2 154 2 -134 2 11 2 65 2 -23 2 -11 2 9 2 -7 2 -100 2 100 2 18 2 -23 2 42 2 -46 2 60 2 -9 2 156 2 -68 2 -78 2 75 2 14 2 -53 2 -132 2 93 2 11 2 4 2 -26 2 47 2 -170 2 132 2 -8 2 -82 2 34 2 -48 2 71 2 -37 2 17 2 -62 2 88 2 -20 2 -81 2 98 2 48 2 9 2 -53 2 -89 2 73 2 -99 2 183 2 -55 2 -20 2 60 2 -95 2 75 2 86 2 -13 2 -106 2 122 2 5 2 -97 2 5 2 3 2 -3 2 -91 2 82 2 4 2 -20 2 -117 2 150 2 -92 2 91 2 -11 2 76 2 -68 2 -55 2 78 2 -111 2 71 2 67 2 -31 2 -28 2 23 2 -4 2 -7 2 -1 2 120 2 -108 2 74 2 -42 2 -79 2 12 2 9 2 0 2 -12 2 -16 2 29 2 22 2 -68 2 -45 2 100 2 -51 2 129 2 23 2 88 2 -126 2 -29 2 10 2 36 2 11 2 -97 2 107 2 -21 2 70 2 -6 2 -54 2 -21 2 16 2 39 2 -10 2 32 2 49 2 -117 2 -10 2 3 2 14 2 -29 2 -78 2 42 2 -19 2 -112 2 108 2 24 2 -3 2 -27 2 101 2 -91 2 87 2 -166 2 111 2 -85 2 102 2 35 2 -16 2 -3 2 17 2 -71 2 -80 2 90 2 -44 2 4 2 -6 2 27 2 21 2 37 2 -10 2 29 2 114 2 -107 2 59 2 -35 2 -113 2 68 2 -21 2 17 2 31 2 14 2 31 2 -38 2 -28 2 -200 2 210 2 -1 2 97 2 -12 2 -6 2 -39 2 -55 2 75 2 -107 2 7 2 -3 2 28 2 18 2 25 2 -32 2 -5 2 -17 2 70 2 -39 2 -19 2 44 2 -22 2 -29 2 -95 2 25 2 -2 2 -12 2 -1 2 -43 2 111 2 18 2 -36 2 -16 2 7 2 -33 2 41 2 35 2 -29 2 15 2 21 2 14 2 8 2 -63 2 47 2 30 2 8 2 4 2 7 2 113 2 -100 2 140 2 -172 2 2 2 65 2 -30 2 32 2 -65 2 -4 2 81 2 -158 2 101 2 57 2 -14 2 -25 2 12 2 -47 2 11 2 88 2 21 2 -80 2 -133 2 108 2 -59 2 107 2 -62 2 -44 2 -66 2 -13 2 65 2 -62 2 79 2 31 2 -20 2 -56 2 -10 2 37 2 -61 2 41 2 115 2 -36 2 -51 2 2 2 8 2 -25 2 22 2 -8 2 37 2 -4 2 -60 2 57 2 -38 2 -11 2 15 2 75 2 -85 2 29 2 143 2 -99 2 -38 2 -29 2 -19 2 12 2 27 2 19 2 -47 2 57 2 40 2 -106 2 59 2 29 2 -96 2 45 2 -33 2 -24 2 77 2 114 2 -141 2 62 2 -73 2 54 2 -33 2 34 2 131 2 -119 2 -22 2 -56 2 -63 2 89 2 -20 2 -38 2 94 2 -144 2 -116 2 128 2 56 2 -33 2 36 2 -73 2 -6 2 59 2 -54 2 77 2 -17 2 0 2 20 2 -54 2 -4 2 45 2 -9 2 20 2 -100 2 82 2 -33 2 23 2 51 2 61 2 -61 2 -3 2 -33 2 -37 2 -26 2 6 2 41 2 -42 2 35 2 -46 2 -20 2 -32 2 105 2 48 2 -99 2 -58 2 -1 2 23 2 14 2 69 2 -110 2 -9 2 -70 2 167 2 -45 2 12 2 51 2 -138 2 40 2 7 2 34 2 61 2 49 2 -10 2 12 2 19 2 -42 2 -107 2 164 2 -47 2 -111 2 -4 2 88 2 -30 2 -56 2 -13 2 -4 2 -9 2 116 2 -55 2 21 2 -76 2 -63 2 -6 2 114 2 -51 2 -10 2 -66 2 39 2 15 2 35 2 -36 2 -26 2 46 2 -15 2 -1 2 144 2 -63 2 6 2 -52 2 33 2 -15 2 58 2 -47 2 -126 2 111 2 -51 2 112 2 -64 2 -36 2 -60 2 155 2 -84 2 165 2 -155 2 -10 2 -40 2 109 2 21 2 -88 2 -20 2 7 2 -54 2 45 2 -21 2 22 2 8 2 24 2 -42 2 0 2 -18 2 20 2 -50 2 91 2 -114 2 1 2 75 2 -2 2 59 2 -60 2 -11 2 -19 2 119 2 4 2 -53 2 -23 2 64 2 33 2 -43 2 -15 2 -207 2 194 2 4 2 0 2 27 2 -19 2 -82 2 80 2 -101 2 85 2 65 2 -93 2 41 2 24 2 15 2 29 2 5 2 36 2 -51 2 42 2 -88 2 7 2 24 2 68 2 -68 2 13 2 31 2 -124 2 53 2 57 2 86 2 -48 2 -46 2 46 2 -55 2 -19 2 130 2 -24 2 -86 2 -52 2 84 2 -37 2 128 2 -99 2 5 2 110 2 -77 2 72 2 -34 2 0 2 -87 2 39 2 -72 2 110 2 -33 2 -40 2 -14 2 85 2 -42 2 -45 2 88 2 -75 2 159 2 -49 2 0 2 29 2 55 2 -106 2 76 2 -167 2 174 2 -153 2 51 2 -22 2 87 2 -92 2 -31 2 47 2 -152 2 8 2 105 2 -128 2 -35 2 -34 2 -8 2 -71 2 36 2 -154 2 122 2 19 2 -17 2 -32 2 0 2 22 2 -20 2 -4 2 72 2 -124 2 95 2 -11 2 -72 2 25 2 -54 2 56 2 -45 2 6 2 45 2 -81 2 16 2 -40 2 -165 2 81 2 -39 2 32 2 -44 2 71 2 80 2 -58 2 15 2 -29 2 -2 2 81 2 -124 2 116 2 -6 2 57 2 -35 2 -21 2 -35 2 57 2 -62 2 14 2 -70 2 -10 2 9 2 10 2 -24 2 32 2 -27 2 43 2 23 2 -44 2 -12 2 85 2 -130 2 98 2 28 2 36 2 -72 2 -2 2 -11 2 -61 2 55 2 -76 2 115 2 -38 2 -81 2 98 2 8 2 -30 2 18 2 0 2 64 2 -69 2 5 2 -1 2 -33 2 69 2 -94 2 55 2 -37 2 4 2 107 2 -9 2 -18 2 33 2 13 2 -49 2 32 2 -23 2 -35 2 165 2 -113 2 4 2 37 2 13 2 -66 2 -52 2 80 2 -39 2 33 2 0 2 68 2 -41 2 5 2 -101 2 57 2 -44 2 26 2 75 2 -3 2 41 2 -152 2 10 2 -64 2 11 2 -3 2 -48 2 123 2 -34 2 47 2 102 2 19 2 -55 2 -37 2 49 2 -82 2 20 2 89 2 20 2 -74 2 13 2 -121 2 73 2 81 2 -35 2 -48 2 -97 2 79 2 98 2 -88 2 -10 2 -8 2 44 2 -54 2 50 2 65 2 -30 2 29 2 -97 2 -33 2 12 2 -8 2 101 2 44 2 -82 2 30 2 44 2 9 2 -74 2 73 2 2 2 -16 2 -35 2 20 2 -3 2 -28 2 -64 2 132 2 -80 2 -57 2 36 2 -7 2 -27 2 4 2 -13 2 22 2 -104 2 86 2 -41 2 69 2 90 2 -144 2 93 2 -96 2 79 2 -18 2 -2 2 114 2 -145 2 20 2 35 2 21 2 9 2 -141 2 96 2 -160 2 136 2 -25 2 86 2 72 2 -51 2 44 2 -8 2 -7 2 -20 2 16 2 45 2 -125 2 101 2 -72 2 5 2 113 2 -175 2 60 2 2 2 -5 2 49 2 -69 2 -26 2 22 2 2 2 92 2 -289 2 166 2 -91 2 180 2 -148 2 -27 2 36 2 -17 2 6 2 39 2 -19 2 45 2 -52 2 -30 2 92 2 -14 2 41 2 -19 2 -2 2 -6 2 -19 2 75 2 -88 2 63 2 -12 2 -39 2 123 2 -85 2 -14 2 14 2 -84 2 113 2 -73 2 -101 2 86 2 -6 2 -41 2 1 2 2 2 8 2 87 2 28 2 -54 2 -80 2 40 2 -11 2 -23 2 53 2 79 2 -149 2 85 2 2 2 -3 2 -6 2 43 2 10 2 -29 2 30 2 -34 2 24 2 -74 2 117 2 -21 2 100 2 -119 2 -43 2 -7 2 50 2 52 2 -88 2 17 2 -12 2 -12 2 -10 2 27 2 -17 2 -3 2 2 2 -17 2 18 2 -46 2 26 2 -24 2 26 2 0 2 2 2 56 2 55 2 -73 2 1 2 -29 2 -2 2 34 2 26 2 27 2 64 2 -134 2 -18 2 15 2 -31 2 58 2 -4 2 -13 2 -62 2 -24 2 55 2 8 2 7 2 -77 2 7 2 -1 2 -69 2 117 2 -23 2 7 2 -94 2 148 2 -43 2 35 2 132 2 -162 2 -5 2 53 2 -5 2 -5 2 -7 2 -47 2 35 2 -24 2 44 2 81 2 -34 2 122 2 -184 2 84 2 -19 2 -29 2 0 2 -30 2 19 2 4 2 69 2 -94 2 51 2 12 2 -5 2 -49 2 100 2 -23 2 -25 2 -85 2 161 2 -140 2 -31 2 -2 2 61 2 -110 2 97 2 11 2 -28 2 -41 2 31 2 31 2 -44 2 33 2 -63 2 -40 2 19 2 182 2 -155 2 12 2 34 2 33 2 -40 2 5 2 56 2 -40 2 101 2 -160 2 123 2 -2 2 39 2 -31 2 -36 2 -19 2 26 2 -126 2 89 2 97 2 -89 2 -26 2 9 2 -5 2 -131 2 117 2 -31 2 80 2 -58 2 95 2 -78 2 40 2 49 2 -82 2 56 2 -51 2 -48 2 123 2 -71 2 -32 2 -8 2 2 2 12 2 21 2 -33 2 138 2 -1 2 60 2 -90 2 63 2 -47 2 38 2 2 2 21 2 -1 2 -2 2 -122 2 57 2 -84 2 -3 2 11 2 -67 2 161 2 -91 2 54 2 62 2 -98 2 -36 2 -41 2 91 2 -45 2 -45 2 87 2 23 2 -94 2 62 2 -44 2 -62 2 -7 2 -33 2 98 2 -32 2 -13 2 -2 2 66 2 60 2 -28 2 2 2 6 2 81 2 -103 2 -5 2 35 2 -1 2 -14 2 83 2 -12 2 -108 2 96 2 38 2 -10 2 -30 2 53 2 44 2 -78 2 54 2 23 2 -165 2 88 2 -103 2 -55 2 38 2 -4 2 -14 2 29 2 18 2 -187 2 205 2 -56 2 4 2 46 2 51 2 -72 2 -89 2 9 2 111 2 -68 2 -35 2 3 2 40 2 -20 2 -40 2 112 2 -49 2 33 2 -41 2 40 2 -17 2 52 2 -48 2 35 2 124 2 -120 2 20 2 -66 2 34 2 29 2 -55 2 91 2 -78 2 44 2 -7 2 -30 2 29 2 -98 2 53 2 17 2 -60 2 61 2 33 2 -68 2 -95 2 2 2 86 2 -48 2 -58 2 67 2 24 2 -8 2 -30 2 -25 2 50 2 8 2 -11 2 115 2 -12 2 12 2 -69 2 -10 2 -28 2 20 2 109 2 21 2 -84 2 117 2 -92 2 79 2 -48 2 10 2 53 2 -34 2 -23 2 -5 2 -62 2 44 2 33 2 26 2 -31 2 -7 2 24 2 -50 2 -20 2 -18 2 26 2 -26 2 20 2 -10 2 -5 2 -65 2 19 2 50 2 -34 2 0 2 -18 2 -19 2 12 2 -17 2 -11 2 43 2 -54 2 -39 2 73 2 -22 2 60 2 31 2 -10 2 27 2 116 2 -69 2 -92 2 228 2 -130 2 24 2 -65 2 -48 2 11 2 24 2 74 2 -63 2 34 2 -33 2 30 2 -118 2 57 2 -61 2 1 2 -20 2 74 2 -36 2 33 2 -49 2 5 2 -6 2 -15 2 39 2 62 2 -16 2 39 2 -58 2 22 2 -7 2 15 2 35 2 6 2 36 2 13 2 -96 2 -3 2 21 2 -81 2 81 2 16 2 -21 2 -32 2 56 2 154 2 -67 2 -86 2 -15 2 118 2 -54 2 -13 2 -68 2 8 2 46 2 -60 2 -54 2 -30 2 77 2 -70 2 34 2 -107 2 102 2 19 2 8 2 7 2 -56 2 49 2 1 2 -37 2 -80 2 172 2 -54 2 31 2 -28 2 -18 2 52 2 -31 2 -21 2 -1 2 51 2 -37 2 -37 2 -55 2 82 2 98 2 -49 2 -4 2 -28 2 -10 2 -32 2 68 2 -36 2 84 2 49 2 18 2 -59 2 -29 2 -17 2 -192 2 108 2 53 2 -8 2 -57 2 4 2 7 2 -108 2 125 2 -71 2 208 2 -110 2 61 2 -58 2 -8 2 40 2 -26 2 -63 2 13 2 16 2 24 2 -1 2 41 2 -30 2 -154 2 170 2 66 2 -66 2 -43 2 -92 2 108 2 13 2 -26 2 24 2 -26 2 34 2 -120 2 114 2 -77 2 6 2 62 2 -37 2 -6 2 -90 2 132 2 48 2 -85 2 18 2 -45 2 10 2 -27 2 -11 2 67 2 -55 2 42 2 61 2 -12 2 -16 2 57 2 0 2 47 2 -82 2 58 2 -31 2 -33 2 -17 2 80 2 -88 2 95 2 -98 2 -21 2 30 2 -9 2 -82 2 93 2 40 2 -29 2 -54 2 31 2 -93 2 70 2 -29 2 80 2 -105 2 77 2 17 2 12 2 112 2 -143 2 48 2 -7 2 -56 2 72 2 -95 2 70 2 -54 2 -16 2 181 2 -155 2 -149 2 80 2 64 2 7 2 -16 2 20 2 147 2 -140 2 50 2 -72 2 65 2 -24 2 15 2 6 2 -36 2 -33 2 65 2 12 2 -92 2 191 2 -202 2 79 2 19 2 42 2 -118 2 -46 2 12 2 -17 2 52 2 -45 2 62 2 112 2 -97 2 -33 2 6 2 32 2 -101 2 24 2 -21 2 -46 2 166 2 -60 2 -45 2 113 2 -72 2 39 2 6 2 -47 2 183 2 44 2 -100 2 24 2 58 2 -76 2 6 2 -23 2 -30 2 -26 2 -39 2 -1 2 -111 2 55 2 101 2 -85 2 -2 2 4 2 56 2 21 2 -56 2 -10 2 -101 2 120 2 32 2 -37 2 -15 2 52 2 -21 2 153 2 -114 2 -61 2 60 2 9 2 -11 2 29 2 -77 2 144 2 -93 2 20 2 -24 2 97 2 -115 2 31 2 -65 2 57 2 -153 2 170 2 82 2 -83 2 56 2 1 2 -33 2 -44 2 -24 2 90 2 -66 2 -36 2 18 2 0 2 12 2 54 2 -52 2 -13 2 71 2 -34 2 49 2 55 2 -162 2 48 2 12 2 -58 2 -9 2 55 2 -32 2 -117 2 117 2 17 2 85 2 -255 2 158 2 -89 2 25 2 1 2 14 2 17 2 -17 2 -8 2 60 2 49 2 -15 2 -2 2 -63 2 100 2 -43 2 -93 2 91 2 112 2 -79 2 33 2 160 2 -126 2 -10 2 -117 2 49 2 -32 2 99 2 11 2 -18 2 -18 2 107 2 -13 2 -59 2 -40 2 26 2 -58 2 -28 2 29 2 8 2 -48 2 34 2 84 2 -94 2 2 2 22 2 -47 2 38 2 26 2 7 2 95 2 -44 2 -86 2 7 2 14 2 141 2 -46 2 -42 2 -47 2 46 2 16 2 -95 2 -92 2 85 2 1 2 71 2 38 2 6 2 -26 2 -26 2 47 2 -54 2 -8 2 6 2 -8 2 14 2 0 2 63 2 -49 2 -45 2 41 2 -24 2 102 2 -125 2 75 2 -65 2 -102 2 112 2 -6 2 121 2 -136 2 53 2 19 2 -33 2 36 2 -8 2 42 2 13 2 -110 2 145 2 -33 2 -50 2 52 2 -14 2 49 2 -75 2 37 2 13 2 -8 2 -30 2 -7 2 154 2 -159 2 56 2 -22 2 -1 2 0 2 -32 2 18 2 -64 2 22 2 70 2 -7 2 -43 2 -20 2 39 2 -55 2 9 2 23 2 125 2 -99 2 -212 2 100 2 -25 2 125 2 -182 2 103 2 -7 2 5 2 -26 2 117 2 -112 2 16 2 100 2 7 2 -61 2 18 2 29 2 -8 2 -76 2 -47 2 21 2 -77 2 91 2 -42 2 41 2 -6 2 -44 2 -10 2 119 2 -25 2 10 2 31 2 -92 2 -30 2 -88 2 50 2 5 2 58 2 -127 2 182 2 -117 2 -28 2 142 2 -135 2 42 2 37 2 16 2 -47 2 14 2 11 2 45 2 -69 2 -18 2 46 2 -39 2 148 2 -105 2 10 2 -139 2 133 2 33 2 119 2 -97 2 5 2 -14 2 12 2 -107 2 152 2 -154 2 -30 2 13 2 -17 2 -8 2 -25 2 64 2 -30 2 7 2 -25 2 35 2 -64 2 -2 2 53 2 -43 2 65 2 -96 2 125 2 -19 2 21 2 -68 2 37 2 65 2 -65 2 -2 2 -59 2 11 2 94 2 22 2 -3 2 68 2 -150 2 30 2 -10 2 2 2 -54 2 -12 2 88 2 16 2 17 2 -18 2 -25 2 53 2 18 2 18 2 -124 2 12 2 23 2 -66 2 -6 2 100 2 -73 2 14 2 73 2 -103 2 68 2 -100 2 73 2 -77 2 88 2 20 2 -77 2 96 2 -55 2 -7 2 -123 2 138 2 13 2 -22 2 161 2 -153 2 26 2 -221 2 216 2 -17 2 102 2 -17 2 -36 2 -17 2 -59 2 -16 2 161 2 -125 2 3 2 -43 2 50 2 -1 2 -73 2 117 2 -58 2 34 2 -70 2 46 2 -142 2 86 2 -29 2 -98 2 84 2 44 2 16 2 24 2 -5 2 24 2 21 2 14 2 8 2 -38 2 -28 2 45 2 -23 2 -86 2 70 2 38 2 39 2 -97 2 33 2 -37 2 9 2 39 2 -31 2 -38 2 76 2 -11 2 54 2 -88 2 19 2 -75 2 -145 2 149 2 29 2 87 2 -94 2 5 2 -56 2 71 2 22 2 69 2 -63 2 -37 2 72 2 -108 2 58 2 10 2 -25 2 -43 2 29 2 4 2 20 2 -29 2 -69 2 73 2 -37 2 -9 2 83 2 -87 2 30 2 22 2 -13 2 14 2 30 2 -9 2 99 2 -111 2 -74 2 25 2 73 2 -26 2 106 2 -112 2 -26 2 -2 2 -7 2 55 2 48 2 -55 2 130 2 -212 2 11 2 32 2 15 2 -53 2 87 2 -100 2 -34 2 -16 2 64 2 -83 2 34 2 47 2 -144 2 169 2 -28 2 -5 2 85 2 -101 2 11 2 56 2 -28 2 54 2 -52 2 5 2 -12 2 133 2 -18 2 -14 2 37 2 -29 2 -72 2 160 2 -89 2 1 2 0 2 -1 2 -15 2 -28 2 8 2 -24 2 -110 2 116 2 -25 2 -60 2 100 2 44 2 -2 2 96 2 -118 2 12 2 -33 2 -26 2 -5 2 -136 2 57 2 -119 2 125 2 27 2 21 2 -68 2 32 2 46 2 129 2 -89 2 -99 2 86 2 5 2 -47 2 52 2 -60 2 90 2 10 2 5 2 -110 2 17 2 -54 2 65 2 -71 2 24 2 27 2 82 2 -61 2 -42 2 -78 2 72 2 63 2 24 2 27 2 17 2 -44 2 48 2 -11 2 -28 2 -29 2 68 2 -63 2 -15 2 -39 2 12 2 -15 2 30 2 -49 2 -69 2 28 2 -36 2 143 2 -9 2 -73 2 43 2 36 2 -47 2 58 2 -1 2 12 2 2 2 -17 2 -30 2 -32 2 32 2 11 2 -117 2 182 2 78 2 -113 2 48 2 -50 2 50 2 77 2 -90 2 -28 2 104 2 -73 2 -23 2 56 2 -38 2 -9 2 -9 2 -22 2 -48 2 -52 2 62 2 -68 2 24 2 47 2 -19 2 -9 2 -2 2 -59 2 26 2 21 2 -141 2 161 2 -84 2 69 2 -25 2 27 2 -50 2 194 2 -111 2 6 2 -45 2 -79 2 16 2 23 2 -19 2 20 2 -51 2 -22 2 157 2 -116 2 167 2 -20 2 -24 2 30 2 -49 2 38 2 54 2 -79 2 28 2 -11 2 68 2 -47 2 -58 2 49 2 3 2 25 2 -20 2 30 2 -61 2 27 2 1 2 14 2 -32 2 -149 2 125 2 -35 2 35 2 -83 2 66 2 -60 2 231 2 -145 2 -14 2 -36 2 85 2 -26 2 -35 2 22 2 27 2 -108 2 70 2 -3 2 67 2 -72 2 6 2 34 2 3 2 46 2 -83 2 -7 2 39 2 56 2 -138 2 60 2 96 2 -81 2 61 2 85 2 -156 2 -177 2 156 2 74 2 -131 2 92 2 -142 2 87 2 -15 2 -38 2 31 2 27 2 -82 2 10 2 45 2 25 2 -9 2 -37 2 11 2 40 2 -64 2 54 2 14 2 -40 2 40 2 16 2 197 2 -184 2 -43 2 30 2 -23 2 -7 2 -33 2 204 2 -117 2 26 2 35 2 6 2 -56 2 -2 2 12 2 -30 2 25 2 -47 2 -125 2 145 2 19 2 -55 2 -19 2 -47 2 79 2 45 2 -59 2 22 2 -2 2 -25 2 80 2 -29 2 -35 2 -123 2 50 2 113 2 -85 2 64 2 -5 2 20 2 85 2 -107 2 17 2 21 2 11 2 12 2 -7 2 0 2 7 2 25 2 -9 2 -14 2 -18 2 -7 2 49 2 49 2 -45 2 70 2 -145 2 135 2 6 2 -85 2 75 2 -8 2 -114 2 126 2 -118 2 36 2 -4 2 70 2 -147 2 77 2 28 2 -19 2 -29 2 -125 2 97 2 112 2 -208 2 110 2 20 2 -80 2 -27 2 -56 2 47 2 76 2 52 2 36 2 -42 2 55 2 -31 2 -16 2 -2 2 -8 2 -76 2 119 2 -38 2 -123 2 111 2 -93 2 42 2 -14 2 37 2 -7 2 70 2 -104 2 119 2 -116 2 0 2 236 2 -44 2 24 2 -190 2 236 2 -108 2 -30 2 95 2 48 2 -78 2 -75 2 89 2 -55 2 13 2 -28 2 3 2 -11 2 -7 2 -49 2 -71 2 76 2 6 2 -44 2 15 2 -60 2 -82 2 69 2 -59 2 -35 2 184 2 -122 2 35 2 65 2 8 2 -99 2 4 2 117 2 -7 2 -91 2 160 2 -176 2 74 2 62 2 -114 2 43 2 -8 2 85 2 -43 2 80 2 -10 2 7 2 5 2 11 2 1 2 50 2 -57 2 9 2 -85 2 13 2 -16 2 2 2 36 2 -47 2 37 2 -69 2 72 2 -27 2 8 2 -44 2 -26 2 49 2 -72 2 28 2 8 2 34 2 7 2 15 2 -95 2 -13 2 68 2 -20 2 30 2 30 2 39 2 -8 2 -25 2 -49 2 111 2 -54 2 27 2 36 2 33 2 -37 2 43 2 -27 2 108 2 -52 2 -93 2 74 2 -17 2 -15 2 11 2 48 2 -55 2 -72 2 40 2 138 2 -136 2 36 2 -41 2 -49 2 77 2 -45 2 -100 2 65 2 30 2 -79 2 18 2 11 2 13 2 -88 2 38 2 26 2 -156 2 144 2 -10 2 10 2 31 2 -36 2 -26 2 39 2 -59 2 88 2 -106 2 10 2 91 2 27 2 -44 2 -46 2 57 2 -14 2 -3 2 -19 2 61 2 6 2 -21 2 5 2 88 2 85 2 -159 2 77 2 -21 2 1 2 -27 2 -36 2 23 2 -64 2 78 2 -32 2 60 2 -95 2 -39 2 168 2 -128 2 71 2 19 2 -65 2 -79 2 144 2 -160 2 -1 2 -1 2 -87 2 82 2 55 2 21 2 6 2 -128 2 142 2 24 2 24 2 -47 2 22 2 -43 2 -77 2 121 2 -8 2 33 2 15 2 -22 2 -14 2 16 2 -49 2 27 2 -61 2 -10 2 6 2 11 2 -28 2 59 2 -73 2 54 2 48 2 17 2 31 2 72 2 -57 2 9 2 -120 2 61 2 -45 2 -12 2 49 2 -55 2 52 2 -55 2 136 2 -48 2 -56 2 -39 2 33 2 -8 2 -84 2 26 2 43 2 -24 2 14 2 36 2 -8 2 38 2 -137 2 72 2 100 2 -71 2 1 2 -9 2 -182 2 43 2 1 2 59 2 6 2 -45 2 112 2 42 2 -66 2 -15 2 -8 2 126 2 -64 2 42 2 29 2 62 2 -100 2 39 2 94 2 -178 2 225 2 -110 2 111 2 -158 2 160 2 -143 2 -14 2 -7 2 -22 2 40 2 3 2 85 2 -3 2 -72 2 0 2 -75 2 59 2 -5 2 -58 2 14 2 7 2 55 2 -64 2 -6 2 77 2 31 2 -134 2 31 2 12 2 23 2 -64 2 -50 2 47 2 2 2 32 2 -3 2 -74 2 46 2 76 2 -47 2 18 2 -59 2 35 2 -154 2 191 2 -19 2 51 2 7 2 -1 2 -6 2 -8 2 13 2 -47 2 31 2 -29 2 23 2 165 2 -144 2 -17 2 12 2 33 2 -117 2 83 2 -53 2 56 2 -38 2 16 2 36 2 -113 2 -24 2 -11 2 1 2 29 2 82 2 -38 2 88 2 22 2 -56 2 88 2 -148 2 43 2 -75 2 80 2 -5 2 25 2 -13 2 -27 2 21 2 22 2 75 2 -86 2 -46 2 23 2 -11 2 19 2 49 2 -143 2 82 2 -11 2 -41 2 54 2 -140 2 108 2 -16 2 20 2 205 2 -132 2 -53 2 104 2 -29 2 10 2 -75 2 1 2 21 2 -45 2 36 2 76 2 -192 2 142 2 -45 2 13 2 40 2 -44 2 -131 2 86 2 65 2 -148 2 113 2 39 2 122 2 -185 2 16 2 14 2 89 2 -88 2 115 2 -124 2 4 2 24 2 5 2 34 2 41 2 -36 2 3 2 121 2 -99 2 4 2 -4 2 35 2 -55 2 -27 2 10 2 -1 2 19 2 0 2 5 2 -14 2 36 2 -15 2 -35 2 2 2 6 2 -25 2 58 2 -1 2 16 2 -57 2 13 2 -79 2 -66 2 163 2 36 2 -36 2 -3 2 37 2 -29 2 80 2 -76 2 17 2 5 2 16 2 -66 2 -7 2 -2 2 42 2 -17 2 37 2 -25 2 -19 2 51 2 -25 2 -6 2 66 2 -46 2 -33 2 20 2 -10 2 43 2 -66 2 83 2 -104 2 -101 2 -24 2 46 2 45 2 62 2 62 2 57 2 -64 2 -13 2 23 2 37 2 -40 2 10 2 6 2 34 2 -42 2 -51 2 -5 2 -18 2 70 2 140 2 -210 2 8 2 53 2 -45 2 -27 2 59 2 -63 2 37 2 -55 2 12 2 -25 2 26 2 -31 2 25 2 41 2 63 2 -8 2 -7 2 -7 2 -34 2 -67 2 58 2 79 2 29 2 -54 2 -54 2 -4 2 11 2 5 2 2 2 -1 2 -14 2 76 2 -138 2 45 2 35 2 -39 2 30 2 -61 2 31 2 -44 2 -3 2 16 2 34 2 -172 2 112 2 76 2 -23 2 3 2 28 2 -9 2 -39 2 -9 2 -58 2 36 2 -74 2 33 2 49 2 -14 2 4 2 12 2 33 2 -38 2 -6 2 -17 2 29 2 -28 2 0 2 -54 2 -7 2 14 2 75 2 -101 2 25 2 -17 2 -88 2 45 2 25 2 -18 2 -22 2 -63 2 85 2 28 2 -28 2 47 2 17 2 21 2 24 2 -12 2 2 2 53 2 45 2 -77 2 -21 2 -25 2 -37 2 63 2 22 2 34 2 4 2 15 2 -16 2 24 2 42 2 -29 2 -100 2 106 2 16 2 -30 2 -23 2 32 2 4 2 -177 2 -110 2 140 2 66 2 -84 2 80 2 -26 2 -48 2 -31 2 146 2 33 2 -21 2 14 2 -23 2 69 2 -60 2 -46 2 7 2 131 2 -131 2 -15 2 29 2 -29 2 -20 2 -3 2 -6 2 46 2 -130 2 137 2 -27 2 -68 2 -15 2 -3 2 82 2 -77 2 98 2 -26 2 -9 2 -36 2 120 2 -89 2 -37 2 43 2 51 2 -108 2 87 2 -41 2 38 2 3 2 53 2 -51 2 -17 2 14 2 -132 2 182 2 -47 2 41 2 -3 2 35 2 -61 2 164 2 -122 2 -67 2 80 2 -3 2 -30 2 8 2 2 2 -22 2 -31 2 -18 2 1 2 1 2 126 2 -86 2 -87 2 51 2 -38 2 44 2 -116 2 69 2 -61 2 105 2 -84 2 73 2 -20 2 -13 2 28 2 14 2 -16 2 24 2 -4 2 78 2 69 2 -154 2 40 2 159 2 -211 2 -25 2 84 2 58 2 -105 2 -27 2 178 2 -98 2 -38 2 97 2 -45 2 77 2 -36 2 -60 2 49 2 -66 2 15 2 48 2 -105 2 86 2 2 2 -25 2 -65 2 -3 2 -5 2 19 2 94 2 -17 2 -6" stroke="#008b00"/>
<path transform="translate(134 0) scale(.1)" d="M0 9803 l2 21 2 -15 2 21 2 -32 2 23 2 -71 2 109 2 -32 2 169 2 -191 2 -58 2 159 2 -116 2 -31 2 -71 2 130 2 -27 2 54 2 -14 2 -31 2 3 2 8 2 -76 2 -80 2 106 2 66 2 -71 2 -40 2 9 2 -4 2 91 2 -63 2 -23 2 -7 2 32 2 -25 2 67 2 -42 2 5 2 -59 2 38 2 44 2 136 2 -72 2 -27 2 -29 2 -70 2 4 2 8 2 82 2 -37 2 -39 2 31 2 13 2 100 2 32 2 -49 2 -31 2 121 2 -113 2 47 2 56 2 -10 2 -54 2 63 2 29 2 -4 2 -157 2 101 2 -54 2 107 2 -12 2 16 2 13 2 -87 2 39 2 -155 2 127 2 45 2 -113 2 90 2 -40 2 109 2 -115 2 13 2 -3 2 18 2 29 2 -24 2 -27 2 0 2 111 2 -248 2 149 2 69 2 -58 2 4 2 -165 2 50 2 62 2 -40 2 -51 2 103 2 -25 2 -47 2 87 2 45 2 24 2 -43 2 17 2 9 2 53 2 -96 2 104 2 -74 2 9 2 62 2 -98 2 129 2 -137 2 -23 2 -12 2 90 2 -9 2 -75 2 75 2 11 2 -16 2 11 2 -39 2 60 2 36 2 -57 2 -14 2 96 2 -203 2 93 2 -43 2 118 2 -96 2 69 2 -10 2 7 2 -56 2 121 2 5 2 -106 2 49 2 -15 2 -46 2 35 2 -40 2 -33 2 -71 2 97 2 -132 2 65 2 59 2 -100 2 141 2 -77 2 -32 2 21 2 87 2 37 2 -18 2 -39 2 108 2 -125 2 54 2 36 2 -38 2 22 2 5 2 -11 2 -40 2 -39 2 55 2 51 2 59 2 -58 2 -35 2 54 2 -40 2 -20 2 -78 2 93 2 0 2 10 2 73 2 -50 2 -25 2 37 2 -49 2 156 2 -38 2 26 2 -78 2 53 2 -15 2 187 2 -223 2 -86 2 172 2 11 2 0 2 -7 2 42 2 -29 2 141 2 -97 2 22 2 52 2 24 2 -8 2 -209 2 41 2 -30 2 86 2 67 2 -60 2 31 2 -48 2 214 2 -134 2 69 2 -58 2 -30 2 15 2 -36 2 105 2 -85 2 -41 2 -3 2 17 2 82 2 -68 2 -8 2 20 2 -76 2 68 2 27 2 -56 2 57 2 50 2 -2 2 109 2 -138 2 67 2 -103 2 33 2 34 2 -149 2 79 2 15 2 -185 2 240 2 -21 2 3 2 -34 2 65 2 -115 2 -16 2 -62 2 203 2 -87 2 -25 2 12 2 31 2 38 2 -139 2 59 2 5 2 46 2 -75 2 121 2 130 2 -61 2 -32 2 -45 2 64 2 -51 2 67 2 -35 2 59 2 -22 2 -247 2 195 2 -5 2 -78 2 -7 2 -55 2 126 2 59 2 -124 2 137 2 -175 2 70 2 -109 2 70 2 97 2 48 2 27 2 23 2 -21 2 -75 2 -34 2 52 2 -78 2 52 2 -148 2 66 2 14 2 -31 2 -3 2 205 2 -92 2 -110 2 46 2 -30 2 -69 2 143 2 -11 2 58 2 -49 2 -23 2 49 2 -51 2 38 2 -22 2 -86 2 72 2 63 2 -106 2 -35 2 51 2 179 2 -217 2 89 2 76 2 21 2 -100 2 50 2 -78 2 28 2 27 2 -31 2 -37 2 79 2 -13 2 97 2 -152 2 128 2 12 2 52 2 -72 2 -148 2 86 2 54 2 -22 2 107 2 -172 2 -6 2 -74 2 75 2 12 2 -36 2 71 2 -132 2 48 2 71 2 -1 2 -2 2 45 2 78 2 -108 2 -22 2 10 2 -68 2 185 2 80 2 -32 2 -24 2 -155 2 182 2 -88 2 0 2 -85 2 -17 2 123 2 -110 2 134 2 -74 2 -50 2 -45 2 46 2 5 2 132 2 -101 2 6 2 -18 2 -4 2 -64 2 169 2 -128 2 0 2 47 2 -106 2 199 2 -172 2 53 2 -86 2 -70 2 191 2 37 2 -133 2 -83 2 -48 2 27 2 15 2 65 2 -5 2 102 2 -30 2 -10 2 56 2 -53 2 58 2 -17 2 -85 2 111 2 -111 2 32 2 43 2 116 2 40 2 2 2 102 2 -104 2 -79 2 50 2 6 2 -74 2 -6 2 67 2 -99 2 42 2 92 2 -127 2 19 2 -139 2 116 2 48 2 -123 2 -151 2 98 2 26 2 -140 2 206 2 -130 2 30 2 82 2 29 2 5 2 -37 2 88 2 -61 2 -51 2 177 2 -114 2 -32 2 -91 2 -54 2 4 2 -79 2 155 2 1 2 3 2 46 2 -44 2 -14 2 -11 2 40 2 6 2 -78 2 -60 2 57 2 -116 2 200 2 -70 2 -60 2 123 2 -74 2 -49 2 -59 2 53 2 14 2 55 2 15 2 -31 2 73 2 -21 2 -80 2 57 2 23 2 47 2 -80 2 39 2 -26 2 203 2 -149 2 90 2 -78 2 -3 2 -29 2 54 2 61 2 -18 2 29 2 -66 2 116 2 25 2 -170 2 180 2 -146 2 -114 2 53 2 58 2 -126 2 55 2 -27 2 -41 2 -14 2 104 2 -128 2 -6 2 -15 2 -69 2 9 2 118 2 19 2 -5 2 39 2 -60 2 71 2 -46 2 39 2 95 2 50 2 35 2 -43 2 105 2 -16 2 4 2 -211 2 111 2 42 2 -184 2 244 2 -14 2 -39 2 -13 2 -30 2 -113 2 -49 2 55 2 78 2 -107 2 -36 2 27 2 155 2 -75 2 -52 2 78 2 -122 2 87 2 -24 2 -65 2 129 2 -74 2 58 2 -131 2 241 2 -265 2 178 2 -64 2 70 2 -23 2 178 2 -247 2 128 2 -56 2 -77 2 -100 2 37 2 174 2 -95 2 60 2 -55 2 41 2 -50 2 31 2 72 2 -155 2 53 2 61 2 -25 2 33 2 56 2 -46 2 84 2 -15 2 -69 2 53 2 -17 2 -26 2 35 2 25 2 114 2 55 2 15 2 -101 2 116 2 -130 2 54 2 -97 2 -109 2 66 2 -6 2 -118 2 121 2 -284 2 175 2 -12 2 -33 2 -56 2 -70 2 147 2 23 2 -81 2 -114 2 60 2 336 2 -241 2 1 2 46 2 1 2 -43 2 -108 2 232 2 26 2 -109 2 30 2 2 2 -59 2 84 2 -9 2 17 2 -188 2 196 2 -30 2 -37 2 156 2 -122 2 94 2 -34 2 31 2 -10 2 57 2 -91 2 9 2 -32 2 175 2 -123 2 66 2 -1 2 -8 2 70 2 -150 2 59 2 -31 2 -72 2 73 2 -132 2 -32 2 209 2 -113 2 -51 2 34 2 72 2 25 2 -50 2 -29 2 149 2 -137 2 -36 2 50 2 3 2 27 2 -172 2 108 2 -46 2 46 2 87 2 66 2 7 2 -219 2 -23 2 30 2 86 2 13 2 -109 2 66 2 48 2 -248 2 26 2 34 2 76 2 -45 2 -146 2 -32 2 105 2 15 2 94 2 -98 2 132 2 -29 2 91 2 -36 2 10 2 -20 2 -27 2 -8 2 19 2 -28 2 53 2 164 2 -177 2 83 2 87 2 -126 2 61 2 -78 2 83 2 8 2 7 2 -62 2 21 2 -41 2 -147 2 32 2 14 2 -84 2 133 2 -79 2 156 2 -87 2 73 2 -145 2 72 2 -9 2 103 2 -81 2 1 2 -6 2 -87 2 -37 2 23 2 -11 2 -8 2 94 2 -125 2 76 2 -10 2 -82 2 79 2 14 2 -9 2 23 2 -65 2 50 2 -35 2 51 2 -47 2 65 2 43 2 -61 2 -59 2 25 2 -52 2 147 2 22 2 -46 2 68 2 -75 2 76 2 -19 2 -5 2 -112 2 7 2 27 2 10 2 -198 2 90 2 48 2 17 2 -6 2 -20 2 52 2 -105 2 -38 2 127 2 -140 2 56 2 -58 2 47 2 -6 2 -79 2 43 2 9 2 -61 2 -2 2 18 2 -16 2 63 2 -12 2 -29 2 -35 2 72 2 56 2 -37 2 -131 2 53 2 -29 2 34 2 84 2 -53 2 -2 2 84 2 34 2 35 2 -1 2 -240 2 153 2 7 2 -44 2 114 2 -123 2 89 2 -41 2 23 2 -80 2 -110 2 -30 2 -21 2 -12 2 -61 2 -273 2 93 2 -29 2 -61 2 -22 2 140 2 34 2 -134 2 76 2 55 2 62 2 80 2 4 2 -147 2 410 2 -141 2 90 2 16 2 6 2 -109 2 -28 2 158 2 -145 2 -32 2 37 2 -30 2 2 2 -30 2 46 2 -24 2 217 2 -26 2 -83 2 105 2 -181 2 -67 2 211 2 -176 2 131 2 -113 2 125 2 -57 2 104 2 -216 2 153 2 -120 2 89 2 -7 2 -63 2 136 2 -38 2 14 2 111 2 -208 2 58 2 -233 2 242 2 -48 2 31 2 -59 2 60 2 -21 2 -4 2 34 2 74 2 -104 2 68 2 -145 2 -106 2 117 2 60 2 -33 2 49 2 -76 2 -44 2 74 2 -49 2 -21 2 -54 2 154 2 -25 2 -99 2 194 2 -54 2 -31 2 17 2 20 2 -124 2 155 2 -131 2 61 2 103 2 -108 2 -4 2 20 2 -46 2 -33 2 31 2 56 2 -161 2 -2 2 190 2 -9 2 -91 2 27 2 -144 2 146 2 52 2 130 2 -175 2 123 2 68 2 -80 2 -48 2 -35 2 128 2 -8 2 -234 2 241 2 146 2 -185 2 -34 2 -33 2 4 2 13 2 -71 2 91 2 -81 2 5 2 -118 2 -96 2 145 2 -11 2 34 2 57 2 74 2 -37 2 -25 2 37 2 -227 2 89 2 23 2 156 2 -227 2 188 2 14 2 -77 2 -33 2 -142 2 87 2 -9 2 -77 2 110 2 -46 2 67 2 -67 2 188 2 -70 2 -19 2 -114 2 135 2 114 2 -45 2 97 2 11 2 -119 2 82 2 -71 2 -15 2 112 2 -70 2 -105 2 249 2 -215 2 42 2 -35 2 -77 2 267 2 -127 2 74 2 -199 2 51 2 -68 2 11 2 76 2 108 2 -246 2 100 2 83 2 34 2 3 2 -21 2 -67 2 14 2 6 2 -47 2 190 2 5 2 -84 2 51 2 -151 2 107 2 -44 2 -102 2 -23 2 66 2 151 2 -26 2 -41 2 -41 2 20 2 -115 2 128 2 -104 2 201 2 -325 2 133 2 -112 2 17 2 223 2 -107 2 80 2 72 2 20 2 -17 2 -8 2 65 2 -191 2 67 2 29 2 -90 2 -117 2 -17 2 195 2 -98 2 -73 2 30 2 85 2 -40 2 24 2 56 2 -72 2 39 2 0 2 12 2 51 2 111 2 -223 2 53 2 -92 2 104 2 -41 2 -19 2 -58 2 157 2 -97 2 18 2 113 2 -109 2 157 2 -102 2 108 2 -127 2 34 2 -215 2 145 2 22 2 5 2 112 2 -167 2 71 2 25 2 -118 2 28 2 46 2 -128 2 172 2 -12 2 -47 2 -37 2 -11 2 -51 2 181 2 -294 2 65 2 -136 2 48 2 253 2 84 2 -153 2 63 2 70 2 -68 2 -12 2 7 2 0 2 128 2 46 2 -143 2 16 2 194 2 -206 2 -25 2 -59 2 -62 2 -38 2 60 2 137 2 -12 2 -59 2 -25 2 183 2 -197 2 -147 2 192 2 -7 2 -50 2 -23 2 149 2 -132 2 80 2 -5 2 -26 2 38 2 33 2 -69 2 40 2 -133 2 51 2 -57 2 36 2 -1 2 -11 2 94 2 -9 2 1 2 -121 2 58 2 44 2 89 2 -112 2 1 2 210 2 -261 2 70 2 -3 2 -20 2 72 2 37 2 -8 2 148 2 -63 2 -3 2 99 2 -188 2 -18 2 -12 2 -78 2 110 2 -59 2 -60 2 44 2 -33 2 -36 2 -28 2 39 2 -29 2 36 2 -30 2 100 2 25 2 48 2 -64 2 -78 2 32 2 27 2 -20 2 -248 2 220 2 85 2 19 2 66 2 -32 2 -49 2 -103 2 122 2 -102 2 56 2 43 2 59 2 -66 2 20 2 26 2 -251 2 145 2 131 2 -92 2 27 2 66 2 -60 2 23 2 -79 2 38 2 46 2 -149 2 -151 2 170 2 35 2 -176 2 -12 2 -63 2 180 2 -79 2 38 2 91 2 -44 2 36 2 69 2 -15 2 20 2 -89 2 219 2 -70 2 138 2 -229 2 14 2 48 2 -90 2 108 2 86 2 -6 2 -59 2 18 2 35 2 154 2 -115 2 -103 2 -270 2 362 2 -138 2 89 2 40 2 -149 2 151 2 -267 2 97 2 95 2 -108 2 101 2 -96 2 30 2 -94 2 100 2 -72 2 74 2 13 2 -163 2 147 2 -44 2 -85 2 45 2 12 2 -79 2 156 2 -54 2 101 2 -26 2 -74 2 22 2 156 2 -27 2 26 2 -25 2 -49 2 57 2 -7 2 33 2 84 2 124 2 -125 2 -107 2 54 2 -35 2 17 2 -13 2 -39 2 -72 2 24 2 -51 2 121 2 -121 2 10 2 30 2 0 2 -28 2 56 2 -5 2 -38 2 72 2 -111 2 27 2 269 2 23 2 -52 2 -52 2 -22 2 52 2 5 2 71 2 -205 2 29 2 -28 2 94 2 -180 2 47 2 71 2 -21 2 -98 2 33 2 -58 2 29 2 26 2 -49 2 -4 2 4 2 -180 2 70 2 104 2 -29 2 26 2 130 2 -63 2 46 2 9 2 -75 2 53 2 -52 2 -11 2 32 2 -199 2 318 2 -70 2 -106 2 47 2 6 2 38 2 -109 2 73 2 19 2 26 2 -108 2 165 2 7 2 69 2 -63 2 4 2 94 2 -83 2 -3 2 -74 2 164 2 -135 2 78 2 5 2 -90 2 -55 2 -1 2 -71 2 180 2 -72 2 -146 2 11 2 8 2 55 2 16 2 -69 2 -9 2 -36 2 -76 2 -55 2 103 2 117 2 9 2 14 2 12 2 -136 2 170 2 44 2 -64 2 77 2 -158 2 199 2 -54 2 44 2 -72 2 40 2 -24 2 -90 2 -54 2 108 2 -97 2 10 2 81 2 -89 2 153 2 -98 2 4 2 -99 2 -125 2 271 2 -56 2 9 2 60 2 -113 2 40 2 34 2 -51 2 11 2 -106 2 128 2 14 2 -79 2 74 2 76 2 -54 2 4 2 19 2 -30 2 96 2 -81 2 111 2 -127 2 101 2 -93 2 -46 2 11 2 -26 2 17 2 239 2 -279 2 69 2 -65 2 83 2 -26 2 23 2 8 2 113 2 -208 2 -26 2 161 2 -63 2 -31 2 152 2 -87 2 -107 2 24 2 79 2 -155 2 157 2 -106 2 138 2 -6 2 65 2 -86 2 10 2 -127 2 77 2 -26 2 33 2 -29 2 -52 2 13 2 9 2 31 2 -35 2 67 2 6 2 -13 2 -20 2 -4 2 -45 2 -35 2 6 2 9 2 -67 2 110 2 -29 2 -138 2 117 2 55 2 -29 2 -1 2 -21 2 -8 2 209 2 -277 2 66 2 148 2 -5 2 -16 2 50 2 -4 2 -58 2 72 2 69 2 -45 2 -63 2 136 2 -151 2 -21 2 79 2 3 2 -145 2 -80 2 251 2 -130 2 -13 2 -89 2 44 2 22 2 109 2 -103 2 1 2 35 2 27 2 -1 2 -91 2 9 2 -79 2 83 2 57 2 91 2 -168 2 51 2 -41 2 39 2 -10 2 -127 2 59 2 -93 2 68 2 2 2 -22 2 49 2 12 2 -8 2 -27 2 13 2 74 2 -12 2 -76 2 23 2 52 2 56 2 -20 2 -145 2 55 2 122 2 92 2 -78 2 44 2 91 2 -91 2 42 2 -131 2 -43 2 48 2 -6 2 -120 2 55 2 124 2 -55 2 108 2 -42 2 27 2 -49 2 24 2 -50 2 -80 2 107 2 -74 2 14 2 -45 2 180 2 -138 2 -50 2 -78 2 54 2 -6 2 27 2 84 2 -43 2 5 2 41 2 -197 2 270 2 -64 2 -37 2 -33 2 164 2 111 2 -213 2 119 2 -87 2 119 2 -57 2 -11 2 -13 2 8 2 28 2 -281 2 257 2 -117 2 151 2 -46 2 -68 2 84 2 71 2 -52 2 -67 2 -6 2 61 2 -58 2 2 2 -111 2 54 2 -43 2 25 2 -124 2 125 2 63 2 -56 2 26 2 8 2 -52 2 174 2 -126 2 -2 2 72 2 -7 2 -83 2 97 2 -23 2 44 2 -50 2 44 2 -53 2 81 2 -57 2 168 2 -104 2 85 2 -130 2 41 2 -7 2 -15 2 -73 2 14 2 -70 2 123 2 107 2 -62 2 -25 2 90 2 -160 2 -106 2 173 2 0 2 11 2 -8 2 -63 2 -20 2 122 2 158 2 -219 2 43 2 -23 2 38 2 14 2 -124 2 68 2 10 2 65 2 4 2 -86 2 90 2 -113 2 18 2 -43 2 -110 2 177 2 -29 2 -20 2 24 2 53 2 -53 2 85 2 -162 2 10 2 3 2 147 2 -125 2 -145 2 128 2 87 2 -29 2 -9 2 -75 2 15 2 74 2 56 2 -14 2 -54 2 135 2 -158 2 60 2 -51 2 -11 2 72 2 114 2 -69 2 -59 2 -97 2 35 2 -10 2 41 2 175 2 -114 2 35 2 -159 2 119 2 -40 2 46 2 176 2 -279 2 66 2 29 2 141 2 -177 2 -58 2 3 2 -11 2 36 2 37 2 -36 2 107 2 -83 2 -29 2 151 2 -35 2 -71 2 24 2 102 2 -53 2 -16 2 -51 2 -77 2 129 2 51 2 15 2 -9 2 27 2 -18 2 -10 2 -49 2 3 2 -57 2 149 2 -55 2 101 2 35 2 -146 2 41 2 -20 2 58 2 34 2 -31 2 -102 2 -38 2 -103 2 -24 2 88 2 -35 2 23 2 -21 2 172 2 -67 2 -55 2 -16 2 61 2 -62 2 129 2 -24 2 -77 2 -23 2 -94 2 124 2 -24 2 93 2 10 2 34 2 62 2 -94 2 -92 2 88 2 -53 2 -9 2 -30 2 75 2 107 2 -81 2 8 2 -8 2 53 2 -61 2 -131 2 209 2 -128 2 100 2 49 2 -201 2 -15 2 38 2 112 2 -36 2 -65 2 98 2 -88 2 159 2 -104 2 -47 2 10 2 -31 2 -80 2 31 2 11 2 257 2 -235 2 -75 2 113 2 44 2 130 2 -104 2 21 2 14 2 -55 2 -175 2 47 2 72 2 -73 2 -25 2 -85 2 136 2 -80 2 -65 2 95 2 54 2 -44 2 -11 2 114 2 -159 2 117 2 4 2 124 2 -49 2 -88 2 -30 2 52 2 82 2 -11 2 57 2 -39 2 82 2 -231 2 159 2 102 2 22 2 -21 2 3 2 -69 2 2 2 -41 2 -30 2 121 2 -51 2 35 2 -92 2 -90 2 180 2 -40 2 -10 2 -92 2 175 2 -196 2 64 2 -90 2 -20 2 54 2 -49 2 89 2 -56 2 58 2 10 2 -2 2 44 2 -58 2 -159 2 85 2 -49 2 20 2 24 2 -16 2 -53 2 71 2 -10 2 52 2 -107 2 133 2 113 2 -36 2 59 2 -144 2 99 2 -5 2 -179 2 152 2 -65 2 -72 2 129 2 -87 2 -45 2 67 2 -13 2 -25 2 -22 2 95 2 3 2 -68 2 -62 2 64 2 89 2 -45 2 -46 2 13 2 -12 2 -38 2 139 2 -225 2 113 2 119 2 -44 2 -96 2 65 2 50 2 -17 2 -89 2 -98 2 149 2 22 2 148 2 -98 2 18 2 -28 2 72 2 -65 2 -38 2 23 2 -38 2 2 2 99 2 -42 2 116 2 -33 2 54 2 -154 2 69 2 41 2 45 2 -399 2 284 2 -15 2 -42 2 54 2 -36 2 10 2 -22 2 13 2 -27 2 -149 2 154 2 13 2 -13 2 -27 2 60 2 -45 2 -30 2 15 2 -32 2 -29 2 51 2 121 2 105 2 -108 2 -92 2 91 2 -31 2 -58 2 117 2 -110 2 56 2 15 2 -11 2 27 2 -204 2 160 2 -36 2 162 2 -69 2 63 2 -136 2 62 2 -55 2 -25 2 129 2 -159 2 10 2 -60 2 37 2 -45 2 30 2 -27 2 -24 2 -18 2 37 2 -27 2 22 2 14 2 23 2 -1 2 -53 2 105 2 -24 2 -43 2 -47 2 58 2 76 2 -114 2 106 2 -8 2 -40 2 -11 2 60 2 -50 2 20 2 20 2 -93 2 136 2 15 2 -37 2 20 2 -42 2 42 2 -132 2 268 2 -139 2 -24 2 -153 2 189 2 -64 2 78 2 -68 2 -23 2 131 2 5 2 -28 2 -96 2 -114 2 133 2 19 2 36 2 -118 2 -8 2 183 2 -86 2 17 2 -124 2 149 2 -131 2 130 2 -20 2 -48 2 -12 2 -84 2 -169 2 196 2 -141 2 125 2 -24 2 -48 2 58 2 -190 2 204 2 149 2 -202 2 28 2 42 2 -63 2 91 2 -76 2 -111 2 271 2 18 2 -164 2 -32 2 102 2 104 2 -105 2 -115 2 248 2 -220 2 42 2 70 2 4 2 29 2 175 2 -237 2 40 2 34 2 10 2 -5 2 -36 2 -64 2 74 2 38 2 -59 2 -76 2 -24 2 48 2 -9 2 25 2 -138 2 202 2 70 2 8 2 -167 2 -153 2 212 2 7 2 -69 2 13 2 -39 2 49 2 83 2 -231 2 266 2 83 2 -96 2 15 2 18 2 -3 2 27 2 -303 2 142 2 43 2 112 2 -273 2 -51 2 -28 2 60 2 126 2 -48 2 110 2 -120 2 96 2 -30 2 0 2 159 2 43 2 -83 2 -65 2 38 2 -85 2 10 2 19 2 -17 2 65 2 31 2 8 2 -110 2 140 2 -87 2 19 2 -114 2 125 2 5 2 -45 2 84 2 -52 2 -22 2 45 2 -46 2 10 2 1 2 -151 2 238 2 -147 2 -14 2 22 2 -4 2 -33 2 138 2 -81 2 -58 2 5 2 -14 2 -13 2 1 2 -60 2 153 2 -2 2 106 2 -47 2 -40 2 32 2 -72 2 60 2 -177 2 116 2 -55 2 153 2 -136 2 -39 2 10 2 8 2 40 2 -69 2 54 2 44 2 -158 2 207 2 -163 2 152 2 -90 2 36 2 -78 2 -123 2 120 2 -23 2 32 2 77 2 -8 2 -86 2 34 2 98 2 -58 2 -6 2 74 2 -310 2 110 2 -59 2 54 2 -217 2 83 2 108 2 -45 2 99 2 -152 2 44 2 50 2 -103 2 48 2 85 2 130 2 -80 2 -128 2 -8 2 39 2 -129 2 206 2 -51 2 -10 2 -25 2 47 2 59 2 -7 2 -65 2 72 2 151 2 -6 2 -109 2 -33 2 -69 2 125 2 42 2 -96 2 61 2 -65 2 -63 2 153 2 -24 2 -101 2 44 2 30 2 -129 2 0 2 43 2 1 2 -1 2 -27 2 -31 2 4 2 -25 2 5 2 -28 2 198 2 -260 2 209 2 -83 2 82 2 -53 2 83 2 -41 2 -3 2 -6 2 -57 2 80 2 -139 2 93 2 -60 2 41 2 -13 2 -15 2 -17 2 59 2 26 2 16 2 17 2 10 2 12 2 -33 2 6 2 23 2 41 2 -107 2 39 2 -63 2 65 2 -17 2 60 2 -44 2 28 2 -96 2 73 2 -39 2 103 2 33 2 -108 2 23 2 -87 2 -36 2 12 2 -34 2 38 2 11 2 -24 2 46 2 79 2 -210 2 374 2 -171 2 -121 2 94 2 8 2 -71 2 77 2 -17 2 12 2 -8 2 115 2 -94 2 -41 2 62 2 -27 2 -98 2 85 2 -46 2 154 2 -141 2 116 2 -130 2 28 2 -30 2 -57 2 242 2 -128 2 -25 2 -9 2 -60 2 13 2 9 2 -44 2 -68 2 113 2 -21 2 16 2 3 2 56 2 -108 2 -20 2 46 2 28 2 -151 2 16 2 16 2 14 2 -148 2 217 2 -95 2 -90 2 -44 2 142 2 -25 2 90 2 -77 2 49 2 -42 2 70 2 20 2 -119 2 129 2 -106 2 59 2 56 2 -58 2 104 2 -82 2 23 2 -70 2 108 2 -31 2 40 2 -30 2 -25 2 -45 2 12 2 -57 2 -151 2 163 2 -55 2 74 2 -84 2 -33 2 38 2 81 2 -47 2 42 2 49 2 -68 2 -10 2 -193 2 248 2 -86 2 166 2 -160 2 57 2 11 2 -44 2 71 2 2 2 91 2 -111 2 11 2 -13 2 -9 2 -11 2 12 2 7 2 -63 2 25 2 -56 2 125 2 -117 2 40 2 -14 2 -5 2 -2 2 -16 2 32 2 13 2 14 2 -29 2 -7 2 110 2 -173 2 117 2 55 2 5 2 7 2 38 2 -52 2 -14 2 -67 2 -25 2 58 2 1 2 -41 2 12 2 90 2 -159 2 59 2 72 2 -141 2 55 2 22 2 98 2 22 2 -118 2 74 2 -12 2 85 2 -2 2 -31 2 -19 2 -11 2 -57 2 -18 2 74 2 -32 2 3 2 33 2 -5 2 -12 2 10 2 -38 2 -68 2 92 2 58 2 -150 2 125 2 -97 2 -21 2 31 2 -116 2 115 2 -5 2 -63 2 80 2 120 2 3 2 -50 2 -5 2 9 2 -68 2 199 2 -167 2 43 2 -53 2 34 2 19 2 44 2 -35 2 -8 2 197 2 -155 2 -13 2 -11 2 64 2 -66 2 -160 2 196 2 6 2 -57 2 -56 2 48 2 30 2 -96 2 4 2 94 2 -88 2 90 2 -4 2 -24 2 -105 2 114 2 15 2 -31 2 1 2 32 2 46 2 -31 2 14 2 15 2 -57 2 47 2 -94 2 8 2 127 2 -12 2 -65 2 72 2 95 2 -65 2 8 2 8 2 -17 2 33 2 16 2 -66 2 56 2 8 2 -59 2 2 2 -10 2 -45 2 -11 2 77 2 -100 2 6 2 40 2 7 2 -25 2 -127 2 148 2 -14 2 -91 2 37 2 -29 2 -42 2 122 2 0 2 -96 2 116 2 -36 2 28 2 21 2 -106 2 237 2 97 2 -159 2 -22 2 178 2 8 2 1 2 -54 2 9 2 28 2 21 2 -120 2 -38 2 74 2 20 2 -141 2 39 2 -171 2 142 2 -128 2 133 2 -70 2 57 2 -39 2 -35 2 -15 2 38 2 -12 2 -5 2 -6 2 32 2 23 2 38 2 -140 2 134 2 -9 2 22 2 11 2 56 2 5 2 -33 2 31 2 -21 2 -59 2 -58 2 6 2 -13 2 -20 2 89 2 -86 2 111 2 -1 2 37 2 -18 2 16 2 32 2 -37 2 -41 2 40 2 20 2 73 2 -21 2 -129 2 42 2 -27 2 33 2 -121 2 234 2 -150 2 -26 2 12 2 -66 2 35 2 41 2 -9 2 55 2 -18 2 43 2 1 2 -14 2 -39 2 -42 2 66 2 -166 2 54 2 7 2 85 2 -75 2 9 2 -49 2 50 2 -18 2 6 2 48 2 3 2 -40 2 51 2 -46 2 29 2 28 2 -55 2 9 2 -41 2 20 2 17 2 -32 2 26 2 -7 2 23 2 -60 2 23 2 -10 2 143 2 -135 2 44 2 -28 2 -12 2 92 2 -15 2 126 2 -132 2 -17 2 28 2 -34 2 12 2 -143 2 66 2 46 2 -75 2 100 2 22 2 -46 2 -21 2 -26 2 -59 2 36 2 44 2 -48 2 220 2 -182 2 14 2 0 2 -51 2 -14 2 73 2 -64 2 -94 2 -1 2 -54 2 29 2 84 2 -10 2 -7 2 -125 2 64 2 33 2 12 2 -5 2 -8 2 83 2 28 2 -18 2 3 2 22 2 -8 2 44 2 0 2 -47 2 77 2 -13 2 -10 2 -1 2 -83 2 55 2 30 2 13 2 22 2 -29 2 33 2 -9 2 -64 2 -45 2 -29 2 -26 2 36 2 74 2 -71 2 -24 2 49 2 22 2 -80 2 128 2 -14 2 -98 2 114 2 -9 2 8 2 -57 2 -35 2 16 2 38 2 -5 2 14 2 -33 2 -22 2 65 2 -10 2 -17 2 16 2 -37 2 149 2 -23 2 66 2 -6 2 -43 2 -60 2 42 2 136 2 -99 2 -69 2 53 2 -87 2 -29 2 70 2 -77 2 25 2 -11 2 55 2 -23 2 52 2 -15 2 -43 2 1 2 20 2 75 2 -100 2 119 2 -36 2 -33 2 -30 2 10 2 -17 2 -11 2 1 2 -146 2 189 2 -125 2 -28 2 94 2 30 2 -60 2 -18 2 -39 2 1 2 31 2 160 2 -117 2 -155 2 0 2 150 2 -65 2 85 2 -15 2 19 2 -31 2 -6 2 -90 2 196 2 -25 2 -46 2 47 2 25 2 -14 2 15 2 1 2 -49 2 176 2 28 2 14 2 -42 2 15 2 -48 2 47 2 -78 2 16 2 72 2 -37 2 -13 2 -82 2 -32 2 7 2 -26 2 -66 2 -25 2 34 2 26 2 23 2 -102 2 53 2 49 2 -58 2 -6 2 -5 2 18 2 -13 2 -58 2 93 2 -35 2 -19 2 -6 2 63 2 -58 2 92 2 -20 2 -59 2 106 2 -101 2 47 2 -13 2 49 2 55 2 43 2 -70 2 11 2 2 2 36 2 -13 2 -112 2 114 2 -15 2 -13 2 38 2 6 2 48 2 -131 2 54 2 -23 2 -66 2 66 2 -12 2 -48 2 -18 2 55 2 16 2 -26 2 0 2 -18 2 -38 2 90 2 28 2 -43 2 48 2 -76 2 16 2 30 2 -63 2 6 2 27 2 -6 2 8 2 -4 2 2 2 77 2 26 2 39 2 -129 2 59 2 -50 2 182 2 -120 2 -77 2 72 2 -131 2 14 2 92 2 -52 2 1 2 51 2 -25 2 37 2 11 2 -60 2 18 2 -28 2 133 2 -14 2 -143 2 120 2 -75 2 28 2 -72 2 -13 2 49 2 -4 2 25 2 -69 2 -113 2 20 2 49 2 111 2 -71 2 54 2 2 2 54 2 -29 2 -17 2 -19 2 24 2 -29 2 2 2 -80 2 20 2 91 2 -41 2 30 2 22 2 40 2 -25 2 -33 2 25 2 41 2 48 2 -9 2 -33 2 -23 2 82 2 -74 2 -68 2 25 2 16 2 85 2 25 2 -80 2 63 2 -31 2 21 2 -36 2 -10 2 -43 2 -45 2 17 2 48 2 1 2 12 2 -67 2 105 2 -27 2 20 2 -104 2 40 2 -13 2 30 2 -32 2 56 2 14 2 -61 2 90 2 -137 2 58 2 -38 2 -148 2 -14 2 85 2 -32 2 25 2 79 2 -36 2 82 2 9 2 -103 2 144 2 -52 2 -21 2 -12 2 19 2 -6 2 -21 2 -18 2 72 2 -40 2 59 2 -111 2 9 2 40 2 -48 2 -2 2 71 2 -92 2 96 2 26 2 -66 2 6 2 20 2 87 2 -86 2 54 2 -32 2 3 2 28 2 36 2 137 2 -111 2 20 2 34 2 -60 2 115 2 -43 2 -55 2 27 2 50 2 -26 2 -69 2 -7 2 20 2 -3 2 -2 2 71 2 -183 2 56 2 -122 2 61 2 -40 2 7 2 33 2 -25 2 -19 2 -110 2 -27 2 52 2 24 2 -10 2 49 2 -38 2 1 2 68 2 11 2 -117 2 -37 2 37 2 71 2 70 2 -11 2 -17 2 58 2 45 2 -71 2 89 2 5 2 -28 2 -11 2 29 2 25 2 -56 2 -69 2 85 2 62 2 -90 2 -21 2 2 2 -16 2 -2 2 -21 2 24 2 -28 2 -61 2 78 2 -52 2 -25 2 19 2 -48 2 -6 2 11 2 62 2 19 2 37 2 -73 2 88 2 -103 2 35 2 11 2 -111 2 34 2 71 2 82 2 -38 2 -65 2 95 2 -5 2 -9 2 27 2 32 2 -25 2 -160 2 101 2 -3 2 -25 2 -29 2 110 2 -52 2 1 2 -81 2 73 2 -90 2 190 2 -50 2 6 2 -71 2 78 2 -90 2 -36 2 -10 2 -54 2 112 2 67 2 -104 2 -60 2 -29 2 76 2 83 2 4 2 31 2 -62 2 10 2 64 2 -57 2 -6 2 47 2 -273 2 174 2 28 2 -61 2 79 2 -42 2 27 2 -53 2 35 2 48 2 14 2 21 2 -238 2 222 2 128 2 -210 2 150 2 -112 2 -95 2 30 2 3 2 107 2 -126 2 28 2 10 2 25 2 22 2 -73 2 89 2 16 2 -12 2 -36 2 3 2 -2 2 -23 2 47 2 74 2 -71 2 61 2 66 2 -93 2 100 2 -70 2 -57 2 -32 2 -22 2 -9 2 -71 2 16 2 40 2 -71 2 8 2 -36 2 13 2 74 2 2 2 -15 2 102 2 -75 2 26 2 42 2 51 2 -135 2 117 2 66 2 2 2 58 2 -135 2 -87 2 255 2 -91 2 -34 2 -69 2 16 2 54 2 -83 2 13 2 14 2 -142 2 66 2 -8 2 42 2 -6 2 71 2 10 2 94 2 -152 2 -19 2 -28 2 70 2 -67 2 -48 2 8 2 68 2 -20 2 53 2 -30 2 57 2 8 2 -13 2 56 2 -110 2 33 2 -19 2 -27 2 -102 2 116 2 60 2 -91 2 119 2 -31 2 -48 2 56 2 11 2 -60 2 47 2 67 2 -8 2 -29 2 -57 2 118 2 -52 2 -9 2 -84 2 131 2 -97 2 120 2 -127 2 -56 2 64 2 -35 2 -165 2 26 2 72 2 4 2 44 2 -2 2 -13 2 9 2 26 2 100 2 -128 2 112 2 -29 2 -63 2 -12 2 -9 2 37 2 13 2 -50 2 95 2 23 2 7 2 57 2 -89 2 31 2 -46 2 145 2 -80 2 5 2 -5 2 -25 2 19 2 -41 2 -22 2 45 2 72 2 -50 2 -11 2 -8 2 -103 2 111 2 -112 2 93 2 -16 2 -62 2 46 2 -59 2 -101 2 146 2 9 2 -5 2 5 2 10 2 -57 2 24 2 112 2 -33 2 -6 2 -53 2 71 2 -24 2 -26 2 46 2 11 2 9 2 -72 2 20 2 36 2 -22 2 -21 2 65 2 -34 2 26 2 -59 2 75 2 -89 2 -52 2 76 2 -2 2 -4 2 54 2 -114 2 32 2 -34 2 68 2 66 2 -4 2 -68 2 172 2 -122 2 -7 2 -81 2 16 2 -26 2 64 2 113 2 -128 2 -102 2 104 2 8 2 -221 2 95 2 -22 2 5 2 33 2 51 2 -4 2 25 2 -71 2 -17 2 117 2 13 2 -51 2 25 2 -27 2 26 2 91 2 -88 2 -38 2 64 2 50 2 -76 2 23 2 17 2 -182 2 99 2 53 2 -112 2 33 2 127 2 -21 2 -25 2 25 2 -163 2 110 2 -23 2 -40 2 92 2 -11 2 -146 2 143 2 32 2 -56 2 -2 2 15 2 5 2 77 2 -92 2 -20 2 -63 2 62 2 65 2 -169 2 116 2 45 2 -110 2 56 2 50 2 -165 2 142 2 53 2 -76 2 18 2 1 2 -41 2 -25 2 86 2 -82 2 27 2 -17 2 47 2 96 2 -101 2 -39 2 118 2 -101 2 67 2 -76 2 44 2 83 2 11 2 -77 2 20 2 -97 2 82 2 -28 2 -148 2 151 2 83 2 -88 2 -56 2 14 2 25 2 146 2 -191 2 -6 2 152 2 -113 2 -22 2 31 2 7 2 -23 2 30 2 -45 2 -14 2 -55 2 100 2 -55 2 -44 2 136 2 1 2 -14 2 20 2 -118 2 35 2 59 2 -36 2 -15 2 25 2 68 2 137 2 -47 2 -56 2 90 2 -126 2 -91 2 -97 2 140 2 22 2 -40 2 -21 2 19 2 -91 2 150 2 -49 2 -14 2 5 2 89 2 -75 2 45 2 -97 2 -20 2 119 2 -74 2 46 2 -44 2 -38 2 -42 2 19 2 32 2 19 2 59 2 -60 2 35 2 -51 2 41 2 29 2 67 2 -61 2 -55 2 16 2 -20 2 100 2 -145 2 24 2 -31 2 85 2 -28 2 66 2 -67 2 32 2 56 2 48 2 -153 2 23 2 0 2 57 2 21 2 -5 2 -8 2 -53 2 42 2 22 2 75 2 -61 2 -19 2 -88 2 5 2 2 2 -9 2 -20 2 15 2 52 2 17 2 -54 2 -86 2 16 2 66 2 34 2 56 2 -71 2 -33 2 93 2 -60 2 -49 2 76 2 -32 2 37 2 -124 2 150 2 -48 2 14 2 23 2 -14 2 -45 2 28 2 -35 2 -25 2 36 2 21 2 21 2 -145 2 228 2 -112 2 -4 2 -17 2 -30 2 8 2 -19 2 -7 2 -29 2 76 2 29 2 29 2 -180 2 116 2 -12 2 31 2 25 2 -10 2 -16 2 88 2 -111 2 56 2 -91 2 69 2 1 2 47 2 -31 2 106 2 -127 2 16 2 59 2 16 2 12 2 -29 2 46 2 -90 2 61 2 -113 2 59 2 -11 2 34 2 -50 2 41 2 -6 2 -55 2 -30 2 90 2 43 2 -85 2 -28 2 3 2 -86 2 61 2 -38 2 41 2 27 2 10 2 -138 2 7 2 80 2 -8 2 43 2 -19 2 130 2 -54 2 16 2 24 2 38 2 -50 2 -99 2 189 2 -108 2 -22 2 87 2 0 2 -71 2 88 2 -41 2 6 2 1 2 -13 2 117 2 -118 2 19 2 -80 2 59 2 -1 2 -68 2 -22 2 -7 2 -3 2 56 2 -84 2 99 2 5 2 -16 2 -57 2 -3 2 51 2 -41 2 -27 2 138 2 -139 2 63 2 1 2 97 2 -68 2 -20 2 -105 2 105 2 12 2 -32 2 -35 2 33 2 -15 2 9 2 -68 2 65 2 14 2 71 2 -5 2 72 2 -134 2 -46 2 95 2 -68 2 143 2 -136 2 63 2 -57 2 -171 2 104 2 -50 2 139 2 65 2 -16 2 18 2 -37 2 53 2 -18 2 102 2 32 2 -45 2 -45 2 4 2 -63 2 157 2 -76 2 -58 2 -97 2 35 2 36 2 -72 2 45 2 27 2 -67 2 82 2 -42 2 -24 2 19 2 -85 2 78 2 29 2 -91 2 24 2 63 2 -45 2 7 2 138 2 -125 2 5 2 -149 2 125 2 42 2 -81 2 19 2 47 2 -38 2 -1 2 -6 2 -86 2 -12 2 55 2 55 2 10 2 32 2 -101 2 42 2 5 2 -3 2 -1 2 41 2 -56 2 15 2 11 2 39 2 32 2 -90 2 13 2 62 2 -64 2 37 2 -16 2 39 2 21 2 -11 2 40 2 -34 2 118 2 -166 2 7 2 31 2 169 2 -92 2 -72 2 31 2 -63 2 -20 2 -75 2 200 2 -174 2 3 2 8 2 -5 2 15 2 -13 2 -63 2 40 2 25 2 22 2 29 2 170 2 -198 2 11 2 77 2 4 2 -88 2 -97 2 131 2 -17 2 -14 2 -19 2 15 2 15 2 61 2 28 2 8 2 -98 2 64 2 26 2 -9 2 35 2 -135 2 88 2 21 2 -9 2 -37 2 -64 2 -15 2 -40 2 6 2 96 2 0 2 -1 2 -150 2 63 2 7 2 -104 2 37 2 63 2 105 2 -127 2 -11 2 46 2 -160 2 193 2 38 2 -35 2 40 2 -1 2 -10 2 16 2 -13 2 52 2 50 2 -24 2 -52 2 3 2 -14 2 -15 2 34 2 12 2 -105 2 104 2 -30 2 -15 2 -5 2 -10 2 2 2 -8 2 -51 2 31 2 -54 2 26 2 4 2 -40 2 -107 2 57 2 14 2 38 2 19 2 22 2 14 2 36 2 -11 2 10 2 11 2 43 2 -19 2 28 2 -54 2 -12 2 35 2 -17 2 44 2 -100 2 -7 2 22 2 2 2 -70 2 59 2 26 2 -42 2 34 2 91 2 -82 2 31 2 -73 2 -44 2 94 2 -20 2 20 2 -65 2 82 2 -33 2 -4 2 19 2 -83 2 0 2 46 2 -1 2 -48 2 24 2 -29 2 20 2 -1 2 -1 2 -121 2 117 2 7 2 75 2 -2 2 -76 2 48 2 16 2 59 2 -70 2 85 2 -63 2 -69 2 28 2 135 2 -92 2 53 2 30 2 -35 2 -23 2 35 2 -42 2 -16 2 2 2 40 2 -48 2 -78 2 35 2 0 2 -149 2 135 2 26 2 -35 2 -41 2 -11 2 53 2 -28 2 -21 2 78 2 -31 2 18 2 105 2 -88 2 -7 2 -35 2 35 2 17 2 -48 2 97 2 37 2 -146 2 -59 2 29" stroke="#00ffff"/>
<path transform="translate(134 0) scale(.1)" d="M0 9894 l2 -22 2 72 2 -23 2 -9 2 14 2 -10 2 -35 2 118 2 -15 2 -33 2 24 2 45 2 -121 2 84 2 -81 2 65 2 105 2 -40 2 -1 2 -54 2 55 2 0 2 -18 2 10 2 121 2 -46 2 -118 2 -3 2 -22 2 72 2 16 2 -36 2 28 2 -16 2 12 2 -6 2 -31 2 -38 2 26 2 -133 2 80 2 91 2 -43 2 -28 2 -13 2 -32 2 55 2 -5 2 63 2 -66 2 6 2 -125 2 128 2 -44 2 155 2 -5 2 69 2 -86 2 120 2 -77 2 108 2 -6 2 -76 2 45 2 -64 2 -36 2 -78 2 33 2 27 2 -26 2 88 2 -108 2 43 2 -51 2 4 2 -60 2 83 2 -35 2 129 2 -56 2 2 2 74 2 38 2 -34 2 -159 2 200 2 -95 2 -88 2 22 2 32 2 -42 2 7 2 40 2 45 2 39 2 -17 2 96 2 4 2 -40 2 -59 2 53 2 -88 2 -28 2 -20 2 123 2 -180 2 115 2 -23 2 27 2 45 2 -20 2 -30 2 22 2 -27 2 9 2 50 2 93 2 -25 2 151 2 -108 2 -19 2 9 2 -24 2 2 2 62 2 42 2 40 2 -31 2 -8 2 7 2 -9 2 10 2 -94 2 111 2 -11 2 2 2 -46 2 41 2 -7 2 -14 2 -35 2 37 2 23 2 47 2 70 2 -70 2 -32 2 65 2 -50 2 55 2 -35 2 31 2 -31 2 -18 2 -47 2 -30 2 101 2 153 2 -187 2 -55 2 -3 2 98 2 -8 2 22 2 21 2 47 2 -39 2 -58 2 51 2 -36 2 66 2 -50 2 -8 2 27 2 -32 2 11 2 18 2 89 2 -52 2 -5 2 51 2 -34 2 68 2 -57 2 -106 2 -29 2 14 2 69 2 -122 2 -4 2 11 2 32 2 30 2 -23 2 27 2 -14 2 95 2 -10 2 -89 2 111 2 -28 2 -59 2 102 2 72 2 -272 2 110 2 106 2 -156 2 80 2 -112 2 70 2 -25 2 89 2 -27 2 73 2 -90 2 -74 2 62 2 -75 2 47 2 17 2 21 2 -4 2 -90 2 -26 2 115 2 -116 2 53 2 138 2 -126 2 28 2 -23 2 -11 2 67 2 -112 2 129 2 -65 2 -14 2 46 2 7 2 -49 2 56 2 -9 2 60 2 -59 2 13 2 -48 2 68 2 -41 2 -17 2 3 2 20 2 2 2 111 2 -75 2 -52 2 -41 2 24 2 73 2 -81 2 -18 2 -45 2 -4 2 67 2 -46 2 46 2 -12 2 7 2 33 2 20 2 6 2 22 2 -33 2 27 2 -20 2 82 2 -6 2 -205 2 152 2 -49 2 -44 2 38 2 -173 2 156 2 92 2 -105 2 79 2 -50 2 -31 2 6 2 -137 2 163 2 -93 2 78 2 -19 2 11 2 -3 2 -73 2 99 2 -225 2 210 2 -132 2 20 2 54 2 -62 2 74 2 36 2 -14 2 7 2 -31 2 75 2 32 2 -17 2 -32 2 -39 2 166 2 -61 2 -79 2 4 2 25 2 -11 2 -105 2 123 2 47 2 49 2 -100 2 -28 2 -78 2 100 2 -53 2 -66 2 112 2 -102 2 125 2 -35 2 -42 2 -33 2 -30 2 -13 2 98 2 -69 2 12 2 -27 2 46 2 39 2 -48 2 -12 2 -5 2 -12 2 -6 2 73 2 -78 2 148 2 -53 2 100 2 -84 2 -7 2 -46 2 -18 2 74 2 59 2 -7 2 -56 2 2 2 121 2 -97 2 79 2 24 2 -33 2 22 2 -31 2 -22 2 -46 2 64 2 -33 2 -11 2 -10 2 -24 2 36 2 12 2 -5 2 2 2 230 2 -79 2 -18 2 -55 2 20 2 -47 2 -20 2 47 2 -38 2 -7 2 42 2 -8 2 -34 2 11 2 8 2 147 2 -149 2 -3 2 48 2 -28 2 23 2 8 2 -70 2 -84 2 80 2 89 2 -4 2 -54 2 3 2 3 2 111 2 -60 2 -146 2 231 2 -86 2 10 2 73 2 -100 2 36 2 -115 2 46 2 52 2 -22 2 -123 2 71 2 -87 2 235 2 -91 2 -14 2 -2 2 -71 2 64 2 -37 2 -35 2 -71 2 91 2 54 2 9 2 -9 2 -26 2 113 2 -105 2 84 2 -11 2 131 2 -143 2 6 2 -58 2 1 2 23 2 -19 2 4 2 12 2 -64 2 151 2 -30 2 -16 2 -50 2 -12 2 -26 2 152 2 -32 2 66 2 -15 2 -26 2 -42 2 -42 2 65 2 -47 2 30 2 -11 2 -1 2 -19 2 -81 2 24 2 -23 2 -28 2 -27 2 58 2 -11 2 1 2 27 2 12 2 27 2 -79 2 141 2 -135 2 -45 2 71 2 -1 2 59 2 -164 2 149 2 -71 2 -7 2 58 2 -101 2 50 2 15 2 -109 2 147 2 -44 2 -44 2 53 2 -26 2 114 2 -76 2 -3 2 46 2 72 2 -98 2 12 2 8 2 -2 2 -7 2 -66 2 21 2 171 2 -69 2 -36 2 54 2 -3 2 16 2 -254 2 88 2 -83 2 56 2 63 2 -29 2 58 2 -21 2 -77 2 22 2 9 2 -12 2 95 2 -20 2 90 2 -98 2 49 2 -43 2 -24 2 10 2 40 2 5 2 -8 2 -11 2 51 2 -67 2 -15 2 -58 2 46 2 93 2 55 2 -77 2 20 2 90 2 -62 2 -15 2 -46 2 198 2 -202 2 -5 2 26 2 -19 2 -43 2 61 2 -117 2 79 2 14 2 44 2 -72 2 -12 2 6 2 -75 2 129 2 54 2 24 2 -66 2 9 2 -38 2 -2 2 77 2 1 2 -49 2 -4 2 -95 2 67 2 -67 2 44 2 155 2 -31 2 -53 2 7 2 -81 2 59 2 70 2 -77 2 1 2 -7 2 76 2 -166 2 119 2 -76 2 -44 2 100 2 -70 2 47 2 -31 2 2 2 51 2 -22 2 -1 2 49 2 44 2 -24 2 -36 2 -2 2 -7 2 42 2 25 2 55 2 13 2 -30 2 6 2 -150 2 36 2 56 2 -19 2 -15 2 50 2 77 2 -190 2 184 2 -59 2 -71 2 85 2 -163 2 109 2 -102 2 40 2 18 2 -54 2 35 2 20 2 -109 2 57 2 116 2 -116 2 15 2 -2 2 48 2 -77 2 53 2 36 2 55 2 -68 2 -69 2 128 2 -9 2 -45 2 81 2 31 2 -99 2 53 2 -47 2 41 2 28 2 5 2 13 2 -38 2 19 2 27 2 73 2 -217 2 -16 2 50 2 40 2 -6 2 52 2 7 2 55 2 -91 2 55 2 -2 2 -10 2 12 2 -27 2 -7 2 25 2 -68 2 -43 2 22 2 42 2 -104 2 75 2 -157 2 105 2 -32 2 10 2 67 2 -1 2 146 2 -134 2 -7 2 10 2 36 2 -8 2 -18 2 63 2 -50 2 46 2 59 2 -62 2 22 2 2 2 47 2 -225 2 226 2 -65 2 -3 2 -47 2 -6 2 -2 2 41 2 71 2 -28 2 -28 2 42 2 -74 2 135 2 -105 2 -27 2 -42 2 48 2 3 2 44 2 59 2 -62 2 -11 2 -27 2 -13 2 33 2 -93 2 96 2 -124 2 129 2 93 2 -7 2 -52 2 -48 2 -33 2 -12 2 82 2 49 2 -113 2 31 2 -142 2 142 2 -35 2 53 2 -17 2 -30 2 56 2 -61 2 -47 2 71 2 -36 2 7 2 30 2 6 2 29 2 -29 2 -18 2 19 2 -78 2 74 2 -41 2 1 2 12 2 -10 2 -40 2 -11 2 36 2 11 2 78 2 -98 2 25 2 19 2 7 2 -16 2 20 2 -4 2 -53 2 65 2 27 2 -54 2 -39 2 51 2 10 2 -9 2 -55 2 77 2 -58 2 58 2 17 2 45 2 -54 2 -17 2 29 2 -217 2 197 2 -63 2 52 2 161 2 -263 2 66 2 -98 2 224 2 -119 2 40 2 77 2 -75 2 8 2 -32 2 -11 2 -44 2 51 2 -52 2 -26 2 34 2 -24 2 145 2 -52 2 22 2 -46 2 35 2 -135 2 162 2 -62 2 37 2 -62 2 -23 2 19 2 -71 2 -28 2 146 2 -244 2 120 2 -14 2 39 2 16 2 -69 2 73 2 27 2 3 2 63 2 -98 2 17 2 77 2 -195 2 59 2 228 2 -219 2 28 2 -49 2 45 2 56 2 -50 2 53 2 22 2 50 2 86 2 -119 2 126 2 -147 2 -42 2 40 2 -55 2 9 2 -55 2 118 2 -93 2 -67 2 47 2 -3 2 85 2 -16 2 -6 2 -134 2 144 2 -62 2 59 2 37 2 -130 2 66 2 38 2 -47 2 -31 2 125 2 -104 2 174 2 -137 2 52 2 -46 2 107 2 16 2 15 2 2 2 -125 2 84 2 36 2 -1 2 26 2 -82 2 -134 2 100 2 72 2 -84 2 55 2 -55 2 76 2 -197 2 48 2 66 2 14 2 -48 2 14 2 73 2 -56 2 -7 2 -28 2 45 2 -137 2 76 2 30 2 -15 2 -10 2 -49 2 -1 2 155 2 -111 2 63 2 11 2 -29 2 -34 2 -23 2 9 2 -7 2 33 2 0 2 -9 2 -25 2 87 2 20 2 -152 2 66 2 -41 2 41 2 5 2 -38 2 -7 2 105 2 -104 2 66 2 -11 2 -101 2 189 2 -43 2 -30 2 15 2 -32 2 58 2 30 2 -26 2 19 2 -19 2 -30 2 61 2 34 2 -115 2 -146 2 91 2 -45 2 -18 2 77 2 1 2 26 2 -166 2 26 2 64 2 -14 2 62 2 -37 2 78 2 1 2 -10 2 26 2 18 2 -41 2 -15 2 0 2 -13 2 14 2 -9 2 -75 2 167 2 -86 2 24 2 7 2 40 2 -1 2 12 2 -21 2 14 2 -21 2 65 2 -16 2 -92 2 25 2 -43 2 -62 2 27 2 59 2 -1 2 31 2 149 2 -202 2 71 2 -88 2 27 2 19 2 -22 2 -46 2 53 2 36 2 -48 2 -61 2 6 2 94 2 -25 2 -101 2 105 2 -53 2 99 2 142 2 -100 2 43 2 -39 2 -41 2 9 2 -2 2 -90 2 -2 2 5 2 17 2 48 2 39 2 10 2 -48 2 -44 2 25 2 -30 2 4 2 -48 2 -57 2 -30 2 128 2 -110 2 -36 2 94 2 -28 2 -68 2 32 2 3 2 10 2 150 2 -61 2 53 2 -25 2 42 2 50 2 -27 2 45 2 -39 2 37 2 -90 2 24 2 -24 2 -59 2 -25 2 212 2 -182 2 17 2 -8 2 -57 2 -61 2 30 2 172 2 -183 2 54 2 27 2 -58 2 10 2 8 2 -73 2 146 2 -107 2 -26 2 -49 2 139 2 -34 2 42 2 79 2 -56 2 76 2 -16 2 -12 2 64 2 -115 2 26 2 31 2 -73 2 -35 2 64 2 -8 2 -42 2 -10 2 138 2 -64 2 -10 2 -21 2 12 2 -33 2 -10 2 101 2 -117 2 74 2 -40 2 141 2 -90 2 39 2 -83 2 12 2 20 2 -33 2 -57 2 101 2 -26 2 45 2 8 2 -16 2 68 2 -170 2 140 2 -12 2 31 2 59 2 -85 2 -61 2 55 2 -30 2 -2 2 78 2 -90 2 77 2 16 2 -97 2 51 2 -15 2 -16 2 -73 2 8 2 -36 2 -37 2 26 2 -45 2 -22 2 75 2 -37 2 -32 2 54 2 -94 2 49 2 45 2 -63 2 67 2 108 2 -130 2 18 2 85 2 16 2 47 2 -111 2 92 2 -79 2 37 2 -55 2 104 2 -41 2 28 2 -21 2 -39 2 49 2 128 2 -86 2 -4 2 26 2 103 2 -114 2 97 2 -116 2 65 2 -117 2 6 2 -79 2 54 2 3 2 46 2 -19 2 -38 2 -47 2 -41 2 100 2 23 2 -65 2 160 2 -174 2 84 2 -106 2 34 2 -5 2 30 2 42 2 -54 2 55 2 -206 2 111 2 16 2 -15 2 39 2 -18 2 134 2 -99 2 -73 2 51 2 -37 2 2 2 160 2 -208 2 71 2 -29 2 30 2 1 2 38 2 149 2 -103 2 -31 2 29 2 17 2 11 2 83 2 -139 2 167 2 -139 2 47 2 -6 2 -39 2 -72 2 11 2 -36 2 -10 2 88 2 -19 2 -10 2 -142 2 155 2 -47 2 19 2 34 2 34 2 -81 2 62 2 -80 2 55 2 -41 2 16 2 70 2 -1 2 -13 2 -98 2 108 2 -124 2 122 2 90 2 -98 2 -23 2 30 2 -26 2 7 2 87 2 -99 2 -16 2 65 2 -40 2 -18 2 -9 2 -38 2 69 2 16 2 29 2 -48 2 21 2 40 2 -6 2 1 2 -48 2 4 2 -2 2 -72 2 75 2 9 2 65 2 -152 2 104 2 -126 2 149 2 -16 2 -1 2 123 2 -106 2 3 2 11 2 -4 2 4 2 -1 2 31 2 -26 2 53 2 -31 2 -20 2 141 2 -75 2 39 2 -71 2 97 2 -4 2 -49 2 -104 2 54 2 -5 2 -25 2 -63 2 22 2 67 2 -85 2 -59 2 180 2 -73 2 -77 2 113 2 -9 2 17 2 77 2 -105 2 -87 2 186 2 -88 2 -32 2 -15 2 121 2 -100 2 4 2 -13 2 -145 2 253 2 38 2 -94 2 54 2 0 2 -93 2 7 2 30 2 -44 2 168 2 -42 2 26 2 -132 2 -41 2 37 2 73 2 -113 2 54 2 -6 2 26 2 4 2 6 2 119 2 46 2 -176 2 55 2 7 2 -80 2 61 2 82 2 -97 2 -12 2 41 2 -56 2 57 2 37 2 -25 2 21 2 -69 2 -16 2 23 2 -29 2 61 2 -95 2 48 2 -35 2 106 2 -58 2 -109 2 124 2 -26 2 53 2 -18 2 10 2 -94 2 29 2 14 2 -68 2 -52 2 159 2 -84 2 95 2 -4 2 21 2 -10 2 136 2 -73 2 -16 2 -62 2 48 2 -29 2 -91 2 -6 2 -119 2 131 2 15 2 6 2 35 2 69 2 58 2 -26 2 22 2 -187 2 142 2 77 2 -116 2 69 2 -1 2 -49 2 57 2 -151 2 -33 2 2 2 -3 2 63 2 66 2 -15 2 36 2 31 2 -93 2 13 2 -9 2 -2 2 -37 2 98 2 -92 2 40 2 112 2 -109 2 -44 2 23 2 -47 2 -5 2 86 2 -69 2 9 2 -106 2 51 2 26 2 45 2 -36 2 133 2 20 2 -132 2 61 2 -46 2 9 2 66 2 -25 2 50 2 -59 2 25 2 -27 2 25 2 61 2 -75 2 -6 2 1 2 36 2 -26 2 65 2 37 2 39 2 -124 2 -1 2 101 2 -58 2 -63 2 34 2 -10 2 12 2 -42 2 -21 2 19 2 -59 2 4 2 12 2 21 2 -89 2 127 2 -37 2 31 2 -34 2 35 2 -85 2 31 2 -44 2 105 2 -109 2 76 2 32 2 -1 2 -55 2 -39 2 -34 2 117 2 46 2 -62 2 27 2 11 2 27 2 -29 2 -35 2 -48 2 48 2 33 2 -63 2 -21 2 7 2 96 2 -16 2 -59 2 51 2 1 2 -65 2 16 2 35 2 -44 2 57 2 -10 2 8 2 17 2 -78 2 134 2 -117 2 16 2 48 2 -72 2 35 2 -95 2 87 2 4 2 98 2 -90 2 56 2 -13 2 14 2 -68 2 68 2 -45 2 -109 2 130 2 -45 2 24 2 16 2 25 2 -30 2 113 2 -95 2 75 2 -27 2 -36 2 18 2 -19 2 20 2 -17 2 22 2 -33 2 -37 2 -7 2 -59 2 28 2 -4 2 -5 2 -6 2 -23 2 8 2 -17 2 2 2 -10 2 8 2 30 2 15 2 58 2 -116 2 19 2 7 2 95 2 -47 2 36 2 42 2 15 2 -122 2 138 2 -67 2 92 2 -56 2 18 2 -7 2 -34 2 49 2 -57 2 -48 2 4 2 -112 2 146 2 -74 2 58 2 -20 2 -49 2 2 2 61 2 56 2 44 2 -136 2 107 2 -1 2 -21 2 -111 2 2 2 28 2 22 2 -46 2 198 2 -239 2 94 2 88 2 -157 2 34 2 15 2 28 2 -35 2 8 2 -73 2 -11 2 103 2 -133 2 173 2 -118 2 -4 2 98 2 54 2 -113 2 59 2 -38 2 -75 2 136 2 -35 2 -10 2 24 2 -80 2 107 2 -153 2 136 2 -35 2 28 2 24 2 -23 2 -24 2 41 2 -19 2 -53 2 111 2 -144 2 9 2 -49 2 29 2 -28 2 38 2 -26 2 -19 2 48 2 -166 2 178 2 -22 2 -27 2 9 2 33 2 -51 2 -32 2 59 2 -69 2 -31 2 118 2 -25 2 84 2 -37 2 -69 2 43 2 17 2 -36 2 47 2 -36 2 -79 2 59 2 -143 2 144 2 32 2 -77 2 187 2 -193 2 1 2 -28 2 -25 2 163 2 -102 2 -19 2 -17 2 52 2 -65 2 150 2 -81 2 -36 2 -74 2 66 2 57 2 47 2 -44 2 20 2 -52 2 117 2 -120 2 -46 2 69 2 0 2 0 2 18 2 71 2 -26 2 6 2 121 2 -47 2 -188 2 -44 2 52 2 -63 2 23 2 -13 2 31 2 86 2 -122 2 20 2 45 2 2 2 159 2 -149 2 21 2 45 2 -12 2 -91 2 72 2 -78 2 103 2 -2 2 -36 2 29 2 -140 2 56 2 -166 2 102 2 49 2 -88 2 155 2 -13 2 -36 2 22 2 71 2 -59 2 16 2 47 2 -2 2 -39 2 27 2 -70 2 93 2 -85 2 115 2 -184 2 200 2 -69 2 -89 2 12 2 66 2 -80 2 57 2 -80 2 23 2 140 2 -158 2 -4 2 -77 2 78 2 57 2 -92 2 58 2 9 2 183 2 -170 2 18 2 -38 2 -44 2 -75 2 217 2 -46 2 -83 2 216 2 -82 2 55 2 -72 2 -65 2 56 2 -62 2 -65 2 58 2 26 2 -77 2 30 2 91 2 -56 2 -38 2 -13 2 4 2 31 2 58 2 24 2 27 2 -89 2 -15 2 97 2 -155 2 52 2 -31 2 5 2 156 2 -110 2 -84 2 70 2 21 2 -47 2 80 2 -39 2 41 2 -35 2 -1 2 53 2 -81 2 -27 2 15 2 25 2 -21 2 13 2 13 2 -38 2 43 2 76 2 -198 2 49 2 84 2 173 2 -111 2 -46 2 113 2 -134 2 -69 2 59 2 15 2 -72 2 164 2 -155 2 50 2 -37 2 -154 2 37 2 88 2 -41 2 20 2 -14 2 68 2 -3 2 -54 2 -44 2 106 2 59 2 -98 2 1 2 1 2 9 2 -53 2 36 2 40 2 21 2 -60 2 154 2 -176 2 47 2 54 2 12 2 -25 2 67 2 43 2 -102 2 26 2 -10 2 -56 2 91 2 -10 2 59 2 -105 2 37 2 -24 2 95 2 -98 2 42 2 -31 2 -79 2 9 2 11 2 -44 2 139 2 -40 2 -7 2 -19 2 135 2 -83 2 -14 2 22 2 -37 2 -67 2 -40 2 25 2 -67 2 27 2 2 2 16 2 7 2 -10 2 -15 2 -36 2 58 2 -76 2 109 2 -164 2 156 2 32 2 47 2 -59 2 59 2 -53 2 9 2 49 2 -55 2 19 2 -34 2 17 2 48 2 -40 2 106 2 -86 2 57 2 -87 2 90 2 63 2 -48 2 -51 2 6 2 11 2 57 2 -7 2 -9 2 -89 2 4 2 58 2 31 2 -69 2 -19 2 57 2 -167 2 16 2 50 2 2 2 -70 2 9 2 -85 2 -14 2 96 2 -95 2 196 2 -19 2 -108 2 38 2 14 2 -59 2 45 2 -30 2 92 2 2 2 -76 2 20 2 -94 2 153 2 -17 2 -89 2 91 2 14 2 57 2 -75 2 100 2 -40 2 -54 2 110 2 -110 2 106 2 -34 2 -46 2 37 2 45 2 -29 2 -29 2 37 2 -21 2 13 2 -49 2 -62 2 37 2 -60 2 41 2 35 2 60 2 18 2 -47 2 145 2 -130 2 15 2 17 2 -127 2 40 2 -19 2 104 2 -123 2 20 2 -25 2 17 2 -10 2 42 2 -43 2 24 2 16 2 7 2 -19 2 -5 2 33 2 -45 2 125 2 -21 2 -109 2 13 2 61 2 -81 2 22 2 14 2 -98 2 108 2 -17 2 -87 2 84 2 12 2 -37 2 60 2 1 2 27 2 21 2 -40 2 8 2 -2 2 -7 2 -26 2 223 2 -257 2 -10 2 148 2 -74 2 22 2 26 2 -90 2 54 2 -3 2 -48 2 -18 2 -53 2 -7 2 164 2 -26 2 69 2 -43 2 50 2 -129 2 39 2 52 2 69 2 -96 2 78 2 -42 2 15 2 -20 2 72 2 -48 2 33 2 -12 2 73 2 -162 2 27 2 40 2 -119 2 121 2 -68 2 -119 2 102 2 -40 2 -39 2 56 2 -129 2 133 2 -11 2 -29 2 33 2 107 2 -112 2 18 2 65 2 78 2 -46 2 -116 2 9 2 22 2 -119 2 108 2 -11 2 135 2 -161 2 78 2 -65 2 78 2 -109 2 136 2 -78 2 126 2 -114 2 -47 2 20 2 23 2 -51 2 -6 2 133 2 -111 2 -80 2 88 2 -71 2 31 2 26 2 47 2 -81 2 119 2 -39 2 111 2 -91 2 -64 2 44 2 -115 2 57 2 81 2 24 2 26 2 1 2 -125 2 15 2 -8 2 36 2 -43 2 1 2 69 2 -13 2 -41 2 -50 2 -51 2 -82 2 128 2 119 2 -72 2 -108 2 55 2 38 2 2 2 78 2 71 2 -165 2 65 2 -36 2 -98 2 11 2 52 2 -84 2 69 2 4 2 -61 2 74 2 -17 2 45 2 -75 2 -78 2 38 2 70 2 -122 2 7 2 76 2 -7 2 17 2 46 2 -73 2 21 2 -13 2 -11 2 82 2 -88 2 22 2 22 2 -5 2 -47 2 -61 2 89 2 -45 2 47 2 35 2 -21 2 0 2 48 2 -70 2 12 2 -51 2 45 2 46 2 20 2 -91 2 80 2 -50 2 9 2 9 2 27 2 -42 2 -24 2 19 2 -41 2 -80 2 149 2 -47 2 -52 2 97 2 -40 2 14 2 -73 2 8 2 125 2 -80 2 44 2 -7 2 -1 2 11 2 -16 2 -115 2 128 2 0 2 14 2 -62 2 77 2 -77 2 -31 2 21 2 12 2 24 2 -24 2 15 2 19 2 7 2 -56 2 34 2 48 2 -19 2 14 2 -93 2 67 2 36 2 -37 2 33 2 -32 2 74 2 -22 2 -30 2 11 2 -2 2 -24 2 -9 2 24 2 -53 2 133 2 -52 2 123 2 -138 2 -40 2 -78 2 83 2 5 2 70 2 -52 2 -52 2 36 2 28 2 -80 2 48 2 57 2 -224 2 104 2 -11 2 66 2 -60 2 -28 2 69 2 -49 2 38 2 91 2 -124 2 -14 2 -11 2 23 2 -45 2 65 2 -66 2 159 2 -91 2 -41 2 14 2 -53 2 57 2 -15 2 69 2 -54 2 74 2 -10 2 155 2 -164 2 17 2 -3 2 -15 2 31 2 -11 2 39 2 20 2 -28 2 84 2 61 2 -27 2 6 2 -12 2 -26 2 -63 2 29 2 -36 2 22 2 54 2 -63 2 -1 2 -30 2 4 2 30 2 -98 2 8 2 -11 2 -65 2 8 2 -114 2 171 2 -101 2 -38 2 22 2 55 2 17 2 6 2 -53 2 33 2 64 2 49 2 -33 2 38 2 -36 2 18 2 -10 2 1 2 2 2 -1 2 84 2 -88 2 23 2 -123 2 99 2 21 2 -28 2 125 2 -30 2 -80 2 28 2 4 2 30 2 35 2 21 2 -21 2 -36 2 -21 2 60 2 -23 2 -3 2 50 2 -50 2 23 2 -164 2 90 2 -5 2 64 2 -57 2 -79 2 39 2 42 2 17 2 -56 2 46 2 -36 2 -60 2 126 2 -62 2 65 2 -60 2 -20 2 86 2 -56 2 42 2 9 2 15 2 141 2 37 2 -269 2 116 2 -7 2 54 2 -132 2 50 2 63 2 -55 2 -6 2 -7 2 -5 2 12 2 -15 2 16 2 -59 2 52 2 7 2 8 2 56 2 -43 2 -20 2 -32 2 -9 2 18 2 7 2 -14 2 94 2 -125 2 18 2 -81 2 63 2 44 2 -37 2 110 2 -23 2 -71 2 62 2 65 2 -48 2 -92 2 41 2 21 2 -34 2 -89 2 34 2 31 2 140 2 -117 2 -169 2 217 2 -154 2 -48 2 76 2 22 2 55 2 101 2 4 2 29 2 -88 2 96 2 -8 2 -36 2 37 2 -15 2 -58 2 37 2 51 2 -76 2 127 2 -10 2 47 2 -98 2 -40 2 18 2 -130 2 -42 2 175 2 -7 2 -1 2 -105 2 94 2 -28 2 63 2 -110 2 37 2 44 2 -68 2 12 2 0 2 -49 2 41 2 -65 2 36 2 -60 2 42 2 -46 2 104 2 1 2 66 2 -85 2 -44 2 80 2 -50 2 13 2 -34 2 -8 2 -38 2 163 2 -211 2 75 2 3 2 42 2 -79 2 69 2 -60 2 26 2 11 2 111 2 -27 2 -4 2 13 2 36 2 -151 2 -69 2 77 2 -42 2 13 2 27 2 -13 2 68 2 -69 2 159 2 -16 2 35 2 1 2 -94 2 34 2 34 2 -79 2 70 2 -19 2 64 2 -94 2 -40 2 106 2 -9 2 -12 2 20 2 27 2 28 2 15 2 -42 2 -93 2 -107 2 36 2 49 2 26 2 16 2 -23 2 -90 2 -5 2 184 2 -163 2 40 2 36 2 40 2 121 2 -206 2 117 2 -64 2 -48 2 12 2 30 2 -16 2 36 2 -22 2 69 2 -45 2 6 2 56 2 -21 2 31 2 -47 2 -15 2 -50 2 -76 2 121 2 -39 2 46 2 -21 2 -21 2 38 2 -20 2 -22 2 -27 2 -62 2 -11 2 108 2 -7 2 221 2 -164 2 -89 2 57 2 -25 2 79 2 138 2 -189 2 54 2 -36 2 -46 2 30 2 6 2 -56 2 9 2 64 2 -39 2 70 2 -142 2 89 2 -52 2 56 2 -8 2 -73 2 90 2 -86 2 -17 2 4 2 17 2 -66 2 -7 2 75 2 -56 2 1 2 86 2 -54 2 -131 2 203 2 -98 2 48 2 8 2 1 2 0 2 58 2 -3 2 56 2 -112 2 50 2 -17 2 -25 2 23 2 -68 2 52 2 59 2 -10 2 52 2 -65 2 -97 2 109 2 -18 2 -81 2 53 2 1 2 -7 2 -156 2 103 2 15 2 -47 2 111 2 -28 2 5 2 -30 2 108 2 -66 2 56 2 -133 2 -9 2 154 2 -94 2 6 2 -20 2 44 2 -51 2 -16 2 49 2 -50 2 -29 2 44 2 53 2 -75 2 48 2 39 2 -62 2 98 2 -38 2 0 2 -37 2 35 2 36 2 63 2 -67 2 -173 2 48 2 168 2 -153 2 30 2 -143 2 98 2 25 2 -108 2 9 2 6 2 26 2 -21 2 -27 2 -25 2 43 2 -59 2 -16 2 81 2 -38 2 63 2 -24 2 -22 2 11 2 -51 2 -17 2 45 2 51 2 -37 2 56 2 91 2 -60 2 -39 2 69 2 -12 2 70 2 1 2 -22 2 62 2 15 2 -70 2 46 2 -57 2 21 2 -28 2 136 2 0 2 -104 2 -99 2 -34 2 57 2 -31 2 24 2 -29 2 122 2 -78 2 -90 2 87 2 -169 2 242 2 -119 2 -4 2 -28 2 -46 2 5 2 174 2 -217 2 60 2 -59 2 54 2 -51 2 28 2 62 2 -12 2 -35 2 -9 2 106 2 15 2 3 2 -61 2 23 2 -7 2 -23 2 52 2 -53 2 50 2 -32 2 7 2 54 2 -5 2 141 2 -28 2 -74 2 -60 2 -81 2 84 2 -29 2 3 2 -5 2 -20 2 134 2 -119 2 2 2 15 2 -14 2 62 2 -57 2 29 2 -3 2 -24 2 11 2 -12 2 -39 2 1 2 4 2 12 2 198 2 -113 2 -104 2 90 2 -37 2 -18 2 31 2 22 2 19 2 149 2 -208 2 101 2 -168 2 58 2 93 2 -65 2 -37 2 45 2 -88 2 46 2 87 2 -136 2 30 2 -16 2 11 2 50 2 -18 2 12 2 83 2 -56 2 -122 2 11 2 95 2 8 2 -6 2 43 2 -45 2 -147 2 80 2 134 2 -32 2 -92 2 88 2 27 2 -50 2 24 2 -51 2 51 2 -19 2 -30 2 119 2 -33 2 -166 2 24 2 26 2 111 2 -52 2 23 2 -60 2 -19 2 85 2 -124 2 57 2 56 2 49 2 -106 2 74 2 -27 2 -47 2 58 2 -25 2 3 2 -120 2 73 2 54 2 -45 2 49 2 -91 2 64 2 -31 2 100 2 -65 2 61 2 -52 2 -95 2 -17 2 13 2 -37 2 77 2 10 2 113 2 -114 2 71 2 76 2 -51 2 64 2 -73 2 -25 2 -31 2 55 2 -8 2 68 2 11 2 -60 2 -10 2 -17 2 30 2 -63 2 23 2 27 2 -18 2 19 2 -100 2 -14 2 73 2 -13 2 167 2 -114 2 -121 2 111 2 -78 2 96 2 -23 2 61 2 -8 2 -61 2 9 2 77 2 -29 2 -45 2 -62 2 -70 2 187 2 -146 2 29 2 -11 2 -23 2 31 2 -49 2 -4 2 34 2 -11 2 66 2 -45 2 102 2 0 2 -62 2 12 2 112 2 -58 2 -11 2 1 2 14 2 107 2 -82 2 -56 2 32 2 50 2 -19 2 31 2 -24 2 5 2 28 2 -65 2 49 2 -67 2 46 2 -129 2 151 2 -51 2 -51 2 20 2 44 2 38 2 -201 2 97 2 43 2 -57 2 58 2 -12 2 55 2 -4 2 -14 2 -76 2 81 2 -44 2 -37 2 49 2 53 2 2 2 -113 2 33 2 97 2 -56 2 136 2 -93 2 67 2 -13 2 -23 2 -61 2 13 2 -33 2 117 2 -112 2 27 2 63 2 -24 2 19 2 64 2 -67 2 46 2 -101 2 48 2 -102 2 47 2 1 2 -63 2 186 2 -191 2 19 2 47 2 58 2 -91 2 17 2 -28 2 69 2 -64 2 -19 2 31 2 2 2 -45 2 8 2 36 2 -70 2 25 2 82 2 -122 2 44 2 -7 2 34 2 53 2 2 2 -11 2 -41 2 4 2 38 2 64 2 -4 2 -50 2 13 2 -35 2 98 2 -35 2 2 2 -35 2 -55 2 89 2 -12 2 102 2 -126 2 60 2 -33 2 73 2 -45 2 -4 2 -37 2 49 2 -85 2 115 2 -95 2 -13 2 8 2 -15 2 -19 2 -17 2 73 2 -85 2 -18 2 46 2 -35 2 87 2 -8 2 -17 2 -41 2 96 2 -72 2 24 2 85 2 -46 2 36 2 -89 2 -44 2 2 2 42 2 27 2 -3 2 -37 2 20 2 4 2 7 2 -109 2 60 2 68 2 -128 2 73 2 44 2 33 2 -5 2 -34 2 -41 2 52 2 -16 2 108 2 -94 2 -50 2 68 2 -50 2 11 2 -11 2 107 2 -31 2 -68 2 -53 2 50 2 23 2 9 2 0 2 -18 2 83 2 2 2 80 2 -222 2 110 2 -30 2 80 2 -80 2 55 2 -82 2 -20 2 112 2 4 2 -47 2 38 2 -44 2 71 2 -14 2 -66 2 22 2 -33 2 -97 2 56 2 -19 2 -35 2 120 2 -113 2 -69 2 -58 2 83 2 -18 2 64 2 -20 2 0 2 12 2 -46 2 82 2 -108 2 79 2 20 2 -37 2 52 2 137 2 -148 2 64 2 30 2 46 2 -137 2 117 2 -65 2 40 2 42 2 -42 2 68 2 -1 2 7 2 -12 2 52 2 -30 2 -29 2 -11 2 -56 2 91 2 -104 2 -11 2 18 2 27 2 -84 2 -34 2 -16 2 81 2 -123 2 41 2 -59 2 -3 2 -25 2 40 2 159 2 -100 2 -39 2 47 2 26 2 -15 2 29 2 -36 2 -4 2 77 2 6 2 -43 2 -63 2 89 2 -42 2 30 2 -74 2 -17 2 85 2 -54 2 67 2 75 2 -28 2 5 2 -50 2 43 2 -70 2 24 2 114 2 -97 2 73 2 -119 2 64 2 41 2 -45 2 34 2 32 2 15 2 -76 2 9 2 -29 2 -41 2 55 2 13 2 -52 2 71 2 -54 2 -7 2 -16 2 69 2 -24 2 -42 2 0 2 12 2 58 2 -32 2 16 2 -18 2 -96 2 34 2 42 2 -80 2 43 2 40 2 -27 2 -11 2 -14 2 43 2 29 2 -159 2 64 2 -100 2 85 2 58 2 51 2 -26 2 -87 2 -37 2 55 2 32 2 -102 2 138 2 -4 2 -26 2 22 2 11 2 48 2 -9 2 -12 2 -13 2 -38 2 -9 2 15 2 24 2 -18 2 29 2 -59 2 72 2 -29 2 -22 2 9 2 28 2 -50 2 50 2 -82 2 33 2 12 2 11 2 12 2 28 2 -52 2 17 2 42 2 -8 2 -53 2 21 2 44 2 -43 2 42 2 -55 2 99 2 -45 2 128 2 -123 2 -3 2 -56 2 51 2 -15 2 -14 2 60 2 -95 2 38 2 -54 2 15 2 -62 2 124 2 -6 2 -12 2 -69 2 43 2 -71 2 5 2 95 2 -132 2 193 2 12 2 3 2 -38 2 -45 2 -83 2 167 2 -101 2 22 2 5 2 -117 2 72 2 2 2 -86 2 93 2 -37 2 85 2 34 2 -156 2 59 2 20 2 -5 2 98 2 -100 2 -67 2 -97 2 141 2 -64 2 40 2 4 2 65 2 75 2 -59 2 -1 2 -52 2 6 2 118 2 -27 2 -21 2 -31 2 21 2 31 2 12 2 -22 2 6 2 22 2 -66 2 49 2 -108 2 31 2 43 2 -35 2 -35 2 128 2 -127 2 -64 2 116 2 10 2 66 2 -102 2 -29 2 -7 2 3 2 2 2 7 2 -65 2 23 2 3 2 -60 2 170 2 -53 2 8 2 -95 2 109 2 38 2 -40 2 21 2 34 2 -18 2 -5 2 159 2 -194 2 55 2 -146 2 56 2 7 2 -18 2 86 2 -56 2 59 2 -130 2 90 2 -14 2 -12 2 -13 2 -3 2 -9 2 -44 2 -5 2 -108 2 34 2 189 2 -13 2 -19 2 13 2 21 2 -79 2 -11 2 27 2 222 2 -107 2 -88 2 52 2 -38 2 14 2 14 2 53 2 -92 2 78 2 -159 2 17 2 132 2 -45 2 8 2 10 2 -6 2 -66 2 -14 2 -104 2 -24 2 114 2 44 2 -61 2 109 2 -17 2 -32 2 27 2 -31 2 50 2 -34 2 -93 2 78 2 45 2 -9 2 32 2 -47 2 -26 2 4 2 -29 2 18 2 24 2 -36 2 48 2 10 2 -146 2 18 2 114 2 -194 2 196 2 71 2 -80 2 -53 2 58 2 -47 2 -28 2 44 2 -19 2 10 2 27 2 -103 2 27 2 -3 2 53 2 10 2 43 2 -34 2 -24 2 -44 2 42 2 4 2 -83 2 11 2 -140 2 31 2 -24 2 150 2 -111 2 26 2 92 2 -59 2 46 2 -16 2 10 2 84 2 -31 2 18 2 -7 2 37 2 -70 2 6 2 113 2 -45 2 32 2 3 2 -34 2 49 2 -75 2 -55 2 16 2 -86 2 137 2 15 2 23 2 -123 2 99 2 -21 2 12 2 -49 2 -18 2 -29 2 45 2 7 2 30 2 19 2 -83 2 3 2 -10 2 73 2 -27 2 28 2 -6 2 43 2 77 2 -162 2 -204 2 188 2 -106 2 112 2 -102 2 52 2 6 2 -35 2 28 2 -25 2 89 2 -96 2 -16 2 37 2 2 2 74 2 -76 2 -9 2 89 2 23 2 -136 2 140 2 -150 2 136 2 -25 2 -76 2 41 2 1 2 162 2 18 2 -12 2 -104 2 4 2 83 2 14 2 -39 2 -9 2 -62 2 -51 2 91 2 -86 2 57 2 36 2 -90 2 -52 2 -21 2 5 2 52 2 -86 2 151 2 -80 2 -36 2 -16 2 13 2 -68 2 22 2 -70 2 121 2 -63 2 128 2 -32 2 -73 2 29 2 -5 2 171 2 -124 2 111 2 -60 2 -1 2 -15 2 130 2 -147 2 77 2 -129 2 -24 2 131 2 -16 2 91 2 42 2 -67 2 -46 2 4 2 -86 2 120 2 72 2 -58 2 -16 2 26 2 26 2 -26 2 -62 2 -52 2 126 2 -78 2 -12 2 22 2 113 2 -124 2 -17 2 -52 2 73 2 -26 2 89 2 -77 2 75 2 -21 2 -7 2 22 2 48 2 -95 2 37 2 -100 2 31 2 -1 2 100 2 -110 2 -10 2 -25 2 7 2 91 2 -39 2 6 2 2 2 -48 2 -105 2 115 2 -12 2 33 2 1 2 55 2 -66 2 51 2 -3 2 -46 2 -11 2 118 2 -2 2 -91 2 32 2 -82 2 124 2 -31 2 15 2 142 2 -74 2 83 2 -192 2 60 2 -13 2 -68 2 78 2 -15 2 39 2 8 2 62 2 -93 2 95 2 -77 2 8 2 21 2 -85 2 74 2 -14 2 31 2 -62 2 23 2 -26 2 11 2 4 2 37 2 -69 2 -19 2 57 2 40 2 -63 2 49 2 19 2 29 2 -41 2 -24 2 -2 2 50 2 -35 2 45 2 -57 2 104 2 -80 2 -49 2 -13 2 34 2 138 2 -196 2 149 2 -172 2 88 2 -15 2 10 2 -27 2 -3 2 44 2 29 2 -70 2 -43 2 23 2 16 2 102 2 -126 2 -5 2 22 2 60 2 -102 2 73 2 -61 2 36 2 -86 2 64 2 -5 2 -59 2 44 2 2 2 90 2 -146 2 8 2 131 2 -33 2 37 2 -40 2 19 2 -1 2 -8 2 38 2 -50 2 12 2 27 2 -6 2 -59 2 63 2 -27 2 40 2 7 2 8 2 -17 2 61 2 -10 2 -38 2 -15 2 -43 2 -18 2 -20 2 -38 2 6 2 108 2 -129 2 10 2 94 2 -66 2 39 2 33 2 -31 2 16 2 -11 2 47 2 26 2 -33 2 -24 2 52 2 -26 2 5 2 15 2 27 2 15 2 75 2 -42 2 -50 2 87 2 -1 2 -138 2 31 2 -35 2 34 2 -12 2 -12 2 -57 2 -12 2 43 2 -17 2 -97 2 96 2 -55 2 79 2 -72 2 76 2 27 2 34 2 -72 2 -40 2 -86 2 79 2 60 2 -7 2 -2 2 45 2 7 2 -77 2 -19 2 90 2 -31 2 13 2 36 2 -61 2 9 2 20 2 38 2 -46 2 -46 2 54 2 7 2 -34 2 59 2 -50 2 -19 2 22 2 67 2 -53 2 2 2 -9 2 52 2 -57 2 67 2 12 2 -46 2 8 2 85 2 -138 2 28 2 -94 2 108 2 -18 2 86 2 -64 2 -56 2 -71 2 -29 2 -26 2 37 2 -47 2 71 2 50 2 -24 2 -25 2 8 2 80 2 -25 2 41 2 -85 2 76 2 -38 2 28 2 14 2 -78 2 80 2 -83 2 5 2 90 2 -48 2 51 2 -39 2 14 2 30 2 17 2 47 2 -122 2 -5 2 -36 2 51 2 -42 2 138 2 -138 2 -21 2 28 2 -113 2 139 2 27 2 -7 2 24 2 -93 2 33 2 -29 2 32 2 18 2 3 2 65 2 -1 2 -74 2 -8 2 122 2 -119 2 202 2 -187 2 -57 2 62 2 19 2 -12 2 35 2 18 2 75 2 -45 2 -44 2 -20 2 -11 2 -29 2 8 2 118 2 81 2 -82 2 -193 2 121 2 3 2 -22 2 13 2 34 2 15 2 -33 2 -111 2 85 2 32 2 -116 2 14 2 -17 2 -73 2 45 2 73 2 -63 2 -43 2 -80 2 80 2 24 2 31 2 -24 2 32 2 107 2 -87 2 57 2 2 2 42 2 39 2 -100 2 -27 2 57 2 -15 2 8 2 38 2 -45 2 62 2 10 2 -104 2 130 2 -288 2 155 2 69 2 14 2 -13 2 -25 2 37 2 -52 2 62 2 14 2 -73 2 158 2 -196 2 21 2 7 2 17 2 -51 2 75 2 15 2 -89 2 -104 2 -31 2 87 2 -56 2 57 2 44 2 -72 2 77 2 136 2 -200 2 41 2 10 2 6 2 218" stroke="#9400d3"/>
</g>
<path d="M134 689.9h20M134 779.91h20M134 869.93h20M134 959.94h20M134 1049.96h20M134 1139.97h20M134 1229.99h20M134 734.91h10M134 824.92h10M134 914.94h10M134 1004.95h10M134 1094.97h10M134 1184.98h10M134 1275h10M134 1290v-20M217.66 1290v-20M301.32 1290v-20M384.98 1290v-20M468.64 1290v-20M552.3 1290v-20M635.96 1290v-20M719.62 1290v-20M803.28 1290v-20M886.94 1290v-20M970.6 1290v-20" stroke="#1a1a1a" stroke-width="1.5" fill="none"/>
<rect x="134" y="689.9" width="836.6" height="600.1" fill="none" stroke="#151515" stroke-width="1.7"/>
<text x="124.9" y="699.2" text-anchor="end" class="t" textLength="26.88" lengthAdjust="spacingAndGlyphs">30</text>
<text x="124.9" y="789.21" text-anchor="end" class="t" textLength="26.88" lengthAdjust="spacingAndGlyphs">27</text>
<text x="124.9" y="879.23" text-anchor="end" class="t" textLength="26.88" lengthAdjust="spacingAndGlyphs">24</text>
<text x="124.9" y="969.24" text-anchor="end" class="t" textLength="26.88" lengthAdjust="spacingAndGlyphs">21</text>
<text x="124.9" y="1059.26" text-anchor="end" class="t" textLength="26.88" lengthAdjust="spacingAndGlyphs">18</text>
<text x="124.9" y="1149.27" text-anchor="end" class="t" textLength="26.88" lengthAdjust="spacingAndGlyphs">15</text>
<text x="124.9" y="1239.29" text-anchor="end" class="t" textLength="26.88" lengthAdjust="spacingAndGlyphs">12</text>
<text x="134" y="1319.6" text-anchor="middle" class="t">0</text>
<text x="217.66" y="1319.6" text-anchor="middle" class="t" textLength="26.88" lengthAdjust="spacingAndGlyphs">10</text>
<text x="301.32" y="1319.6" text-anchor="middle" class="t" textLength="26.88" lengthAdjust="spacingAndGlyphs">20</text>
<text x="384.98" y="1319.6" text-anchor="middle" class="t" textLength="26.88" lengthAdjust="spacingAndGlyphs">30</text>
<text x="468.64" y="1319.6" text-anchor="middle" class="t" textLength="26.88" lengthAdjust="spacingAndGlyphs">40</text>
<text x="552.3" y="1319.6" text-anchor="middle" class="t" textLength="26.88" lengthAdjust="spacingAndGlyphs">50</text>
<text x="635.96" y="1319.6" text-anchor="middle" class="t" textLength="26.88" lengthAdjust="spacingAndGlyphs">60</text>
<text x="719.62" y="1319.6" text-anchor="middle" class="t" textLength="26.88" lengthAdjust="spacingAndGlyphs">70</text>
<text x="803.28" y="1319.6" text-anchor="middle" class="t" textLength="26.88" lengthAdjust="spacingAndGlyphs">80</text>
<text x="886.94" y="1319.6" text-anchor="middle" class="t" textLength="26.88" lengthAdjust="spacingAndGlyphs">90</text>
<text x="970.6" y="1319.6" text-anchor="middle" class="t" textLength="40.33" lengthAdjust="spacingAndGlyphs">100</text>
<text x="552.3" y="1347.1" text-anchor="middle" class="l">Time (ns)</text>
<text transform="translate(81.4 989.95) rotate(-90)" text-anchor="middle" class="l">Rg (&#197;)</text>
<text x="3.6" y="741.2" class="p">B</text>
<path d="M590.7 728H613.3" stroke="#000000" stroke-width="3.5"/>
<text x="631.5" y="737.2" class="l" textLength="179.8" lengthAdjust="spacing">TauR2 in 6CVN</text>
<path d="M590.7 756.5H613.3" stroke="#ffa500" stroke-width="3.5"/>
<text x="631.5" y="765.6" class="l" textLength="193.8" lengthAdjust="spacing">TauR2 in 6CVN*</text>
<path d="M590.7 788.8H613.3" stroke="#008b00" stroke-width="3.5"/>
<text x="631.5" y="796.5" class="l" textLength="190" lengthAdjust="spacing">TauR2 in &#946;I/&#945;/&#946;I</text>
<path d="M590.7 825.5H613.3" stroke="#00ffff" stroke-width="3.5"/>
<text x="631.5" y="832.4" class="l" textLength="235" lengthAdjust="spacing">TauR2 in &#946;IIb/&#945;/&#946;IIb</text>
<path d="M590.7 861.3H613.3" stroke="#9400d3" stroke-width="3.5"/>
<text x="631.5" y="868.3" class="l" textLength="226.8" lengthAdjust="spacing">TauR2 in &#946;III/&#945;/&#946;III</text>
</svg>
</body></html>
